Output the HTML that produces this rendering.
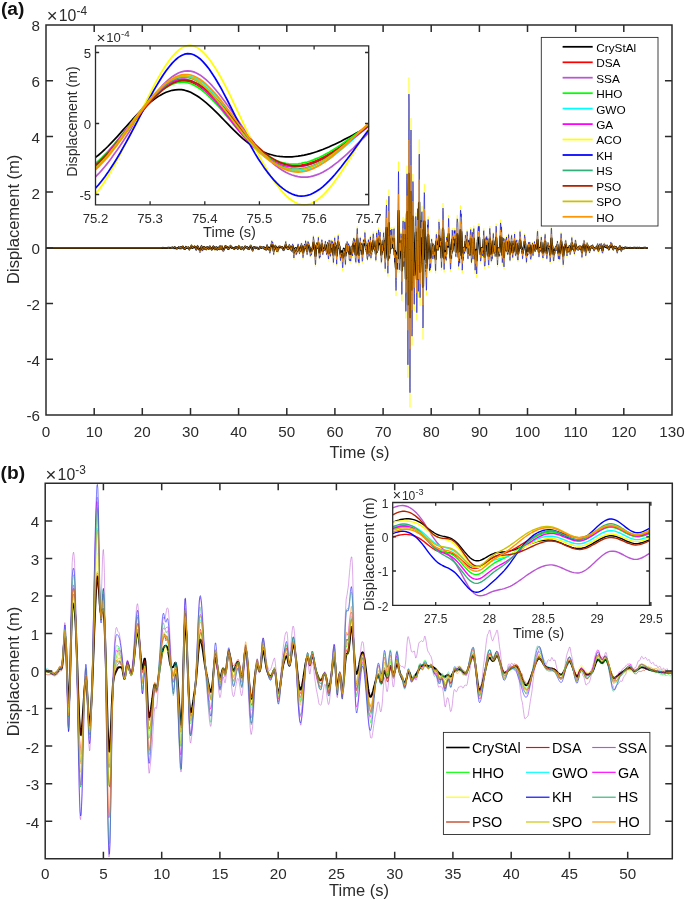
<!DOCTYPE html>
<html lang="en"><head><meta charset="utf-8"><title>Displacement responses</title>
<style>html,body{margin:0;padding:0;background:#fff}svg{display:block;will-change:transform}text{font-family:"Liberation Sans",sans-serif}</style></head>
<body>
<svg width="685" height="900" viewBox="0 0 685 900" font-family='"Liberation Sans", sans-serif'>
<rect width="685" height="900" fill="#fff"/>

<g id="pa-curves" fill="none" stroke-width="0.7" stroke-linejoin="round">
<path d="M46.0 247.9L161.6 247.9l.2 0 .2 0 .1 0 .2 0 .2-.1 .2 0 .2 0 .2 0 .2 0 .2 .1 .2 .1 .2 0 .2 0 .2-.1 .2 0 .2 0 .1 .1 .2 0 .2 0 .2-.1 .2 0 .2 0 .2 0 .2 0 .2 0 .2 .1 .2 0 .2 .1 .2-.1 .1 0 .2-.1 .2-.2 .2 0 .2 0 .2 .1 .2-.1 .2-.1 .2-.1 .2 .1 .2 .2 .2 .3 .2 .2 .2 .2 .1 0 .2-.1 .2-.1 .2-.1 .2-.2 .2-.3 .2-.1 .2 0 .2 0 .2-.1 .2-.2 .2-.1 .2-.2 .1-.1 .2 .3 .2 .3 .2 .4 .2 .4 .2 .1 .2 .1 .2 .1 .2-.4 .2-.4 .2-.7 .2-.5 .2 0 .2 .2 .1 .4 .2 .6 .2 .4 .2 .4 .2 0 .2 .2 .2 .1 .2 .3 .2 0 .2-.2 .2 0 .2-.2 .2-.1 .1-.3 .2-.3 .2-.2 .2-.5 .2-.5 .2-.3 .2-.1 .2 .2 .2 .1 .2 .5 .2 1 .2 .5 .2 0 .2-.7 .1-.3 .2-1 .2-.4 .2 .9 .2 1.5 .2-.1 .2-.8 .2 .1 .2-.5 .2-1.1 .2-.5 .2-.3 .2-.3 .1 .3 .2 .6 .2 .9 .2 .3 .2 .9 .2 .4 .2 .7 .2 .6 .2-.5 .2-.6 .2 .1 .2 .4 .2 .1 .2-.9 .1-.9 .2-1 .2-1 .2 .3 .2 1.4 .2 .6 .2-.5 .2 .2 .2 0 .2-.2 .2-.1 .2 .5 .2-.6 .2-.1 .1-.4 .2 .9 .2 .7 .2 .7 .2 .7 .2 1 .2-1 .2-.4 .2-.3 .2-.7 .2-.2 .2-.6 .2-.4 .1-1.3 .2-.8 .2-.4 .2-.5 .2 .1 .2 .4 .2 1.4 .2 1.8 .2 .1 .2 .1 .2-1.3 .2 .1 .2 .2 .2-.6 .1-.2 .2-.5 .2 .3 .2 .2 .2-.1 .2-.7 .2-.2 .2 .2 .2 .7 .2 .6 .2 .7 .2 .7 .2 1.6 .1 .8 .2 .4 .2-.2 .2-.8 .2-1.5 .2-1.3 .2-1.5 .2-.8 .2-.1 .2 .7 .2 .7 .2 .4 .2 .5 .2 1.9 .1 .5 .2 .3 .2 .3 .2 .3 .2 1.8 .2 .8 .2 0 .2 0 .2 0 .2-.6 .2-.9 .2-2.3 .2-1.9 .1-1.4 .2-.9 .2-.1 .2 1.4 .2 2.1 .2 1.5 .2 1.3 .2 .2 .2-1 .2-.9 .2-1.1 .2-.2 .2 0 .2-1.3 .1-.7 .2 0 .2 0 .2 1.3 .2 .9 .2 1.3 .2-.3 .2-.3 .2-1 .2-.3 .2 .1 .2 1 .2 1.7 .1-.4 .2-1.1 .2-1.7 .2-.9 .2-.1 .2 .3 .2 .5 .2 .5 .2 .4 .2 .4 .2 1 .2 .6 .2-.4 .2-.8 .1-1.4 .2-1.1 .2-.4 .2-.6 .2-.3 .2 .5 .2 1.3 .2 1.5 .2 0 .2 .3 .2 .6 .2 1.1 .2 .3 .1-.1 .2 .2 .2 .1 .2-.9 .2-.9 .2-.6 .2-1.1 .2-1.3 .2-.7 .2-.3 .2 .5 .2 .5 .2 0 .2 1.4 .1 1.5 .2 1.3 .2-.2 .2 .3 .2 .2 .2-.6 .2-1.3 .2-1.4 .2 0 .2 0 .2 .2 .2-.8 .2 .7 .1 1.6 .2 1.4 .2 .6 .2-.3 .2-1.1 .2-.7 .2-1 .2-.4 .2-.2 .2 .8 .2 1.4 .2 .5 .2 .3 .2-.9 .1-1.3 .2-.8 .2-2.1 .2-.2 .2 .7 .2 1.8 .2 1.2 .2 .8 .2-.6 .2-1.1 .2-.8 .2-1.2 .2-.6 .2 1.5 .1 2.4 .2 1.5 .2 1 .2 .1 .2 .2 .2 0 .2-.1 .2 .1 .2-.3 .2-.8 .2-1.5 .2-.2 .2-.5 .1-1.4 .2-1.5 .2-.5 .2-.4 .2 .4 .2 .6 .2-.2 .2-.2 .2 0 .2 .8 .2 .1 .2-.4 .2 .3 .2 1 .1 .9 .2 .6 .2 .8 .2 .4 .2-.6 .2-.3 .2 0 .2 .5 .2-.2 .2-1.6 .2-2.1 .2 .7 .2 .4 .1-.8 .2-.7 .2-.2 .2-.1 .2 0 .2 0 .2 .2 .2 .4 .2 1.9 .2 1.1 .2 0 .2 0 .2 0 .2-.4 .1-.3 .2 .3 .2 .2 .2 0 .2 .3 .2 .3 .2 .7 .2 0 .2 .1 .2 .1 .2-.5 .2-.2 .2-.8 .1-.6 .2-.9 .2-.7 .2 0 .2 .4 .2 .1 .2 0 .2-.2 .2 .1 .2 .4 .2 1.2 .2 .9 .2 .7 .2 .2 .1-.4 .2-1.1 .2-1.1 .2-1 .2-.8 .2-.6 .2 0 .2 .3 .2 .7 .2 .8 .2 .9 .2 0 .2-.5 .1-.2 .2 .8 .2 1.1 .2 1.2 .2 .3 .2-.1 .2-1.1 .2-1 .2-1 .2-.6 .2 .3 .2 1.1 .2 .4 .2-.6 .1-.1 .2 1.4 .2 1.3 .2 .5 .2-.5 .2-1.7 .2-1.3 .2 .2 .2 .3 .2-1.3 .2-1.2 .2 .1 .2 .1 .1 .2 .2 .8 .2 .3 .2 0 .2-.1 .2 .3 .2 .4 .2 .3 .2-.7 .2-.5 .2 .4 .2 1 .2 1.1 .2 .7 .1 .2 .2-.5 .2 .2 .2 .4 .2 .2 .2-.7 .2-1.1 .2-.8 .2-1.1 .2-.8 .2-.7 .2-.4 .2 .2 .2-.3 .1 0 .2 .4 .2 .7 .2 1.3 .2 2 .2 1.6 .2 .5 .2 .3 .2 .5 .2 .2 .2-.4 .2-1.1 .2-1.3 .1-1.4 .2-.8 .2-.4 .2-.2 .2 .4 .2-.2 .2 .1 .2-.2 .2 .1 .2 1 .2 .4 .2 .2 .2 .5 .2-.2 .1-.4 .2 .2 .2-.3 .2-.5 .2-.4 .2 .2 .2 .8 .2 .6 .2 .6 .2 0 .2 .3 .2 .3 .2 .1 .1-.2 .2-.4 .2 .1 .2 .2 .2-.6 .2-1.5 .2-1.6 .2-.4 .2 .4 .2 .2 .2 .1 .2 .1 .2 .2 .2 .4 .1 .6 .2 .5 .2 0 .2-1 .2 0 .2 .2 .2 0 .2 0 .2-.3 .2 0 .2 .2 .2 0 .2-.6 .1-.2 .2 .6 .2 1.5 .2 1.4 .2 .2 .2-.5 .2-.6 .2-.6 .2 .5 .2 .6 .2 .9 .2 .6 .2 0 .2-.2 .1-1.5 .2-2.5 .2-2.2 .2-.8 .2 .9 .2 1.2 .2 .6 .2 1.7 .2 1.1 .2 1.2 .2-.3 .2-.7 .2-1 .1-.6 .2 .9 .2 1.4 .2 1.8 .2 1.8 .2 0 .2-1.7 .2-3.5 .2-2.7 .2-.9 .2-.4 .2-1 .2-1.5 .2-1.5 .1-.4 .2 .1 .2 .6 .2 1.6 .2-.3 .2-.6 .2 1.2 .2 3.6 .2 3 .2 4.1 .2 1.8 .2-1.8 .2-3.9 .1-1.4 .2-.3 .2 1.2 .2-1.3 .2-3 .2-.1 .2 0 .2 .2 .2 .4 .2 .8 .2 1.9 .2 2.5 .2 1.8 .2-1.1 .1-2.2 .2-1.3 .2 1 .2 1.6 .2 2.1 .2 .3 .2-1.3 .2-.7 .2-1.1 .2-1.8 .2-1.8 .2-.5 .2 .3 .1-.2 .2 .2 .2 .1 .2 .3 .2-.6 .2 .4 .2 .7 .2-.2 .2 .3 .2 .3 .2 .2 .2-.4 .2 .1 .2-.6 .1-.2 .2 .2 .2 .3 .2 2.1 .2 1.7 .2 .5 .2-.4 .2 .5 .2-.2 .2-.1 .2 .4 .2-.9 .2-1.7 .2-1.5 .1-.8 .2-1.1 .2-1 .2-1.6 .2-1.4 .2-.5 .2 1.3 .2 1.9 .2 1.9 .2 0 .2 .4 .2 .1 .2 0 .1 1.7 .2 1.9 .2-.6 .2-.9 .2-.3 .2 .3 .2 1.1 .2-.2 .2-1.6 .2-2.3 .2-1.7 .2 1.3 .2 .8 .2-.6 .1-.1 .2 2.2 .2 1.8 .2 1.1 .2 .6 .2-1.3 .2-1.9 .2 2 .2 2.4 .2-2.2 .2-4.1 .2-.4 .2-.5 .1-.8 .2-.6 .2 .9 .2 2.8 .2 2.5 .2 5.5 .2 3.2 .2 1.3 .2-1.1 .2-3.3 .2-3.1 .2-2 .2 .4 .2 .3 .1-1 .2 0 .2-1.9 .2 2.4 .2 4.4 .2 1 .2-2.2 .2-.4 .2 1.1 .2-2.1 .2-3.1 .2 .5 .2 3.2 .1-2.7 .2-4.4 .2-2.2 .2 1.6 .2 .9 .2 1.9 .2 3 .2 1.9 .2 .7 .2 1.2 .2-1 .2-.8 .2-2.5 .2-.9 .1-.1 .2 2.4 .2 .8 .2-5 .2-4 .2-.9 .2 .2 .2 2.5 .2 .2 .2 1.9 .2 3.6 .2 3.5 .2 3.3 .1 1 .2 0 .2-1.4 .2-2.1 .2-1.3 .2-3.4 .2-4.2 .2-1.6 .2-1.1 .2 2.5 .2 2.3 .2-.5 .2-2.1 .2-4.7 .1-1.3 .2 1.3 .2 1.2 .2 2.1 .2 3.5 .2 3.1 .2 2.6 .2 1.7 .2 .2 .2-2 .2-4.8 .2-5.5 .2-2.6 .1 .6 .2 1.7 .2-.9 .2 .2 .2 .2 .2 2.1 .2 1.1 .2 .7 .2 .5 .2 4.8 .2 2.8 .2 2.5 .2-.2 .2-.1 .1-.6 .2-.4 .2-1.4 .2 1.2 .2-.8 .2-2 .2-1.4 .2-2.3 .2 1 .2 0 .2-5.5 .2-2.7 .2-4.7 .2-1.9 .1 1.4 .2 .9 .2 1.2 .2 .6 .2 3.9 .2 3.9 .2 4.2 .2 4.1 .2 6.2 .2 4.3 .2 .9 .2-2.5 .2-7.7 .1-5.1 .2-3.5 .2-2.4 .2-3.6 .2 1.9 .2 .8 .2 2.8 .2 .3 .2-3.8 .2 1.6 .2-1.5 .2-5.5 .2-2.3 .2 3.6 .1 6.2 .2 5.1 .2 5.2 .2 2.8 .2 .1 .2-2 .2-.6 .2 1.4 .2-1.5 .2-2.6 .2-2 .2-3.2 .2-3.2 .1-2.6 .2-1.6 .2-.9 .2-1.6 .2 .2 .2 1.6 .2 5 .2 7.2 .2 2.5 .2-1.4 .2-1.9 .2-.6 .2-1.2 .2 .7 .1 .4 .2-.9 .2 .4 .2-1.6 .2-2 .2-.4 .2-3.4 .2-2.8 .2 .1 .2 4.2 .2 3 .2 .9 .2 .6 .1 3.2 .2 2.7 .2-1.3 .2-2.9 .2-1.6 .2-4.7 .2-3.5 .2 4.1 .2 8.1 .2 4.4 .2 1.8 .2 .7 .2-3.9 .2-12 .1-5.7 .2 1.8 .2 3.8 .2 6.3 .2 4 .2 .1 .2 2.3 .2 .3 .2-1.7 .2-8.1 .2-8.2 .2 2.9 .2 5.4 .1-.2 .2-1.2 .2-4.7 .2 .5 .2-.7 .2-1.1 .2 7.2 .2 7.4 .2 6.8 .2 2.8 .2-2.7 .2-6.2 .2-3.7 .2-6.5 .1-2.3 .2-2.8 .2-3.9 .2 3.3 .2 5.2 .2 .5 .2-.8 .2-1.8 .2 0 .2 4.8 .2 7.1 .2 8 .2 3.3 .1-3.4 .2-7.3 .2-5.3 .2-1.9 .2-3.6 .2-4.6 .2-4.3 .2-1.6 .2 .9 .2 5.5 .2 5.9 .2 2.1 .2 0 .2-.9 .1-3.3 .2 2.7 .2 8.7 .2 2.3 .2 2.3 .2 2.1 .2-4.6 .2-1 .2-.5 .2-.5 .2 1.1 .2 .2 .2 0 .1-1.1 .2 4.9 .2 6.7 .2 3.2 .2 .1 .2-3.9 .2-6.3 .2-3.9 .2-5.7 .2-1.4 .2 3.8 .2 1.9 .2-.5 .2-1.2 .1 2.5 .2 3.9 .2 1.9 .2 4.3 .2 0 .2-7.3 .2-9.3 .2-6.7 .2 6.5 .2 4.8 .2-3.7 .2-5.2 .2-4.6 .2 1.1 .1 .7 .2 .7 .2 8.1 .2 1.5 .2-.4 .2-4.2 .2-5.1 .2 3 .2 8.1 .2 7.1 .2 .4 .2 .6 .2-.3 .1-1.3 .2-.5 .2 .3 .2 .6 .2 1.6 .2-2.3 .2-3 .2-6.7 .2-5.2 .2 .6 .2 4.6 .2 .9 .2 1.4 .2 2.4 .1 1.5 .2-8.4 .2-8.6 .2-.2 .2-.2 .2-1.6 .2-1.2 .2 1.4 .2 4.9 .2-.7 .2-2.9 .2-1.2 .2 1.7 .1 8.9 .2 9.4 .2 4.4 .2 .5 .2 .8 .2-3.9 .2-4.1 .2-11.2 .2-9.1 .2-4.4 .2-3.8 .2-1.1 .2 3.7 .2 10.1 .1 9.2 .2 6 .2 6.8 .2 .9 .2-2.3 .2 .7 .2 3.3 .2-1.7 .2-6.7 .2-5.1 .2-4 .2-5.6 .2-4.7 .1-.3 .2 3 .2 4 .2 6.4 .2 1 .2-3.3 .2-4.7 .2 2 .2 9 .2 7.4 .2 1.5 .2-.7 .2-1.4 .2-4.4 .1-6.8 .2-7 .2-4.1 .2 .4 .2 1.2 .2-.9 .2-.1 .2 .9 .2-3.4 .2-6.2 .2 0 .2 3.3 .2 4.2 .1 3.6 .2 4.7 .2 3.9 .2-5.7 .2 1.1 .2 5.6 .2 5.4 .2 1.2 .2 2.1 .2 0 .2 1.2 .2-4.2 .2-3.6 .2-3.9 .1-8.2 .2-2.5 .2 5.4 .2 9.7 .2 3.8 .2-.5 .2-3.3 .2-4.9 .2-3.1 .2-.7 .2-6.9 .2-2.8 .2 5.8 .1 11.9 .2 6.6 .2-1.2 .2-5.7 .2 .2 .2 2.6 .2-4.4 .2 .7 .2-5.7 .2-.9 .2-3.6 .2-5.6 .2-3.4 .2-1.1 .1 .7 .2 2.8 .2 5.2 .2 3.4 .2 5.5 .2 1.4 .2-1.2 .2-2.5 .2 2.6 .2 .6 .2 3.5 .2 2.4 .2 5.9 .2-1 .1-5.4 .2-11.4 .2-10.2 .2-2.9 .2 2.5 .2 5.1 .2 8.3 .2 6.4 .2-4.3 .2-7.1 .2-6.7 .2-3.7 .2-2.9 .1-1.2 .2 4.1 .2 2.9 .2 3.6 .2 1.5 .2-3.3 .2-3.3 .2-2.9 .2 .4 .2 5.5 .2 5.2 .2 8.9 .2 7.2 .2 5.7 .1 1.3 .2-.7 .2-2.8 .2-8.2 .2-8.9 .2 2 .2 7.2 .2 .2 .2-5.8 .2-2.6 .2-7.1 .2-6.8 .2-.1 .1 6.2 .2-.1 .2 1.6 .2 3.3 .2 7.4 .2 10.5 .2 8.2 .2 3.9 .2-6.4 .2-13.5 .2-19.8 .2-17 .2-9.9 .2-4.4 .1-1.1 .2 3.9 .2 10.8 .2 11.9 .2 16.5 .2 19.2 .2 11 .2 3.8 .2-6.4 .2-16.1 .2-25.9 .2-26.5 .2-12.3 .1 12.1 .2 26.4 .2 23 .2 9.1 .2-4.2 .2-11 .2-13.7 .2-3.3 .2 .2 .2 1.9 .2 .1 .2 12.4 .2 6.5 .2-9.6 .1-11 .2-1.2 .2 8.2 .2 2 .2-.5 .2 4.9 .2-.2 .2-2.6 .2 1.5 .2 7.3 .2-6.8 .2-14 .2-.3 .1 15 .2 12.7 .2 9.8 .2-3.7 .2-6 .2 3.3 .2 12.2 .2 15.2 .2 7.6 .2 3.4 .2-2.2 .2-9 .2-14.1 .2-12 .1 3.4 .2-1.4 .2 8.2 .2 3.4 .2-11.8 .2-21.9 .2-30.7 .2-31.5 .2-15 .2 16.7 .2 35.6 .2 36.6 .2 22.2 .1-5.6 .2-13.8 .2-8 .2-5.2 .2 3.2 .2 9.2 .2-2.1 .2-9.2 .2-9.3 .2 6.5 .2 22.5 .2 24.1 .2 16.2 .2-1.4 .1-18.1 .2-23.5 .2-17.6 .2-14.6 .2-5.4 .2-3.6 .2 15 .2 23.6 .2 13.9 .2-1.7 .2-12.2 .2-8.8 .2-2 .1-11.8 .2-14.3 .2 5.9 .2 20.9 .2 24.9 .2 28.4 .2 19.8 .2-1.3 .2-26.1 .2-43.3 .2-45.7 .2-30.1 .2-6.4 .2 21.7 .1 45.8 .2 61.3 .2 55.9 .2 27.5 .2-16.3 .2-60.4 .2-87.3 .2-84.9 .2-51.4 .2 11.1 .2 66.1 .2 95.7 .2 92.6 .2 59 .1 5.5 .2-49.6 .2-81.5 .2-83.9 .2-58.5 .2-15.8 .2 27.5 .2 56.5 .2 65.7 .2 52.8 .2 24.7 .2-8.2 .2-35.5 .1-50.4 .2-48.8 .2-28.5 .2 2.8 .2 27.5 .2 35.2 .2 35.2 .2 22.6 .2 13.5 .2 .4 .2-12 .2-17.3 .2-10.4 .2-1.7 .1-1.8 .2-18.9 .2-21.2 .2-15.2 .2 4.5 .2 19.3 .2 32.3 .2 34.8 .2 16.8 .2-10.4 .2-33.1 .2-40.9 .2-30.7 .1-2.1 .2 35.1 .2 41.4 .2 18 .2-21.7 .2-40.6 .2-51.8 .2-42.1 .2-2.2 .2 43.7 .2 62.5 .2 47.5 .2 12.9 .2-19.2 .1-15 .2-18.9 .2-25.7 .2-11.4 .2 5.2 .2 9.8 .2-8 .2-15.7 .2-.8 .2 12.3 .2 22 .2 32.2 .2 40 .1 26.8 .2-1.4 .2-29.3 .2-42.3 .2-35.3 .2-21.7 .2-17.6 .2-7.7 .2 2.3 .2 18.5 .2 14.2 .2 13.4 .2 17.9 .2 18.3 .1 6 .2-1.8 .2 7 .2 9 .2 6.5 .2-5.8 .2-16 .2-18.2 .2-14.7 .2-12.4 .2-6.2 .2 2.7 .2-3.7 .1-4.8 .2 2 .2 11.3 .2 12 .2 6.4 .2 5.7 .2 6.9 .2 12.4 .2-2.5 .2 1.7 .2-7 .2 .9 .2 4.3 .2-1.2 .1-1.8 .2-3.9 .2-10.7 .2-9.4 .2-5.5 .2 3.1 .2 5.3 .2-.3 .2 2.2 .2 5 .2 7 .2 0 .2-6.6 .1-7.2 .2-2.5 .2-.8 .2 6 .2 7.8 .2 1.1 .2 .7 .2-4.5 .2-.3 .2 5.9 .2 8.1 .2 5.2 .2 .1 .2-12.2 .1-17.4 .2-9.7 .2-1.5 .2 6.5 .2 9 .2 1.4 .2-5.5 .2-.4 .2 3.7 .2 3.5 .2 .4 .2-3.4 .2-2.5 .2-8.5 .1-10.1 .2-7.7 .2 1.5 .2 2.5 .2 2.7 .2 1.4 .2 2.8 .2 9.9 .2 4.4 .2-4.3 .2-2.9 .2 8.1 .2 8.2 .1 4.4 .2 12.8 .2-.5 .2-9.4 .2-8.5 .2-11 .2-7 .2-14.5 .2-14.1 .2-2.4 .2 2.9 .2 8.5 .2 16.7 .2 19.9 .1 16.3 .2 5.1 .2-3 .2-9.1 .2-5.2 .2 .2 .2 5 .2-2.1 .2-2.8 .2-.7 .2 2.4 .2 5 .2 0 .1-12.2 .2-14.1 .2 2.1 .2 5.8 .2-1.1 .2-4 .2 3.6 .2 2.5 .2 .3 .2-9.4 .2-13.2 .2-7.5 .2 4.7 .2 8.4 .1 5.5 .2 3.2 .2 2.1 .2 7.9 .2 7.2 .2 6.8 .2 7 .2 3.9 .2-1.8 .2-5.7 .2-3.9 .2-9 .2 2.4 .1 6.1 .2-8.7 .2-11.5 .2-11.2 .2 .9 .2 12.5 .2 10.4 .2-3.2 .2-12.9 .2-.1 .2 3.3 .2 1.3 .2-7.5 .2-4.6 .1 2 .2-.9 .2 2.1 .2-3.4 .2 0 .2 8.6 .2 12.9 .2 7.4 .2 .7 .2-4.3 .2-12.3 .2-8.6 .2-3.7 .1-8.6 .2-3.9 .2-1.5 .2 .5 .2 3.2 .2 1.1 .2 8.2 .2 12.8 .2 17.3 .2 10.8 .2-4.2 .2-8.2 .2 5 .2-6.4 .1 3.5 .2 6.7 .2-11.8 .2-24.7 .2-16.4 .2-6.9 .2 2.5 .2 4.9 .2-3.1 .2-.2 .2 5.4 .2 9.3 .2 13.6 .1 20.7 .2 14.8 .2-2.1 .2-12.4 .2-1.6 .2 4.8 .2 .5 .2-13.5 .2-1.4 .2 .4 .2 2.5 .2-2.9 .2 0 .2 6.6 .1-2.8 .2-4.1 .2-5 .2-8.3 .2-.6 .2 3.6 .2 1.4 .2 2.6 .2 .4 .2 .9 .2 4.5 .2-10.5 .2-6.7 .1 1 .2 2.8 .2 16.9 .2 7.1 .2 2.7 .2-15.4 .2-5.5 .2 4.7 .2 4.6 .2-4 .2-.4 .2 .5 .2 10.1 .2 2.2 .1-11.2 .2-7.1 .2-7 .2-1.9 .2-2.5 .2 5.4 .2 14.5 .2 15.7 .2 1.6 .2-5.2 .2-8.9 .2-19.4 .2-.7 .2 8.9 .1 8.6 .2 7.7 .2 5.5 .2-10 .2-12.2 .2-8.2 .2-4.9 .2 3.4 .2 11.5 .2 12.1 .2 8 .2 3.7 .2 5.7 .1 3.8 .2-4.2 .2-8.3 .2-2.3 .2-4.8 .2-2.1 .2 15.4 .2 6.9 .2 3.6 .2-5.7 .2-11.8 .2-10.5 .2-13.3 .2-2.9 .1-4.3 .2-3.2 .2-1.6 .2-1.2 .2 .8 .2 4.7 .2-4.6 .2-.7 .2 6.8 .2 10.9 .2 8.4 .2 3.6 .2 .3 .1 2.2 .2 6.7 .2-.1 .2-1.2 .2-1.6 .2-4.8 .2-1.9 .2-5.1 .2-.2 .2 6.2 .2 3.1 .2-8.8 .2 .3 .2 3.3 .1-2.7 .2-5.9 .2-5.8 .2-8.5 .2-.6 .2 5.6 .2 22.7 .2 11 .2 1.1 .2-.8 .2 .3 .2-3.2 .2-2.9 .1-8.5 .2-11.3 .2-6.1 .2 7 .2-.3 .2-1.9 .2-6.1 .2 4.2 .2-.3 .2-1.5 .2 2.5 .2 14.9 .2 2.6 .2 .2 .1 3.2 .2 4.2 .2 2.6 .2-.5 .2-5.6 .2-11.5 .2-15.7 .2-6 .2-2.3 .2 3.9 .2 1.2 .2 3.1 .2 6.6 .1 9.7 .2 8.7 .2 3 .2 .6 .2-.3 .2-1.3 .2-3.7 .2 1.2 .2 1.2 .2-6.6 .2-6.3 .2-6.9 .2-6.1 .2-2 .1 .8 .2 7.4 .2 8.6 .2 1 .2 5 .2-4.8 .2-6.3 .2 3.2 .2 9.5 .2 1.2 .2-4.5 .2-9.5 .2-6.9 .1-7.6 .2-5.4 .2 1.7 .2 6.8 .2 10.9 .2 4.8 .2 11 .2 5.8 .2 2.6 .2-2.8 .2-6.5 .2-3.6 .2-4.7 .2-1 .1 3.1 .2 1.6 .2 .5 .2-4.7 .2 3 .2 5.3 .2-7.2 .2-8.3 .2-9.6 .2-10.7 .2-2 .2 3.9 .2 6.3 .2 .4 .1-5.7 .2-.4 .2 6.1 .2 11.9 .2 12.1 .2 10.4 .2-6.1 .2-8.4 .2-4 .2-5.4 .2-3.9 .2 .6 .2 10.3 .1 15.5 .2 6.2 .2-10.1 .2-5.1 .2-6.3 .2-9.7 .2-.5 .2 1.2 .2 1.1 .2 1.6 .2 4.6 .2 4.6 .2 1.1 .2-8.5 .1-7.8 .2 2.7 .2 6.8 .2 5.3 .2 3.7 .2-.7 .2 2.1 .2-1.2 .2-8.3 .2-5.8 .2-7.1 .2 0 .2 9.7 .1 7.1 .2 1.1 .2-.2 .2 5.2 .2 5.2 .2 .7 .2-1.8 .2-11.4 .2-4.7 .2-.8 .2-1.3 .2-4.7 .2-1.5 .2-1.9 .1 2.5 .2 1.6 .2 5.6 .2 9 .2 3 .2 3.2 .2-2.3 .2-4.6 .2-7.9 .2 .3 .2 1.3 .2-2.1 .2-4.4 .1-.7 .2-2.5 .2-3.5 .2 4.8 .2 10.3 .2 5.7 .2 3.1 .2 .5 .2-1 .2-3.1 .2-6.3 .2-4.3 .2-1.9 .2-1.2 .1 3.9 .2 7.8 .2 6.4 .2 3.4 .2 1.2 .2 .2 .2-.2 .2-3.7 .2-2.8 .2-.8 .2-.8 .2-5.1 .2-6.2 .1-1.1 .2-4.1 .2-6.1 .2-1.2 .2 1.7 .2 1.8 .2 3.2 .2 5.3 .2 5 .2 1.9 .2 .4 .2-.5 .2 1.7 .2 1.9 .1-.9 .2 3.3 .2 5.5 .2-1.2 .2-3.6 .2-1.2 .2-1.9 .2-5 .2-2.3 .2-1.5 .2-.8 .2-3.1 .2-5.3 .1-.8 .2 1.7 .2 .6 .2 2 .2 4.9 .2 4.4 .2 3.8 .2 5.3 .2 2.9 .2 4.8 .2-1.3 .2-5.1 .2-.8 .2-.2 .1-1 .2 1 .2-1.8 .2 .9 .2-6 .2-4.1 .2-3.6 .2 3.3 .2 1.3 .2 .1 .2-1.6 .2-2.3 .2-1 .1 .4 .2 4.8 .2 6.6 .2 5.9 .2 1 .2 .3 .2-2.1 .2 0 .2-1 .2-.1 .2-3 .2-2.7 .2-3.8 .2-5.5 .1 .9 .2 7.3 .2 5.2 .2 .7 .2-3.8 .2 .5 .2-.7 .2-4.4 .2-3.1 .2-2.1 .2-1.9 .2 2.8 .2 5.7 .2 .7 .1 2.1 .2-1.2 .2-.7 .2-1 .2 .2 .2-.7 .2-3.2 .2-3.9 .2-.9 .2-4.3 .2-3.7 .2-3 .2-.6 .1 1.7 .2 6.3 .2 5.5 .2 5.8 .2 4.9 .2 3 .2 1.6 .2-.5 .2-1.5 .2-2.5 .2-5.2 .2 1.8 .2 .5 .2-.9 .1-1.3 .2 3.4 .2-3.9 .2-8.8 .2-3.6 .2 .2 .2 4.5 .2 6.1 .2 2.9 .2 4.6 .2 2.7 .2 2.2 .2 .1 .1 .7 .2-.1 .2-2 .2-.3 .2-.6 .2-2.3 .2-5.9 .2-6 .2-4.4 .2-2.6 .2-.9 .2-1.6 .2 1.1 .2 3.8 .1 9.4 .2 5 .2 2.6 .2 0 .2 1.1 .2 1.5 .2 2.7 .2-1 .2-2.4 .2-5.2 .2-2.4 .2-4.4 .2-2.8 .1 .7 .2 1.2 .2 .1 .2 2 .2 2.3 .2-1.5 .2 0 .2 1.3 .2 3.5 .2 7.7 .2 4.3 .2-1 .2-2.3 .2-2.9 .1-9.7 .2-14.3 .2-6.1 .2-1 .2 2.2 .2 6.4 .2 6.2 .2 2.6 .2 1.3 .2 3.7 .2 3.4 .2 1.6 .2 4.1 .1 3.6 .2 .9 .2 .2 .2-2.1 .2-2.3 .2-.6 .2-2.1 .2-2.1 .2 1 .2-1.5 .2-3.1 .2-.5 .2-.7 .2-2.7 .1 4.2 .2 1.3 .2-2.1 .2-1.3 .2-1.1 .2-.4 .2 .3 .2-6.1 .2 1.9 .2 6.1 .2 5.4 .2 4.4 .2 2.1 .1-.2 .2-3 .2-1 .2-.6 .2 2.5 .2 1.3 .2 1.2 .2-2.3 .2-5.2 .2-5.9 .2-4.4 .2-5.6 .2-2.9 .2-2 .1 .6 .2 2.8 .2 3.6 .2 3.6 .2 .1 .2 2.3 .2 7.6 .2 5.3 .2 4.1 .2 3 .2 1.4 .2-1 .2-3.2 .2-6.8 .1-4.6 .2-2.7 .2-1.5 .2-1.3 .2-1.8 .2 .2 .2-.8 .2-2.4 .2-.7 .2-.7 .2 .5 .2 1.8 .2 5.5 .1 4.5 .2 1.1 .2 2.9 .2 1.6 .2-3.2 .2-1.7 .2 0 .2-2.1 .2-2 .2 .2 .2 4.6 .2-1.3 .2-1.7 .2-1.5 .1-1.6 .2-2.3 .2 1 .2 3.9 .2 4.2 .2 1.8 .2-1.3 .2-1.3 .2 .1 .2-1.8 .2-3 .2-3.4 .2-5 .1-2.3 .2-1.1 .2 .9 .2 4.6 .2 .8 .2-.5 .2 3.2 .2 4.2 .2 .7 .2-1.3 .2-.8 .2-2.2 .2 .9 .2 4 .1 3.7 .2 .4 .2-4 .2-5.1 .2-4.1 .2-2.7 .2 .1 .2 .6 .2 1.4 .2 3.3 .2 2.5 .2 .3 .2-.8 .1 0 .2 1.3 .2 1.8 .2 .9 .2-.3 .2-2 .2-.4 .2 2.4 .2 .6 .2-2.1 .2-2.4 .2-.6 .2 .5 .2 .9 .1-1.2 .2-.4 .2 .3 .2 3.7 .2-.6 .2-2 .2-1.4 .2 .6 .2 1.9 .2 2.9 .2 1.4 .2 3.3 .2 2.8 .1 .1 .2-2 .2-1.8 .2-3.7 .2-3.6 .2-2.4 .2-2 .2-.5 .2-.2 .2-1.3 .2-1.4 .2 .4 .2 .9 .2 .8 .1 1.4 .2 3.2 .2 2.9 .2 2.5 .2 3.4 .2 1.7 .2-.6 .2-.5 .2-1.4 .2-2.8 .2-4.7 .2-3.2 .2-1.6 .1 .6 .2 1.2 .2 1.3 .2-.3 .2-.4 .2 0 .2 1.1 .2-.2 .2 1.2 .2 3.6 .2 2.7 .2 0 .2 .7 .2-1.2 .1-.8 .2-1.3 .2-2.8 .2-1.1 .2 1.3 .2-1 .2-1.4 .2-.2 .2 .2 .2 .5 .2 1.5 .2 .2 .2-1.3 .1-1.2 .2-.6 .2 1.2 .2 2.5 .2 .6 .2-1 .2 .8 .2 1.3 .2 1.8 .2 0 .2-2.2 .2-1.4 .2 .1 .2 .3 .1 .5 .2-.6 .2-.8 .2-.2 .2 1.4 .2 .6 .2-.5 .2-1.1 .2-1.3 .2 .2 .2-.5 .2-1.9 .2-1.1 .2 0 .1 2.4 .2 4.1 .2 2.7 .2 .4 .2-.5 .2-.3 .2-2.3 .2-3.1 .2-3 .2 .4 .2 2.7 .2 1.5 .2-.3 .1-1.9 .2-.7 .2-1.3 .2-.6 .2-.4 .2 .1 .2 .8 .2 1.6 .2 3.3 .2 4 .2 .9 .2 .3 .2 .1 .2-2.1 .1-4 .2-2.7 .2-1 .2 .4 .2 .4 .2-1.8 .2-.3 .2 .4 .2 1 .2 .5 .2 .6 .2-.1 .2-.8 .1 1.4 .2 .4 .2 .1 .2-.1 .2 0 .2 .6 .2-.3 .2-1.7 .2-.5 .2 .4 .2 1.1 .2 1.4 .2-.4 .2-.2 .1 1.3 .2 .2 .2 1.8 .2 .8 .2-.6 .2-1 .2-1.6 .2-1.2 .2-1.1 .2-.3 .2 .2 .2 .4 .2-1.6 .1-2.1 .2-.3 .2 1 .2 1.3 .2 .5 .2-.7 .2-.8 .2 1 .2 2.5 .2 1.2 .2 1.3 .2 .5 .2 1 .2 .5 .1-1.8 .2-.7 .2-.4 .2-1.5 .2-.9 .2 1.1 .2 .1 .2-.2 .2 .6 .2-.6 .2 1.3 .2-.3 .2-1.5 .1-.2 .2 .9 .2 2.1 .2 .2 .2 2.2 .2 1.7 .2 1 .2-.2 .2-1.1 .2-1.3 .2-1.5 .2-1 .2-.1 .2-.1 .1-1.1 .2-.1 .2 .8 .2 1.6 .2-1.3 .2-2.2 .2-1.4 .2 .2 .2 .4 .2 1.4 .2 1.6 .2 1.5 .2 1.6 .1 .4 .2 .4 .2-.5 .2-1.4 .2-1.8 .2-1 .2-.2 .2 .1 .2 .6 .2-.1 .2 .1 .2 .6 .2 .4 .2-.1 .1 .2 .2-.5 .2-.5 .2 .1 .2-.3 .2-.7 .2-.5 .2 .1 .2 .3 .2 0 .2 0 .2 .1 .2 .3 .2 0 .1 .1 .2 .3 .2 .1 .2-.2 .2-.1 .2 0 .2-.2 .2 0 .2 .2 .2 .2 .2 .1 .2 0 .2 .1 .1 0 .2 0 .2-.1 .2-.2 .2-.2 .2-.1 .2 0 .2 .1 .2 .2 .2 0 .2 0 .2 .1 .2-.1 .2 0 .1 0 .2 0 .2 0 .2 0 .2 .2 .2 0 .2-.1 .2-.1 .2-.1 .2-.1 .2-.1 .2-.1 .2 0 .1 .1 .2 0 .2 .1 .2 0 .2-.1 .2 .1 .2 0 .2 .1 .2 0 .2 .1 .2 0 .2 0 .2-.1 .2 0 .1-.1 .2 0 .2 0 .2 0 .2 0 .2 .1 .2 0 .2 .1 .2 0 .2-.1 .2-.1 .2 0 .2-.1 .1 0 .2 0 .2 .1 .2 .1 .2 0 .2 0 .2 0 .2 0 .2 0 .2 0 .2 0 .2 0 .2 0 .2 0 .1 0 .2 0 .2 0 .2 0 .2 0 .2 0 .2 0 .2 0 .2-.1 .2 0 .2 0 .2 0 .2 0 .1 0 .2 0 .2 0 .2 0 .2 0 .2 0 .2 0 .2 .1 .2 0 .2 0 .2 0 .2 0 .2 0 .2 0 .1 0 .2 0 .2 0 .2 0" stroke="#ffff00" stroke-width="0.55"/>
<path d="M46.0 247.9L161.6 247.9l.2 0 .2 0 .1 0 .2 0 .2-.1 .2 0 .2 0 .2 0 .2 0 .2 .1 .2 0 .2 .1 .2-.1 .2 0 .2 0 .2 0 .1 .1 .2 0 .2 0 .2-.1 .2 0 .2 0 .2 0 .2 0 .2 0 .2 .1 .2 0 .2 .1 .2-.1 .1 0 .2-.1 .2-.1 .2-.1 .2 .1 .2 0 .2-.1 .2-.1 .2 0 .2 0 .2 .2 .2 .2 .2 .2 .2 .2 .1 .1 .2-.1 .2-.1 .2-.1 .2-.2 .2-.3 .2-.1 .2 0 .2 0 .2-.1 .2-.1 .2-.2 .2-.1 .1-.1 .2 .3 .2 .2 .2 .4 .2 .3 .2 .1 .2 .1 .2 .1 .2-.3 .2-.4 .2-.6 .2-.4 .2 0 .2 .2 .1 .3 .2 .5 .2 .4 .2 .3 .2 0 .2 .2 .2 .1 .2 .2 .2 0 .2-.1 .2 0 .2-.2 .2-.1 .1-.2 .2-.3 .2-.2 .2-.5 .2-.4 .2-.2 .2-.1 .2 .1 .2 .1 .2 .5 .2 .9 .2 .4 .2 0 .2-.6 .1-.3 .2-.9 .2-.4 .2 .8 .2 1.4 .2-.1 .2-.7 .2 0 .2-.4 .2-.9 .2-.5 .2-.3 .2-.2 .1 .3 .2 .5 .2 .8 .2 .2 .2 .8 .2 .4 .2 .7 .2 .5 .2-.5 .2-.5 .2 .1 .2 .3 .2 .1 .2-.8 .1-.8 .2-.9 .2-.8 .2 .2 .2 1.3 .2 .5 .2-.5 .2 .2 .2 0 .2-.1 .2-.1 .2 .4 .2-.5 .2-.2 .1-.3 .2 .8 .2 .6 .2 .7 .2 .6 .2 .9 .2-.9 .2-.3 .2-.3 .2-.6 .2-.2 .2-.6 .2-.3 .1-1.2 .2-.7 .2-.3 .2-.5 .2 .1 .2 .4 .2 1.2 .2 1.6 .2 .1 .2 0 .2-1.1 .2 .1 .2 .2 .2-.5 .1-.2 .2-.5 .2 .3 .2 .2 .2-.1 .2-.7 .2-.2 .2 .2 .2 .7 .2 .5 .2 .6 .2 .6 .2 1.5 .1 .6 .2 .4 .2-.1 .2-.7 .2-1.4 .2-1.1 .2-1.4 .2-.6 .2-.1 .2 .6 .2 .6 .2 .3 .2 .5 .2 1.7 .1 .5 .2 .2 .2 .3 .2 .3 .2 1.5 .2 .8 .2 0 .2 0 .2 0 .2-.5 .2-.8 .2-2.1 .2-1.7 .1-1.3 .2-.8 .2-.1 .2 1.3 .2 1.9 .2 1.3 .2 1.1 .2 .3 .2-.9 .2-.9 .2-1 .2-.1 .2 0 .2-1.2 .1-.6 .2 0 .2 0 .2 1.1 .2 .8 .2 1.2 .2-.3 .2-.2 .2-.9 .2-.3 .2 .1 .2 .9 .2 1.5 .1-.3 .2-1 .2-1.5 .2-.9 .2 0 .2 .2 .2 .5 .2 .4 .2 .4 .2 .4 .2 .9 .2 .5 .2-.3 .2-.8 .1-1.3 .2-1 .2-.3 .2-.5 .2-.2 .2 .4 .2 1.1 .2 1.3 .2 .1 .2 .2 .2 .5 .2 1 .2 .3 .1-.2 .2 .3 .2 .1 .2-.9 .2-.7 .2-.6 .2-.9 .2-1.2 .2-.6 .2-.3 .2 .5 .2 .4 .2 0 .2 1.2 .1 1.4 .2 1.1 .2-.2 .2 .3 .2 .1 .2-.4 .2-1.2 .2-1.2 .2 0 .2 0 .2 .2 .2-.8 .2 .6 .1 1.4 .2 1.3 .2 .5 .2-.3 .2-.9 .2-.6 .2-.9 .2-.3 .2-.3 .2 .7 .2 1.3 .2 .5 .2 .2 .2-.7 .1-1.2 .2-.8 .2-1.8 .2-.2 .2 .7 .2 1.6 .2 1 .2 .7 .2-.5 .2-1 .2-.7 .2-1.1 .2-.5 .2 1.3 .1 2.2 .2 1.3 .2 .9 .2 .1 .2 .2 .2 0 .2-.1 .2 .1 .2-.3 .2-.7 .2-1.3 .2-.2 .2-.5 .1-1.2 .2-1.4 .2-.4 .2-.4 .2 .4 .2 .5 .2-.1 .2-.2 .2 0 .2 .7 .2 .1 .2-.4 .2 .3 .2 .8 .1 .9 .2 .5 .2 .7 .2 .4 .2-.5 .2-.3 .2 0 .2 .4 .2-.2 .2-1.4 .2-1.9 .2 .6 .2 .4 .1-.7 .2-.6 .2-.2 .2-.1 .2 0 .2 0 .2 .2 .2 .4 .2 1.6 .2 1 .2 0 .2 0 .2 .1 .2-.5 .1-.2 .2 .3 .2 .1 .2 .1 .2 .2 .2 .2 .2 .7 .2 0 .2 .1 .2 .1 .2-.4 .2-.2 .2-.7 .1-.6 .2-.8 .2-.6 .2 0 .2 .4 .2 .1 .2 0 .2-.3 .2 .2 .2 .3 .2 1.1 .2 .8 .2 .6 .2 .2 .1-.4 .2-.9 .2-1.1 .2-.9 .2-.7 .2-.5 .2 .1 .2 .2 .2 .6 .2 .7 .2 .8 .2 0 .2-.4 .1-.2 .2 .8 .2 .9 .2 1 .2 .3 .2 0 .2-1 .2-1 .2-.8 .2-.5 .2 .2 .2 1 .2 .4 .2-.6 .1-.1 .2 1.3 .2 1.2 .2 .4 .2-.4 .2-1.6 .2-1.2 .2 .2 .2 .3 .2-1.2 .2-1.1 .2 .1 .2 .1 .1 .1 .2 .8 .2 .3 .2 0 .2-.1 .2 .3 .2 .3 .2 .3 .2-.6 .2-.5 .2 .4 .2 .9 .2 1 .2 .6 .1 .2 .2-.5 .2 .2 .2 .4 .2 .1 .2-.6 .2-1 .2-.6 .2-1 .2-.8 .2-.6 .2-.4 .2 .2 .2-.3 .1 0 .2 .4 .2 .6 .2 1.2 .2 1.8 .2 1.5 .2 .4 .2 .3 .2 .4 .2 .2 .2-.3 .2-1.1 .2-1.1 .1-1.3 .2-.7 .2-.4 .2-.1 .2 .3 .2-.2 .2 .1 .2-.1 .2 .1 .2 .8 .2 .4 .2 .2 .2 .4 .2-.2 .1-.3 .2 .2 .2-.3 .2-.4 .2-.4 .2 .2 .2 .7 .2 .5 .2 .5 .2 .1 .2 .2 .2 .3 .2 .1 .1-.3 .2-.3 .2 .1 .2 .1 .2-.4 .2-1.3 .2-1.5 .2-.3 .2 .3 .2 .2 .2 .1 .2 .1 .2 .1 .2 .4 .1 .5 .2 .5 .2-.1 .2-.8 .2 0 .2 .1 .2 .1 .2-.1 .2-.2 .2 0 .2 .2 .2-.1 .2-.5 .1-.2 .2 .6 .2 1.3 .2 1.2 .2 .2 .2-.4 .2-.5 .2-.6 .2 .5 .2 .5 .2 .8 .2 .5 .2 0 .2-.2 .1-1.2 .2-2.3 .2-1.9 .2-.7 .2 .8 .2 1.1 .2 .5 .2 1.5 .2 1 .2 1 .2-.2 .2-.7 .2-.9 .1-.5 .2 .8 .2 1.3 .2 1.5 .2 1.6 .2 .1 .2-1.5 .2-3.1 .2-2.5 .2-.9 .2-.3 .2-.9 .2-1.3 .2-1.4 .1-.4 .2 .1 .2 .6 .2 1.4 .2-.3 .2-.5 .2 1.1 .2 3.3 .2 2.7 .2 3.7 .2 1.6 .2-1.7 .2-3.5 .1-1.2 .2-.3 .2 1.1 .2-1.2 .2-2.7 .2-.1 .2 .1 .2 .1 .2 .4 .2 .7 .2 1.7 .2 2.2 .2 1.6 .2-1 .1-2 .2-1.1 .2 .9 .2 1.4 .2 1.9 .2 .2 .2-1.1 .2-.6 .2-.9 .2-1.7 .2-1.6 .2-.4 .2 .2 .1-.2 .2 .2 .2 .1 .2 .3 .2-.6 .2 .4 .2 .6 .2-.2 .2 .3 .2 .3 .2 .2 .2-.4 .2 .1 .2-.5 .1-.3 .2 .2 .2 .3 .2 1.9 .2 1.5 .2 .5 .2-.4 .2 .4 .2-.1 .2-.1 .2 .3 .2-.8 .2-1.5 .2-1.3 .1-.7 .2-.9 .2-.9 .2-1.4 .2-1.3 .2-.5 .2 1.1 .2 1.7 .2 1.8 .2-.1 .2 .4 .2 .1 .2 0 .1 1.5 .2 1.8 .2-.6 .2-.8 .2-.3 .2 .2 .2 1.1 .2-.2 .2-1.4 .2-2.1 .2-1.6 .2 1.2 .2 .7 .2-.6 .1 0 .2 1.9 .2 1.6 .2 1 .2 .6 .2-1.2 .2-1.7 .2 1.8 .2 2.2 .2-2 .2-3.6 .2-.4 .2-.4 .1-.8 .2-.5 .2 .8 .2 2.5 .2 2.2 .2 4.7 .2 2.8 .2 1.1 .2-.9 .2-2.9 .2-2.7 .2-1.7 .2 .4 .2 .2 .1-.8 .2 0 .2-1.7 .2 2.1 .2 3.9 .2 .9 .2-2 .2-.3 .2 1 .2-1.9 .2-2.7 .2 .4 .2 2.8 .1-2.4 .2-3.8 .2-2 .2 1.4 .2 .8 .2 1.7 .2 2.6 .2 1.7 .2 .6 .2 1.1 .2-.9 .2-.7 .2-2.2 .2-.8 .1-.1 .2 2.1 .2 .7 .2-4.4 .2-3.5 .2-.8 .2 .2 .2 2.2 .2 .1 .2 1.7 .2 3.3 .2 3.1 .2 2.9 .1 .9 .2 .1 .2-1.3 .2-1.8 .2-1.2 .2-3.1 .2-3.8 .2-1.3 .2-1.1 .2 2.3 .2 2 .2-.4 .2-1.9 .2-4.1 .1-1.2 .2 1.2 .2 1.1 .2 1.9 .2 3 .2 2.7 .2 2.3 .2 1.5 .2 .2 .2-1.8 .2-4.2 .2-4.9 .2-2.3 .1 .5 .2 1.5 .2-.8 .2 .2 .2 .2 .2 1.8 .2 1 .2 .6 .2 .5 .2 4.3 .2 2.6 .2 2.3 .2-.3 .2 0 .1-.6 .2-.4 .2-1.2 .2 1 .2-.6 .2-1.9 .2-1.3 .2-2 .2 .8 .2 .1 .2-5 .2-2.3 .2-4.1 .2-1.7 .1 1.2 .2 .8 .2 1 .2 .6 .2 3.5 .2 3.4 .2 3.7 .2 3.7 .2 5.4 .2 3.9 .2 .8 .2-2.2 .2-6.9 .1-4.5 .2-3.1 .2-2.2 .2-3.2 .2 1.7 .2 .8 .2 2.4 .2 .3 .2-3.4 .2 1.5 .2-1.4 .2-5 .2-2.1 .2 3.3 .1 5.6 .2 4.6 .2 4.7 .2 2.6 .2 .1 .2-1.8 .2-.6 .2 1.3 .2-1.4 .2-2.4 .2-1.8 .2-2.9 .2-2.9 .1-2.3 .2-1.5 .2-.8 .2-1.4 .2 .1 .2 1.5 .2 4.5 .2 6.5 .2 2.3 .2-1.3 .2-1.7 .2-.5 .2-1.1 .2 .6 .1 .4 .2-.8 .2 .4 .2-1.5 .2-1.9 .2-.4 .2-3.1 .2-2.5 .2 0 .2 3.9 .2 2.8 .2 .8 .2 .6 .1 2.9 .2 2.4 .2-1.3 .2-2.5 .2-1.5 .2-4.1 .2-3.2 .2 3.7 .2 7.1 .2 3.9 .2 1.6 .2 .6 .2-3.4 .2-10.6 .1-5 .2 1.6 .2 3.3 .2 5.5 .2 3.5 .2 .2 .2 1.9 .2 .3 .2-1.5 .2-7.1 .2-7.1 .2 2.5 .2 4.7 .1-.1 .2-1.1 .2-4.2 .2 .5 .2-.6 .2-.9 .2 6.2 .2 6.6 .2 5.9 .2 2.4 .2-2.3 .2-5.5 .2-3.2 .2-5.8 .1-1.9 .2-2.5 .2-3.5 .2 2.9 .2 4.6 .2 .4 .2-.6 .2-1.6 .2 0 .2 4.2 .2 6.4 .2 7.1 .2 3 .1-3 .2-6.6 .2-4.7 .2-1.7 .2-3.2 .2-4.1 .2-3.9 .2-1.3 .2 .8 .2 4.9 .2 5.2 .2 1.8 .2 0 .2-.7 .1-3 .2 2.4 .2 7.6 .2 2 .2 2 .2 1.9 .2-4.1 .2-.9 .2-.5 .2-.4 .2 .9 .2 .2 .2 0 .1-.9 .2 4.2 .2 5.7 .2 2.8 .2 .2 .2-3.4 .2-5.4 .2-3.3 .2-5 .2-1.2 .2 3.3 .2 1.7 .2-.4 .2-1.1 .1 2.3 .2 3.5 .2 1.7 .2 3.9 .2 0 .2-6.6 .2-8.3 .2-6 .2 5.8 .2 4.3 .2-3.3 .2-4.6 .2-4.2 .2 1 .1 .7 .2 .6 .2 7.3 .2 1.3 .2-.4 .2-3.7 .2-4.6 .2 2.7 .2 7.2 .2 6.3 .2 .4 .2 .5 .2-.3 .1-1.2 .2-.4 .2 .2 .2 .6 .2 1.4 .2-2 .2-2.7 .2-5.9 .2-4.7 .2 .6 .2 4.1 .2 .8 .2 1.3 .2 2.1 .1 1.3 .2-7.4 .2-7.7 .2-.2 .2-.2 .2-1.4 .2-1 .2 1.2 .2 4.3 .2-.6 .2-2.5 .2-1.1 .2 1.5 .1 7.9 .2 8.3 .2 4 .2 .4 .2 .8 .2-3.5 .2-3.6 .2-10.1 .2-8.2 .2-4 .2-3.5 .2-1 .2 3.4 .2 9.2 .1 8.3 .2 5.4 .2 6.1 .2 .8 .2-2.1 .2 .6 .2 3 .2-1.6 .2-6 .2-4.5 .2-3.6 .2-5.1 .2-4.2 .1-.3 .2 2.7 .2 3.6 .2 5.8 .2 .9 .2-3 .2-4.2 .2 1.8 .2 8.1 .2 6.6 .2 1.2 .2-.6 .2-1.3 .2-4 .1-5.9 .2-6.2 .2-3.6 .2 .4 .2 1.1 .2-.8 .2-.1 .2 .8 .2-3 .2-5.5 .2 0 .2 2.9 .2 3.7 .1 3.2 .2 4.1 .2 3.4 .2-5 .2 1 .2 4.9 .2 4.8 .2 1 .2 1.9 .2 0 .2 1.1 .2-3.8 .2-3.1 .2-3.5 .1-7.3 .2-2.2 .2 4.8 .2 8.6 .2 3.3 .2-.4 .2-2.9 .2-4.3 .2-2.8 .2-.6 .2-6 .2-2.5 .2 5.1 .1 10.4 .2 5.8 .2-1 .2-5 .2 .1 .2 2.4 .2-4 .2 .7 .2-5 .2-.8 .2-3.1 .2-4.9 .2-2.9 .2-.9 .1 .5 .2 2.4 .2 4.6 .2 2.9 .2 4.8 .2 1.3 .2-1.1 .2-2.2 .2 2.3 .2 .5 .2 3.1 .2 2.2 .2 5.2 .2-.8 .1-4.8 .2-10.2 .2-9.1 .2-2.5 .2 2.2 .2 4.6 .2 7.3 .2 5.7 .2-3.9 .2-6.2 .2-5.9 .2-3.3 .2-2.6 .1-1 .2 3.6 .2 2.6 .2 3.2 .2 1.3 .2-2.9 .2-2.9 .2-2.6 .2 .3 .2 4.8 .2 4.7 .2 7.8 .2 6.4 .2 5.1 .1 1.1 .2-.7 .2-2.4 .2-7.3 .2-7.8 .2 1.8 .2 6.3 .2 .2 .2-5.1 .2-2.3 .2-6.2 .2-5.9 .2-.2 .1 5.5 .2-.1 .2 1.4 .2 2.9 .2 6.4 .2 9.2 .2 7.2 .2 3.5 .2-5.6 .2-11.9 .2-17.4 .2-15 .2-8.8 .2-3.9 .1-1 .2 3.5 .2 9.5 .2 10.5 .2 14.6 .2 17 .2 9.7 .2 3.4 .2-5.7 .2-14.2 .2-22.9 .2-23.4 .2-10.9 .1 10.6 .2 23.4 .2 20.4 .2 8 .2-3.7 .2-9.7 .2-12.3 .2-2.9 .2 .2 .2 1.6 .2 .1 .2 11.1 .2 5.8 .2-8.7 .1-9.9 .2-1.1 .2 7.4 .2 1.8 .2-.5 .2 4.4 .2-.1 .2-2.4 .2 1.4 .2 6.6 .2-6.1 .2-12.6 .2-.3 .1 13.5 .2 11.5 .2 8.6 .2-3.3 .2-5.3 .2 2.9 .2 10.8 .2 13.5 .2 6.7 .2 2.9 .2-2 .2-8 .2-12.5 .2-10.6 .1 3.1 .2-1.3 .2 7.2 .2 3 .2-10.4 .2-19.2 .2-27.1 .2-27.7 .2-13.4 .2 14.8 .2 31.3 .2 32.4 .2 19.7 .1-5 .2-12.2 .2-7.1 .2-4.6 .2 2.8 .2 8.1 .2-1.8 .2-8.1 .2-8.2 .2 5.8 .2 19.7 .2 21.1 .2 14.1 .2-1.2 .1-15.9 .2-20.5 .2-15.4 .2-12.6 .2-4.7 .2-3.2 .2 13 .2 20.6 .2 12.2 .2-1.4 .2-10.7 .2-7.7 .2-1.8 .1-10.5 .2-12.8 .2 5.2 .2 18.7 .2 22.3 .2 25.5 .2 17.9 .2-1.1 .2-23.5 .2-39 .2-41.1 .2-27.1 .2-5.8 .2 19.6 .1 41.2 .2 55.1 .2 50.3 .2 24.8 .2-14.6 .2-54.4 .2-78.6 .2-76.6 .2-46.5 .2 9.9 .2 59.7 .2 86.4 .2 84 .2 53.6 .1 5 .2-45 .2-73.9 .2-76.2 .2-53.2 .2-14.4 .2 25.1 .2 51.3 .2 59.6 .2 47.9 .2 22.3 .2-7.6 .2-32.1 .1-45.6 .2-43.8 .2-25.6 .2 2.6 .2 24.7 .2 31.6 .2 31.4 .2 20.2 .2 11.9 .2 .4 .2-10.7 .2-15.4 .2-9.3 .2-1.5 .1-1.6 .2-16.8 .2-19.1 .2-13.5 .2 3.9 .2 17.4 .2 28.9 .2 31.1 .2 15 .2-9.5 .2-29.6 .2-36.2 .2-27.1 .1-1.7 .2 30.9 .2 36.2 .2 15.7 .2-19.1 .2-35.2 .2-45 .2-36.2 .2-1.8 .2 37.8 .2 53.9 .2 40.8 .2 11.1 .2-16.5 .1-12.9 .2-16.2 .2-22.1 .2-9.8 .2 4.5 .2 8.4 .2-7 .2-13.7 .2-.7 .2 10.5 .2 19.2 .2 28.2 .2 35 .1 23.4 .2-1.3 .2-25.6 .2-37 .2-30.8 .2-18.8 .2-15.3 .2-6.6 .2 2 .2 16 .2 12.3 .2 11.6 .2 15.7 .2 16 .1 5.4 .2-1.6 .2 6.3 .2 8.2 .2 5.8 .2-5.1 .2-14.2 .2-16.3 .2-13.2 .2-11.1 .2-5.6 .2 2.4 .2-3.3 .1-4.4 .2 1.7 .2 10.2 .2 10.8 .2 5.9 .2 5.1 .2 6.2 .2 11.3 .2-2.4 .2 1.6 .2-6.4 .2 .7 .2 3.9 .2-1.1 .1-1.7 .2-3.5 .2-9.5 .2-8.2 .2-4.9 .2 2.7 .2 4.7 .2-.3 .2 2 .2 4.3 .2 6.3 .2 0 .2-5.9 .1-6.4 .2-2.2 .2-.7 .2 5.4 .2 7 .2 .9 .2 .7 .2-4.1 .2-.2 .2 5.3 .2 7.2 .2 4.7 .2 0 .2-11 .1-15.5 .2-8.5 .2-1.3 .2 5.7 .2 8 .2 1.2 .2-4.8 .2-.4 .2 3.3 .2 3.1 .2 .3 .2-2.9 .2-2.3 .2-7.7 .1-9 .2-6.9 .2 1.3 .2 2.3 .2 2.4 .2 1.3 .2 2.5 .2 8.9 .2 3.9 .2-3.8 .2-2.6 .2 7.2 .2 7.3 .1 3.9 .2 11.2 .2-.4 .2-8.3 .2-7.4 .2-9.8 .2-6.2 .2-12.8 .2-12.5 .2-2.2 .2 2.6 .2 7.5 .2 14.9 .2 17.6 .1 14.3 .2 4.5 .2-2.8 .2-8 .2-4.5 .2 .1 .2 4.4 .2-1.9 .2-2.4 .2-.6 .2 2.1 .2 4.5 .2-.1 .1-10.6 .2-12.5 .2 1.8 .2 5.2 .2-1 .2-3.6 .2 3.2 .2 2.2 .2 .3 .2-8.4 .2-11.8 .2-6.7 .2 4.2 .2 7.5 .1 4.9 .2 2.9 .2 1.9 .2 7 .2 6.5 .2 6 .2 6.4 .2 3.5 .2-1.6 .2-5.1 .2-3.5 .2-8.1 .2 2.2 .1 5.5 .2-7.9 .2-10.5 .2-10 .2 .8 .2 11.3 .2 9.4 .2-2.9 .2-11.5 .2-.2 .2 3 .2 1.2 .2-6.7 .2-4 .1 1.8 .2-.8 .2 1.8 .2-3 .2 .1 .2 7.6 .2 11.4 .2 6.6 .2 .6 .2-3.9 .2-10.9 .2-7.5 .2-3.2 .1-7.6 .2-3.5 .2-1.3 .2 .4 .2 2.8 .2 .9 .2 7.3 .2 11.3 .2 15.3 .2 9.6 .2-3.7 .2-7.3 .2 4.5 .2-5.7 .1 3.1 .2 5.9 .2-10.4 .2-21.9 .2-14.6 .2-6.1 .2 2.1 .2 4.4 .2-2.7 .2-.2 .2 4.8 .2 8.3 .2 12 .1 18.4 .2 12.9 .2-1.9 .2-10.9 .2-1.4 .2 4.2 .2 .4 .2-11.8 .2-1.1 .2 .3 .2 2.1 .2-2.5 .2 0 .2 5.8 .1-2.4 .2-3.7 .2-4.3 .2-7.4 .2-.5 .2 3.1 .2 1.2 .2 2.3 .2 .4 .2 .8 .2 4 .2-9.4 .2-6 .1 .8 .2 2.6 .2 15.1 .2 6.4 .2 2.4 .2-13.7 .2-5 .2 4.2 .2 4.2 .2-3.6 .2-.4 .2 .4 .2 9 .2 1.9 .1-9.9 .2-6.2 .2-6.2 .2-1.8 .2-2.2 .2 4.8 .2 12.9 .2 14 .2 1.4 .2-4.7 .2-7.9 .2-17.2 .2-.6 .2 7.9 .1 7.6 .2 6.7 .2 4.8 .2-8.7 .2-10.6 .2-7.1 .2-4.2 .2 3 .2 9.9 .2 10.4 .2 6.9 .2 3.2 .2 4.9 .1 3.3 .2-3.7 .2-7.1 .2-2 .2-4 .2-1.9 .2 13.3 .2 6 .2 3.1 .2-4.9 .2-10.2 .2-9.1 .2-11.5 .2-2.6 .1-3.8 .2-2.9 .2-1.4 .2-1.1 .2 .7 .2 4 .2-4 .2-.8 .2 6.1 .2 9.7 .2 7.5 .2 3.2 .2 .3 .1 2 .2 6 .2-.1 .2-1.1 .2-1.4 .2-4.3 .2-1.8 .2-4.5 .2-.2 .2 5.5 .2 2.8 .2-7.8 .2 .2 .2 3 .1-2.5 .2-5.1 .2-5.2 .2-7.5 .2-.4 .2 4.9 .2 19.9 .2 9.7 .2 1 .2-.6 .2 .2 .2-2.8 .2-2.5 .1-7.5 .2-10 .2-5.5 .2 6.2 .2-.2 .2-1.7 .2-5.4 .2 3.7 .2-.3 .2-1.2 .2 2.2 .2 13.1 .2 2.2 .2 .2 .1 2.8 .2 3.7 .2 2.3 .2-.4 .2-5 .2-10.1 .2-13.8 .2-5.3 .2-2.1 .2 3.4 .2 1 .2 2.8 .2 5.9 .1 8.6 .2 7.9 .2 2.6 .2 .6 .2-.2 .2-1.2 .2-3.3 .2 1 .2 1.1 .2-6 .2-5.6 .2-6.2 .2-5.5 .2-1.8 .1 .7 .2 6.7 .2 7.7 .2 .9 .2 4.5 .2-4.3 .2-5.6 .2 2.8 .2 8.5 .2 1.1 .2-4 .2-8.5 .2-6.2 .1-6.8 .2-4.8 .2 1.6 .2 6 .2 9.7 .2 4.3 .2 9.8 .2 5.1 .2 2.3 .2-2.5 .2-5.7 .2-3.3 .2-4.1 .2-.9 .1 2.8 .2 1.4 .2 .4 .2-4.2 .2 2.7 .2 4.7 .2-6.4 .2-7.3 .2-8.5 .2-9.5 .2-1.7 .2 3.3 .2 5.7 .2 .3 .1-5 .2-.4 .2 5.4 .2 10.5 .2 10.8 .2 9.1 .2-5.4 .2-7.3 .2-3.6 .2-4.7 .2-3.5 .2 .5 .2 9.1 .1 13.7 .2 5.5 .2-8.9 .2-4.5 .2-5.6 .2-8.6 .2-.5 .2 1.1 .2 1 .2 1.4 .2 4.1 .2 4 .2 1 .2-7.5 .1-6.9 .2 2.4 .2 6 .2 4.7 .2 3.3 .2-.6 .2 1.9 .2-1.1 .2-7.4 .2-5.2 .2-6.4 .2 .1 .2 8.6 .1 6.4 .2 1 .2-.2 .2 4.6 .2 4.7 .2 .7 .2-1.7 .2-10.2 .2-4.1 .2-.8 .2-1.1 .2-4.2 .2-1.3 .2-1.7 .1 2.2 .2 1.5 .2 4.9 .2 7.9 .2 2.7 .2 2.9 .2-2.1 .2-4.1 .2-6.9 .2 .2 .2 1.2 .2-1.9 .2-4 .1-.5 .2-2.2 .2-3.2 .2 4.3 .2 9.2 .2 5 .2 2.8 .2 .4 .2-.9 .2-2.8 .2-5.6 .2-3.8 .2-1.6 .2-1.1 .1 3.5 .2 6.9 .2 5.7 .2 2.9 .2 1 .2 .2 .2-.1 .2-3.3 .2-2.4 .2-.7 .2-.7 .2-4.6 .2-5.5 .1-1 .2-3.6 .2-5.5 .2-1.1 .2 1.6 .2 1.6 .2 2.8 .2 4.8 .2 4.4 .2 1.7 .2 .3 .2-.4 .2 1.5 .2 1.8 .1-.9 .2 3 .2 4.9 .2-1.1 .2-3.2 .2-1 .2-1.8 .2-4.4 .2-2.1 .2-1.3 .2-.7 .2-2.8 .2-4.7 .1-.7 .2 1.5 .2 .5 .2 1.8 .2 4.3 .2 4 .2 3.4 .2 4.9 .2 2.6 .2 4.4 .2-1.1 .2-4.7 .2-.7 .2-.2 .1-.9 .2 .9 .2-1.6 .2 .8 .2-5.6 .2-3.7 .2-3.2 .2 2.9 .2 1.2 .2 .1 .2-1.4 .2-2.1 .2-.9 .1 .4 .2 4.3 .2 6 .2 5.4 .2 .8 .2 .3 .2-1.9 .2 0 .2-.9 .2-.1 .2-2.7 .2-2.5 .2-3.4 .2-4.9 .1 .8 .2 6.5 .2 4.7 .2 .7 .2-3.5 .2 .5 .2-.7 .2-3.9 .2-2.8 .2-1.9 .2-1.7 .2 2.5 .2 5.1 .2 .7 .1 1.9 .2-1.1 .2-.6 .2-.9 .2 .1 .2-.6 .2-2.9 .2-3.5 .2-.7 .2-3.9 .2-3.3 .2-2.7 .2-.5 .1 1.5 .2 5.7 .2 4.9 .2 5.1 .2 4.4 .2 2.6 .2 1.5 .2-.5 .2-1.3 .2-2.2 .2-4.7 .2 1.7 .2 .4 .2-.8 .1-1.2 .2 3 .2-3.4 .2-7.7 .2-3.1 .2 .2 .2 3.9 .2 5.3 .2 2.5 .2 4.1 .2 2.3 .2 1.9 .2 .1 .1 .6 .2 0 .2-1.7 .2-.2 .2-.5 .2-2.1 .2-5.2 .2-5.4 .2-3.9 .2-2.4 .2-.8 .2-1.4 .2 .9 .2 3.5 .1 8.4 .2 4.5 .2 2.2 .2 .1 .2 1 .2 1.3 .2 2.4 .2-.9 .2-2.1 .2-4.7 .2-2.1 .2-3.9 .2-2.6 .1 .6 .2 1.2 .2 0 .2 1.8 .2 2.1 .2-1.3 .2-.1 .2 1.2 .2 3.1 .2 6.9 .2 3.9 .2-.9 .2-2 .2-2.7 .1-8.7 .2-12.8 .2-5.5 .2-1 .2 2 .2 5.8 .2 5.6 .2 2.3 .2 1.2 .2 3.4 .2 3 .2 1.4 .2 3.7 .1 3.3 .2 .8 .2 .3 .2-1.9 .2-2.1 .2-.5 .2-2 .2-1.8 .2 .9 .2-1.4 .2-2.9 .2-.4 .2-.6 .2-2.5 .1 3.9 .2 1.1 .2-1.9 .2-1.2 .2-.9 .2-.5 .2 .3 .2-5.5 .2 1.8 .2 5.4 .2 4.9 .2 3.9 .2 1.9 .1-.2 .2-2.7 .2-.8 .2-.5 .2 2.2 .2 1.2 .2 1.1 .2-2 .2-4.8 .2-5.3 .2-4.1 .2-5 .2-2.7 .2-1.8 .1 .5 .2 2.6 .2 3.3 .2 3.3 .2 .1 .2 2 .2 6.9 .2 4.8 .2 3.7 .2 2.7 .2 1.2 .2-1 .2-2.9 .2-6 .1-4.1 .2-2.5 .2-1.3 .2-1.1 .2-1.5 .2 .1 .2-.7 .2-2.1 .2-.6 .2-.6 .2 .5 .2 1.5 .2 4.8 .1 4 .2 .9 .2 2.5 .2 1.4 .2-2.7 .2-1.5 .2 0 .2-1.9 .2-1.8 .2 .2 .2 4.1 .2-1.2 .2-1.5 .2-1.3 .1-1.4 .2-2 .2 .9 .2 3.4 .2 3.8 .2 1.5 .2-1.1 .2-1.2 .2 .1 .2-1.6 .2-2.7 .2-3 .2-4.4 .1-2.1 .2-1 .2 .9 .2 4 .2 .8 .2-.5 .2 2.9 .2 3.7 .2 .6 .2-1.2 .2-.6 .2-2 .2 .8 .2 3.6 .1 3.1 .2 .4 .2-3.5 .2-4.4 .2-3.6 .2-2.5 .2 .1 .2 .6 .2 1.2 .2 2.8 .2 2.3 .2 .3 .2-.8 .1 0 .2 1.2 .2 1.6 .2 .9 .2-.3 .2-1.8 .2-.4 .2 2.2 .2 .5 .2-1.8 .2-2.2 .2-.6 .2 .5 .2 .8 .1-1.1 .2-.4 .2 .3 .2 3.3 .2-.5 .2-1.8 .2-1.2 .2 .5 .2 1.7 .2 2.6 .2 1.3 .2 2.9 .2 2.5 .1 .1 .2-1.8 .2-1.5 .2-3.4 .2-3.2 .2-2.2 .2-1.9 .2-.4 .2-.2 .2-1.1 .2-1.3 .2 .4 .2 .7 .2 .8 .1 1.3 .2 2.9 .2 2.6 .2 2.2 .2 3 .2 1.5 .2-.5 .2-.5 .2-1.2 .2-2.5 .2-4.2 .2-2.9 .2-1.3 .1 .5 .2 1.1 .2 1.1 .2-.3 .2-.4 .2 .1 .2 1 .2-.2 .2 1 .2 3.3 .2 2.4 .2 0 .2 .6 .2-1.1 .1-.7 .2-1.1 .2-2.5 .2-1.1 .2 1.2 .2-.9 .2-1.2 .2-.3 .2 .3 .2 .4 .2 1.3 .2 .2 .2-1.2 .1-1 .2-.6 .2 1.1 .2 2.3 .2 .6 .2-1 .2 .7 .2 1.2 .2 1.6 .2 0 .2-2 .2-1.2 .2 .1 .2 .3 .1 .4 .2-.5 .2-.7 .2-.2 .2 1.2 .2 .5 .2-.4 .2-1 .2-1.1 .2 .2 .2-.4 .2-1.7 .2-1 .2 .1 .1 2.1 .2 3.5 .2 2.3 .2 .4 .2-.4 .2-.2 .2-2.1 .2-2.8 .2-2.7 .2 .4 .2 2.4 .2 1.4 .2-.3 .1-1.7 .2-.7 .2-1.1 .2-.5 .2-.4 .2 .1 .2 .7 .2 1.5 .2 2.9 .2 3.5 .2 .8 .2 .3 .2 0 .2-1.8 .1-3.5 .2-2.3 .2-.9 .2 .3 .2 .4 .2-1.6 .2-.2 .2 .3 .2 .8 .2 .5 .2 .5 .2-.1 .2-.7 .1 1.3 .2 .2 .2 .2 .2-.1 .2 0 .2 .5 .2-.2 .2-1.6 .2-.4 .2 .3 .2 1 .2 1.2 .2-.3 .2-.2 .1 1.2 .2 .2 .2 1.6 .2 .7 .2-.6 .2-.8 .2-1.4 .2-1.2 .2-.9 .2-.3 .2 .2 .2 .4 .2-1.5 .1-1.8 .2-.3 .2 .9 .2 1.1 .2 .5 .2-.6 .2-.7 .2 .8 .2 2.2 .2 1.2 .2 1.1 .2 .5 .2 .8 .2 .4 .1-1.5 .2-.6 .2-.4 .2-1.4 .2-.8 .2 1 .2 .1 .2-.1 .2 .4 .2-.4 .2 1.1 .2-.2 .2-1.4 .1-.2 .2 .8 .2 1.9 .2 .2 .2 2 .2 1.5 .2 .8 .2-.1 .2-1 .2-1.2 .2-1.4 .2-.8 .2-.1 .2-.1 .1-.9 .2-.1 .2 .7 .2 1.3 .2-1.1 .2-1.9 .2-1.3 .2 .2 .2 .4 .2 1.2 .2 1.4 .2 1.3 .2 1.4 .1 .3 .2 .4 .2-.4 .2-1.2 .2-1.6 .2-.8 .2-.3 .2 .2 .2 .5 .2-.1 .2 .1 .2 .5 .2 .3 .2 0 .1 .1 .2-.5 .2-.3 .2 0 .2-.2 .2-.7 .2-.4 .2 .1 .2 .2 .2 .1 .2 0 .2 .1 .2 .2 .2 0 .1 .1 .2 .3 .2 0 .2-.1 .2-.1 .2 0 .2-.2 .2 0 .2 .2 .2 .2 .2 0 .2 0 .2 .2 .1 0 .2 0 .2-.1 .2-.2 .2-.2 .2-.1 .2 0 .2 .1 .2 .2 .2 0 .2 0 .2 .1 .2-.2 .2 .1 .1 0 .2-.1 .2 .1 .2 0 .2 .1 .2 0 .2 0 .2-.1 .2-.1 .2-.1 .2-.1 .2 0 .2 0 .1 0 .2 .1 .2 0 .2 0 .2-.1 .2 .1 .2 0 .2 .1 .2 0 .2 0 .2 .1 .2 0 .2-.1 .2 0 .1-.1 .2 0 .2 0 .2 0 .2 0 .2 .1 .2 0 .2 .1 .2-.1 .2 0 .2-.1 .2 0 .2-.1 .1 0 .2 .1 .2 0 .2 .1 .2 0 .2 0 .2 0 .2 0 .2 0 .2 0 .2 0 .2 0 .2 0 .2 0 .1 0 .2 0 .2 0 .2 0 .2 0 .2 0 .2 0 .2 0 .2-.1 .2 0 .2 0 .2 0 .2 0 .1 0 .2 0 .2 0 .2 0 .2 0 .2 0 .2 0 .2 .1 .2 0 .2 0 .2 0 .2 0 .2 0 .2 0 .1 0 .2 0 .2 0 .2 0" stroke="#0000ff" stroke-width="0.6"/>
<path d="M46.0 247.9L161.6 247.9l.2 0 .2 0 .1 0 .2 0 .2 0 .2-.1 .2 0 .2 0 .2 .1 .2 0 .2 0 .2 0 .2 0 .2 0 .2 0 .2 0 .1 0 .2 0 .2 0 .2 0 .2 0 .2 0 .2 0 .2 0 .2 0 .2 0 .2 0 .2 .1 .2-.1 .1 0 .2 0 .2-.1 .2 0 .2 0 .2 0 .2 0 .2-.1 .2 0 .2 0 .2 .1 .2 .1 .2 .1 .2 .1 .1 0 .2 0 .2-.1 .2 0 .2-.1 .2-.1 .2-.1 .2 .1 .2 0 .2-.1 .2-.1 .2 0 .2-.1 .1 0 .2 .1 .2 .1 .2 .2 .2 .1 .2 .1 .2 0 .2 .1 .2-.2 .2-.2 .2-.3 .2-.2 .2 0 .2 .1 .1 .2 .2 .2 .2 .2 .2 .2 .2 0 .2 .1 .2 0 .2 .1 .2 0 .2 0 .2 0 .2-.1 .2-.1 .1-.1 .2-.1 .2-.1 .2-.3 .2-.1 .2-.2 .2 0 .2 .1 .2 0 .2 .2 .2 .5 .2 .2 .2 0 .2-.3 .1-.2 .2-.4 .2-.2 .2 .4 .2 .7 .2-.1 .2-.3 .2 0 .2-.2 .2-.5 .2-.2 .2-.1 .2-.1 .1 .1 .2 .2 .2 .4 .2 .1 .2 .4 .2 .2 .2 .3 .2 .3 .2-.2 .2-.3 .2 0 .2 .2 .2 .1 .2-.4 .1-.4 .2-.4 .2-.5 .2 .2 .2 .6 .2 .2 .2-.2 .2 .1 .2 0 .2-.1 .2 0 .2 .2 .2-.3 .2 0 .1-.2 .2 .4 .2 .3 .2 .3 .2 .3 .2 .4 .2-.4 .2-.2 .2-.1 .2-.3 .2-.1 .2-.3 .2-.1 .1-.6 .2-.3 .2-.2 .2-.2 .2 .1 .2 .1 .2 .6 .2 .8 .2 0 .2 0 .2-.5 .2 0 .2 .1 .2-.2 .1-.1 .2-.2 .2 .1 .2 .1 .2 0 .2-.4 .2 0 .2 0 .2 .3 .2 .3 .2 .3 .2 .3 .2 .7 .1 .3 .2 .2 .2-.1 .2-.3 .2-.7 .2-.5 .2-.7 .2-.3 .2-.1 .2 .3 .2 .3 .2 .2 .2 .2 .2 .8 .1 .3 .2 .1 .2 .1 .2 .2 .2 .7 .2 .4 .2 0 .2 0 .2 0 .2-.3 .2-.3 .2-1 .2-.9 .1-.6 .2-.4 .2 0 .2 .6 .2 .9 .2 .6 .2 .6 .2 .1 .2-.4 .2-.4 .2-.5 .2-.1 .2 0 .2-.5 .1-.4 .2 .1 .2-.1 .2 .6 .2 .4 .2 .5 .2-.1 .2-.1 .2-.4 .2-.2 .2 .1 .2 .4 .2 .7 .1-.1 .2-.5 .2-.7 .2-.4 .2-.1 .2 .2 .2 .2 .2 .2 .2 .2 .2 .2 .2 .4 .2 .2 .2-.1 .2-.4 .1-.6 .2-.5 .2-.2 .2-.2 .2-.1 .2 .2 .2 .5 .2 .7 .2 0 .2 .1 .2 .3 .2 .4 .2 .2 .1-.1 .2 .1 .2 0 .2-.4 .2-.3 .2-.3 .2-.4 .2-.6 .2-.3 .2-.1 .2 .2 .2 .2 .2 0 .2 .6 .1 .7 .2 .5 .2-.1 .2 .1 .2 .1 .2-.2 .2-.6 .2-.6 .2 0 .2 0 .2 .1 .2-.3 .2 .2 .1 .7 .2 .6 .2 .3 .2-.2 .2-.4 .2-.3 .2-.4 .2-.2 .2-.1 .2 .3 .2 .7 .2 .2 .2 .1 .2-.4 .1-.5 .2-.4 .2-.9 .2-.1 .2 .3 .2 .8 .2 .5 .2 .4 .2-.3 .2-.5 .2-.3 .2-.5 .2-.3 .2 .6 .1 1.1 .2 .7 .2 .4 .2 0 .2 .1 .2 0 .2-.1 .2 .1 .2-.1 .2-.4 .2-.6 .2-.1 .2-.2 .1-.6 .2-.7 .2-.2 .2-.2 .2 .2 .2 .3 .2-.1 .2-.1 .2 0 .2 .4 .2 0 .2-.2 .2 .1 .2 .5 .1 .4 .2 .2 .2 .3 .2 .2 .2-.2 .2-.1 .2-.1 .2 .3 .2-.1 .2-.7 .2-.9 .2 .3 .2 .2 .1-.4 .2-.3 .2-.1 .2 0 .2 0 .2 0 .2 .1 .2 .1 .2 .8 .2 .5 .2 0 .2 0 .2 0 .2-.2 .1-.1 .2 .2 .2 0 .2 .1 .2 .1 .2 .1 .2 .3 .2 0 .2 0 .2 .1 .2-.2 .2-.1 .2-.3 .1-.3 .2-.4 .2-.3 .2 0 .2 .2 .2 0 .2 0 .2-.1 .2 .1 .2 .2 .2 .4 .2 .5 .2 .2 .2 .1 .1-.2 .2-.4 .2-.5 .2-.4 .2-.3 .2-.3 .2 0 .2 .2 .2 .2 .2 .4 .2 .3 .2 0 .2-.2 .1 0 .2 .3 .2 .5 .2 .5 .2 .1 .2 0 .2-.5 .2-.5 .2-.4 .2-.2 .2 .1 .2 .5 .2 .2 .2-.3 .1 0 .2 .6 .2 .5 .2 .2 .2-.2 .2-.7 .2-.6 .2 .1 .2 .1 .2-.5 .2-.6 .2 .1 .2 0 .1 .1 .2 .3 .2 .2 .2 0 .2-.1 .2 .2 .2 .1 .2 .2 .2-.3 .2-.2 .2 .1 .2 .5 .2 .5 .2 .3 .1 .1 .2-.3 .2 .1 .2 .2 .2 .1 .2-.3 .2-.5 .2-.3 .2-.5 .2-.4 .2-.3 .2-.2 .2 .1 .2-.1 .1 0 .2 .1 .2 .4 .2 .5 .2 .9 .2 .7 .2 .2 .2 .2 .2 .2 .2 .1 .2-.2 .2-.5 .2-.6 .1-.6 .2-.3 .2-.2 .2-.1 .2 .2 .2-.1 .2 0 .2 0 .2 0 .2 .4 .2 .2 .2 .1 .2 .2 .2-.1 .1-.1 .2 .1 .2-.2 .2-.2 .2-.2 .2 .1 .2 .4 .2 .2 .2 .3 .2 0 .2 .1 .2 .1 .2 .1 .1-.1 .2-.2 .2 .1 .2 0 .2-.2 .2-.6 .2-.7 .2-.2 .2 .2 .2 .1 .2 0 .2 0 .2 .1 .2 .2 .1 .2 .2 .3 .2-.1 .2-.4 .2 0 .2 .1 .2 0 .2 0 .2-.1 .2 0 .2 .1 .2-.1 .2-.2 .1-.1 .2 .3 .2 .6 .2 .6 .2 .1 .2-.2 .2-.2 .2-.3 .2 .2 .2 .3 .2 .4 .2 .2 .2 0 .2-.1 .1-.6 .2-1.1 .2-1 .2-.3 .2 .4 .2 .5 .2 .3 .2 .7 .2 .5 .2 .5 .2-.1 .2-.3 .2-.5 .1-.2 .2 .4 .2 .6 .2 .8 .2 .7 .2 0 .2-.7 .2-1.5 .2-1.2 .2-.4 .2-.1 .2-.5 .2-.6 .2-.7 .1-.2 .2 .1 .2 .2 .2 .7 .2-.1 .2-.3 .2 .5 .2 1.6 .2 1.3 .2 1.8 .2 .8 .2-.8 .2-1.7 .1-.6 .2-.1 .2 .5 .2-.6 .2-1.3 .2 0 .2 0 .2 .1 .2 .2 .2 .3 .2 .8 .2 1.1 .2 .7 .2-.4 .1-1 .2-.5 .2 .4 .2 .7 .2 .9 .2 .1 .2-.5 .2-.3 .2-.5 .2-.8 .2-.7 .2-.2 .2 .1 .1-.1 .2 .1 .2 0 .2 .1 .2-.2 .2 .2 .2 .2 .2 0 .2 .1 .2 .1 .2 .1 .2-.2 .2 .1 .2-.3 .1-.1 .2 .1 .2 .2 .2 .8 .2 .8 .2 .2 .2-.2 .2 .2 .2-.1 .2 0 .2 .2 .2-.4 .2-.7 .2-.7 .1-.3 .2-.5 .2-.4 .2-.7 .2-.6 .2-.2 .2 .5 .2 .9 .2 .8 .2 0 .2 .2 .2 0 .2 0 .1 .7 .2 .9 .2-.3 .2-.4 .2-.1 .2 .1 .2 .5 .2-.1 .2-.7 .2-1 .2-.8 .2 .6 .2 .3 .2-.2 .1-.1 .2 1 .2 .8 .2 .5 .2 .2 .2-.5 .2-.9 .2 .9 .2 1.1 .2-1 .2-1.8 .2-.2 .2-.2 .1-.3 .2-.3 .2 .4 .2 1.2 .2 1.1 .2 2.4 .2 1.3 .2 .6 .2-.5 .2-1.4 .2-1.3 .2-.9 .2 .2 .2 .1 .1-.4 .2 0 .2-.8 .2 1 .2 1.8 .2 .5 .2-1 .2-.1 .2 .4 .2-.9 .2-1.3 .2 .3 .2 1.3 .1-1.2 .2-1.8 .2-.9 .2 .7 .2 .3 .2 .9 .2 1.2 .2 .8 .2 .3 .2 .5 .2-.4 .2-.3 .2-1.1 .2-.4 .1 0 .2 1 .2 .3 .2-2.1 .2-1.7 .2-.4 .2 .1 .2 1.1 .2 0 .2 .8 .2 1.6 .2 1.5 .2 1.5 .1 .4 .2 .1 .2-.7 .2-.9 .2-.5 .2-1.6 .2-1.8 .2-.7 .2-.5 .2 1.1 .2 1 .2-.2 .2-.9 .2-2 .1-.6 .2 .6 .2 .5 .2 .9 .2 1.5 .2 1.4 .2 1.1 .2 .7 .2 .1 .2-.9 .2-2.1 .2-2.3 .2-1.1 .1 .2 .2 .8 .2-.4 .2 .1 .2 .1 .2 .9 .2 .4 .2 .3 .2 .2 .2 2.1 .2 1.2 .2 1 .2-.1 .2 0 .1-.2 .2-.2 .2-.6 .2 .5 .2-.3 .2-.9 .2-.6 .2-.9 .2 .4 .2 0 .2-2.4 .2-1.1 .2-2 .2-.8 .1 .6 .2 .4 .2 .5 .2 .2 .2 1.7 .2 1.6 .2 1.8 .2 1.8 .2 2.7 .2 1.8 .2 .4 .2-1 .2-3.4 .1-2.2 .2-1.5 .2-1 .2-1.6 .2 .8 .2 .4 .2 1.2 .2 .1 .2-1.6 .2 .7 .2-.6 .2-2.4 .2-1 .2 1.6 .1 2.6 .2 2.2 .2 2.2 .2 1.2 .2 .1 .2-.9 .2-.2 .2 .5 .2-.6 .2-1.1 .2-.9 .2-1.3 .2-1.4 .1-1.1 .2-.7 .2-.4 .2-.7 .2 .1 .2 .7 .2 2.1 .2 3.2 .2 1 .2-.6 .2-.8 .2-.3 .2-.5 .2 .3 .1 .2 .2-.4 .2 .2 .2-.7 .2-.9 .2-.2 .2-1.4 .2-1.2 .2 0 .2 1.8 .2 1.3 .2 .4 .2 .3 .1 1.3 .2 1.1 .2-.5 .2-1.2 .2-.7 .2-2 .2-1.5 .2 1.8 .2 3.4 .2 1.9 .2 .8 .2 .3 .2-1.7 .2-5.1 .1-2.5 .2 .8 .2 1.6 .2 2.7 .2 1.7 .2 .1 .2 1 .2 .1 .2-.7 .2-3.5 .2-3.5 .2 1.2 .2 2.3 .1 0 .2-.6 .2-2 .2 .2 .2-.3 .2-.4 .2 3 .2 3.2 .2 3 .2 1.1 .2-1.1 .2-2.7 .2-1.6 .2-2.8 .1-.9 .2-1.2 .2-1.7 .2 1.4 .2 2.2 .2 .2 .2-.3 .2-.8 .2 0 .2 2.1 .2 3.1 .2 3.4 .2 1.4 .1-1.4 .2-3.2 .2-2.3 .2-.8 .2-1.5 .2-2.1 .2-1.9 .2-.6 .2 .4 .2 2.4 .2 2.5 .2 .9 .2 0 .2-.3 .1-1.5 .2 1.2 .2 3.7 .2 1 .2 1 .2 .9 .2-2 .2-.5 .2-.2 .2-.2 .2 .5 .2 0 .2 .1 .1-.5 .2 2 .2 2.9 .2 1.3 .2 .1 .2-1.6 .2-2.7 .2-1.6 .2-2.5 .2-.6 .2 1.7 .2 .8 .2-.2 .2-.5 .1 1 .2 1.7 .2 .8 .2 1.9 .2 0 .2-3.2 .2-4 .2-2.8 .2 2.7 .2 2.1 .2-1.6 .2-2.2 .2-2 .2 .5 .1 .3 .2 .3 .2 3.5 .2 .6 .2-.1 .2-1.8 .2-2.2 .2 1.2 .2 3.5 .2 3.1 .2 .2 .2 .2 .2-.1 .1-.6 .2-.2 .2 .1 .2 .2 .2 .7 .2-1 .2-1.3 .2-2.8 .2-2.2 .2 .2 .2 2 .2 .4 .2 .6 .2 1.1 .1 .6 .2-3.6 .2-3.7 .2-.1 .2-.1 .2-.7 .2-.6 .2 .7 .2 2.1 .2-.3 .2-1.3 .2-.5 .2 .7 .1 3.9 .2 4.1 .2 2 .2 .2 .2 .3 .2-1.7 .2-1.8 .2-4.9 .2-3.9 .2-2 .2-1.6 .2-.5 .2 1.7 .2 4.4 .1 3.9 .2 2.6 .2 2.9 .2 .4 .2-1 .2 .3 .2 1.4 .2-.7 .2-2.9 .2-2.2 .2-1.7 .2-2.4 .2-2 .1-.1 .2 1.3 .2 1.7 .2 2.7 .2 .4 .2-1.4 .2-1.9 .2 .8 .2 3.8 .2 3.1 .2 .6 .2-.3 .2-.6 .2-1.8 .1-2.9 .2-2.9 .2-1.8 .2 .2 .2 .5 .2-.4 .2 0 .2 .4 .2-1.5 .2-2.7 .2 0 .2 1.4 .2 1.8 .1 1.6 .2 2 .2 1.7 .2-2.5 .2 .5 .2 2.4 .2 2.3 .2 .5 .2 .9 .2 0 .2 .6 .2-1.8 .2-1.6 .2-1.7 .1-3.6 .2-1.1 .2 2.4 .2 4.2 .2 1.7 .2-.2 .2-1.5 .2-2.1 .2-1.4 .2-.3 .2-3 .2-1.2 .2 2.5 .1 5.3 .2 2.8 .2-.5 .2-2.5 .2 .1 .2 1.1 .2-1.9 .2 .3 .2-2.5 .2-.4 .2-1.5 .2-2.4 .2-1.4 .2-.5 .1 .3 .2 1.2 .2 2.2 .2 1.5 .2 2.3 .2 .6 .2-.5 .2-1.1 .2 1.2 .2 .2 .2 1.5 .2 1 .2 2.5 .2-.4 .1-2.3 .2-4.9 .2-4.3 .2-1.2 .2 1 .2 2.2 .2 3.6 .2 2.7 .2-1.9 .2-3 .2-2.9 .2-1.5 .2-1.3 .1-.5 .2 1.7 .2 1.3 .2 1.5 .2 .7 .2-1.4 .2-1.4 .2-1.2 .2 .2 .2 2.3 .2 2.2 .2 3.8 .2 3 .2 2.4 .1 .6 .2-.4 .2-1.2 .2-3.4 .2-3.7 .2 .8 .2 3 .2 .1 .2-2.4 .2-1.1 .2-3 .2-2.8 .2-.1 .1 2.6 .2 0 .2 .7 .2 1.4 .2 3 .2 4.4 .2 3.4 .2 1.6 .2-2.7 .2-5.6 .2-8.2 .2-7 .2-4.1 .2-1.8 .1-.5 .2 1.6 .2 4.5 .2 4.9 .2 6.8 .2 8.1 .2 4.6 .2 1.7 .2-2.7 .2-6.8 .2-11 .2-11.3 .2-5.2 .1 5.1 .2 11.2 .2 9.9 .2 3.9 .2-1.9 .2-4.6 .2-5.9 .2-1.5 .2 .1 .2 .8 .2 0 .2 5.4 .2 2.8 .2-4.2 .1-4.8 .2-.5 .2 3.6 .2 .8 .2-.2 .2 2.1 .2 0 .2-1.2 .2 .7 .2 3.2 .2-2.9 .2-6.1 .2-.1 .1 6.4 .2 5.5 .2 4.2 .2-1.5 .2-2.6 .2 1.4 .2 5.2 .2 6.6 .2 3.2 .2 1.5 .2-1 .2-3.8 .2-6.1 .2-5.2 .1 1.5 .2-.6 .2 3.5 .2 1.4 .2-5 .2-9.4 .2-13.2 .2-13.5 .2-6.5 .2 7.2 .2 15.3 .2 15.7 .2 9.6 .1-2.4 .2-5.9 .2-3.5 .2-2.2 .2 1.3 .2 4 .2-.9 .2-4 .2-3.9 .2 2.8 .2 9.6 .2 10.3 .2 6.9 .2-.6 .1-7.7 .2-10.1 .2-7.5 .2-6.2 .2-2.3 .2-1.5 .2 6.4 .2 10 .2 6 .2-.7 .2-5.2 .2-3.8 .2-.9 .1-5.1 .2-6.3 .2 2.6 .2 9.1 .2 10.9 .2 12.4 .2 8.7 .2-.6 .2-11.4 .2-19 .2-19.9 .2-13.2 .2-2.7 .2 9.4 .1 20 .2 26.7 .2 24.4 .2 11.9 .2-7 .2-26.4 .2-37.9 .2-37 .2-22.3 .2 4.8 .2 28.8 .2 41.5 .2 40.3 .2 25.6 .1 2.4 .2-21.6 .2-35.3 .2-36.4 .2-25.3 .2-6.8 .2 12 .2 24.4 .2 28.3 .2 22.7 .2 10.5 .2-3.6 .2-15.2 .1-21.6 .2-20.8 .2-12.1 .2 1.2 .2 11.7 .2 15 .2 15 .2 9.7 .2 5.8 .2 .2 .2-5.1 .2-7.4 .2-4.5 .2-.7 .1-.7 .2-8.2 .2-9.2 .2-6.6 .2 1.9 .2 8.4 .2 14 .2 15 .2 7.2 .2-4.5 .2-14.3 .2-17.5 .2-13.1 .1-.9 .2 15 .2 17.6 .2 7.6 .2-9.3 .2-17.1 .2-21.8 .2-17.5 .2-.9 .2 18.4 .2 26.1 .2 19.8 .2 5.3 .2-8 .1-6.2 .2-7.9 .2-10.7 .2-4.8 .2 2.2 .2 4.1 .2-3.4 .2-6.7 .2-.4 .2 5.2 .2 9.3 .2 13.7 .2 17.1 .1 11.5 .2-.7 .2-12.5 .2-18 .2-15 .2-9.1 .2-7.4 .2-3.1 .2 1 .2 7.8 .2 5.9 .2 5.6 .2 7.5 .2 7.6 .1 2.6 .2-.8 .2 3 .2 3.9 .2 2.8 .2-2.4 .2-6.8 .2-7.8 .2-6.3 .2-5.3 .2-2.6 .2 1.1 .2-1.6 .1-2 .2 .8 .2 4.9 .2 5.1 .2 2.8 .2 2.4 .2 3 .2 5.3 .2-1.1 .2 .8 .2-3.1 .2 .4 .2 1.9 .2-.5 .1-.8 .2-1.6 .2-4.7 .2-4 .2-2.4 .2 1.3 .2 2.3 .2-.1 .2 1 .2 2.1 .2 3.1 .2 0 .2-2.9 .1-3.1 .2-1.2 .2-.3 .2 2.7 .2 3.4 .2 .4 .2 .4 .2-2 .2-.2 .2 2.6 .2 3.6 .2 2.2 .2 .1 .2-5.4 .1-7.6 .2-4.2 .2-.6 .2 2.8 .2 3.9 .2 .6 .2-2.4 .2-.1 .2 1.6 .2 1.5 .2 .2 .2-1.5 .2-1.1 .2-3.7 .1-4.3 .2-3.3 .2 .7 .2 1 .2 1.2 .2 .6 .2 1.2 .2 4.3 .2 1.8 .2-1.8 .2-1.3 .2 3.5 .2 3.6 .1 1.9 .2 5.5 .2-.2 .2-4.1 .2-3.6 .2-4.8 .2-3.1 .2-6.2 .2-6.1 .2-1 .2 1.3 .2 3.6 .2 7.2 .2 8.6 .1 7 .2 2.2 .2-1.3 .2-3.9 .2-2.2 .2 0 .2 2.2 .2-.9 .2-1.2 .2-.3 .2 1 .2 2.2 .2 0 .1-5.2 .2-6.2 .2 1 .2 2.5 .2-.5 .2-1.7 .2 1.5 .2 1.1 .2 .1 .2-4 .2-5.6 .2-3.1 .2 2 .2 3.6 .1 2.3 .2 1.4 .2 .9 .2 3.3 .2 3 .2 2.9 .2 3 .2 1.7 .2-.8 .2-2.4 .2-1.7 .2-3.8 .2 1 .1 2.6 .2-3.7 .2-5 .2-4.7 .2 .3 .2 5.4 .2 4.5 .2-1.4 .2-5.5 .2 0 .2 1.4 .2 .5 .2-3.1 .2-1.9 .1 .8 .2-.4 .2 .9 .2-1.4 .2 0 .2 3.6 .2 5.4 .2 3.1 .2 .3 .2-1.8 .2-5.2 .2-3.5 .2-1.6 .1-3.6 .2-1.7 .2-.7 .2 .2 .2 1.3 .2 .4 .2 3.5 .2 5.5 .2 7.4 .2 4.7 .2-1.9 .2-3.5 .2 2.2 .2-2.8 .1 1.5 .2 2.9 .2-5.1 .2-10.5 .2-6.9 .2-2.9 .2 1 .2 2.2 .2-1.3 .2-.1 .2 2.3 .2 3.9 .2 5.7 .1 8.7 .2 6.2 .2-.9 .2-5.1 .2-.7 .2 2 .2 .2 .2-5.7 .2-.5 .2 .1 .2 1.1 .2-1.3 .2 0 .2 2.9 .1-1.2 .2-1.8 .2-2.1 .2-3.7 .2-.2 .2 1.5 .2 .6 .2 1.1 .2 .2 .2 .4 .2 2 .2-4.7 .2-3 .1 .4 .2 1.3 .2 7.5 .2 3.2 .2 1.2 .2-6.8 .2-2.5 .2 2.1 .2 2.1 .2-1.8 .2-.2 .2 .2 .2 4.4 .2 1 .1-4.9 .2-3.1 .2-3 .2-.9 .2-1.1 .2 2.4 .2 6.3 .2 6.9 .2 .7 .2-2.3 .2-3.9 .2-8.4 .2-.3 .2 3.9 .1 3.7 .2 3.3 .2 2.4 .2-4.3 .2-5.3 .2-3.5 .2-2 .2 1.4 .2 4.9 .2 5.2 .2 3.4 .2 1.5 .2 2.4 .1 1.6 .2-1.8 .2-3.5 .2-1 .2-2 .2-.8 .2 6.4 .2 2.9 .2 1.5 .2-2.4 .2-4.9 .2-4.4 .2-5.6 .2-1.3 .1-1.8 .2-1.3 .2-.7 .2-.5 .2 .3 .2 2 .2-2 .2-.3 .2 2.9 .2 4.6 .2 3.6 .2 1.5 .2 .1 .1 1 .2 2.9 .2-.1 .2-.4 .2-.7 .2-2.1 .2-.8 .2-2.2 .2-.1 .2 2.7 .2 1.3 .2-3.8 .2 .1 .2 1.5 .1-1.2 .2-2.6 .2-2.5 .2-3.7 .2-.3 .2 2.5 .2 9.9 .2 4.8 .2 .5 .2-.3 .2 .1 .2-1.4 .2-1.2 .1-3.8 .2-5 .2-2.7 .2 3.1 .2-.1 .2-.8 .2-2.7 .2 1.8 .2-.1 .2-.6 .2 1.1 .2 6.4 .2 1.1 .2 .1 .1 1.3 .2 1.8 .2 1.1 .2-.2 .2-2.4 .2-4.9 .2-6.7 .2-2.5 .2-1 .2 1.6 .2 .5 .2 1.4 .2 2.8 .1 4.2 .2 3.7 .2 1.3 .2 .2 .2-.1 .2-.5 .2-1.6 .2 .5 .2 .5 .2-2.9 .2-2.7 .2-2.9 .2-2.6 .2-.9 .1 .4 .2 3.1 .2 3.7 .2 .4 .2 2.2 .2-2.1 .2-2.6 .2 1.3 .2 4.1 .2 .5 .2-1.9 .2-4.1 .2-3 .1-3.3 .2-2.3 .2 .7 .2 3 .2 4.6 .2 2.1 .2 4.8 .2 2.5 .2 1.1 .2-1.3 .2-2.7 .2-1.6 .2-2 .2-.4 .1 1.3 .2 .7 .2 .2 .2-2 .2 1.2 .2 2.3 .2-3.1 .2-3.5 .2-4 .2-4.5 .2-.9 .2 1.6 .2 2.7 .2 .2 .1-2.5 .2-.2 .2 2.6 .2 5.1 .2 5.2 .2 4.4 .2-2.6 .2-3.6 .2-1.7 .2-2.3 .2-1.7 .2 .2 .2 4.5 .1 6.7 .2 2.7 .2-4.4 .2-2.2 .2-2.7 .2-4.3 .2-.2 .2 .6 .2 .4 .2 .7 .2 2 .2 2 .2 .5 .2-3.7 .1-3.4 .2 1.2 .2 3 .2 2.3 .2 1.5 .2-.3 .2 1 .2-.6 .2-3.6 .2-2.4 .2-3.1 .2 0 .2 4.2 .1 3 .2 .5 .2-.1 .2 2.2 .2 2.3 .2 .3 .2-.8 .2-4.9 .2-2 .2-.3 .2-.6 .2-2 .2-.6 .2-.8 .1 1 .2 .7 .2 2.4 .2 3.8 .2 1.3 .2 1.4 .2-1 .2-2 .2-3.3 .2 .1 .2 .5 .2-.9 .2-1.9 .1-.2 .2-1.1 .2-1.5 .2 2.1 .2 4.4 .2 2.4 .2 1.3 .2 .2 .2-.4 .2-1.3 .2-2.7 .2-1.9 .2-.8 .2-.5 .1 1.7 .2 3.3 .2 2.8 .2 1.5 .2 .5 .2 .1 .2-.1 .2-1.6 .2-1.2 .2-.3 .2-.4 .2-2.2 .2-2.7 .1-.5 .2-1.8 .2-2.7 .2-.5 .2 .8 .2 .8 .2 1.4 .2 2.3 .2 2.2 .2 .8 .2 .1 .2-.2 .2 .8 .2 .8 .1-.4 .2 1.4 .2 2.4 .2-.5 .2-1.6 .2-.5 .2-.8 .2-2.1 .2-1.1 .2-.6 .2-.3 .2-1.4 .2-2.3 .1-.3 .2 .7 .2 .2 .2 .9 .2 2.1 .2 1.9 .2 1.7 .2 2.3 .2 1.3 .2 2.2 .2-.6 .2-2.3 .2-.3 .2-.1 .1-.4 .2 .4 .2-.8 .2 .4 .2-2.7 .2-1.8 .2-1.5 .2 1.4 .2 .6 .2 0 .2-.7 .2-1 .2-.4 .1 .2 .2 2 .2 2.9 .2 2.7 .2 .4 .2 .1 .2-.9 .2 0 .2-.5 .2 0 .2-1.3 .2-1.2 .2-1.7 .2-2.3 .1 .3 .2 3.2 .2 2.2 .2 .3 .2-1.6 .2 .2 .2-.3 .2-1.9 .2-1.3 .2-.9 .2-.8 .2 1.2 .2 2.4 .2 .3 .1 .9 .2-.5 .2-.3 .2-.4 .2 .1 .2-.4 .2-1.3 .2-1.7 .2-.4 .2-1.8 .2-1.6 .2-1.3 .2-.3 .1 .7 .2 2.8 .2 2.3 .2 2.5 .2 2.1 .2 1.3 .2 .7 .2-.2 .2-.6 .2-1.1 .2-2.3 .2 .8 .2 .2 .2-.3 .1-.6 .2 1.4 .2-1.6 .2-3.8 .2-1.5 .2 0 .2 2 .2 2.6 .2 1.2 .2 2.1 .2 1.1 .2 1 .2 0 .1 .3 .2 0 .2-.9 .2-.1 .2-.3 .2-1 .2-2.5 .2-2.7 .2-1.9 .2-1.1 .2-.4 .2-.7 .2 .5 .2 1.7 .1 4 .2 2.2 .2 1.1 .2 0 .2 .5 .2 .6 .2 1.2 .2-.4 .2-1 .2-2.3 .2-1 .2-2 .2-1.2 .1 .3 .2 .5 .2 .1 .2 .9 .2 1 .2-.7 .2 0 .2 .6 .2 1.5 .2 3.4 .2 1.9 .2-.5 .2-1 .2-1.3 .1-4.2 .2-6.3 .2-2.6 .2-.5 .2 1 .2 2.7 .2 2.8 .2 1.1 .2 .6 .2 1.7 .2 1.4 .2 .7 .2 1.9 .1 1.6 .2 .3 .2 .2 .2-1 .2-1 .2-.3 .2-.9 .2-.9 .2 .4 .2-.7 .2-1.3 .2-.3 .2-.3 .2-1.1 .1 1.8 .2 .6 .2-.9 .2-.6 .2-.5 .2-.2 .2 .2 .2-2.8 .2 .9 .2 2.7 .2 2.3 .2 2 .2 .8 .1 0 .2-1.4 .2-.4 .2-.2 .2 1 .2 .6 .2 .5 .2-1 .2-2.2 .2-2.6 .2-1.9 .2-2.4 .2-1.3 .2-.9 .1 .3 .2 1.2 .2 1.6 .2 1.6 .2 0 .2 1 .2 3.3 .2 2.3 .2 1.7 .2 1.3 .2 .6 .2-.5 .2-1.4 .2-2.8 .1-2 .2-1.2 .2-.6 .2-.6 .2-.7 .2 0 .2-.3 .2-1 .2-.3 .2-.3 .2 .2 .2 .7 .2 2.4 .1 2 .2 .5 .2 1.2 .2 .7 .2-1.4 .2-.7 .2 0 .2-.9 .2-.9 .2 .1 .2 2 .2-.6 .2-.7 .2-.7 .1-.7 .2-.9 .2 .4 .2 1.7 .2 1.8 .2 .8 .2-.6 .2-.6 .2 .1 .2-.8 .2-1.3 .2-1.5 .2-2.1 .1-1 .2-.5 .2 .4 .2 2 .2 .4 .2-.3 .2 1.4 .2 1.8 .2 .3 .2-.6 .2-.3 .2-.9 .2 .4 .2 1.7 .1 1.5 .2 .2 .2-1.7 .2-2.2 .2-1.7 .2-1.2 .2 .1 .2 .2 .2 .6 .2 1.4 .2 1.1 .2 .1 .2-.3 .1 0 .2 .5 .2 .8 .2 .4 .2-.1 .2-.9 .2-.2 .2 1.1 .2 .2 .2-.9 .2-1 .2-.3 .2 .2 .2 .4 .1-.5 .2-.2 .2 .2 .2 1.6 .2-.3 .2-.9 .2-.6 .2 .3 .2 .8 .2 1.3 .2 .6 .2 1.4 .2 1.2 .1 .1 .2-.9 .2-.8 .2-1.6 .2-1.5 .2-1.1 .2-.9 .2-.1 .2-.1 .2-.6 .2-.6 .2 .2 .2 .4 .2 .3 .1 .6 .2 1.4 .2 1.2 .2 1.1 .2 1.5 .2 .7 .2-.2 .2-.3 .2-.6 .2-1.2 .2-2 .2-1.4 .2-.7 .1 .3 .2 .5 .2 .6 .2-.2 .2-.2 .2 .1 .2 .4 .2-.1 .2 .6 .2 1.5 .2 1.2 .2 0 .2 .3 .2-.5 .1-.4 .2-.5 .2-1.2 .2-.5 .2 .5 .2-.4 .2-.6 .2-.1 .2 .1 .2 .2 .2 .7 .2 0 .2-.5 .1-.5 .2-.3 .2 .5 .2 1.1 .2 .3 .2-.5 .2 .4 .2 .6 .2 .7 .2 0 .2-.9 .2-.6 .2 0 .2 .2 .1 .2 .2-.3 .2-.3 .2-.1 .2 .6 .2 .2 .2-.2 .2-.5 .2-.5 .2 .1 .2-.2 .2-.8 .2-.5 .2 0 .1 1 .2 1.8 .2 1.1 .2 .2 .2-.2 .2-.1 .2-1 .2-1.4 .2-1.3 .2 .2 .2 1.2 .2 .6 .2-.1 .1-.9 .2-.3 .2-.5 .2-.3 .2-.2 .2 .1 .2 .4 .2 .6 .2 1.5 .2 1.7 .2 .4 .2 .1 .2 0 .2-.9 .1-1.7 .2-1.1 .2-.4 .2 .1 .2 .2 .2-.7 .2-.2 .2 .2 .2 .4 .2 .2 .2 .3 .2-.1 .2-.3 .1 .6 .2 .1 .2 .1 .2-.1 .2 0 .2 .3 .2-.1 .2-.8 .2-.2 .2 .2 .2 .5 .2 .6 .2-.2 .2-.1 .1 .6 .2 .1 .2 .7 .2 .4 .2-.3 .2-.4 .2-.7 .2-.5 .2-.5 .2-.1 .2 .1 .2 .2 .2-.7 .1-.9 .2-.1 .2 .4 .2 .5 .2 .2 .2-.2 .2-.4 .2 .4 .2 1.1 .2 .5 .2 .5 .2 .3 .2 .4 .2 .2 .1-.8 .2-.2 .2-.2 .2-.7 .2-.3 .2 .4 .2 .1 .2-.1 .2 .2 .2-.2 .2 .5 .2-.1 .2-.6 .1-.1 .2 .4 .2 .8 .2 .1 .2 1 .2 .6 .2 .5 .2-.1 .2-.4 .2-.6 .2-.6 .2-.4 .2-.1 .2 0 .1-.5 .2 0 .2 .3 .2 .7 .2-.6 .2-.9 .2-.6 .2 .1 .2 .1 .2 .7 .2 .6 .2 .7 .2 .6 .1 .2 .2 .2 .2-.2 .2-.6 .2-.8 .2-.4 .2-.1 .2 .1 .2 .2 .2 0 .2 0 .2 .3 .2 .1 .2 0 .1 .1 .2-.3 .2-.1 .2 0 .2-.1 .2-.4 .2-.1 .2 0 .2 .1 .2 0 .2 0 .2 .1 .2 .1 .2 0 .1 0 .2 .2 .2 0 .2-.1 .2 0 .2 0 .2-.1 .2 0 .2 .1 .2 .1 .2 0 .2 0 .2 .1 .1 0 .2 0 .2-.1 .2-.1 .2-.1 .2 0 .2 0 .2 0 .2 .1 .2 0 .2 0 .2 .1 .2-.1 .2 0 .1 0 .2 0 .2 0 .2 0 .2 .1 .2 0 .2 0 .2-.1 .2 0 .2-.1 .2 0 .2 0 .2 0 .1 0 .2 0 .2 0 .2 0 .2 0 .2 0 .2 0 .2 .1 .2 0 .2 0 .2 0 .2 0 .2 0 .2 0 .1-.1 .2 0 .2 0 .2 0 .2 0 .2 .1 .2 0 .2 0 .2 0 .2 0 .2-.1 .2 0 .2 0 .1 0 .2 0 .2 0 .2 .1 .2 0 .2 0 .2 0 .2 0 .2 0 .2 0 .2 0 .2 0 .2 0 .2 0 .1 0 .2 0 .2 0 .2 0 .2 0 .2 0 .2 0 .2 0 .2-.1 .2 0 .2 0 .2 0 .2 0 .1 0 .2 0 .2 0 .2 0 .2 0 .2 0 .2 0 .2 .1 .2 0 .2 0 .2 0 .2 0 .2 0 .2 0 .1 0 .2 0 .2 0 .2 0" stroke="#000000" stroke-width="2"/>
<path d="M46.0 247.9L161.6 247.9l.2 0 .2 0 .1 0 .2 0 .2-.1 .2 0 .2 0 .2 0 .2 .1 .2 0 .2 0 .2 0 .2 0 .2 0 .2 0 .2 0 .1 0 .2 0 .2 0 .2 0 .2 0 .2 0 .2 0 .2 0 .2 0 .2 0 .2 0 .2 .1 .2 0 .1-.1 .2 0 .2-.1 .2 0 .2 0 .2 0 .2 0 .2-.1 .2-.1 .2 .1 .2 .1 .2 .2 .2 .1 .2 .1 .1 .1 .2-.1 .2-.1 .2 0 .2-.1 .2-.2 .2-.1 .2 0 .2 0 .2-.1 .2-.1 .2-.1 .2-.1 .1 0 .2 .1 .2 .2 .2 .3 .2 .2 .2 .1 .2 .1 .2 0 .2-.2 .2-.3 .2-.4 .2-.3 .2 0 .2 .1 .1 .3 .2 .3 .2 .3 .2 .2 .2 0 .2 .1 .2 .1 .2 .2 .2 0 .2-.1 .2 0 .2-.1 .2-.1 .1-.2 .2-.2 .2-.1 .2-.4 .2-.2 .2-.2 .2-.1 .2 .1 .2 .1 .2 .3 .2 .7 .2 .3 .2-.1 .2-.4 .1-.2 .2-.6 .2-.3 .2 .6 .2 .9 .2 0 .2-.5 .2 0 .2-.3 .2-.6 .2-.4 .2-.2 .2-.1 .1 .2 .2 .3 .2 .6 .2 .2 .2 .5 .2 .3 .2 .5 .2 .3 .2-.3 .2-.4 .2 .1 .2 .2 .2 .1 .2-.6 .1-.6 .2-.6 .2-.6 .2 .2 .2 .9 .2 .4 .2-.4 .2 .2 .2 0 .2-.2 .2 0 .2 .3 .2-.4 .2-.1 .1-.2 .2 .5 .2 .5 .2 .4 .2 .5 .2 .6 .2-.6 .2-.2 .2-.3 .2-.4 .2-.1 .2-.4 .2-.3 .1-.8 .2-.5 .2-.2 .2-.3 .2 .1 .2 .2 .2 .9 .2 1.1 .2 0 .2 .1 .2-.8 .2 0 .2 .2 .2-.4 .1-.1 .2-.3 .2 .1 .2 .2 .2-.1 .2-.4 .2-.2 .2 .2 .2 .4 .2 .4 .2 .4 .2 .4 .2 1.1 .1 .5 .2 .2 .2-.1 .2-.5 .2-.9 .2-.9 .2-.9 .2-.5 .2-.1 .2 .5 .2 .4 .2 .2 .2 .4 .2 1.2 .1 .3 .2 .2 .2 .2 .2 .2 .2 1.1 .2 .5 .2 0 .2 0 .2 0 .2-.4 .2-.5 .2-1.5 .2-1.2 .1-.9 .2-.6 .2 0 .2 .9 .2 1.3 .2 .9 .2 .9 .2 .1 .2-.6 .2-.6 .2-.7 .2-.1 .2 0 .2-.8 .1-.5 .2 0 .2 0 .2 .8 .2 .6 .2 .8 .2-.2 .2-.2 .2-.6 .2-.2 .2 .1 .2 .6 .2 1.1 .1-.2 .2-.8 .2-1 .2-.6 .2-.1 .2 .2 .2 .4 .2 .2 .2 .3 .2 .3 .2 .6 .2 .4 .2-.2 .2-.6 .1-.9 .2-.7 .2-.3 .2-.3 .2-.2 .2 .4 .2 .7 .2 1 .2 0 .2 .2 .2 .3 .2 .7 .2 .2 .1-.1 .2 .2 .2 0 .2-.5 .2-.6 .2-.4 .2-.6 .2-.8 .2-.4 .2-.2 .2 .3 .2 .3 .2 0 .2 .8 .1 1 .2 .8 .2-.1 .2 .2 .2 .1 .2-.4 .2-.8 .2-.9 .2 0 .2 0 .2 .1 .2-.5 .2 .4 .1 1.1 .2 .9 .2 .3 .2-.2 .2-.6 .2-.5 .2-.6 .2-.3 .2-.1 .2 .5 .2 .9 .2 .3 .2 .2 .2-.6 .1-.8 .2-.5 .2-1.3 .2-.1 .2 .4 .2 1.1 .2 .8 .2 .5 .2-.4 .2-.7 .2-.5 .2-.7 .2-.4 .2 .9 .1 1.6 .2 .9 .2 .7 .2 0 .2 .2 .2-.1 .2-.1 .2 .1 .2-.2 .2-.5 .2-.9 .2-.2 .2-.3 .1-.8 .2-1 .2-.3 .2-.3 .2 .3 .2 .4 .2-.1 .2-.2 .2 .1 .2 .5 .2 0 .2-.2 .2 .1 .2 .6 .1 .6 .2 .4 .2 .5 .2 .2 .2-.3 .2-.2 .2 0 .2 .3 .2-.2 .2-1 .2-1.3 .2 .5 .2 .3 .1-.5 .2-.5 .2-.1 .2-.1 .2 0 .2 0 .2 .1 .2 .3 .2 1.2 .2 .6 .2 0 .2 .1 .2 0 .2-.3 .1-.2 .2 .2 .2 .1 .2 .1 .2 .1 .2 .2 .2 .4 .2 0 .2 .1 .2 .1 .2-.3 .2-.2 .2-.5 .1-.3 .2-.6 .2-.4 .2 0 .2 .2 .2 .1 .2 0 .2-.2 .2 .1 .2 .3 .2 .7 .2 .6 .2 .4 .2 .1 .1-.2 .2-.7 .2-.7 .2-.6 .2-.5 .2-.4 .2 0 .2 .2 .2 .5 .2 .4 .2 .6 .2 0 .2-.3 .1-.1 .2 .5 .2 .6 .2 .8 .2 .2 .2 0 .2-.7 .2-.7 .2-.6 .2-.4 .2 .2 .2 .7 .2 .2 .2-.3 .1-.1 .2 .9 .2 .8 .2 .3 .2-.3 .2-1.1 .2-.8 .2 .1 .2 .2 .2-.8 .2-.8 .2 .1 .2 0 .1 .1 .2 .6 .2 .2 .2 0 .2-.1 .2 .2 .2 .3 .2 .1 .2-.4 .2-.3 .2 .2 .2 .7 .2 .7 .2 .4 .1 .2 .2-.4 .2 .2 .2 .2 .2 .1 .2-.4 .2-.7 .2-.5 .2-.7 .2-.5 .2-.5 .2-.2 .2 .1 .2-.2 .1 0 .2 .3 .2 .4 .2 .9 .2 1.2 .2 1.1 .2 .3 .2 .2 .2 .3 .2 .1 .2-.2 .2-.8 .2-.8 .1-.9 .2-.5 .2-.3 .2-.1 .2 .3 .2-.1 .2 0 .2-.1 .2 .1 .2 .6 .2 .3 .2 .1 .2 .3 .2-.2 .1-.2 .2 .2 .2-.3 .2-.2 .2-.3 .2 .1 .2 .5 .2 .4 .2 .4 .2 0 .2 .2 .2 .2 .2 0 .1-.1 .2-.2 .2 0 .2 .1 .2-.3 .2-1 .2-1 .2-.3 .2 .3 .2 .1 .2 0 .2 .1 .2 .1 .2 .3 .1 .4 .2 .3 .2 0 .2-.6 .2 0 .2 .1 .2 0 .2 0 .2-.2 .2 0 .2 .1 .2 0 .2-.4 .1-.1 .2 .4 .2 1 .2 .8 .2 .1 .2-.2 .2-.4 .2-.4 .2 .3 .2 .4 .2 .6 .2 .3 .2 0 .2-.1 .1-.9 .2-1.6 .2-1.4 .2-.5 .2 .6 .2 .7 .2 .4 .2 1.1 .2 .7 .2 .7 .2-.1 .2-.5 .2-.7 .1-.3 .2 .6 .2 .9 .2 1.1 .2 1.2 .2 0 .2-1.1 .2-2.2 .2-1.8 .2-.6 .2-.2 .2-.7 .2-.9 .2-1 .1-.3 .2 .1 .2 .4 .2 1 .2-.2 .2-.4 .2 .8 .2 2.3 .2 2 .2 2.6 .2 1.1 .2-1.1 .2-2.5 .1-.9 .2-.2 .2 .8 .2-.9 .2-1.9 .2 0 .2 0 .2 .1 .2 .2 .2 .6 .2 1.1 .2 1.6 .2 1.2 .2-.7 .1-1.4 .2-.8 .2 .6 .2 1 .2 1.4 .2 .1 .2-.8 .2-.4 .2-.7 .2-1.2 .2-1.1 .2-.3 .2 .2 .1-.2 .2 .1 .2 .1 .2 .2 .2-.4 .2 .3 .2 .4 .2-.1 .2 .2 .2 .2 .2 .1 .2-.3 .2 .1 .2-.4 .1-.1 .2 .1 .2 .2 .2 1.3 .2 1.1 .2 .4 .2-.3 .2 .3 .2-.1 .2-.1 .2 .2 .2-.5 .2-1.1 .2-.9 .1-.5 .2-.7 .2-.6 .2-1.1 .2-.9 .2-.3 .2 .8 .2 1.2 .2 1.3 .2 0 .2 .2 .2 .1 .2 0 .1 1.1 .2 1.2 .2-.4 .2-.6 .2-.2 .2 .2 .2 .7 .2-.1 .2-1 .2-1.5 .2-1.1 .2 .8 .2 .5 .2-.4 .1 0 .2 1.4 .2 1.1 .2 .7 .2 .4 .2-.8 .2-1.2 .2 1.3 .2 1.5 .2-1.4 .2-2.6 .2-.3 .2-.2 .1-.6 .2-.3 .2 .5 .2 1.8 .2 1.5 .2 3.4 .2 2 .2 .8 .2-.7 .2-2 .2-1.9 .2-1.2 .2 .2 .2 .2 .1-.6 .2 0 .2-1.2 .2 1.5 .2 2.8 .2 .6 .2-1.4 .2-.3 .2 .7 .2-1.3 .2-1.9 .2 .3 .2 2 .1-1.7 .2-2.7 .2-1.4 .2 1 .2 .5 .2 1.3 .2 1.8 .2 1.2 .2 .4 .2 .8 .2-.6 .2-.5 .2-1.6 .2-.6 .1 0 .2 1.5 .2 .5 .2-3.2 .2-2.5 .2-.6 .2 .2 .2 1.5 .2 .1 .2 1.2 .2 2.4 .2 2.1 .2 2.1 .1 .6 .2 .1 .2-.9 .2-1.3 .2-.8 .2-2.2 .2-2.7 .2-.9 .2-.8 .2 1.6 .2 1.5 .2-.4 .2-1.3 .2-2.9 .1-.8 .2 .8 .2 .8 .2 1.3 .2 2.1 .2 2 .2 1.6 .2 1 .2 .2 .2-1.3 .2-3 .2-3.4 .2-1.6 .1 .4 .2 1.1 .2-.6 .2 .1 .2 .2 .2 1.2 .2 .7 .2 .4 .2 .3 .2 3 .2 1.8 .2 1.6 .2-.2 .2 0 .1-.4 .2-.3 .2-.8 .2 .7 .2-.5 .2-1.2 .2-.9 .2-1.4 .2 .6 .2 0 .2-3.5 .2-1.7 .2-2.9 .2-1.2 .1 .8 .2 .6 .2 .7 .2 .4 .2 2.5 .2 2.5 .2 2.7 .2 2.6 .2 3.9 .2 2.7 .2 .6 .2-1.6 .2-4.9 .1-3.2 .2-2.3 .2-1.5 .2-2.2 .2 1.1 .2 .6 .2 1.7 .2 .2 .2-2.3 .2 .9 .2-.9 .2-3.5 .2-1.4 .2 2.2 .1 3.9 .2 3.3 .2 3.2 .2 1.9 .2 0 .2-1.2 .2-.4 .2 .8 .2-.9 .2-1.7 .2-1.2 .2-2 .2-2.1 .1-1.6 .2-1 .2-.6 .2-1 .2 .1 .2 1 .2 3.2 .2 4.6 .2 1.6 .2-.9 .2-1.2 .2-.4 .2-.8 .2 .5 .1 .2 .2-.5 .2 .2 .2-1 .2-1.3 .2-.3 .2-2.2 .2-1.7 .2 0 .2 2.7 .2 2 .2 .5 .2 .4 .1 2 .2 1.7 .2-.8 .2-1.8 .2-1 .2-3 .2-2.2 .2 2.6 .2 5.1 .2 2.8 .2 1.1 .2 .5 .2-2.5 .2-7.6 .1-3.6 .2 1.1 .2 2.4 .2 4 .2 2.5 .2 .1 .2 1.4 .2 .2 .2-1.1 .2-5 .2-5.1 .2 1.8 .2 3.3 .1-.1 .2-.7 .2-3 .2 .3 .2-.4 .2-.7 .2 4.5 .2 4.6 .2 4.3 .2 1.7 .2-1.7 .2-3.9 .2-2.3 .2-4 .1-1.5 .2-1.7 .2-2.5 .2 2 .2 3.3 .2 .3 .2-.4 .2-1.2 .2 0 .2 3 .2 4.6 .2 5.2 .2 2.1 .1-2.1 .2-4.8 .2-3.4 .2-1.2 .2-2.3 .2-3 .2-2.8 .2-1 .2 .6 .2 3.5 .2 3.8 .2 1.3 .2 .1 .2-.6 .1-2.1 .2 1.7 .2 5.5 .2 1.4 .2 1.4 .2 1.3 .2-2.9 .2-.6 .2-.4 .2-.2 .2 .6 .2 .1 .2 0 .1-.7 .2 3 .2 4.1 .2 2 .2 .1 .2-2.4 .2-3.9 .2-2.3 .2-3.5 .2-.9 .2 2.3 .2 1.2 .2-.3 .2-.7 .1 1.6 .2 2.5 .2 1.1 .2 2.8 .2 0 .2-4.6 .2-5.9 .2-4.2 .2 4.1 .2 3 .2-2.3 .2-3.3 .2-2.9 .2 .7 .1 .5 .2 .4 .2 5.1 .2 1 .2-.3 .2-2.7 .2-3.1 .2 1.8 .2 5.1 .2 4.4 .2 .2 .2 .4 .2-.2 .1-.9 .2-.2 .2 .1 .2 .5 .2 1 .2-1.4 .2-1.9 .2-4.2 .2-3.3 .2 .4 .2 2.9 .2 .6 .2 .9 .2 1.5 .1 1 .2-5.3 .2-5.5 .2-.1 .2-.2 .2-1 .2-.7 .2 .9 .2 3.1 .2-.5 .2-1.8 .2-.7 .2 1 .1 5.6 .2 5.9 .2 2.9 .2 .3 .2 .5 .2-2.4 .2-2.6 .2-7.2 .2-5.8 .2-2.9 .2-2.5 .2-.7 .2 2.4 .2 6.6 .1 5.9 .2 3.8 .2 4.3 .2 .6 .2-1.5 .2 .4 .2 2.1 .2-1.1 .2-4.2 .2-3.3 .2-2.5 .2-3.5 .2-3 .1-.2 .2 1.9 .2 2.5 .2 4.1 .2 .6 .2-2.1 .2-2.9 .2 1.2 .2 5.7 .2 4.6 .2 .9 .2-.5 .2-.8 .2-2.8 .1-4.2 .2-4.3 .2-2.6 .2 .3 .2 .7 .2-.5 .2-.1 .2 .6 .2-2.1 .2-3.9 .2 0 .2 2.1 .2 2.6 .1 2.2 .2 2.9 .2 2.4 .2-3.5 .2 .7 .2 3.4 .2 3.4 .2 .7 .2 1.3 .2 0 .2 .8 .2-2.7 .2-2.2 .2-2.4 .1-5.1 .2-1.5 .2 3.3 .2 6 .2 2.4 .2-.3 .2-2.1 .2-3 .2-1.9 .2-.5 .2-4.2 .2-1.8 .2 3.6 .1 7.4 .2 4.1 .2-.7 .2-3.6 .2 .1 .2 1.6 .2-2.7 .2 .4 .2-3.5 .2-.5 .2-2.2 .2-3.4 .2-2.1 .2-.6 .1 .4 .2 1.7 .2 3.1 .2 2.1 .2 3.4 .2 .8 .2-.7 .2-1.6 .2 1.7 .2 .3 .2 2.2 .2 1.5 .2 3.7 .2-.5 .1-3.4 .2-7.2 .2-6.5 .2-1.8 .2 1.6 .2 3.2 .2 5.3 .2 4 .2-2.7 .2-4.5 .2-4.2 .2-2.3 .2-1.9 .1-.7 .2 2.5 .2 1.9 .2 2.3 .2 .9 .2-2.1 .2-2.1 .2-1.8 .2 .2 .2 3.5 .2 3.3 .2 5.6 .2 4.6 .2 3.6 .1 .8 .2-.4 .2-1.8 .2-5.2 .2-5.7 .2 1.4 .2 4.4 .2 .2 .2-3.7 .2-1.6 .2-4.4 .2-4.2 .2-.1 .1 3.9 .2-.1 .2 1 .2 2.1 .2 4.5 .2 6.5 .2 5.1 .2 2.4 .2-4 .2-8.3 .2-12.2 .2-10.4 .2-6 .2-2.7 .1-.8 .2 2.4 .2 6.6 .2 7.3 .2 10.2 .2 12 .2 6.8 .2 2.5 .2-4 .2-10.1 .2-16.4 .2-16.7 .2-7.8 .1 7.6 .2 16.7 .2 14.6 .2 5.8 .2-2.7 .2-7 .2-8.7 .2-2 .2 .1 .2 1.2 .2 .1 .2 7.8 .2 4.1 .2-6.1 .1-6.9 .2-.7 .2 5.2 .2 1.2 .2-.3 .2 3.1 .2-.1 .2-1.6 .2 .9 .2 4.5 .2-4.1 .2-8.8 .2-.2 .1 9.3 .2 8 .2 6.1 .2-2.3 .2-3.8 .2 2.1 .2 7.7 .2 9.5 .2 4.7 .2 2.1 .2-1.4 .2-5.6 .2-8.9 .2-7.5 .1 2.2 .2-.9 .2 5 .2 2.1 .2-7.3 .2-13.5 .2-19 .2-19.5 .2-9.4 .2 10.4 .2 22 .2 22.7 .2 13.9 .1-3.5 .2-8.6 .2-5 .2-3.3 .2 2 .2 5.8 .2-1.3 .2-5.8 .2-5.9 .2 4.1 .2 14.2 .2 15.3 .2 10.2 .2-.8 .1-11.5 .2-14.9 .2-11.1 .2-9.2 .2-3.3 .2-2.3 .2 9.4 .2 14.8 .2 8.8 .2-1.1 .2-7.6 .2-5.6 .2-1.2 .1-7.5 .2-9 .2 3.7 .2 13.2 .2 15.7 .2 18 .2 12.6 .2-.8 .2-16.5 .2-27.5 .2-29 .2-19.1 .2-4.1 .2 13.8 .1 29.1 .2 38.9 .2 35.5 .2 17.4 .2-10.4 .2-38.3 .2-55.3 .2-53.8 .2-32.5 .2 7 .2 41.9 .2 60.5 .2 58.8 .2 37.5 .1 3.6 .2-31.5 .2-51.8 .2-53.4 .2-37.4 .2-10.1 .2 17.5 .2 36.1 .2 42 .2 33.7 .2 15.8 .2-5.3 .2-22.7 .1-32.2 .2-31 .2-18 .2 1.8 .2 17.5 .2 22.3 .2 22.2 .2 14.2 .2 8.4 .2 .2 .2-7.5 .2-10.9 .2-6.5 .2-1.1 .1-1.2 .2-11.8 .2-13.2 .2-9.5 .2 2.8 .2 12.1 .2 20.1 .2 21.7 .2 10.5 .2-6.5 .2-20.7 .2-25.4 .2-19.2 .1-1.3 .2 21.9 .2 25.9 .2 11.3 .2-13.6 .2-25.4 .2-32.6 .2-26.4 .2-1.4 .2 27.4 .2 39.3 .2 29.7 .2 8 .2-12 .1-9.4 .2-11.8 .2-15.9 .2-7.1 .2 3.3 .2 6 .2-4.9 .2-9.8 .2-.5 .2 7.6 .2 13.6 .2 20.2 .2 25 .1 16.7 .2-1 .2-18.3 .2-26.4 .2-21.9 .2-13.3 .2-10.7 .2-4.6 .2 1.5 .2 11.4 .2 8.6 .2 8.2 .2 10.9 .2 11.1 .1 3.7 .2-1.2 .2 4.3 .2 5.6 .2 4 .2-3.5 .2-9.8 .2-11.1 .2-9.1 .2-7.6 .2-3.8 .2 1.6 .2-2.3 .1-2.9 .2 1.1 .2 7 .2 7.4 .2 4 .2 3.5 .2 4.4 .2 7.8 .2-1.6 .2 1.1 .2-4.4 .2 .6 .2 2.7 .2-.8 .1-1.1 .2-2.4 .2-6.8 .2-5.9 .2-3.5 .2 2 .2 3.3 .2-.1 .2 1.4 .2 3.1 .2 4.5 .2 0 .2-4.2 .1-4.6 .2-1.6 .2-.5 .2 3.8 .2 5 .2 .7 .2 .4 .2-2.9 .2-.2 .2 3.8 .2 5.1 .2 3.2 .2 0 .2-7.7 .1-10.9 .2-6 .2-.8 .2 3.9 .2 5.7 .2 .8 .2-3.4 .2-.2 .2 2.3 .2 2.1 .2 .3 .2-2.1 .2-1.6 .2-5.3 .1-6.3 .2-4.8 .2 1 .2 1.5 .2 1.7 .2 .9 .2 1.8 .2 6.1 .2 2.7 .2-2.6 .2-1.8 .2 5 .2 5.1 .1 2.7 .2 7.8 .2-.3 .2-5.7 .2-5.2 .2-6.9 .2-4.4 .2-9 .2-8.9 .2-1.6 .2 1.8 .2 5.3 .2 10.5 .2 12.6 .1 10.2 .2 3.3 .2-1.9 .2-5.8 .2-3.3 .2 .2 .2 3.2 .2-1.4 .2-1.8 .2-.4 .2 1.5 .2 3.2 .2-.1 .1-7.6 .2-9 .2 1.4 .2 3.6 .2-.6 .2-2.6 .2 2.3 .2 1.6 .2 .1 .2-5.9 .2-8.4 .2-4.8 .2 3 .2 5.3 .1 3.5 .2 2.1 .2 1.3 .2 5 .2 4.6 .2 4.3 .2 4.4 .2 2.5 .2-1.2 .2-3.6 .2-2.5 .2-5.7 .2 1.6 .1 3.8 .2-5.4 .2-7.3 .2-7 .2 .6 .2 7.8 .2 6.5 .2-2 .2-8 .2-.1 .2 2.1 .2 .8 .2-4.7 .2-2.8 .1 1.2 .2-.6 .2 1.3 .2-2.1 .2 0 .2 5.4 .2 8 .2 4.7 .2 .4 .2-2.7 .2-7.7 .2-5.4 .2-2.3 .1-5.4 .2-2.5 .2-.9 .2 .3 .2 2 .2 .7 .2 5.1 .2 8.1 .2 10.8 .2 6.8 .2-2.7 .2-5.1 .2 3.1 .2-4 .1 2.2 .2 4.2 .2-7.4 .2-15.4 .2-10.1 .2-4.3 .2 1.6 .2 3 .2-1.8 .2-.2 .2 3.4 .2 5.7 .2 8.4 .1 12.8 .2 9.2 .2-1.4 .2-7.6 .2-1 .2 3 .2 .3 .2-8.3 .2-.9 .2 .3 .2 1.5 .2-1.8 .2 0 .2 4.1 .1-1.7 .2-2.6 .2-3.1 .2-5.4 .2-.4 .2 2.3 .2 .9 .2 1.6 .2 .3 .2 .6 .2 2.9 .2-6.8 .2-4.3 .1 .6 .2 1.9 .2 10.8 .2 4.5 .2 1.7 .2-9.7 .2-3.5 .2 2.9 .2 3 .2-2.6 .2-.2 .2 .3 .2 6.4 .2 1.4 .1-7.1 .2-4.5 .2-4.5 .2-1.2 .2-1.6 .2 3.4 .2 9.3 .2 9.9 .2 1 .2-3.3 .2-5.6 .2-12.2 .2-.4 .2 5.6 .1 5.3 .2 4.8 .2 3.4 .2-6.2 .2-7.5 .2-5 .2-3 .2 2.1 .2 7 .2 7.5 .2 4.9 .2 2.2 .2 3.5 .1 2.3 .2-2.6 .2-5 .2-1.4 .2-2.9 .2-1.3 .2 9.4 .2 4.2 .2 2.3 .2-3.5 .2-7.2 .2-6.5 .2-8.3 .2-1.8 .1-2.8 .2-2.1 .2-1 .2-.9 .2 .5 .2 2.9 .2-2.9 .2-.5 .2 4.4 .2 7 .2 5.4 .2 2.3 .2 .2 .1 1.4 .2 4.4 .2-.1 .2-.8 .2-1 .2-3.1 .2-1.3 .2-3.2 .2-.1 .2 3.9 .2 2 .2-5.6 .2 .2 .2 2.1 .1-1.8 .2-3.7 .2-3.7 .2-5.5 .2-.3 .2 3.6 .2 14.4 .2 7.1 .2 .7 .2-.5 .2 .1 .2-2 .2-1.8 .1-5.5 .2-7.2 .2-3.9 .2 4.5 .2-.2 .2-1.2 .2-3.8 .2 2.7 .2-.2 .2-.9 .2 1.5 .2 9.3 .2 1.6 .2 .1 .1 2 .2 2.6 .2 1.6 .2-.3 .2-3.5 .2-7.1 .2-9.7 .2-3.6 .2-1.4 .2 2.4 .2 .7 .2 2 .2 4 .1 5.9 .2 5.4 .2 1.8 .2 .4 .2-.2 .2-.8 .2-2.2 .2 .7 .2 .7 .2-4 .2-4 .2-4.2 .2-3.8 .2-1.3 .1 .5 .2 4.6 .2 5.4 .2 .6 .2 3.1 .2-2.9 .2-4 .2 2 .2 6 .2 .7 .2-2.8 .2-6 .2-4.4 .1-4.8 .2-3.5 .2 1.1 .2 4.3 .2 7 .2 3 .2 7 .2 3.7 .2 1.6 .2-1.8 .2-4.1 .2-2.3 .2-2.9 .2-.7 .1 2 .2 1 .2 .3 .2-3 .2 1.9 .2 3.4 .2-4.6 .2-5.2 .2-6.1 .2-6.8 .2-1.3 .2 2.4 .2 4.1 .2 .2 .1-3.6 .2-.3 .2 3.9 .2 7.6 .2 7.7 .2 6.5 .2-3.8 .2-5.3 .2-2.6 .2-3.3 .2-2.5 .2 .4 .2 6.5 .1 9.7 .2 3.9 .2-6.3 .2-3.2 .2-4 .2-6.2 .2-.3 .2 .8 .2 .7 .2 1 .2 2.9 .2 2.9 .2 .8 .2-5.6 .1-5 .2 1.7 .2 4.5 .2 3.4 .2 2.4 .2-.4 .2 1.3 .2-.7 .2-5.5 .2-3.7 .2-4.6 .2 0 .2 6.3 .1 4.6 .2 .7 .2-.2 .2 3.3 .2 3.3 .2 .5 .2-1.2 .2-7.2 .2-2.9 .2-.5 .2-.9 .2-2.8 .2-1 .2-1.1 .1 1.5 .2 1.1 .2 3.4 .2 5.5 .2 1.8 .2 2 .2-1.4 .2-2.8 .2-4.9 .2 .2 .2 .8 .2-1.3 .2-2.7 .1-.5 .2-1.5 .2-2.2 .2 3 .2 6.4 .2 3.5 .2 2 .2 .3 .2-.7 .2-1.9 .2-3.9 .2-2.7 .2-1.2 .2-.7 .1 2.4 .2 4.9 .2 4 .2 2.1 .2 .7 .2 .1 .2-.1 .2-2.3 .2-1.7 .2-.5 .2-.5 .2-3.2 .2-3.9 .1-.7 .2-2.5 .2-3.8 .2-.8 .2 1.1 .2 1.1 .2 2 .2 3.3 .2 3.1 .2 1.2 .2 .2 .2-.3 .2 1.1 .2 1.2 .1-.5 .2 2.1 .2 3.5 .2-.8 .2-2.2 .2-.8 .2-1.2 .2-3.2 .2-1.5 .2-.9 .2-.6 .2-2 .2-3.3 .1-.5 .2 1.1 .2 .4 .2 1.2 .2 3.1 .2 2.9 .2 2.4 .2 3.3 .2 1.9 .2 3 .2-.8 .2-3.2 .2-.6 .2-.1 .1-.6 .2 .6 .2-1.1 .2 .6 .2-3.9 .2-2.6 .2-2.3 .2 2.1 .2 .9 .2 0 .2-1 .2-1.5 .2-.6 .1 .3 .2 3 .2 4.3 .2 3.8 .2 .6 .2 .2 .2-1.3 .2 0 .2-.7 .2 0 .2-1.9 .2-1.8 .2-2.5 .2-3.5 .1 .5 .2 4.7 .2 3.5 .2 .4 .2-2.5 .2 .3 .2-.4 .2-2.8 .2-2 .2-1.4 .2-1.2 .2 1.8 .2 3.6 .2 .5 .1 1.3 .2-.8 .2-.4 .2-.6 .2 .1 .2-.5 .2-2 .2-2.5 .2-.5 .2-2.8 .2-2.3 .2-1.9 .2-.4 .1 1.1 .2 4 .2 3.5 .2 3.7 .2 3 .2 1.9 .2 1 .2-.3 .2-1 .2-1.5 .2-3.3 .2 1.2 .2 .3 .2-.6 .1-.8 .2 2.1 .2-2.4 .2-5.5 .2-2.3 .2 .2 .2 2.8 .2 3.8 .2 1.8 .2 2.9 .2 1.7 .2 1.4 .2 0 .1 .4 .2 0 .2-1.3 .2-.1 .2-.4 .2-1.5 .2-3.6 .2-3.9 .2-2.7 .2-1.6 .2-.6 .2-1 .2 .7 .2 2.4 .1 5.9 .2 3.1 .2 1.6 .2 .1 .2 .6 .2 1 .2 1.6 .2-.5 .2-1.5 .2-3.3 .2-1.5 .2-2.8 .2-1.8 .1 .5 .2 .8 .2 0 .2 1.3 .2 1.4 .2-.9 .2-.1 .2 .9 .2 2.2 .2 4.8 .2 2.7 .2-.6 .2-1.4 .2-1.9 .1-6.1 .2-9 .2-3.8 .2-.7 .2 1.4 .2 4 .2 3.9 .2 1.7 .2 .8 .2 2.4 .2 2.1 .2 1 .2 2.7 .1 2.3 .2 .6 .2 .1 .2-1.3 .2-1.5 .2-.4 .2-1.4 .2-1.3 .2 .6 .2-.9 .2-2 .2-.3 .2-.5 .2-1.7 .1 2.7 .2 .8 .2-1.3 .2-.8 .2-.7 .2-.3 .2 .2 .2-4 .2 1.3 .2 3.9 .2 3.5 .2 2.9 .2 1.3 .1-.1 .2-2 .2-.6 .2-.4 .2 1.7 .2 .8 .2 .7 .2-1.4 .2-3.4 .2-3.8 .2-2.9 .2-3.5 .2-2 .2-1.2 .1 .3 .2 1.9 .2 2.3 .2 2.3 .2 .1 .2 1.4 .2 4.9 .2 3.4 .2 2.7 .2 1.9 .2 .9 .2-.7 .2-2 .2-4.4 .1-2.9 .2-1.8 .2-.9 .2-.9 .2-1.1 .2 .1 .2-.4 .2-1.6 .2-.4 .2-.5 .2 .4 .2 1.1 .2 3.5 .1 2.9 .2 .6 .2 1.8 .2 1 .2-2 .2-1 .2 0 .2-1.4 .2-1.2 .2 .1 .2 3 .2-.9 .2-1.1 .2-.9 .1-1.1 .2-1.4 .2 .6 .2 2.5 .2 2.7 .2 1.1 .2-.8 .2-.9 .2 .1 .2-1.1 .2-2 .2-2.1 .2-3.1 .1-1.5 .2-.6 .2 .6 .2 2.8 .2 .6 .2-.4 .2 2 .2 2.6 .2 .5 .2-.9 .2-.4 .2-1.4 .2 .6 .2 2.5 .1 2.2 .2 .3 .2-2.5 .2-3.1 .2-2.6 .2-1.7 .2 .1 .2 .4 .2 .8 .2 2 .2 1.6 .2 .2 .2-.5 .1 0 .2 .8 .2 1.1 .2 .7 .2-.3 .2-1.2 .2-.3 .2 1.5 .2 .4 .2-1.3 .2-1.5 .2-.4 .2 .3 .2 .6 .1-.8 .2-.3 .2 .2 .2 2.4 .2-.4 .2-1.3 .2-.8 .2 .3 .2 1.3 .2 1.8 .2 .9 .2 2.1 .2 1.7 .1 .1 .2-1.3 .2-1.1 .2-2.3 .2-2.3 .2-1.6 .2-1.3 .2-.2 .2-.2 .2-.8 .2-.9 .2 .2 .2 .6 .2 .5 .1 .9 .2 2.1 .2 1.8 .2 1.6 .2 2.2 .2 1 .2-.3 .2-.4 .2-.8 .2-1.8 .2-3 .2-2.1 .2-1 .1 .4 .2 .8 .2 .8 .2-.2 .2-.3 .2 0 .2 .7 .2-.1 .2 .8 .2 2.3 .2 1.8 .2 0 .2 .4 .2-.8 .1-.5 .2-.8 .2-1.8 .2-.8 .2 .9 .2-.7 .2-.8 .2-.2 .2 .2 .2 .3 .2 .9 .2 .1 .2-.8 .1-.7 .2-.4 .2 .7 .2 1.7 .2 .4 .2-.7 .2 .5 .2 .8 .2 1.1 .2 .1 .2-1.5 .2-.8 .2 0 .2 .2 .1 .3 .2-.3 .2-.5 .2-.2 .2 .9 .2 .4 .2-.3 .2-.7 .2-.8 .2 .1 .2-.3 .2-1.2 .2-.7 .2 0 .1 1.5 .2 2.6 .2 1.7 .2 .2 .2-.3 .2-.1 .2-1.5 .2-2 .2-1.9 .2 .3 .2 1.7 .2 1 .2-.3 .1-1.2 .2-.4 .2-.8 .2-.4 .2-.3 .2 .1 .2 .5 .2 1 .2 2.1 .2 2.5 .2 .6 .2 .2 .2 0 .2-1.3 .1-2.5 .2-1.6 .2-.7 .2 .3 .2 .2 .2-1.1 .2-.2 .2 .3 .2 .6 .2 .3 .2 .4 .2-.1 .2-.5 .1 .9 .2 .2 .2 .1 .2-.1 .2 0 .2 .4 .2-.2 .2-1.1 .2-.3 .2 .3 .2 .6 .2 .9 .2-.2 .2-.2 .1 .9 .2 .1 .2 1.2 .2 .5 .2-.4 .2-.6 .2-1.1 .2-.8 .2-.7 .2-.1 .2 .1 .2 .2 .2-1 .1-1.3 .2-.2 .2 .7 .2 .8 .2 .3 .2-.4 .2-.5 .2 .6 .2 1.6 .2 .8 .2 .7 .2 .4 .2 .6 .2 .3 .1-1.1 .2-.4 .2-.3 .2-1 .2-.5 .2 .7 .2 .1 .2-.2 .2 .4 .2-.4 .2 .8 .2-.1 .2-1 .1-.1 .2 .5 .2 1.3 .2 .2 .2 1.4 .2 1 .2 .6 .2-.1 .2-.7 .2-.8 .2-1 .2-.5 .2-.1 .2-.1 .1-.7 .2 0 .2 .5 .2 .9 .2-.8 .2-1.3 .2-.9 .2 .2 .2 .2 .2 .9 .2 1 .2 .9 .2 .9 .1 .3 .2 .2 .2-.3 .2-.8 .2-1.1 .2-.6 .2-.2 .2 .1 .2 .4 .2-.1 .2 .1 .2 .4 .2 .2 .2 0 .1 .1 .2-.4 .2-.2 .2 0 .2-.2 .2-.5 .2-.2 .2 0 .2 .2 .2 0 .2 0 .2 .1 .2 .1 .2 .1 .1 0 .2 .2 .2 .1 .2-.1 .2-.1 .2 0 .2-.1 .2-.1 .2 .2 .2 .1 .2 .1 .2 0 .2 .1 .1 0 .2-.1 .2 0 .2-.2 .2-.1 .2 0 .2 0 .2 0 .2 .1 .2 0 .2 .1 .2 0 .2-.1 .2 .1 .1 0 .2-.1 .2 0 .2 .1 .2 0 .2 0 .2 0 .2 0 .2-.1 .2-.1 .2-.1 .2 0 .2 0 .1 0 .2 .1 .2 0 .2 0 .2 0 .2 0 .2 0 .2 .1 .2 0 .2 0 .2 0 .2 0 .2 0 .2 0 .1-.1 .2 0 .2 0 .2 0 .2 0 .2 .1 .2 0 .2 0 .2 0 .2 0 .2-.1 .2 0 .2 0 .1 0 .2 0 .2 0 .2 .1 .2 0 .2 0 .2 0 .2 0 .2 0 .2 0 .2 0 .2 0 .2 0 .2 0 .1 0 .2 0 .2 0 .2 0 .2 0 .2 0 .2 0 .2 0 .2-.1 .2 0 .2 0 .2 0 .2 0 .1 0 .2 0 .2 0 .2 0 .2 0 .2 0 .2 0 .2 .1 .2 0 .2 0 .2 0 .2 0 .2 0 .2 0 .1 0 .2 0 .2 0 .2 0" stroke="#ff9500"/>
</g>
<path d="M46.0 25.0 H672.0 V415.0 H46.0 ZM46.0 415.0 v-6.3 M46.0 25.0 v6.3M94.2 415.0 v-6.3 M94.2 25.0 v6.3M142.3 415.0 v-6.3 M142.3 25.0 v6.3M190.5 415.0 v-6.3 M190.5 25.0 v6.3M238.6 415.0 v-6.3 M238.6 25.0 v6.3M286.8 415.0 v-6.3 M286.8 25.0 v6.3M334.9 415.0 v-6.3 M334.9 25.0 v6.3M383.1 415.0 v-6.3 M383.1 25.0 v6.3M431.2 415.0 v-6.3 M431.2 25.0 v6.3M479.4 415.0 v-6.3 M479.4 25.0 v6.3M527.5 415.0 v-6.3 M527.5 25.0 v6.3M575.7 415.0 v-6.3 M575.7 25.0 v6.3M623.8 415.0 v-6.3 M623.8 25.0 v6.3M672.0 415.0 v-6.3 M672.0 25.0 v6.3M46.0 415.0 h6.3 M672.0 415.0 h-6.3M46.0 359.3 h6.3 M672.0 359.3 h-6.3M46.0 303.6 h6.3 M672.0 303.6 h-6.3M46.0 247.9 h6.3 M672.0 247.9 h-6.3M46.0 192.1 h6.3 M672.0 192.1 h-6.3M46.0 136.4 h6.3 M672.0 136.4 h-6.3M46.0 80.7 h6.3 M672.0 80.7 h-6.3M46.0 25.0 h6.3 M672.0 25.0 h-6.3" fill="none" stroke="#2b2b2b" stroke-width="1.5" stroke-linecap="square"/>
<g font-size="15.2" fill="#2b2b2b"><text x="46.0" y="436.5" text-anchor="middle">0</text><text x="94.2" y="436.5" text-anchor="middle">10</text><text x="142.3" y="436.5" text-anchor="middle">20</text><text x="190.5" y="436.5" text-anchor="middle">30</text><text x="238.6" y="436.5" text-anchor="middle">40</text><text x="286.8" y="436.5" text-anchor="middle">50</text><text x="334.9" y="436.5" text-anchor="middle">60</text><text x="383.1" y="436.5" text-anchor="middle">70</text><text x="431.2" y="436.5" text-anchor="middle">80</text><text x="479.4" y="436.5" text-anchor="middle">90</text><text x="527.5" y="436.5" text-anchor="middle">100</text><text x="575.7" y="436.5" text-anchor="middle">110</text><text x="623.8" y="436.5" text-anchor="middle">120</text><text x="672.0" y="436.5" text-anchor="middle">130</text><text x="40.0" y="421.3" text-anchor="end">-6</text><text x="40.0" y="365.6" text-anchor="end">-4</text><text x="40.0" y="309.9" text-anchor="end">-2</text><text x="40.0" y="254.2" text-anchor="end">0</text><text x="40.0" y="198.5" text-anchor="end">2</text><text x="40.0" y="142.8" text-anchor="end">4</text><text x="40.0" y="87.1" text-anchor="end">6</text><text x="40.0" y="31.3" text-anchor="end">8</text></g>
<text x="0.9" y="14.6" font-size="19.2" font-weight="bold" fill="#111">(a)</text>
<g fill="#2b2b2b"><text x="46.8" y="22.1" font-size="18.5">&#215;</text><text x="58.8" y="21.2" font-size="15.8">10</text><text x="76.5" y="14.7" font-size="11.9">-4</text></g>
<text x="359.5" y="458.4" font-size="16.5" fill="#2b2b2b" text-anchor="middle">Time (s)</text>
<text transform="translate(18.6 219.3) rotate(-90)" font-size="16.5" fill="#2b2b2b" text-anchor="middle">Displacement (m)</text>
<rect x="95.5" y="45.9" width="273.2" height="158.9" fill="#fff"/>
<g id="ia-curves" fill="none" stroke-width="1.7" stroke-linejoin="round">
<path d="M95.5 157.4l3.1-2.4 3-2.7 3.1-2.8 3.1-3 3-3.2 3.1-3.2 3.1-3.3 3.1-3.4 3-3.5 3.1-3.4 3.1-3.4 3-3.4 3.1-3.3 3.1-3.2 3-3 3.1-3 3.1-2.7 3.1-2.6 3-2.4 3.1-2.1 3.1-2 3-1.7 3.1-1.4 3.1-1.1 3-.9 3.1-.5 3.1-.2 3.1 .1 3 .5 3.1 .9 3.1 1.2 3 1.6 3.1 1.8 3.1 2.1 3 2.3 3.1 2.5 3.1 2.7 3 2.9 3.1 3 3.1 3 3.1 3.1 3 3.2 3.1 3.2 3.1 3.1 3 3.1 3.1 3 3.1 2.9 3 2.8 3.1 2.6 3.1 2.4 3.1 2.2 3 1.9 3.1 1.8 3.1 1.5 3 1.4 3.1 1.2 3.1 .9 3 .8 3.1 .7 3.1 .4 3 .3 3.1 .2 3.1 0 3.1-.1 3-.3 3.1-.3 3.1-.5 3-.6 3.1-.7 3.1-.8 3-.9 3.1-1 3.1-1.1 3.1-1.1 3-1.2 3.1-1.3 3.1-1.4 3-1.4 3.1-1.5 3.1-1.5 3-1.6 3.1-1.6 3.1-1.6 3.1-1.6 3-1.7 3.1-1.7 3.1-1.7 3-1.7 3.1-1.7" stroke="#000000"/>
<path d="M95.5 165.4l3.1-2.7 3-2.9 3.1-3.1 3.1-3.3 3-3.5 3.1-3.7 3.1-3.7 3.1-3.9 3-3.9 3.1-3.9 3.1-4 3-3.9 3.1-4 3.1-3.8 3-3.8 3.1-3.7 3.1-3.5 3.1-3.4 3-3.2 3.1-3 3.1-2.8 3-2.5 3.1-2.2 3.1-1.9 3-1.7 3.1-1.2 3.1-.9 3.1-.5 3 0 3.1 .3 3.1 .9 3 1.2 3.1 1.6 3.1 2 3 2.3 3.1 2.6 3.1 2.8 3 3.1 3.1 3.2 3.1 3.5 3.1 3.5 3 3.7 3.1 3.7 3.1 3.8 3 3.8 3.1 3.7 3.1 3.7 3 3.6 3.1 3.5 3.1 3.4 3.1 3.1 3 3 3.1 2.7 3.1 2.6 3 2.3 3.1 2 3.1 1.9 3 1.7 3.1 1.4 3.1 1.2 3 1 3.1 .8 3.1 .6 3.1 .3 3 .1 3.1-.1 3.1-.3 3-.5 3.1-.8 3.1-.9 3-1.1 3.1-1.2 3.1-1.4 3.1-1.5 3-1.7 3.1-1.8 3.1-1.8 3-2 3.1-2.1 3.1-2.1 3-2.2 3.1-2.2 3.1-2.3 3.1-2.3 3-2.3 3.1-2.3 3.1-2.3 3-2.3 3.1-2.3" stroke="#ff0000"/>
<path d="M95.5 176.8l3.1-3.1 3-3.3 3.1-3.7 3.1-3.8 3-4 3.1-4.3 3.1-4.3 3.1-4.5 3-4.6 3.1-4.7 3.1-4.7 3-4.7 3.1-4.7 3.1-4.7 3-4.6 3.1-4.6 3.1-4.4 3.1-4.2 3-4.1 3.1-3.8 3.1-3.7 3-3.4 3.1-3 3.1-2.8 3-2.4 3.1-2 3.1-1.7 3.1-1.2 3-.7 3.1-.2 3.1 .2 3 .8 3.1 1.3 3.1 1.7 3 2.2 3.1 2.5 3.1 2.9 3 3.2 3.1 3.5 3.1 3.8 3.1 3.9 3 4.1 3.1 4.3 3.1 4.3 3 4.5 3.1 4.5 3.1 4.5 3 4.4 3.1 4.4 3.1 4.3 3.1 4.1 3 4 3.1 3.8 3.1 3.6 3 3.4 3.1 3.1 3.1 2.9 3 2.7 3.1 2.5 3.1 2.2 3 2 3.1 1.8 3.1 1.4 3.1 1.3 3 .9 3.1 .7 3.1 .5 3 .1 3.1-.1 3.1-.5 3-.7 3.1-1 3.1-1.2 3.1-1.5 3-1.7 3.1-1.9 3.1-2.1 3-2.3 3.1-2.4 3.1-2.6 3-2.6 3.1-2.8 3.1-2.9 3.1-2.9 3-3.1 3.1-3 3.1-3 3-3.1 3.1-3.1" stroke="#ba55d3"/>
<path d="M95.5 163.3l3.1-2.7 3-2.8 3.1-3.1 3.1-3.2 3-3.4 3.1-3.6 3.1-3.7 3.1-3.7 3-3.8 3.1-3.9 3.1-3.8 3-3.9 3.1-3.8 3.1-3.7 3-3.6 3.1-3.6 3.1-3.4 3.1-3.2 3-3 3.1-2.9 3.1-2.6 3-2.3 3.1-2.1 3.1-1.8 3-1.4 3.1-1.1 3.1-.8 3.1-.3 3 .1 3.1 .5 3.1 .9 3 1.4 3.1 1.7 3.1 2 3 2.4 3.1 2.6 3.1 2.9 3 3 3.1 3.3 3.1 3.4 3.1 3.5 3 3.6 3.1 3.7 3.1 3.7 3 3.7 3.1 3.6 3.1 3.6 3 3.5 3.1 3.3 3.1 3.2 3.1 3 3 2.7 3.1 2.6 3.1 2.3 3 2.2 3.1 1.9 3.1 1.7 3 1.5 3.1 1.2 3.1 1.1 3 .8 3.1 .7 3.1 .4 3.1 .2 3 0 3.1-.2 3.1-.5 3-.6 3.1-.7 3.1-1 3-1.1 3.1-1.3 3.1-1.3 3.1-1.6 3-1.6 3.1-1.7 3.1-1.9 3-1.9 3.1-2 3.1-2 3-2.2 3.1-2.1 3.1-2.2 3.1-2.2 3-2.2 3.1-2.2 3.1-2.2 3-2.2 3.1-2.2" stroke="#00ff00"/>
<path d="M95.5 167.5l3.1-2.7 3-2.9 3.1-3.1 3.1-3.3 3-3.6 3.1-3.6 3.1-3.8 3.1-3.9 3-4 3.1-4.1 3.1-4.1 3-4.1 3.1-4.1 3.1-4.1 3-4 3.1-4 3.1-3.8 3.1-3.8 3-3.6 3.1-3.4 3.1-3.2 3-2.9 3.1-2.7 3.1-2.4 3-2 3.1-1.7 3.1-1.3 3.1-.9 3-.5 3.1 .1 3.1 .5 3 1 3.1 1.4 3.1 1.8 3 2.2 3.1 2.5 3.1 2.8 3 3.1 3.1 3.3 3.1 3.6 3.1 3.7 3 3.8 3.1 4 3.1 4.1 3 4.1 3.1 4.1 3.1 4.1 3 4.1 3.1 4 3.1 3.8 3.1 3.7 3 3.6 3.1 3.3 3.1 3.2 3 2.9 3.1 2.8 3.1 2.4 3 2.3 3.1 2 3.1 1.8 3 1.5 3.1 1.3 3.1 1 3.1 .7 3 .4 3.1 .2 3.1-.2 3-.4 3.1-.6 3.1-1 3-1.1 3.1-1.4 3.1-1.5 3.1-1.8 3-1.9 3.1-2 3.1-2.2 3-2.4 3.1-2.4 3.1-2.5 3-2.6 3.1-2.6 3.1-2.7 3.1-2.7 3-2.7 3.1-2.8 3.1-2.7 3-2.6 3.1-2.7" stroke="#00ffff"/>
<path d="M95.5 164.7l3.1-2.7 3-3 3.1-3.2 3.1-3.3 3-3.6 3.1-3.7 3.1-3.8 3.1-3.9 3-4 3.1-4 3.1-4.1 3-4 3.1-4 3.1-3.9 3-3.9 3.1-3.7 3.1-3.6 3.1-3.4 3-3.2 3.1-3 3.1-2.8 3-2.5 3.1-2.3 3.1-1.9 3-1.5 3.1-1.3 3.1-.8 3.1-.4 3 0 3.1 .5 3.1 .9 3 1.4 3.1 1.7 3.1 2.2 3 2.5 3.1 2.7 3.1 3.1 3 3.2 3.1 3.5 3.1 3.6 3.1 3.8 3 3.9 3.1 3.9 3.1 3.9 3 4 3.1 3.9 3.1 3.8 3 3.7 3.1 3.6 3.1 3.4 3.1 3.2 3 3 3.1 2.7 3.1 2.6 3 2.2 3.1 2.1 3.1 1.9 3 1.6 3.1 1.4 3.1 1.2 3 .9 3.1 .8 3.1 .5 3.1 .3 3 .1 3.1-.2 3.1-.3 3-.6 3.1-.7 3.1-1 3-1.1 3.1-1.2 3.1-1.5 3.1-1.5 3-1.7 3.1-1.8 3.1-1.9 3-2 3.1-2 3.1-2.2 3-2.2 3.1-2.3 3.1-2.3 3.1-2.3 3-2.4 3.1-2.3 3.1-2.4 3-2.3 3.1-2.4" stroke="#ff00ff"/>
<path d="M95.5 193.8l3.1-3.8 3-4.1 3.1-4.5 3.1-4.9 3-5.1 3.1-5.4 3.1-5.6 3.1-5.8 3-6 3.1-6.1 3.1-6.3 3-6.3 3.1-6.4 3.1-6.4 3-6.4 3.1-6.4 3.1-6.2 3.1-6.2 3-6 3.1-5.7 3.1-5.5 3-5.1 3.1-4.8 3.1-4.3 3-3.9 3.1-3.4 3.1-2.9 3.1-2.2 3-1.6 3.1-.9 3.1-.2 3 .6 3.1 1.4 3.1 2 3 2.6 3.1 3.2 3.1 3.8 3 4.3 3.1 4.6 3.1 5.1 3.1 5.5 3 5.7 3.1 6 3.1 6.2 3 6.4 3.1 6.5 3.1 6.5 3 6.6 3.1 6.5 3.1 6.5 3.1 6.4 3 6.2 3.1 6 3.1 5.8 3 5.5 3.1 5.3 3.1 5 3 4.6 3.1 4.4 3.1 4 3 3.6 3.1 3.2 3.1 2.8 3.1 2.3 3 1.8 3.1 1.4 3.1 .9 3 .3 3.1-.3 3.1-.8 3-1.4 3.1-1.8 3.1-2.4 3.1-2.7 3-3.1 3.1-3.5 3.1-3.8 3-4.1 3.1-4.3 3.1-4.5 3-4.7 3.1-4.8 3.1-4.9 3.1-4.9 3-5 3.1-5 3.1-4.9 3-4.8 3.1-4.7" stroke="#ffff00"/>
<path d="M95.5 188.1l3.1-3.4 3-3.7 3.1-4.1 3.1-4.3 3-4.6 3.1-4.8 3.1-5 3.1-5.2 3-5.4 3.1-5.5 3.1-5.6 3-5.7 3.1-5.8 3.1-5.8 3-5.9 3.1-5.8 3.1-5.8 3.1-5.7 3-5.6 3.1-5.3 3.1-5.1 3-4.8 3.1-4.5 3.1-4 3-3.6 3.1-3.1 3.1-2.6 3.1-1.9 3-1.3 3.1-.6 3.1 .2 3 .9 3.1 1.7 3.1 2.3 3 2.9 3.1 3.5 3.1 3.9 3 4.5 3.1 4.8 3.1 5.2 3.1 5.4 3 5.7 3.1 5.9 3.1 6.1 3 6.1 3.1 6.2 3.1 6.1 3 6.1 3.1 5.9 3.1 5.8 3.1 5.5 3 5.3 3.1 5.1 3.1 4.7 3 4.5 3.1 4.2 3.1 3.9 3 3.6 3.1 3.3 3.1 2.9 3 2.6 3.1 2.2 3.1 1.9 3.1 1.5 3 1.1 3.1 .7 3.1 .3 3-.1 3.1-.6 3.1-.9 3-1.4 3.1-1.8 3.1-2 3.1-2.5 3-2.7 3.1-3 3.1-3.2 3-3.4 3.1-3.7 3.1-3.8 3-3.9 3.1-4 3.1-4.2 3.1-4.1 3-4.3 3.1-4.2 3.1-4.2 3-4.1 3.1-4.1" stroke="#0000ff"/>
<path d="M95.5 166.1l3.1-2.7 3-3 3.1-3.2 3.1-3.4 3-3.5 3.1-3.7 3.1-3.9 3.1-3.9 3-4 3.1-4.1 3.1-4.1 3-4.1 3.1-4.1 3.1-4 3-4 3.1-3.8 3.1-3.8 3.1-3.6 3-3.4 3.1-3.2 3.1-3 3-2.7 3.1-2.5 3.1-2.1 3-1.8 3.1-1.4 3.1-1.1 3.1-.7 3-.2 3.1 .3 3.1 .7 3 1.2 3.1 1.6 3.1 2 3 2.4 3.1 2.6 3.1 3 3 3.2 3.1 3.4 3.1 3.6 3.1 3.8 3 3.9 3.1 4 3.1 4 3 4.1 3.1 4 3.1 4 3 3.9 3.1 3.9 3.1 3.6 3.1 3.5 3 3.3 3.1 3.1 3.1 2.8 3 2.6 3.1 2.4 3.1 2.2 3 1.9 3.1 1.7 3.1 1.5 3 1.2 3.1 1 3.1 .8 3.1 .5 3 .2 3.1 0 3.1-.3 3-.5 3.1-.8 3.1-.9 3-1.2 3.1-1.4 3.1-1.5 3.1-1.7 3-1.9 3.1-2 3.1-2.1 3-2.2 3.1-2.3 3.1-2.4 3-2.5 3.1-2.5 3.1-2.6 3.1-2.5 3-2.6 3.1-2.6 3.1-2.6 3-2.5 3.1-2.5" stroke="#33b07a"/>
<path d="M95.5 165.4l3.1-2.6 3-2.9 3.1-3.1 3.1-3.2 3-3.4 3.1-3.6 3.1-3.7 3.1-3.7 3-3.9 3.1-3.9 3.1-3.9 3-3.9 3.1-3.9 3.1-3.8 3-3.8 3.1-3.7 3.1-3.5 3.1-3.5 3-3.2 3.1-3.1 3.1-2.8 3-2.6 3.1-2.4 3.1-2 3-1.8 3.1-1.4 3.1-1.1 3.1-.6 3-.3 3.1 .2 3.1 .6 3 1 3.1 1.4 3.1 1.8 3 2.1 3.1 2.4 3.1 2.6 3 2.9 3.1 3.1 3.1 3.3 3.1 3.4 3 3.6 3.1 3.6 3.1 3.7 3 3.8 3.1 3.7 3.1 3.7 3 3.7 3.1 3.6 3.1 3.5 3.1 3.3 3 3.2 3.1 2.9 3.1 2.8 3 2.6 3.1 2.3 3.1 2.2 3 1.9 3.1 1.7 3.1 1.5 3 1.2 3.1 1 3.1 .8 3.1 .6 3 .3 3.1 0 3.1-.2 3-.4 3.1-.7 3.1-.8 3-1.1 3.1-1.2 3.1-1.4 3.1-1.5 3-1.7 3.1-1.9 3.1-1.9 3-2 3.1-2.2 3.1-2.2 3-2.2 3.1-2.4 3.1-2.3 3.1-2.4 3-2.4 3.1-2.5 3.1-2.4 3-2.3 3.1-2.4" stroke="#b22200"/>
<path d="M95.5 168.2l3.1-2.8 3-3.2 3.1-3.4 3.1-3.6 3-3.8 3.1-3.9 3.1-4.1 3.1-4.2 3-4.2 3.1-4.3 3.1-4.4 3-4.3 3.1-4.2 3.1-4.2 3-4.1 3.1-4 3.1-3.8 3.1-3.7 3-3.4 3.1-3.3 3.1-2.9 3-2.8 3.1-2.4 3.1-2.1 3-1.7 3.1-1.4 3.1-1 3.1-.5 3-.2 3.1 .4 3.1 .8 3 1.3 3.1 1.7 3.1 2.1 3 2.5 3.1 2.8 3.1 3 3 3.3 3.1 3.6 3.1 3.7 3.1 3.8 3 4 3.1 4.1 3.1 4.1 3 4.1 3.1 4.1 3.1 4.1 3 3.9 3.1 3.9 3.1 3.7 3.1 3.5 3 3.3 3.1 3 3.1 2.9 3 2.6 3.1 2.4 3.1 2.2 3 1.9 3.1 1.7 3.1 1.5 3 1.2 3.1 .9 3.1 .8 3.1 .4 3 .2 3.1 0 3.1-.3 3-.6 3.1-.8 3.1-1 3-1.2 3.1-1.5 3.1-1.6 3.1-1.8 3-1.9 3.1-2.1 3.1-2.2 3-2.3 3.1-2.4 3.1-2.5 3-2.5 3.1-2.6 3.1-2.6 3.1-2.7 3-2.6 3.1-2.7 3.1-2.6 3-2.6 3.1-2.5" stroke="#ccc000"/>
<path d="M95.5 169.7l3.1-2.9 3-3.1 3.1-3.3 3.1-3.5 3-3.8 3.1-3.8 3.1-4.1 3.1-4.1 3-4.2 3.1-4.3 3.1-4.3 3-4.3 3.1-4.3 3.1-4.3 3-4.2 3.1-4.1 3.1-4 3.1-3.8 3-3.7 3.1-3.5 3.1-3.2 3-3 3.1-2.7 3.1-2.4 3-2 3.1-1.7 3.1-1.3 3.1-.9 3-.4 3.1 0 3.1 .5 3 1 3.1 1.5 3.1 1.8 3 2.2 3.1 2.6 3.1 2.9 3 3.1 3.1 3.4 3.1 3.6 3.1 3.8 3 3.9 3.1 4.1 3.1 4.1 3 4.2 3.1 4.2 3.1 4.2 3 4.2 3.1 4.1 3.1 4 3.1 3.8 3 3.6 3.1 3.5 3.1 3.2 3 3.1 3.1 2.8 3.1 2.6 3 2.3 3.1 2.1 3.1 1.9 3 1.6 3.1 1.3 3.1 1 3.1 .8 3 .4 3.1 .2 3.1-.1 3-.5 3.1-.7 3.1-1 3-1.3 3.1-1.5 3.1-1.7 3.1-1.9 3-2 3.1-2.3 3.1-2.4 3-2.5 3.1-2.6 3.1-2.7 3-2.8 3.1-2.8 3.1-2.9 3.1-2.8 3-2.9 3.1-2.9 3.1-2.8 3-2.8 3.1-2.7" stroke="#ff9500"/>
</g>
<path d="M95.5 45.9 H368.7 V204.8 H95.5 ZM95.5 204.8 v-3.0 M95.5 45.9 v3.0M150.1 204.8 v-3.0 M150.1 45.9 v3.0M204.8 204.8 v-3.0 M204.8 45.9 v3.0M259.4 204.8 v-3.0 M259.4 45.9 v3.0M314.1 204.8 v-3.0 M314.1 45.9 v3.0M368.7 204.8 v-3.0 M368.7 45.9 v3.0M95.5 194.5 h3.0 M368.7 194.5 h-3.0M95.5 123.5 h3.0 M368.7 123.5 h-3.0M95.5 52.5 h3.0 M368.7 52.5 h-3.0" fill="none" stroke="#2b2b2b" stroke-width="1.3" stroke-linecap="square"/>
<g font-size="13.2" fill="#2b2b2b"><text x="95.5" y="222.9" text-anchor="middle">75.2</text><text x="150.1" y="222.9" text-anchor="middle">75.3</text><text x="204.8" y="222.9" text-anchor="middle">75.4</text><text x="259.4" y="222.9" text-anchor="middle">75.5</text><text x="314.1" y="222.9" text-anchor="middle">75.6</text><text x="368.7" y="222.9" text-anchor="middle">75.7</text><text x="91.2" y="200.1" text-anchor="end">-5</text><text x="91.2" y="129.1" text-anchor="end">0</text><text x="91.2" y="58.1" text-anchor="end">5</text></g>
<g fill="#2b2b2b"><text x="96.4" y="42.8" font-size="15.4">&#215;</text><text x="106.3" y="42.0" font-size="13.1">10</text><text x="120.9" y="36.6" font-size="9.8">-4</text></g>
<text x="229.5" y="237.3" font-size="14.6" fill="#2b2b2b" text-anchor="middle">Time (s)</text>
<text transform="translate(77.3 121.5) rotate(-90)" font-size="14.1" fill="#2b2b2b" text-anchor="middle">Displacement (m)</text>
<rect x="541.3" y="37.4" width="116.7" height="188.6" fill="#fff" stroke="#2b2b2b" stroke-width="0.9"/>
<g font-size="11.8" fill="#000"><path d="M562.6 46.8H592.7" stroke="#000000" stroke-width="1.75"/><text x="596.2" y="51.7">CryStAl</text><path d="M562.6 62.3H592.7" stroke="#ff0000" stroke-width="1.75"/><text x="596.2" y="67.2">DSA</text><path d="M562.6 77.7H592.7" stroke="#ba55d3" stroke-width="1.75"/><text x="596.2" y="82.6">SSA</text><path d="M562.6 93.2H592.7" stroke="#00ff00" stroke-width="1.75"/><text x="596.2" y="98.1">HHO</text><path d="M562.6 108.6H592.7" stroke="#00ffff" stroke-width="1.75"/><text x="596.2" y="113.5">GWO</text><path d="M562.6 124.1H592.7" stroke="#ff00ff" stroke-width="1.75"/><text x="596.2" y="129.0">GA</text><path d="M562.6 139.5H592.7" stroke="#ffff00" stroke-width="1.75"/><text x="596.2" y="144.4">ACO</text><path d="M562.6 155.0H592.7" stroke="#0000ff" stroke-width="1.75"/><text x="596.2" y="159.9">KH</text><path d="M562.6 170.4H592.7" stroke="#33b07a" stroke-width="1.75"/><text x="596.2" y="175.3">HS</text><path d="M562.6 185.9H592.7" stroke="#b22200" stroke-width="1.75"/><text x="596.2" y="190.8">PSO</text><path d="M562.6 201.4H592.7" stroke="#ccc000" stroke-width="1.75"/><text x="596.2" y="206.3">SPO</text><path d="M562.6 216.8H592.7" stroke="#ff9500" stroke-width="1.75"/><text x="596.2" y="221.7">HO</text></g>
<g id="pb-curves" fill="none" stroke-width="0.5" stroke-linejoin="round">
<path d="M45.2 671.1l.5 .1 .4 0 .5 .1 .5 .1 .4 .2 .5 .1 .5 .1 .4 .1 .5 .2 .5 .1 .4 .2 .5 .2 .5 .3 .4 .2 .5 .2 .5 .3 .4 .2 .5 .1 .5 .1 .4 0 .5-.1 .5-.2 .4-.3 .5-.4 .4-.6 .5-.5 .5-.7 .4-.7 .5-.8 .5-.8 .4-.4 .5-.1 .5 .2 .4 .2 .5-.3 .5-1.4 .4-3.3 .5-5 .5-6.2 .4-6.5 .5-5.6 .5-3.6 .4-.3 .5 4 .5 8.5 .4 11.9 .5 13.4 .5 12.9 .4 10.2 .5 5.4 .5-.9 .4-7.5 .5-13.2 .5-16.6 .4-17.5 .5-16.1 .5-12.4 .4-8 .5-4.3 .5-2.2 .4-.7 .5 .9 .5 3.1 .4 5.7 .5 8.2 .5 10.2 .4 11.9 .5 12.9 .5 13.5 .4 13.5 .5 12.9 .5 11.9 .4 10.2 .5 8.2 .4 5.5 .5 2.7 .5-.2 .4-2.7 .5-4.7 .5-6.2 .4-7.1 .5-7.6 .5-7.6 .4-7 .5-5.8 .5-4.2 .4-2 .5 .9 .5 3.9 .4 6.7 .5 8.2 .5 8.6 .4 7.6 .5 5.4 .5 2.4 .4-.9 .5-3.6 .5-6.1 .4-8.1 .5-9.7 .5-11 .4-11.9 .5-12.5 .5-12.8 .4-12.7 .5-12.3 .5-11.5 .4-10.4 .5-8.9 .5-7.1 .4-5 .5-2.3 .5 .7 .4 3.9 .5 6.4 .5 7.7 .4 7.5 .5 5.9 .5 3.5 .4 1.1 .5-.6 .5-1.4 .4-1.5 .5-.8 .4 .8 .5 3.7 .5 7.1 .4 10.8 .5 13.6 .5 15.6 .4 16.8 .5 17 .5 16.4 .4 14.7 .5 12.3 .5 8.8 .4 4.7 .5 .2 .5-4.1 .4-7.7 .5-10.1 .5-11.5 .4-11.6 .5-10.5 .5-8.4 .4-5.8 .5-3.5 .5-2.2 .4-1.5 .5-1.1 .5-1 .4-1 .5-1 .5-.9 .4-.9 .5-.7 .5-.5 .4-.2 .5-.1 .5 0 .4 0 .5 0 .5 0 .4 .2 .5 .8 .5 1.6 .4 2.6 .5 3 .5 2.4 .4 1 .5-.7 .4-2.4 .5-3.3 .5-3.3 .4-2.8 .5-1.6 .5-.3 .4 .6 .5 1.3 .5 1.7 .4 1.8 .5 1.7 .5 1.5 .4 .9 .5 .2 .5-.8 .4-1.7 .5-2.7 .5-3.4 .4-4 .5-4.4 .5-4.6 .4-4.6 .5-4.3 .5-3.9 .4-3.2 .5-2.5 .5-1.3 .4 .1 .5 1.5 .5 3.2 .4 4.3 .5 5.2 .5 5.5 .4 5.4 .5 4.9 .5 3.7 .4 2.2 .5 .2 .5-1.7 .4-3 .5-3.3 .5-2.2 .4 .1 .5 3.1 .5 6.1 .4 8.4 .5 9.7 .5 9.7 .4 8.9 .5 6.8 .4 4.2 .5 1.5 .5-.4 .4-1.8 .5-2.7 .5-3.1 .4-3.5 .5-3.6 .5-3.6 .4-3.5 .5-3.6 .5-3.3 .4-2.5 .5-1 .5 .5 .4 1.7 .5 1.5 .5 .5 .4-1 .5-2.4 .5-3.3 .4-3.7 .5-3.6 .5-3.5 .4-3.3 .5-3.2 .5-3.2 .4-3.1 .5-3 .5-2.6 .4-2.1 .5-1.7 .5-1.2 .4-.8 .5-.6 .5-.5 .4-.2 .5 0 .5 .3 .4 .7 .5 .9 .5 1.5 .4 2.2 .5 2.9 .5 3.2 .4 3.2 .5 2.7 .5 2 .4 1.1 .5 .5 .4 .2 .5 0 .5-.1 .4-.3 .5-.8 .5-1.1 .4-1.2 .5-.9 .5 0 .4 1.5 .5 3.2 .5 4.8 .4 6.1 .5 7.1 .5 7.6 .4 7.7 .5 7.4 .5 6.6 .4 5.5 .5 3.7 .5 .8 .4-3.7 .5-9.6 .5-15.1 .4-18.7 .5-19.5 .5-17.1 .4-12.4 .5-6 .5 .1 .4 4.8 .5 8.1 .5 10.3 .4 11.7 .5 12.1 .5 11.9 .4 10.7 .5 8.9 .5 6.3 .4 3.5 .5 1.2 .5-.4 .4-1.3 .5-2 .5-2.4 .4-2.7 .5-3 .4-3.3 .5-3.3 .5-3.5 .4-3.6 .5-4 .5-4.6 .4-5.3 .5-5.8 .5-6 .4-5.9 .5-5.3 .5-4.5 .4-3.3 .5-2 .5-.5 .4 .6 .5 1.4 .5 2.1 .4 2.5 .5 3 .5 3.2 .4 3.3 .5 3.4 .5 3.3 .4 3.1 .5 2.8 .5 2.6 .4 2.5 .5 2.4 .5 2.5 .4 2.4 .5 2.4 .5 2.3 .4 2.1 .5 1.7 .5 1.4 .4 1 .5 .1 .5-.9 .4-2.6 .5-4 .5-5.2 .4-5.7 .5-5.5 .5-4.7 .4-3.3 .5-1.5 .5 .1 .4 1.3 .5 2.3 .4 2.7 .5 3.1 .5 3 .4 2.8 .5 2.2 .5 1.5 .4 .6 .5-.4 .5-1.2 .4-1.8 .5-2 .5-2 .4-1.4 .5-.7 .5 .5 .4 1.4 .5 1.8 .5 1 .4-.4 .5-2.1 .5-3.3 .4-4 .5-4 .5-3.3 .4-2.2 .5-.9 .5 .4 .4 1.5 .5 2.1 .5 2.5 .4 2.7 .5 2.6 .5 2.3 .4 1.9 .5 1.1 .5 .5 .4-.3 .5-.7 .5-1 .4-1.3 .5-1.3 .5-1.3 .4-1.2 .5-.9 .5-.5 .4 .2 .5 .9 .4 1.7 .5 2.3 .5 2.6 .4 2.7 .5 2.4 .5 1.8 .4 .7 .5-.7 .5-2.6 .4-4.2 .5-5.1 .5-5.4 .4-4.8 .5-3.3 .5-1.5 .4 .6 .5 2.3 .5 3.7 .4 4.8 .5 5.5 .5 5.9 .4 5.9 .5 5.8 .5 5.1 .4 4.3 .5 3.1 .5 1.8 .4 .2 .5-1 .5-2.2 .4-3 .5-3.6 .5-4.1 .4-4.2 .5-4.1 .5-3.9 .4-3.3 .5-2.6 .5-1.7 .4-.4 .5 .7 .5 1.8 .4 2.1 .5 1.7 .5 .5 .4-1 .5-2.4 .5-3.6 .4-4 .5-3.9 .4-3.1 .5-1.9 .5-.4 .4 .9 .5 2 .5 2.6 .4 3 .5 3.2 .5 2.9 .4 2.5 .5 2 .5 1.5 .4 1.3 .5 1 .5 .9 .4 .8 .5 .5 .5 .3 .4 0 .5-.4 .5-.8 .4-1 .5-1.2 .5-1.2 .4-1 .5-.8 .5-.1 .4 .8 .5 2.2 .5 3.4 .4 4.2 .5 4.4 .5 3.8 .4 2.8 .5 1.3 .5-.2 .4-1.3 .5-2.3 .5-2.8 .4-3.4 .5-3.5 .5-3.7 .4-3.5 .5-3.1 .5-2.8 .4-2.2 .5-1.7 .5-1.6 .4-1.3 .5-1.3 .4-1 .5-.7 .5-.2 .4 .5 .5 1.6 .5 2.3 .4 2.6 .5 1.8 .5 .6 .4-.9 .5-2.2 .5-3 .4-3.6 .5-3.5 .5-3.3 .4-2.4 .5-1.5 .5-.1 .4 .9 .5 2 .5 2.8 .4 3.5 .5 4 .5 4.3 .4 4.5 .5 4.5 .5 4.3 .4 3.9 .5 3.5 .5 2.9 .4 2 .5 1.1 .5 .2 .4-.6 .5-1.3 .5-1.8 .4-2.3 .5-2.7 .5-2.9 .4-3.1 .5-3.1 .5-3.1 .4-2.9 .5-2.8 .5-2.4 .4-1.9 .5-1.4 .4-.6 .5 .5 .5 1.9 .4 2.6 .5 2.3 .5 .9 .4-1.1 .5-2.6 .5-3.1 .4-2.3 .5-.8 .5 .4 .4 1.5 .5 2.1 .5 2.4 .4 2.5 .5 2.4 .5 2.2 .4 1.9 .5 1.6 .5 1.4 .4 1.3 .5 1.3 .5 1.1 .4 1.1 .5 .9 .5 .7 .4 .4 .5 .2 .5-.2 .4-.6 .5-.9 .5-1.1 .4-1.2 .5-1.2 .5-.9 .4-.6 .5-.1 .5 .6 .4 1.4 .5 1.9 .5 2.3 .4 2.4 .5 2.3 .5 1.7 .4 1.1 .5 .2 .5-.8 .4-1.7 .5-2.6 .4-3.1 .5-3.5 .5-3.8 .4-3.7 .5-3.6 .5-3.1 .4-2.5 .5-1.4 .5 .4 .4 3.1 .5 6.1 .5 7.6 .4 7.1 .5 4.3 .5 1 .4-1.8 .5-3.4 .5-3.7 .4-3.2 .5-1.6 .5 .9 .4 3.3 .5 4.9 .5 4.8 .4 3.3 .5 .6 .5-2.1 .4-4.3 .5-5.6 .5-6.2 .4-6.2 .5-5.4 .5-4 .4-2.5 .5-1 .5-.4 .4-.3 .5-.8 .5-1.9 .4-3.3 .5-4.5 .5-5 .4-4.9 .5-3.8 .5-2.1 .4 0 .5 2.3 .5 4.4 .4 5.8 .5 6.7 .4 7 .5 6.7 .5 5.8 .4 4.4 .5 2.7 .5 .9 .4-.2 .5-1.1 .5-1.6 .4-2 .5-2.3 .5-2.4 .4-2.4 .5-2.4 .5-2.2 .4-1.9 .5-1.5 .5-1 .4-.4 .5 .3 .5 1.2 .4 1.9 .5 2.6 .5 3.1 .4 3.6 .5 3.8 .5 4.1 .4 4.1 .5 4 .5 3.8 .4 3.5 .5 3 .5 2.4 .4 1.8 .5 1 .5 .2 .4-.2 .5-.8 .5-1 .4-1.3 .5-1.5 .5-1.7 .4-1.8 .5-1.9 .5-1.9 .4-1.8 .5-1.8 .4-1.6 .5-1.4 .5-1.2 .4-.9 .5-.5 .5 .1 .4 .6 .5 1.4 .5 1.7 .4 1.8 .5 1.4 .5 .6 .4-.4 .5-1.5 .5-2.2 .4-2.6 .5-2.5 .5-1.9 .4-.9 .5 .1 .5 1.2 .4 1.7 .5 1.8 .5 1.3 .4 .5 .5-.5 .5-1.5 .4-2.2 .5-2.4 .5-2.3 .4-1.7 .5-.8 .5 .2 .4 1.1 .5 1.8 .5 1.9 .4 1.6 .5 1 .5 0 .4-.8 .5-1.5 .5-2 .4-2 .5-1.8 .5-1.2 .4-.5 .5 .3 .5 1 .4 1.5 .5 1.8 .4 1.9 .5 1.8 .5 1.6 .4 1.3 .5 1.2 .5 1.1 .4 1 .5 1 .5 .8 .4 .8 .5 .6 .5 .4 .4 .1 .5-.4 .5-1 .4-1.6 .5-1.9 .5-2.1 .4-1.7 .5-1.3 .5-.5 .4 .1 .5 .8 .5 1.2 .4 1.4 .5 1.3 .5 1 .4 .6 .5 .3 .5-.2 .4-.3 .5-.5 .5-.6 .4-.7 .5-.6 .5-.7 .4-.7 .5-.7 .5-.7 .4-.8 .5-.9 .5-.8 .4-.8 .5-.8 .5-.8 .4-.7 .5-.6 .5-.5 .4-.4 .5-.2 .4-.2 .5 0 .5 0 .4 0 .5 0 .5 .1 .4 0 .5 .1 .5 0 .4 .1 .5 .1 .5 .1 .4 .1 .5 .1 .5 .1 .4 .1 .5 .1 .5 .1 .4 .1 .5 .2 .5 .1 .4 .2 .5 .1 .5 .2 .4 .3 .5 .3 .5 .4 .4 .5 .5 .5 .5 .5 .4 .6 .5 .5 .5 .6 .4 .5 .5 .5 .5 .5 .4 .4 .5 .4 .5 .4 .4 .4 .5 .3 .5 .4 .4 .3 .5 .3 .5 .3 .4 .3 .5 .1 .4 .1 .5 0 .5-.2 .4-.4 .5-.4 .5-.3 .4-.2 .5-.1 .5 .2 .4 .3 .5 .3 .5 .4 .4 .2 .5 .1 .5-.3 .4-.6 .5-.8 .5-.9 .4-1 .5-.9 .5-.6 .4-.5 .5-.4 .5-.3 .4-.2 .5-.3 .5-.2 .4-.2 .5-.1 .5-.1 .4 0 .5 0 .5 .1 .4 .2 .5 .2 .5 .3 .4 .3 .5 .4 .5 .3 .4 .4 .5 .4 .5 .3 .4 .3 .5 .2 .5 .2 .4 0 .5-.1 .5-.4 .4-.7 .5-.9 .4-1.2 .5-1.4 .5-1.4 .4-1.6 .5-1.6 .5-1.6 .4-1.5 .5-1.4 .5-1.2 .4-1 .5-.7 .5-.4 .4 .2 .5 1 .5 1.8 .4 2.5 .5 3.2 .5 3.6 .4 3.8 .5 3.9 .5 3.7 .4 3.4 .5 2.9 .5 2.2 .4 1.4 .5 .5 .5-.1 .4-.6 .5-.9 .5-1.2 .4-1.5 .5-1.7 .5-1.9 .4-2 .5-2.1 .5-2.2 .4-2.2 .5-2.2 .5-2.2 .4-2 .5-2 .5-1.8 .4-1.6 .5-1.3 .5-1.1 .4-.8 .5-.5 .5-.1 .4 .2 .5 .5 .4 .6 .5 .7 .5 .6 .4 .5 .5 .2 .5-.2 .4-.5 .5-.7 .5-1 .4-.9 .5-.9 .5-.6 .4-.3 .5 0 .5 .5 .4 .7 .5 1.1 .5 1.2 .4 1.4 .5 1.6 .5 1.6 .4 1.6 .5 1.5 .5 1.5 .4 1.3 .5 1.1 .5 .9 .4 .5 .5 .3 .5 0 .4-.1 .5-.2 .5-.3 .4-.3 .5-.3 .5-.4 .4-.4 .5-.4 .5-.4 .4-.4 .5-.3 .5-.3 .4-.3 .5-.4 .5-.3 .4-.3 .5-.3 .4-.3 .5-.3 .5-.2 .4-.2 .5-.2 .5-.1 .4 0 .5 .2 .5 .3 .4 .5 .5 .7 .5 .9 .4 .9 .5 1.1 .5 1.2 .4 1.2 .5 1.3 .5 1.3 .4 1.3 .5 1.3 .5 1.2 .4 1.2 .5 1 .5 1 .4 .8 .5 .7 .5 .5 .4 .4 .5 .1 .5-.1 .4-.3 .5-.4 .5-.7 .4-.7 .5-.9 .5-1.1 .4-1.1 .5-1.2 .5-1.3 .4-1.3 .5-1.4 .5-1.4 .4-1.5 .5-1.4 .5-1.4 .4-1.4 .5-1.4 .5-1.3 .4-1.2 .5-1.1 .4-1 .5-.9 .5-.8 .4-.6 .5-.5 .5-.3 .4 0 .5 0 .5 .3 .4 .4 .5 .6 .5 .6 .4 .8 .5 .8 .5 .8 .4 .8 .5 .8 .5 .7 .4 .7 .5 .5 .5 .5 .4 .3 .5 .2 .5 .2 .4 .2 .5 .1 .5 .1 .4 .1 .5 .1 .5 .1 .4 .1 .5 .1 .5 0 .4 .1 .5 .2 .5 .1 .4 .1 .5 .2 .5 .2 .4 .3 .5 .3 .5 .4 .4 .5 .5 .4 .5 .5 .4 .5 .5 .5 .5 .4 .4 .5 .5 .3 .4 .4 .5 .2 .5 .2 .4 .1 .5-.1 .5-.2 .4-.5 .5-.6 .5-.8 .4-.9 .5-1.1 .5-1 .4-1.2 .5-1.1 .5-1.1 .4-1.1 .5-.9 .5-.9 .4-.7 .5-.6 .5-.3 .4-.1 .5 .2 .5 .4 .4 .7 .5 .9 .5 1.1 .4 1.2 .5 1.3 .5 1.4 .4 1.3 .5 1.4 .5 1.2 .4 1.2 .5 1 .5 .8 .4 .5 .5 .3 .5-.1 .4-.5 .5-.9 .5-1.1 .4-1.2 .5-1.2 .5-1 .4-.7 .5-.4 .4 0 .5 .2 .5 .5 .4 .5 .5 .6 .5 .7 .4 .6 .5 .7 .5 .5 .4 .5 .5 .4 .5 .2 .4 0 .5 0 .5-.1 .4-.1 .5-.2 .5-.2 .4-.2 .5-.3 .5-.3 .4-.3 .5-.5 .5-.6 .4-.9 .5-1 .5-1.2 .4-1.3 .5-1.4 .5-1.3 .4-1.3 .5-1.2 .5-1 .4-.9 .5-.5 .5-.3 .4 0 .5 .3 .5 .4 .4 .6 .5 .6 .5 .6 .4 .5 .5 .3 .5 .1 .4-.2 .5-.4 .5-.6 .4-.7 .5-.6 .4-.5 .5-.3 .5 0 .4 .3 .5 .6 .5 .9 .4 1 .5 1.3 .5 1.4 .4 1.5 .5 1.5 .5 1.6 .4 1.5 .5 1.5 .5 1.3 .4 1.2 .5 1 .5 .7 .4 .5 .5 .2 .5 .1 .4-.1 .5-.2 .5-.2 .4-.3 .5-.3 .5-.4 .4-.4 .5-.4 .5-.4 .4-.4 .5-.4 .5-.3 .4-.4 .5-.3 .5-.3 .4-.4 .5-.3 .5-.3 .4-.4 .5-.4 .5-.3 .4-.4 .5-.3 .5-.3 .4-.4 .5-.3 .4-.3 .5-.2 .5-.2 .4-.2 .5-.2 .5-.1 .4-.1 .5 0 .5 .2 .4 .2 .5 .3 .5 .4 .4 .4 .5 .4 .5 .4 .4 .3 .5 .2 .5 .1 .4 0 .5-.1 .5-.2 .4-.3 .5-.3 .5-.3 .4-.4 .5-.4 .5-.3 .4-.4 .5-.3 .5-.3 .4-.2 .5-.1 .5-.1 .4 0 .5 .1 .5 .1 .4 .1 .5 .1 .5 .2 .4 .1 .5 .2 .5 .2 .4 .2 .5 .2 .5 .2 .4 .2 .5 .2 .5 .2 .4 .2 .5 .1 .4 .1 .5 .2 .5 .1 .4 .1 .5 .1 .5 .1 .4 .2 .5 .1 .5 .1 .4 .1 .5 .1 .5 .1 .4 .1 .5 .1 .5 .1 .4 .1 .5 .1 .5 .1 .4 .1 .5 0 .5 .1 .4 .1 .5 0 .5 .1 .4 0 .5 0 .5 .1 .4 0 .5 0 .5 0 .4 .1 .5 0 .5 0 .4 0 .5 0 .5 .1 .4 0 .5 0 .5 0 .4 0 .5 0 .5 .1 .4 0 .5 0 .5 0 .4 0 .5 0 .5 0" stroke="#000000" stroke-width="2"/>
<path d="M45.2 670.3l.5 .2 .4 0 .5-.1 .5 0 .4 .2 .5 .3 .5 .1 .4 .1 .5 .2 .5 .1 .4 .1 .5 .1 .5 .1 .4 .1 .5 0 .5 .3 .4 .4 .5-.1 .5 .1 .4 .2 .5-.1 .5-.4 .4-.4 .5-.5 .4-.5 .5-.2 .5-.2 .4-.9 .5-1.4 .5-1.1 .4-.6 .5-.1 .5 .2 .4 .5 .5 .3 .5-1.2 .4-3.5 .5-5 .5-5.6 .4-6.9 .5-7.2 .5-4.3 .4-.3 .5 3.2 .5 8.2 .4 12.5 .5 14.1 .5 14.1 .4 11.6 .5 6.3 .5-1.7 .4-8.9 .5-11.9 .5-14.4 .4-18.6 .5-19.2 .5-15.6 .4-9.7 .5-4.7 .5-3 .4-1.3 .5 1.3 .5 4.1 .4 6.5 .5 9.6 .5 11.8 .4 13.4 .5 14.8 .5 15.8 .4 16.3 .5 16.2 .5 15.2 .4 12.9 .5 8 .4 3.5 .5 5 .5 5.8 .4-.7 .5-8.3 .5-9.3 .4-9.9 .5-9.8 .5-9.3 .4-10.4 .5-9.1 .5-6.4 .4-2.9 .5 .5 .5 3.6 .4 6.7 .5 8.8 .5 10.2 .4 9.4 .5 6.3 .5 2.1 .4-1 .5-3.2 .5-6.2 .4-8.9 .5-10.7 .5-12.4 .4-13.1 .5-13.8 .5-14.8 .4-15 .5-13.9 .5-11.3 .4-10.6 .5-8.4 .5-4.8 .4-3.3 .5-1.3 .5 0 .4 .9 .5 5.3 .5 11.4 .4 10.3 .5 7.4 .5 6.5 .4 2.6 .5-1.6 .5-3.5 .4-2.3 .5-.2 .4 .6 .5 3 .5 6.5 .4 9.6 .5 14.4 .5 17.7 .4 18.2 .5 18.1 .5 18.4 .4 14.5 .5 14.4 .5 17.4 .4 4.7 .5-6.1 .5-5.4 .4-7.7 .5-13.3 .5-12 .4-10.9 .5-12.5 .5-10.3 .4-7.7 .5-5.8 .5-4.7 .4-3 .5-1.6 .5-2.4 .4-3.4 .5-.8 .5 1.8 .4 .3 .5-.1 .5 .1 .4-.8 .5-.8 .5 1.4 .4 2.2 .5 .6 .5-.1 .4 .5 .5 1.7 .5 2.3 .4 2.8 .5 3.5 .5 3 .4 1.1 .5-.5 .4-1.7 .5-2.7 .5-3.8 .4-3.2 .5-1.3 .5 0 .4 .2 .5 1 .5 1.7 .4 2 .5 1.5 .5 1.6 .4 1.7 .5-.2 .5-1.2 .4-1.4 .5-2.3 .5-4.4 .4-5.5 .5-5.4 .5-5.3 .4-4.5 .5-3.8 .5-4.2 .4-4.2 .5-2.1 .5-1.3 .4-.8 .5 .9 .5 3.7 .4 5.7 .5 5.8 .5 5.9 .4 6.3 .5 6.4 .5 5.2 .4 3.1 .5 .5 .5-2.5 .4-3.6 .5-3.5 .5-2.6 .4-.2 .5 2.8 .5 5.4 .4 8.6 .5 10 .5 9 .4 9 .5 6.8 .4 4.5 .5 3.9 .5-.3 .4-3.4 .5-2.6 .5-2.8 .4-3.8 .5-4.2 .5-4.2 .4-4.4 .5-4.2 .5-3.9 .4-2.8 .5-1.3 .5 .4 .4 1.4 .5 1.8 .5 .7 .4-.7 .5-2.1 .5-3.2 .4-4.3 .5-4.7 .5-4.7 .4-5.1 .5-4.6 .5-4.8 .4-5.1 .5-3.6 .5-1.7 .4-.9 .5-1.3 .5-1.8 .4-1.2 .5-.6 .5 .2 .4 1.6 .5 .7 .5-1.6 .4-1.3 .5 1.5 .5 2.2 .4 1.9 .5 2.5 .5 4.5 .4 5.4 .5 4.4 .5 3.6 .4 2.8 .5 2.4 .4 3.6 .5 3.7 .5 2.2 .4 .1 .5-2.1 .5-3.3 .4-3.5 .5-2 .5 .1 .4 1.6 .5 3 .5 5.1 .4 6.8 .5 7.5 .5 8.5 .4 8.5 .5 8 .5 7.6 .4 5.7 .5 3.2 .5 .8 .4-4.2 .5-12.4 .5-16.9 .4-18.8 .5-19.3 .5-19.3 .4-14 .5-7.1 .5-.8 .4 4.1 .5 8 .5 10.2 .4 12.2 .5 13.4 .5 13.5 .4 12.2 .5 10 .5 7.5 .4 4.6 .5 3.2 .5 1 .4-1.4 .5-2.7 .5-3.4 .4-3.6 .5-3.7 .4-3.9 .5-3.6 .5-4.3 .4-4.3 .5-3.8 .5-4.7 .4-6.6 .5-7.8 .5-7 .4-6 .5-5.6 .5-5.2 .4-5.2 .5-4.8 .5-2.7 .4 .8 .5 2.4 .5 1.6 .4 3.1 .5 5.1 .5 4 .4 3.8 .5 4.5 .5 4.9 .4 4.1 .5 3.3 .5 3.3 .4 3.2 .5 3 .5 2.5 .4 2.9 .5 3.7 .5 3.4 .4 3 .5 2.1 .5 1.8 .4 2.3 .5 2.1 .5-.2 .4-3.7 .5-4.9 .5-5.5 .4-7.8 .5-6.5 .5-4.6 .4-4.2 .5-2.4 .5-.1 .4 2.4 .5 3 .4 2.6 .5 2.3 .5 3.1 .4 3.7 .5 2.6 .5 1.8 .4 .8 .5-.4 .5-1.5 .4-2 .5-2.6 .5-3 .4-2.3 .5-1.1 .5-.1 .4 .8 .5 1.8 .5 1.1 .4-.9 .5-2.3 .5-3.3 .4-4.2 .5-4.9 .5-4.1 .4-2.7 .5-1.7 .5 .5 .4 2.5 .5 2.9 .5 2 .4 1.8 .5 1.8 .5 2 .4 1.8 .5 .8 .5 .5 .4 .3 .5-.9 .5-.9 .4-.8 .5-.7 .5-.6 .4-.7 .5-.9 .5-.7 .4-.5 .5 .7 .4 1.4 .5 1.8 .5 2.3 .4 3.1 .5 3.3 .5 2.3 .4 1.4 .5 0 .5-2.3 .4-3.8 .5-5.1 .5-5.6 .4-5.4 .5-3.2 .5-1.4 .4-.1 .5 1.6 .5 3.6 .4 4.7 .5 5.2 .5 6.6 .4 7 .5 5.1 .5 3.6 .4 4 .5 4.6 .5 2.9 .4 .4 .5-1 .5-1.7 .4-3.2 .5-4.8 .5-4.4 .4-3.3 .5-3.4 .5-3.7 .4-3.7 .5-3.4 .5-2.5 .4-1.1 .5 .5 .5 2.1 .4 2.8 .5 2.4 .5 1.2 .4-1.1 .5-3 .5-4.1 .4-4.1 .5-4 .4-3.8 .5-3.3 .5-1 .4 1.2 .5 2.7 .5 3.4 .4 3.9 .5 3.7 .5 3.3 .4 2.8 .5 1.9 .5 1.5 .4 1.5 .5 1.7 .5 1.3 .4 .7 .5 .6 .5 .7 .4 0 .5-.7 .5-.7 .4-.7 .5-.9 .5-1.5 .4-1.5 .5-.8 .5 .2 .4 .9 .5 2 .5 3.6 .4 4.2 .5 5.3 .5 5.7 .4 4.2 .5 2 .5 .4 .4-1.5 .5-2.7 .5-3.1 .4-4 .5-4.5 .5-4.3 .4-4.5 .5-3.8 .5-3 .4-2.4 .5-2.3 .5-2 .4-1.8 .5-1.8 .4-1.1 .5-.9 .5-1.8 .4-.6 .5 1.5 .5 2.9 .4 3.5 .5 2.8 .5 1.3 .4-.2 .5-2 .5-3.5 .4-4 .5-4.1 .5-3.8 .4-3.4 .5-2.4 .5-.6 .4 .9 .5 2.3 .5 3.3 .4 4.4 .5 5 .5 5.3 .4 5 .5 4.4 .5 3.7 .4 3.9 .5 4.4 .5 4.2 .4 2.7 .5 1.1 .5 1.4 .4 1 .5-2.6 .5-3.5 .4-2.8 .5-3.6 .5-3.2 .4-2.2 .5-2.3 .5-3.6 .4-3.5 .5-2.5 .5-2.2 .4-2.1 .5-1.9 .4-1.2 .5 0 .5 1.8 .4 2.6 .5 2.3 .5 1 .4-.6 .5-2.1 .5-2.6 .4-2.2 .5-1.6 .5-.3 .4 1.4 .5 1.8 .5 2.4 .4 2.7 .5 2.6 .5 2.4 .4 2.2 .5 1.5 .5 1.5 .4 2 .5 1.8 .5 .7 .4 .5 .5 .8 .5 .8 .4 .3 .5 .2 .5-.1 .4-.6 .5-.8 .5-1.1 .4-1.9 .5-1.6 .5-.7 .4-.3 .5-.4 .5 .2 .4 1.4 .5 2.4 .5 2.9 .4 3.1 .5 3.5 .5 2.5 .4 1.8 .5 1.1 .5-.9 .4-2.7 .5-3.5 .4-4 .5-3.8 .5-3.5 .4-4 .5-4.1 .5-3.2 .4-2.9 .5-3.2 .5-.8 .4 3.6 .5 7 .5 8.2 .4 7.9 .5 5.1 .5 1.7 .4-1.9 .5-3.7 .5-4.3 .4-4 .5-2.5 .5 .7 .4 3.5 .5 5.1 .5 5.4 .4 4 .5 1.4 .5-1.8 .4-4.7 .5-6.4 .5-7.8 .4-6.8 .5-5.7 .5-6 .4-3.8 .5 .4 .5 2.5 .4 .2 .5-3.7 .5-4.2 .4-2.1 .5-2.6 .5-3.8 .4-4.1 .5-4.1 .5-1.8 .4 .7 .5 3.1 .5 4.7 .4 5.5 .5 6.2 .4 7.8 .5 8.6 .5 8.6 .4 7.4 .5 4.2 .5 1.1 .4-1.7 .5-1.7 .5-1.2 .4-2.2 .5-2.7 .5-2.3 .4-3.1 .5-3.7 .5-3.4 .4-3.4 .5-2.7 .5-1.6 .4-1.1 .5-.3 .5 1.3 .4 2.2 .5 3.7 .5 4 .4 3.5 .5 4.2 .5 4.5 .4 3.1 .5 4.1 .5 5.7 .4 4.7 .5 3.8 .5 3.4 .4 2.3 .5 2.4 .5 .4 .4-2.1 .5-.9 .5-.6 .4-2 .5-3.3 .5-4.1 .4-2.7 .5-2.2 .5-2.4 .4-1.8 .5-1.4 .4-2.1 .5-2.4 .5-2.3 .4-2.2 .5-.9 .5 .3 .4 .3 .5 .9 .5 2.3 .4 3.3 .5 2.1 .5 1 .4 .1 .5-.7 .5-1.8 .4-3.8 .5-3.8 .5-2.7 .4-1.8 .5-.3 .5 1.3 .4 3.4 .5 4.2 .5 2.8 .4 1.5 .5 .1 .5-1.7 .4-2.9 .5-2.9 .5-2.6 .4-1.9 .5-1.1 .5 .8 .4 1.7 .5 2 .5 2.3 .4 1.8 .5 1.2 .5-.2 .4-1.7 .5-2.3 .5-2.9 .4-3.3 .5-3 .5-1 .4 .6 .5 1.1 .5 1.8 .4 2.2 .5 2.2 .4 1.6 .5 .8 .5 .5 .4 .3 .5 .3 .5 .5 .4 .7 .5 .6 .5 1.4 .4 2 .5 2.1 .5 1.8 .4 .6 .5-.9 .5-2.1 .4-3.4 .5-3.4 .5-2.7 .4-1.7 .5-.6 .5 .2 .4 .8 .5 1.7 .5 2.4 .4 2 .5 1.3 .5 1.1 .4 0 .5-1.5 .5-1.2 .4 .3 .5 .3 .5-.6 .4-.5 .5 .2 .5 .6 .4 .1 .5-.7 .5-1.1 .4-1.5 .5-2.3 .5-2.5 .4-2 .5-1.5 .5-.4 .4 .4 .5 .9 .5 .5 .4 .2 .5 .3 .4 0 .5-.6 .5-.9 .4-1.2 .5-1.3 .5-.6 .4 .2 .5 .6 .5 .7 .4 .7 .5 .8 .5 1.2 .4 .9 .5 .1 .5-.5 .4-.6 .5-.7 .5-1.3 .4-.6 .5 .6 .5 1.3 .4 1.2 .5 1.3 .5 1.6 .4 1.2 .5 1.1 .5 .9 .4-.2 .5-.9 .5-.3 .4 .7 .5 1.1 .5 .9 .4 1 .5 1.1 .5 1 .4 1.3 .5 .4 .5-.6 .4-1.1 .5-.9 .5-.3 .4 .9 .5 1.2 .5 .8 .4 .9 .5 1 .4 1.3 .5 1.5 .5 .9 .4-.8 .5-1.8 .5-1.7 .4-1.9 .5-1.8 .5-.5 .4 .1 .5 .6 .5 1.8 .4 2.3 .5 .9 .5-.2 .4-1.3 .5-2.3 .5-2.1 .4-1.8 .5-2.1 .5-2 .4-1.4 .5-.6 .5 .1 .4 .6 .5 .8 .5 .3 .4 0 .5-.4 .5-.8 .4-.7 .5-.6 .5-.4 .4-.2 .5 .2 .5-.1 .4 .3 .5 .5 .5 .6 .4 .6 .5 .4 .5 .2 .4 .4 .5 .8 .5 .7 .4 .1 .5-.5 .5-.6 .4-.6 .5-.7 .4-.6 .5-1 .5-1.4 .4-1.3 .5-1.3 .5-1.2 .4-.6 .5-1.1 .5-1.6 .4-1.2 .5-.7 .5 .2 .4 .6 .5 .7 .5 1.6 .4 2.5 .5 3.3 .5 3.6 .4 4.3 .5 5.1 .5 5 .4 4.5 .5 3.4 .5 2.4 .4 2.3 .5 1.4 .5 0 .4-.4 .5-1.6 .5-2.4 .4-2.3 .5-2 .5-2.7 .4-3.5 .5-3 .5-2.4 .4-2.5 .5-2.7 .5-2.6 .4-3.1 .5-2.7 .5-2.5 .4-2.1 .5-1.9 .5-1.8 .4-1 .5-.6 .5-.9 .4-.2 .5 .6 .4 .4 .5 .4 .5 1.1 .4 1.2 .5 .5 .5-.1 .4 .1 .5-.3 .5-1.2 .4-.7 .5 0 .5-.3 .4-.2 .5 .2 .5 .2 .4 .2 .5 .6 .5 1.7 .4 2.2 .5 1.8 .5 1.7 .4 1.6 .5 2.2 .5 3 .4 2.1 .5 .6 .5 .3 .4 .9 .5 .6 .5 .6 .4 .1 .5-.8 .5-1 .4-.6 .5-.7 .5-1 .4-.9 .5-.8 .5-1 .4-.9 .5-.4 .5 0 .4-.2 .5-.5 .5-.1 .4-.1 .5-.3 .4-.4 .5-.8 .5-1.4 .4-.5 .5 .5 .5 .1 .4-.1 .5 .6 .5 .4 .4-.1 .5 .4 .5 .9 .4 1.3 .5 1.6 .5 1.6 .4 1.2 .5 1.3 .5 1.8 .4 1.6 .5 1.3 .5 1.6 .4 2.1 .5 2.5 .5 1.8 .4 .6 .5 1.1 .5 .9 .4 0 .5-.1 .5 .7 .4 .4 .5-.5 .5-.5 .4-.1 .5-.4 .5-1.4 .4-1.9 .5-2 .5-1.3 .4-1.5 .5-1.9 .5-2.3 .4-2.3 .5-1.4 .5-1.2 .4-1.3 .5-1.3 .5-1.7 .4-1.4 .5-.9 .4-1.2 .5-2.3 .5-2.5 .4-.5 .5 .1 .5-.9 .4-1 .5 1.1 .5 1.4 .4 .5 .5-.4 .5 .1 .4 .7 .5 .7 .5 .5 .4 1 .5 1.7 .5 2 .4 1 .5 .2 .5 .5 .4 .7 .5-.2 .5-.3 .4 .3 .5 .8 .5 .7 .4 .3 .5 .1 .5 .2 .4-.1 .5-.5 .5 0 .4 .7 .5 .5 .5 0 .4 .5 .5 .4 .5 .1 .4-.1 .5-.2 .5 .1 .4 .8 .5 .8 .5 .1 .4 .1 .5 .4 .5 .8 .4 1.7 .5 1.4 .4 .7 .5 0 .5-.2 .4 0 .5 0 .5-.5 .4-.3 .5-.2 .5-.7 .4-1.1 .5-1.5 .5-1.6 .4-1.8 .5-1.9 .5-1.5 .4-1.4 .5-1.5 .5-.9 .4-1 .5-.9 .5-.5 .4 0 .5 0 .5 .2 .4 .9 .5 1 .5 1.3 .4 1.4 .5 1.1 .5 .9 .4 1.1 .5 1.7 .5 1.3 .4 .9 .5 1 .5 1.3 .4 .8 .5-.3 .5-.6 .4-.4 .5-.8 .5-1.2 .4-1.2 .5-.8 .5-.7 .4-.8 .5-.3 .4 .1 .5 .4 .5 .4 .4 .4 .5 .6 .5 .6 .4 .6 .5 .4 .5 .3 .4 0 .5 .6 .5 .9 .4 .6 .5-.5 .5-.6 .4 .3 .5 .1 .5-.8 .4-.8 .5 0 .5 0 .4-.3 .5-.9 .5-1.3 .4-1.3 .5-.7 .5-.6 .4-.9 .5-1.4 .5-1.8 .4-1.7 .5-1.9 .5-1.3 .4-1.1 .5-.8 .5-.2 .4-.3 .5 0 .5 .6 .4 1 .5 1 .5 .3 .4 .6 .5 1.1 .5 .2 .4-.3 .5-.5 .5-.7 .4-.6 .5-.7 .4-.5 .5 .1 .5 .5 .4 .6 .5 .9 .5 .9 .4 1.1 .5 1.6 .5 1.7 .4 2.7 .5 2.9 .5 1.9 .4 1.3 .5 1 .5 1.7 .4 2.2 .5 1.5 .5 .1 .4-.4 .5 .7 .5 .8 .4 .1 .5 0 .5 .2 .4 0 .5-.6 .5-.4 .4-.2 .5-.4 .5-.3 .4-.5 .5-1.2 .5-1.1 .4-.6 .5 .1 .5 .1 .4-.4 .5-.8 .5-.7 .4-.6 .5-.5 .5-.5 .4-.3 .5-.5 .5-.6 .4-.4 .5-.2 .4-.1 .5-.5 .5-.2 .4-.1 .5-.2 .5-.4 .4-.1 .5-.1 .5-.1 .4 .2 .5 .2 .5 .3 .4 .4 .5 .7 .5 .8 .4 .2 .5-.3 .5-.4 .4-.2 .5 .1 .5 .5 .4 .5 .5-.2 .5-.7 .4-1 .5-.8 .5-.5 .4-.5 .5-.2 .5-.1 .4-.3 .5-.4 .5-.4 .4-.1 .5 .2 .5 .4 .4 0 .5 0 .5 .5 .4 .6 .5 0 .5-.3 .4-.2 .5-.1 .5-.2 .4 0 .5 0 .5 .1 .4 .2 .5 .5 .4 .5 .5 .3 .5 .1 .4 .1 .5 .3 .5 .2 .4 .2 .5-.1 .5-.1 .4 .2 .5 .5 .5 .4 .4 .6 .5 .3 .5 .2 .4 .1 .5 .1 .5 0 .4-.2 .5-.5 .5-.5 .4 .2 .5 .3 .5 .4 .4 .3 .5 .4 .5 .3 .4-.1 .5-.3 .5 0 .4 .1 .5-.1 .5-.5 .4 0 .5 .3 .5 0 .4 .1 .5 .3 .5 .5 .4 .1 .5-.2 .5-.1 .4 .1 .5 .1 .5 .4 .4 .3 .5 .3 .5 .5" stroke="#ff0000"/>
<path d="M45.2 671.8l.5-.8 .4-.3 .5 .2 .5 .4 .4 .1 .5 .1 .5 .2 .4 .4 .5 .1 .5 .1 .4 .2 .5 .6 .5 .7 .4 .2 .5 .1 .5 0 .4 .3 .5 .5 .5 .2 .4 .1 .5-.4 .5-.7 .4-.7 .5-.5 .4-.4 .5-.6 .5-.9 .4-1.2 .5-1 .5-1 .4-.8 .5-.4 .5 .3 .4 .4 .5-.2 .5-2.2 .4-4.9 .5-7.4 .5-8.3 .4-8.7 .5-8.4 .5-4.6 .4 2.3 .5 9.4 .5 15.7 .4 20.7 .5 22.2 .5 19.4 .4 13.8 .5 5.9 .5-5 .4-16.4 .5-25.1 .5-30 .4-30.7 .5-28 .5-21.5 .4-12.9 .5-6.1 .5-3.3 .4-.8 .5 3.1 .5 7.8 .4 12.6 .5 18.1 .5 22.6 .4 25.3 .5 27.4 .5 28.5 .4 28 .5 25.2 .5 21.6 .4 19.8 .5 16.3 .4 9.6 .5 1.5 .5-4.6 .4-7.3 .5-11.6 .5-16.3 .4-19.2 .5-22.2 .5-22 .4-19.5 .5-15.2 .5-10 .4-3.8 .5 2.7 .5 8.5 .4 12.9 .5 15.7 .5 15.9 .4 13.1 .5 9.1 .5 5.1 .4-1 .5-8.3 .5-12.7 .4-15 .5-17.7 .5-19.8 .4-21.4 .5-23 .5-22.9 .4-23.3 .5-24.7 .5-21.2 .4-14.5 .5-12.2 .5-10.7 .4-4.7 .5-.6 .5 2.9 .4 13.8 .5 23.8 .5 25.6 .4 23 .5 15.3 .5 4.9 .4-5.6 .5-12.7 .5-15.3 .4-13.7 .5-8.4 .4-1.3 .5 7 .5 16.2 .4 24.2 .5 30.1 .5 33.7 .4 36.6 .5 36.4 .5 34.2 .4 32.1 .5 27.6 .5 20 .4 9.4 .5-3.4 .5-12.9 .4-21.6 .5-30.3 .5-29.5 .4-28.4 .5-26.8 .5-20.8 .4-14.8 .5-10.2 .5-8.9 .4-8.5 .5-6.1 .5-4.4 .4-2.4 .5-.6 .5 .9 .4 1.7 .5 1.5 .5 .5 .4 .4 .5 1.4 .5 2.5 .4 2.8 .5 3.6 .5 4.4 .4 4.4 .5 4.2 .5 5 .4 5.7 .5 5.4 .5 3.3 .4 .7 .5-1.4 .4-2.8 .5-3.1 .5-2.9 .4-2.8 .5-1.8 .5-.3 .4 .6 .5 1.7 .5 2.5 .4 2.2 .5 1.7 .5 1.4 .4 .6 .5-.8 .5-1.9 .4-3.3 .5-4.9 .5-5.9 .4-6.7 .5-6.6 .5-6.8 .4-7.4 .5-7.5 .5-6.5 .4-5 .5-3.2 .5-1.2 .4 1.6 .5 4.6 .5 8.1 .4 11 .5 12.8 .5 13.7 .4 12.8 .5 10.7 .5 8.5 .4 5 .5 1.1 .5-3.5 .4-7.1 .5-7.8 .5-4.4 .4 1.3 .5 6.5 .5 11.4 .4 14.8 .5 15.9 .5 15 .4 14.2 .5 11.5 .4 7.7 .5 4.2 .5-1.3 .4-4.7 .5-4.2 .5-4.3 .4-5.6 .5-4.9 .5-5.5 .4-7.9 .5-8.2 .5-8 .4-6.5 .5-3.7 .5-1.1 .4 .5 .5 .7 .5-.7 .4-2.9 .5-5.7 .5-7.6 .4-7.7 .5-7 .5-6.3 .4-6.9 .5-8.3 .5-8.1 .4-8.1 .5-7 .5-5.5 .4-4.9 .5-3 .5-1.8 .4 0 .5 1.5 .5 0 .4-2 .5-2.9 .5-3 .4-2.3 .5-.4 .5 .2 .4 .8 .5 4 .5 8 .4 9.3 .5 8.3 .5 8.5 .4 9.7 .5 10.2 .4 9 .5 6.4 .5 5.3 .4 2.2 .5-1.9 .5-4.4 .4-5.1 .5-3.2 .5-.6 .4 2.2 .5 5 .5 7.8 .4 10.7 .5 12.7 .5 12.3 .4 10.8 .5 10.3 .5 11.2 .4 9.4 .5 4.9 .5-.4 .4-9 .5-17.7 .5-26.8 .4-33.3 .5-33.5 .5-28.1 .4-17.8 .5-6.5 .5 1 .4 7.6 .5 13.9 .5 17.3 .4 19 .5 19.5 .5 18.9 .4 17.9 .5 14 .5 8.7 .4 5.1 .5 1.3 .5-2 .4-3.2 .5-3.8 .5-5.2 .4-6.7 .5-6.7 .4-6.4 .5-6.7 .5-7.3 .4-7.9 .5-8.2 .5-8.8 .4-10.5 .5-12.1 .5-12.2 .4-11.4 .5-9.8 .5-8.5 .4-5.7 .5-2.5 .5 .1 .4 2.1 .5 3.4 .5 6.4 .4 7.4 .5 7.8 .5 8.3 .4 8.4 .5 8.3 .5 8.1 .4 7.4 .5 6.8 .5 6.3 .4 5.7 .5 5.1 .5 5.5 .4 6.3 .5 6 .5 5.8 .4 5.2 .5 4.3 .5 2.9 .4 1.3 .5-1.1 .5-4.3 .4-7 .5-9.3 .5-12.1 .4-12.5 .5-11.4 .5-9.8 .4-6.9 .5-2 .5 2 .4 4.2 .5 4.8 .4 5.6 .5 6.8 .5 7.3 .4 6.7 .5 5.2 .5 3.6 .4 1.4 .5-.9 .5-2.5 .4-3.7 .5-4.5 .5-4.3 .4-3.5 .5-1.3 .5 1 .4 2.1 .5 2.2 .5 .7 .4-1.6 .5-3.5 .5-4.9 .4-5.3 .5-4.7 .5-4.1 .4-2.8 .5-.4 .5 2.3 .4 4.2 .5 4.8 .5 5.9 .4 6.8 .5 6.4 .5 5.1 .4 3 .5 1.5 .5 1 .4-.3 .5-2.1 .5-2.8 .4-2.8 .5-2.4 .5-2.5 .4-2.4 .5-1.9 .5-.9 .4 .1 .5 .8 .4 1.7 .5 3 .5 3.4 .4 3.2 .5 2.9 .5 1.9 .4 .1 .5-2 .5-4.1 .4-6.3 .5-8 .5-8.4 .4-6.8 .5-4.2 .5-1.5 .4 1.6 .5 4.4 .5 6.6 .4 7.6 .5 8.6 .5 9.9 .4 10 .5 9.3 .5 8.5 .4 6.7 .5 4.9 .5 2.1 .4-1.6 .5-2.7 .5-3.2 .4-6.3 .5-8.1 .5-7.7 .4-8.2 .5-8.4 .5-7.8 .4-6.6 .5-4.7 .5-3.1 .4-1.5 .5 .7 .5 2.6 .4 3.2 .5 1.9 .5-.2 .4-2.6 .5-4.7 .5-5.9 .4-6.9 .5-6.8 .4-5.1 .5-2.9 .5-.1 .4 1.6 .5 2.9 .5 3.8 .4 4.2 .5 4.2 .5 3.8 .4 3.1 .5 2.6 .5 2 .4 1.3 .5 1.4 .5 1.3 .4 .8 .5-.2 .5-.8 .4-.6 .5-1.2 .5-1.6 .4-1.6 .5-1.7 .5-1.6 .4-1.6 .5-1.4 .5-.4 .4 1.7 .5 3.9 .5 5.2 .4 6.2 .5 7.2 .5 6.7 .4 4.7 .5 1.6 .5-.9 .4-2.3 .5-3.5 .5-4.3 .4-5.3 .5-6.3 .5-6.1 .4-5.8 .5-5.5 .5-4.5 .4-3.7 .5-3.6 .5-3.5 .4-2.9 .5-2.6 .4-1.5 .5-.9 .5-.4 .4 .7 .5 3.5 .5 6.8 .4 7 .5 4.6 .5 1.6 .4-1.2 .5-3.6 .5-4.7 .4-5.2 .5-5.6 .5-5 .4-3.4 .5-1.1 .5 .7 .4 2.1 .5 4.3 .5 6.3 .4 7.7 .5 8.8 .5 9.8 .4 10.6 .5 9.5 .5 8.3 .4 8.1 .5 7.9 .5 5.9 .4 3.6 .5 2.6 .5 2.8 .4 0 .5-3.5 .5-5 .4-3.8 .5-3.9 .5-7 .4-7.7 .5-6.1 .5-6 .4-6 .5-5.5 .5-4.8 .4-3.9 .5-2.5 .4-.3 .5 2.1 .5 3.5 .4 4.3 .5 3.8 .5 1.3 .4-2 .5-3.9 .5-3.6 .4-2.1 .5-.6 .5 .8 .4 2.3 .5 3.5 .5 4.1 .4 4 .5 3.4 .5 3.3 .4 3.4 .5 3 .5 2.3 .4 2.2 .5 2.6 .5 2.9 .4 2.9 .5 1.7 .5 .6 .4 .4 .5-.2 .5-.5 .4-1.3 .5-2.7 .5-3.2 .4-3 .5-3.8 .5-3.5 .4-1.9 .5-1 .5 .4 .4 2.3 .5 3.5 .5 3.6 .4 3.5 .5 3.5 .5 2.5 .4 1 .5-.5 .5-2.8 .4-3.9 .5-5 .4-6.2 .5-7.2 .5-7.4 .4-7.2 .5-6.6 .5-5.2 .4-3.6 .5-1.9 .5 1.5 .4 6.3 .5 11.1 .5 13.3 .4 11.1 .5 6.7 .5 .7 .4-4.1 .5-6.8 .5-7.3 .4-5.3 .5-2.2 .5 2.2 .4 6.2 .5 8.1 .5 6.6 .4 2.9 .5-2.3 .5-7.3 .4-11.9 .5-15.3 .5-17.1 .4-15.6 .5-12.6 .5-10.4 .4-6.3 .5-2.6 .5-2.4 .4-3.3 .5-3.1 .5-3.7 .4-5.8 .5-5.7 .5-5.1 .4-5 .5-3.6 .5-2 .4 0 .5 6 .5 14.1 .4 19.2 .5 20.3 .4 20.1 .5 18.2 .5 14.8 .4 10.9 .5 6.8 .5 1.9 .4-.9 .5-1.9 .5-2.2 .4-4.4 .5-7 .5-6.6 .4-5.9 .5-4.9 .5-4.4 .4-4.3 .5-3.3 .5-1.7 .4 0 .5 .5 .5 1.8 .4 4.2 .5 6 .5 6.8 .4 8 .5 8.1 .5 7.1 .4 6.8 .5 6.8 .5 7.9 .4 8.9 .5 6.9 .5 4.9 .4 3.8 .5 3.7 .5 3.3 .4 .8 .5 .2 .5-.6 .4-2.2 .5-3.1 .5-3.5 .4-3.3 .5-2.8 .5-3.2 .4-2.7 .5-2 .4-2.1 .5-2.6 .5-3.1 .4-2.7 .5-1.9 .5-.6 .4 .7 .5 2.3 .5 3.2 .4 2.6 .5 1.3 .5-.8 .4-2.5 .5-3.7 .5-6 .4-6.9 .5-6.2 .5-5.1 .4-3 .5 0 .5 1.7 .4 4 .5 5 .5 2.9 .4 .4 .5-2 .5-4.1 .4-5.5 .5-5.8 .5-4.6 .4-2.8 .5-.9 .5 1.3 .4 3.5 .5 5.1 .5 5.4 .4 4.1 .5 1.7 .5-.8 .4-3.3 .5-6 .5-8.1 .4-8.1 .5-5.8 .5-3.2 .4-.4 .5 2.3 .5 3.9 .4 3.6 .5 2.1 .4 1.3 .5 .8 .5 .2 .4 .2 .5 .4 .5 .4 .4-.1 .5-.1 .5 .1 .4 .7 .5 .9 .5 .2 .4-1.1 .5-2.9 .5-5 .4-6.6 .5-6.5 .5-5.2 .4-3.4 .5-1 .5 1 .4 1.8 .5 2.2 .5 2.5 .4 2.6 .5 2.8 .5 2.2 .4 .4 .5-.1 .5 .1 .4-.4 .5-.7 .5 0 .4 1.8 .5 3.1 .5 2.1 .4-.2 .5-1.5 .5-2.4 .4-3.1 .5-3.1 .5-2.9 .4-1.8 .5-.8 .5-.3 .4-.2 .5-.5 .5-.5 .4 .3 .5 .4 .4 .1 .5 0 .5-.8 .4-1.8 .5-2.3 .5-.5 .4 1.5 .5 2.5 .5 3 .4 3.1 .5 2.9 .5 2 .4 .8 .5 .3 .5 .9 .4 1.3 .5 .9 .5 .4 .4 .8 .5 1.6 .5 1.9 .4 2.3 .5 3.2 .5 3.6 .4 3.3 .5 1.7 .5 .2 .4-.2 .5 .1 .5 1 .4 1.9 .5 2.6 .5 3 .4 2.6 .5 1.6 .5 .4 .4-.5 .5-.2 .5 0 .4-.3 .5 .4 .5 .5 .4 .4 .5 1.3 .5 2.4 .4 3.7 .5 4 .4 4.4 .5 3.3 .5 .1 .4-2.1 .5-2.6 .5-2.8 .4-1.6 .5 .2 .5 1 .4 2 .5 2.8 .5 3.1 .4 3.1 .5 1.7 .5-.4 .4-1.5 .5-2.6 .5-3.8 .4-4.7 .5-4.6 .5-3.3 .4-1.2 .5 .2 .5 .8 .4 .9 .5 .4 .5-.3 .4-.9 .5-1.2 .5-1.2 .4-1 .5-.3 .5 0 .4-.2 .5-.3 .5-.3 .4-.1 .5 .5 .5 1 .4 .6 .5-.2 .5-.7 .4-.9 .5-.9 .5-.4 .4 .2 .5 .4 .5 0 .4-.6 .5-1.8 .4-2.9 .5-2.9 .5-2.5 .4-2.1 .5-2 .5-2.2 .4-2.9 .5-3.4 .5-2.7 .4-1.2 .5-.5 .5-.3 .4 .4 .5 1.9 .5 2.5 .4 2.6 .5 3 .5 3.7 .4 4.9 .5 5.5 .5 5 .4 3.1 .5 1.5 .5 .5 .4 .4 .5-.2 .5-1 .4-1.9 .5-2.4 .5-2.8 .4-3.4 .5-3.7 .5-4.3 .4-4.8 .5-4.1 .5-3.2 .4-3.5 .5-4.5 .5-4.5 .4-4 .5-3.6 .5-3.2 .4-2.5 .5-1.1 .5-.5 .4-1.3 .5-1.7 .5-.5 .4 1.3 .5 2.6 .4 2.6 .5 2.2 .5 1.4 .4 .8 .5-.2 .5-1.3 .4-1.8 .5-1.2 .5-.9 .4-1 .5-1.1 .5-1.6 .4-1.3 .5-.2 .5 1.5 .4 3.2 .5 4.2 .5 4 .4 3.5 .5 3 .5 3.4 .4 4.1 .5 4.6 .5 4.9 .4 4 .5 2.8 .5 1.4 .4 .2 .5 .1 .5 .5 .4-.1 .5-.2 .5-.3 .4-1.1 .5-2.5 .5-2.7 .4-2.5 .5-1.7 .5-.7 .4 .2 .5 .5 .5 .3 .4-.3 .5-.8 .5-.5 .4 .1 .5 .8 .4 .9 .5 .6 .5 .5 .4 .4 .5-.2 .5 .1 .4 1.1 .5 2.2 .5 2.5 .4 1.9 .5 2.1 .5 1.8 .4 1 .5 1.7 .5 3.1 .4 3.4 .5 4.3 .5 4.5 .4 3.2 .5 1.7 .5 1.7 .4 3 .5 4.1 .5 3.6 .4 2.9 .5 2.2 .5 .3 .4-.7 .5-.4 .5-.1 .4-.5 .5-.5 .5-.6 .4-2 .5-3.2 .5-3 .4-3 .5-3.4 .5-3 .4-2.3 .5-2.9 .5-3.6 .4-4.4 .5-4.4 .5-4.1 .4-3.7 .5-2.9 .5-2.2 .4-2.1 .5-2.8 .4-3.7 .5-3.8 .5-1.9 .4-.8 .5-1.1 .5-1.3 .4-.9 .5-.9 .5-.7 .4 .5 .5 2.1 .5 2.3 .4 1.6 .5 1.8 .5 1.2 .4 1.3 .5 1 .5 .9 .4 .9 .5 1.2 .5 1.3 .4 .7 .5-.8 .5-1.7 .4-1.2 .5-.6 .5-.6 .4 .2 .5 .6 .5 .3 .4 0 .5-.9 .5-1.5 .4-.9 .5 .2 .5 1.1 .4 1.1 .5 .8 .5 0 .4-.8 .5 .1 .5 1.9 .4 2.3 .5 1.9 .5 2.2 .4 2.1 .5 1.2 .5 1 .4 1.4 .5 1.8 .4 1.9 .5 1.1 .5 .8 .4 .1 .5-1.3 .5-1.7 .4-1.6 .5-1 .5-.5 .4-1.3 .5-2.4 .5-2.6 .4-3 .5-3.6 .5-2.8 .4-2.2 .5-1.9 .5-1.5 .4-1.1 .5-1.2 .5-1.6 .4-1.2 .5-.1 .5 1.7 .4 3.1 .5 2.6 .5 2 .4 2 .5 2.4 .5 2.8 .4 3 .5 3.1 .5 3.4 .4 2.7 .5 1.9 .5 .8 .4 .7 .5 1.1 .5 .2 .4-.4 .5-.6 .5-1.7 .4-2.4 .5-2.4 .5-2 .4-.8 .5 .1 .4 .7 .5 1.5 .5 1.8 .4 1.2 .5 .6 .5 .7 .4 1.5 .5 2.1 .5 2.4 .4 1.6 .5 .6 .5-.3 .4-.8 .5-.5 .5-.1 .4-.2 .5-.5 .5-.8 .4-1.3 .5-1.8 .5-2 .4-1.6 .5-1.1 .5-1.1 .4-1 .5-1.3 .5-2.5 .4-3.2 .5-3.3 .5-2.6 .4-1.7 .5-1.3 .5-1.5 .4-1.7 .5-1.3 .5-.8 .4-.1 .5 .3 .5 1.4 .4 2.4 .5 1.8 .5 .6 .4 .3 .5 0 .5-.4 .4-.2 .5 0 .5 .1 .4-.2 .5-.9 .4-1.4 .5-1.4 .5-.8 .4 .5 .5 1.8 .5 2.5 .4 2.8 .5 2.1 .5 1.6 .4 2 .5 3.1 .5 3.4 .4 3.5 .5 3.6 .5 2.6 .4 1.7 .5 1.1 .5 .7 .4 .8 .5 1.5 .5 1.8 .4 .5 .5-.6 .5-1.1 .4-1.5 .5-1.3 .5-.6 .4 0 .5-.2 .5-.6 .4-.8 .5-.5 .5-.8 .4-.8 .5-.2 .5 .2 .4 .2 .5-.1 .5-1 .4-1.6 .5-1.3 .5-.6 .4-.6 .5-.7 .5-.5 .4-.7 .5-1.7 .4-2.2 .5-1.7 .5-1.1 .4-.4 .5 .2 .5-.4 .4-.9 .5-1 .5-1 .4-.1 .5 .7 .5 1.5 .4 2.1 .5 1.3 .5 0 .4-.5 .5-.7 .5-.6 .4-.1 .5-.2 .5-.7 .4-.8 .5-1.3 .5-1.5 .4-1.3 .5-1 .5-.1 .4 0 .5-.5 .5-1 .4-1.2 .5-1 .5-.6 .4 .2 .5 .9 .5 .9 .4 .5 .5-.1 .5-.6 .4-.6 .5-.2 .5 .3 .4 .6 .5 1 .5 .7 .4 .5 .5-.3 .5-.6 .4-.1 .5 .8 .4 1.4 .5 1.2 .5 .5 .4 .1 .5-.2 .5-.5 .4-.4 .5 .2 .5 1.1 .4 1 .5 .6 .5 .1 .4-.1 .5-.2 .5 .1 .4 .9 .5 1.2 .5 .6 .4-.4 .5-.7 .5-.6 .4 0 .5 .6 .5 1 .4 1 .5 .7 .5 0 .4-.5 .5-.7 .5-.1 .4 .3 .5 .4 .5 .6 .4 .3 .5-.2 .5-.5 .4-.4 .5 .2 .5 1.3 .4 1.1 .5 .5 .5 .1 .4-.5 .5-.4 .5 0 .4 .4 .5 .7 .5 .6" stroke="#ba55d3"/>
<path d="M45.2 669.3l.5 .4 .4 .4 .5-.2 .5-.4 .4 .2 .5 .4 .5 .4 .4 .3 .5 .2 .5-.1 .4 0 .5 .4 .5 .5 .4 .4 .5 .3 .5 .1 .4 .2 .5 .2 .5 .5 .4 .5 .5 .1 .5-.2 .4 .2 .5-.4 .4-1.1 .5-1.4 .5-1.3 .4-.9 .5-.2 .5-.2 .4-.3 .5 0 .5 .1 .4 .4 .5-.5 .5-2.2 .4-4.3 .5-6.5 .5-7.7 .4-7.4 .5-5.7 .5-3.1 .4 .8 .5 6.5 .5 11.7 .4 15.3 .5 17 .5 16.2 .4 11.9 .5 6.3 .5-2 .4-11.7 .5-18.3 .5-21.9 .4-22.5 .5-19.1 .5-13 .4-7.9 .5-5.4 .5-3.6 .4-2.2 .5 .6 .5 5.1 .4 8.4 .5 11.6 .5 15.2 .4 17 .5 19.7 .5 20 .4 20.3 .5 19.8 .5 17.9 .4 16.4 .5 12.9 .4 7.7 .5 5 .5-1.5 .4-7.7 .5-10.5 .5-15.7 .4-16.8 .5-13.1 .5-13.2 .4-13.8 .5-11.1 .5-6.9 .4-2.8 .5 1.1 .5 5.4 .4 8.3 .5 11.4 .5 12.1 .4 11 .5 6 .5 1.6 .4-1 .5-4.9 .5-8.4 .4-10.8 .5-13.9 .5-16.1 .4-17.1 .5-18.9 .5-20 .4-18.3 .5-15 .5-13 .4-13.9 .5-15.1 .5-14 .4-13.6 .5-8.2 .5 6.8 .4 13.9 .5 18.9 .5 22.8 .4 20.3 .5 15.4 .5 5.2 .4 .7 .5-2.2 .5-6.1 .4-9.2 .5-5.7 .4 .1 .5 6.3 .5 13.1 .4 18.9 .5 18.9 .5 18 .4 19.9 .5 23.1 .5 24.5 .4 22.4 .5 16.8 .5 10.3 .4 4.3 .5 0 .5-3.2 .4-8.1 .5-13.7 .5-19.9 .4-19.1 .5-15.8 .5-14.9 .4-12.1 .5-8.2 .5-4.7 .4-2.8 .5-1.9 .5-1 .4-2.3 .5-2.4 .5-1.8 .4-1.5 .5-3.2 .5-1.8 .4 1.3 .5 3.1 .5 2.7 .4 .7 .5 .3 .5 1.9 .4 2.6 .5 2.5 .5 2.9 .4 3.4 .5 3.5 .5 2.6 .4 1.2 .5-.6 .4-2.2 .5-2.6 .5-3.4 .4-3.4 .5-2.4 .5-.6 .4 1.2 .5 2.2 .5 2.5 .4 2.5 .5 1.6 .5 1.1 .4 1.1 .5 .4 .5-.8 .4-1.9 .5-3.1 .5-4.5 .4-5 .5-5.3 .5-6 .4-5.9 .5-5.6 .5-4.8 .4-3.6 .5-2.3 .5-1 .4 .2 .5 2.1 .5 4.9 .4 7.6 .5 8.4 .5 8.8 .4 8.5 .5 6.8 .5 5.2 .4 5 .5 2.5 .5-2.8 .4-5.2 .5-4.7 .5-3.7 .4-.3 .5 4.7 .5 8.5 .4 10.8 .5 12.4 .5 12.2 .4 10.6 .5 8.6 .4 3.6 .5-.7 .5-1.1 .4-1.6 .5-3.8 .5-5.4 .4-5 .5-5.1 .5-6.7 .4-6.9 .5-6.1 .5-5.9 .4-3.7 .5-1.3 .5 .8 .4 1.6 .5 1.4 .5 0 .4-1.7 .5-3 .5-4.5 .4-5.6 .5-5.3 .5-4.4 .4-4.2 .5-5.1 .5-5.6 .4-5.6 .5-5.5 .5-2.2 .4 .3 .5-1.3 .5-1.4 .4 .3 .5-.2 .5 0 .4 1.4 .5 1 .5-.9 .4-.2 .5 1.3 .5 1.8 .4 3.6 .5 3.5 .5 2.7 .4 5.3 .5 6.7 .5 4.3 .4 2.7 .5 4.3 .4 5.2 .5 4.5 .5 1.5 .4-.4 .5-1.5 .5-3.4 .4-3.8 .5-2.6 .5-.1 .4 2.5 .5 4.7 .5 6 .4 7.6 .5 8.7 .5 8.2 .4 7.8 .5 7.5 .5 10 .4 9 .5 3.3 .5-2.2 .4-7.2 .5-13 .5-19.3 .4-24.7 .5-25.2 .5-22.4 .4-15.2 .5-6.8 .5 .8 .4 7 .5 10.5 .5 13.7 .4 15.3 .5 15 .5 14.4 .4 12.7 .5 11 .5 8.2 .4 4.3 .5 .6 .5-1.4 .4-2.4 .5-2.6 .5-3.7 .4-4.3 .5-4 .4-4.2 .5-5.2 .5-5 .4-5 .5-6.2 .5-7.9 .4-8.1 .5-8.3 .5-8.6 .4-8.2 .5-8.9 .5-7.2 .4-4.9 .5-1.3 .5 .1 .4 .4 .5 1.5 .5 2.5 .4 4.8 .5 6.4 .5 5.6 .4 4.9 .5 5.3 .5 6.2 .4 5.9 .5 5.5 .5 5 .4 3.7 .5 2.8 .5 2.7 .4 2.8 .5 2.5 .5 2.4 .4 2.6 .5 3.5 .5 2.8 .4 1.3 .5 1 .5-1.1 .4-4.2 .5-7 .5-7 .4-7.1 .5-8.2 .5-7 .4-4.6 .5-2.3 .5 1 .4 3.9 .5 4.5 .4 4 .5 4.4 .5 5 .4 4.6 .5 3.5 .5 2.5 .4 1.1 .5-.8 .5-2.1 .4-2.3 .5-3.3 .5-3.1 .4-1.9 .5-.7 .5 1 .4 1.8 .5 1.4 .5 .4 .4-1 .5-3 .5-5.1 .4-5.4 .5-4.4 .5-3.2 .4-2.1 .5-.4 .5 1.1 .4 2.2 .5 3.2 .5 3.8 .4 3.6 .5 3.2 .5 3.5 .4 2.6 .5 1.7 .5 1 .4-.8 .5-1.7 .5-1.4 .4-1.8 .5-1.8 .5-2.1 .4-1.6 .5-.5 .5-.5 .4-.3 .5 .7 .4 1.9 .5 2.1 .5 2.1 .4 2.5 .5 3.2 .5 2.5 .4 .2 .5-.8 .5-2.7 .4-5.1 .5-6.2 .5-6.4 .4-5.8 .5-3.7 .5-1.7 .4 .1 .5 3.1 .5 5.2 .4 6.2 .5 6.7 .5 6.6 .4 7.3 .5 7.6 .5 6.6 .4 5.8 .5 3.8 .5 1.5 .4 .4 .5-.2 .5-1.9 .4-5 .5-6.4 .5-6.1 .4-5.4 .5-5.1 .5-5.1 .4-4.6 .5-4.2 .5-2.5 .4 .2 .5 1.6 .5 2.1 .4 2.8 .5 2.2 .5 .5 .4-1.5 .5-3.3 .5-4.3 .4-5.2 .5-5.6 .4-4.3 .5-2.3 .5-.2 .4 1.9 .5 3 .5 3.7 .4 4.2 .5 3.5 .5 3.3 .4 3.2 .5 2.8 .5 2.3 .4 1.8 .5 1.4 .5 1 .4 .4 .5 .3 .5 .2 .4-.3 .5 0 .5-.6 .4-1.7 .5-1.8 .5-1.5 .4-1.5 .5-1.6 .5-.8 .4 1.5 .5 3.6 .5 4.4 .4 4.9 .5 4.7 .5 3.6 .4 3.1 .5 1.9 .5-.7 .4-2 .5-2.8 .5-3.4 .4-3.4 .5-4 .5-4.4 .4-4.2 .5-4.6 .5-4.2 .4-3.6 .5-3.7 .5-2.9 .4-1.9 .5-1.7 .4-1.2 .5-1 .5-.2 .4 1.1 .5 2.7 .5 4.9 .4 5.7 .5 4.1 .5 1.2 .4-1 .5-2.8 .5-4.6 .4-5 .5-4.9 .5-4.3 .4-2.9 .5-1.4 .5 .3 .4 1.3 .5 3.6 .5 5.4 .4 5.1 .5 4.2 .5 5.3 .4 5.4 .5 5.7 .5 6.1 .4 6.1 .5 5.7 .5 3.9 .4 1.5 .5 1.3 .5 2 .4-1 .5-3.1 .5-2.1 .4-1.8 .5-2.4 .5-3.5 .4-4.7 .5-4.7 .5-4.6 .4-4.3 .5-4.3 .5-3.8 .4-2.8 .5-2.2 .4-.7 .5 1.2 .5 2.7 .4 3.3 .5 2.8 .5 .8 .4-2.1 .5-3.6 .5-3.7 .4-2.8 .5-1.1 .5 .7 .4 2 .5 2.5 .5 2.8 .4 3.6 .5 3.3 .5 2.3 .4 1.7 .5 1.7 .5 2.1 .4 2.2 .5 3 .5 2.3 .4 1.2 .5 1.2 .5 1.7 .4 1.2 .5 .3 .5-.8 .4-2.1 .5-2.6 .5-1.6 .4-1.6 .5-2.1 .5-1.6 .4-.7 .5-.1 .5 .7 .4 1.3 .5 2.9 .5 4.1 .4 3.9 .5 3.2 .5 1.8 .4 1 .5 .4 .5-.9 .4-2.5 .5-3.7 .4-4.7 .5-5 .5-4.4 .4-3.9 .5-3.8 .5-4.7 .4-4.5 .5-1.8 .5 1.6 .4 4.3 .5 7.8 .5 10 .4 9.8 .5 5.9 .5 .4 .4-3 .5-5 .5-5.5 .4-3.9 .5-.9 .5 1.3 .4 4 .5 6.4 .5 6.4 .4 3.5 .5-.6 .5-4.7 .4-7.5 .5-8.1 .5-9.5 .4-9.2 .5-7.1 .5-4.6 .4 0 .5 1.2 .5-1.2 .4-2.6 .5-1.7 .5-.8 .4-3 .5-5 .5-4.8 .4-3.6 .5-3.6 .5-2.5 .4-.7 .5 4.4 .5 7.9 .4 7.7 .5 9.7 .4 12.5 .5 13.9 .5 11.7 .4 7.6 .5 1.8 .5-.5 .4-.2 .5-2.2 .5-1.9 .4-1.3 .5-3.3 .5-4.4 .4-4.1 .5-3.2 .5-3.4 .4-2.9 .5-2.6 .5-.8 .4 .1 .5 0 .5 .9 .4 2.4 .5 2.8 .5 4.2 .4 6.7 .5 6.2 .5 5.1 .4 4.9 .5 5.4 .5 5.3 .4 4.6 .5 2 .5-.3 .4 1.7 .5 4 .5 2.7 .4 .2 .5-3.2 .5-4.2 .4-3.5 .5-4.4 .5-5.6 .4-3.9 .5-2 .5-3.3 .4-4.6 .5-3.8 .4-2.5 .5-2.5 .5-2.6 .4-1.4 .5-.8 .5-.6 .4 .5 .5 1.5 .5 3.4 .4 3.6 .5 1.4 .5-.6 .4-1.3 .5-1.7 .5-3.5 .4-4.4 .5-3.2 .5-2.2 .4-.1 .5 1 .5 .7 .4 1.6 .5 2.9 .5 2.5 .4 .9 .5-1 .5-2.9 .4-3.1 .5-2.7 .5-2.4 .4-1.9 .5-.7 .5 1.2 .4 2.8 .5 3.1 .5 3.4 .4 3.1 .5 1.6 .5-.1 .4-1.7 .5-2.8 .5-3.6 .4-3.5 .5-2.8 .5-1.9 .4-.4 .5 1.9 .5 2.6 .4 2.8 .5 3.2 .4 2.1 .5 1.3 .5 1.2 .4 1.1 .5 .9 .5 .7 .4 .7 .5 1.1 .5 1.9 .4 2.2 .5 1.9 .5 .8 .4-.3 .5-1.2 .5-2.2 .4-3.1 .5-3.3 .5-3.1 .4-2.5 .5-1.3 .5 .1 .4 1.7 .5 2.3 .5 2.8 .4 2.2 .5 1 .5 .4 .4 .2 .5-.8 .5-1.9 .4-1.2 .5-.4 .5-.2 .4 .4 .5 .5 .5 .5 .4 0 .5-.8 .5-2 .4-2.2 .5-2.3 .5-2.4 .4-2.2 .5-1.6 .5-.5 .4 .1 .5 .4 .5 .7 .4 .5 .5-.2 .4-.9 .5-.7 .5-1.3 .4-1.3 .5-.5 .5-.2 .4-.1 .5 .7 .5 1.7 .4 1.6 .5 1 .5 .5 .4 .5 .5 .1 .5-.5 .4-.7 .5-.5 .5-.6 .4-.3 .5 .5 .5 1.4 .4 1.8 .5 1.4 .5 1.1 .4 .6 .5 .4 .5 0 .4-.7 .5-1.2 .5-.1 .4 .9 .5 1.1 .5 1.5 .4 3 .5 2.5 .5 1.2 .4 1.2 .5 .4 .5-1 .4-1.5 .5-1.3 .5-.8 .4-.1 .5 1.3 .5 1.8 .4 1.2 .5 1.7 .4 2.4 .5 1.2 .5-.5 .4-1.1 .5-1.5 .5-1.5 .4-.9 .5-.8 .5-.6 .4 .2 .5 1.3 .5 1.9 .4 1.4 .5 .4 .5-.2 .4-.8 .5-2 .5-2.8 .4-3.1 .5-2.6 .5-1.6 .4-1.1 .5-1 .5 0 .4 .6 .5 .8 .5 .4 .4-.1 .5-.3 .5-.3 .4-.5 .5-.8 .5-.5 .4 .3 .5 1 .5 1.1 .4 1.2 .5 1.2 .5 .9 .4 .8 .5 .2 .5 0 .4 .1 .5 .2 .5 .3 .4 .2 .5 .4 .5 .1 .4-1.1 .5-1.6 .4-2.2 .5-2.1 .5-1.8 .4-1.3 .5-1.3 .5-1.6 .4-2.2 .5-1.7 .5-.8 .4-.5 .5-.9 .5-1.3 .4-.5 .5 1.3 .5 2.1 .4 2.4 .5 3.6 .5 4.7 .4 5.1 .5 5 .5 4.7 .4 4.3 .5 3.3 .5 1.7 .4 .8 .5 .7 .5 1.3 .4-.5 .5-2 .5-2.7 .4-2.5 .5-2.2 .5-2.6 .4-2.6 .5-2.5 .5-2.6 .4-2.7 .5-2.9 .5-2.9 .4-2.9 .5-2.9 .5-3.2 .4-2.7 .5-1.9 .5-.7 .4-1.4 .5-1.3 .5-.5 .4 .1 .5 1 .4 2.5 .5 1.9 .5 .9 .4 .9 .5 .2 .5-.4 .4-.9 .5-.8 .5-1.3 .4-1 .5-.6 .5-.2 .4 .1 .5 .3 .5 .8 .4 1.7 .5 2 .5 1.8 .4 2 .5 2.3 .5 2.4 .4 1.9 .5 1.8 .5 2.1 .4 1.9 .5 2.1 .5 2.1 .4 1.4 .5 .5 .5-.3 .4-.5 .5-.7 .5-1.4 .4-1.1 .5-.6 .5-1.2 .4-1.4 .5-.9 .5-.5 .4-.3 .5-.2 .5-.1 .4-.1 .5-.3 .5-.5 .4-.2 .5 .2 .4 .2 .5-.3 .5-.8 .4-.1 .5 .3 .5 .1 .4 0 .5 0 .5 .5 .4 1 .5 .9 .5 1.4 .4 1.7 .5 1 .5 1.1 .4 1.7 .5 1 .5 .6 .4 1.5 .5 1.9 .5 1.3 .4 0 .5 .3 .5 2.5 .4 2.6 .5 .6 .5-.6 .4 .2 .5 .1 .5-.9 .4-.2 .5 .6 .5-.6 .4-1.6 .5-1.5 .5-1.6 .4-1.4 .5-1.1 .5-1.5 .4-1.8 .5-2.4 .5-1.7 .4-1.3 .5-1.9 .5-2.2 .4-1.8 .5-2.2 .5-2.1 .4-1.7 .5-1.5 .4-1.3 .5-1.1 .5-.4 .4 0 .5 .1 .5-.4 .4-.9 .5-.2 .5 .7 .4 .9 .5 .3 .5 .4 .4 1 .5 1.3 .5 1.6 .4 1.4 .5 1.3 .5 1.9 .4 1.5 .5 .7 .5 .1 .4 .3 .5 .4 .5 .1 .4-.2 .5 .2 .5 .3 .4-.2 .5-.4 .5 .1 .4 .4 .5-.2 .5 .1 .4 0 .5 0 .5 .1 .4-.1 .5-.1 .5 .6 .4 .8 .5 .2 .5 .2 .4 .4 .5 .3 .5 .5 .4 1.1 .5 .6 .5-.3 .4 0 .5 .7 .4 .5 .5 .3 .5 .6 .4 .3 .5-.5 .5-.5 .4-.4 .5-.7 .5-.7 .4-1 .5-1.9 .5-2.1 .4-1.6 .5-1.4 .5-1.5 .4-1.4 .5-1.3 .5-.7 .4-.8 .5-1.3 .5-.3 .4 .5 .5 .2 .5 .4 .4 1.2 .5 1.5 .5 1.7 .4 1.5 .5 2.3 .5 2.5 .4 2.3 .5 2.3 .5 2.2 .4 1.4 .5 .9 .5 1.1 .4 1.2 .5 .3 .5-.8 .4-1.5 .5-1.1 .5-1.4 .4-1.7 .5-1.7 .5-1.4 .4-1.1 .5-1.1 .4-.1 .5 .8 .5 1.1 .4 .7 .5 .8 .5 1.3 .4 1.5 .5 1 .5 .9 .4 .6 .5 .5 .5 .4 .4-.5 .5-.3 .5-.3 .4-.5 .5-.5 .5-.5 .4-.5 .5-.7 .5-.6 .4-.8 .5-1 .5-1.1 .4-1.4 .5-1.2 .5-1.7 .4-2.4 .5-1.6 .5-1 .4-1.2 .5-1.5 .5-.7 .4-.3 .5-.5 .5-.3 .4 .7 .5 1.5 .5 1 .4 .1 .5 .4 .5 .7 .4 .7 .5 .3 .5 .4 .4 .1 .5 .1 .5-.4 .4-1.4 .5-1.7 .4-.5 .5-.7 .5-.6 .4 1 .5 1.8 .5 1.4 .4 .7 .5 .8 .5 1.3 .4 1.9 .5 2.2 .5 2.1 .4 2.3 .5 1.3 .5 .4 .4 1.3 .5 2.9 .5 1.8 .4 .1 .5-.2 .5-.2 .4-.5 .5-.8 .5-.1 .4 .8 .5 .5 .5-.6 .4-1 .5-1.1 .5-1.1 .4-.7 .5-.4 .5-.6 .4-.5 .5 0 .5-.2 .4-.6 .5-.5 .5-.3 .4-.5 .5-.9 .5-.9 .4-1 .5-.6 .5-.1 .4 0 .5-.7 .4-.5 .5-.2 .5-.4 .4 0 .5-.2 .5-.7 .4-.7 .5-.4 .5 .5 .4 .7 .5 .5 .5 .6 .4 .8 .5 .8 .5 .3 .4 0 .5 .3 .5 0 .4 .1 .5-.3 .5-.5 .4-.4 .5-.3 .5-.2 .4-.6 .5-.8 .5-.8 .4-.5 .5-.1 .5-.2 .4 .2 .5 .1 .5-.3 .4-.1 .5 0 .5 .2 .4 .2 .5 .2 .5 .3 .4-.4 .5-.5 .5 0 .4 .3 .5 .7 .5 .4 .4 .4 .5 .5 .5 .4 .4 .4 .5 .6 .4 .3 .5-.2 .5-.1 .4 .6 .5 .5 .5 .3 .4 .3 .5 .3 .5 .2 .4 0 .5 .3 .5 .3 .4 .3 .5 .1 .5-.5 .4-.1 .5 .3 .5 0 .4 .6 .5 .5 .5 0 .4 .2 .5 .3 .5 .2 .4 .1 .5 0 .5 .4 .4 .3 .5-.1 .5-.2 .4-.5 .5 0 .5 .7 .4 .4 .5 .2 .5 0 .4-.1 .5-.2 .5-.2 .4-.6 .5-.2 .5 .6 .4 .4 .5 .4 .5 .4 .4-.5 .5-.9 .5-.1" stroke="#00ff00"/>
<path d="M45.2 669l.5-.1 .4-.1 .5-.2 .5-.1 .4 .1 .5 .4 .5 .4 .4 .3 .5 .4 .5 .4 .4 .5 .5 .5 .5 .5 .4 .1 .5 .2 .5 .7 .4 .8 .5 .6 .5 .4 .4 0 .5-.5 .5-.6 .4-.3 .5-.1 .4 0 .5-.6 .5-1.1 .4-1.2 .5-.8 .5-.8 .4-.5 .5-.1 .5 .3 .4 .2 .5-.4 .5-1.5 .4-3.2 .5-4.8 .5-6.5 .4-7.3 .5-6.6 .5-5.4 .4-2.5 .5 3.5 .5 9.8 .4 13.5 .5 15.7 .5 16.1 .4 13.3 .5 7.5 .5-.8 .4-7 .5-12.3 .5-18.3 .4-20.8 .5-18.8 .5-14.7 .4-9.9 .5-5.3 .5-2.1 .4-1.2 .5 .1 .5 3.2 .4 6.2 .5 8.7 .5 11.3 .4 13.3 .5 17.3 .5 18.9 .4 17.6 .5 15.8 .5 13.8 .4 12.6 .5 11.1 .4 9.2 .5 4.2 .5-1.8 .4-3.9 .5-6.6 .5-11.2 .4-12.8 .5-11.5 .5-10.8 .4-9.9 .5-8.5 .5-6.9 .4-4 .5-.2 .5 3.3 .4 6.9 .5 10.6 .5 11.2 .4 10 .5 6.7 .5 2.3 .4 .2 .5-2.7 .5-6.8 .4-8.5 .5-10.4 .5-13.1 .4-15.3 .5-17.2 .5-18.2 .4-17.9 .5-16.1 .5-16.2 .4-18 .5-17.9 .5-13.8 .4-4.9 .5 3 .5 4.2 .4 7.2 .5 15 .5 18.3 .4 16.2 .5 12.5 .5 7.5 .4 3.1 .5-.6 .5-3.2 .4-3.6 .5-2.1 .4 .2 .5 2.8 .5 6.4 .4 11.6 .5 16.7 .5 19.9 .4 20.1 .5 20.9 .5 22 .4 22.1 .5 19.8 .5 12.9 .4 3.8 .5-.5 .5-1.3 .4-6.9 .5-14.5 .5-16.9 .4-16.5 .5-16.3 .5-15.4 .4-11.6 .5-6.7 .5-3.5 .4-2.3 .5-2.1 .5-2.8 .4-2.5 .5-2.2 .5-1.6 .4 0 .5 .6 .5 0 .4-.9 .5-.8 .5-.2 .4 .9 .5 1.9 .5 1.3 .4 1.8 .5 2.2 .5 1.9 .4 1.8 .5 3 .5 2.9 .4 1.7 .5-.3 .4-1.5 .5-2.6 .5-3.2 .4-3.2 .5-2.5 .5-.8 .4 .5 .5 1.3 .5 2.1 .4 2.3 .5 1.9 .5 1.2 .4 .6 .5 .3 .5-.3 .4-1.5 .5-2.7 .5-3.9 .4-4.5 .5-4.7 .5-5.1 .4-4.7 .5-4.7 .5-4.8 .4-4.6 .5-3.4 .5-1.4 .4 .6 .5 2.8 .5 3.6 .4 4 .5 5.5 .5 7.1 .4 7.7 .5 7.4 .5 7 .4 3.4 .5-.3 .5-1.2 .4-2.8 .5-4.2 .5-3.2 .4-.3 .5 2.3 .5 5.6 .4 9.1 .5 11.7 .5 11.9 .4 10.3 .5 8.4 .4 6.8 .5 4.2 .5 1.2 .4-2.3 .5-5.3 .5-5.5 .4-3.7 .5-4.3 .5-5.4 .4-5.7 .5-5.6 .5-5.4 .4-4.6 .5-2.8 .5-.3 .4 1.8 .5 1.9 .5 .8 .4-1 .5-2.8 .5-3.2 .4-3.3 .5-3.5 .5-3.7 .4-4 .5-4 .5-3.2 .4-3.3 .5-4.5 .5-3.6 .4-1.2 .5-1.6 .5-1.9 .4-.3 .5 0 .5 .4 .4-.3 .5-.7 .5-.8 .4-1.5 .5-1 .5 .7 .4 .6 .5 2.4 .5 5 .4 4.1 .5 2.7 .5 2.8 .4 3.5 .5 3.2 .4 2.5 .5 1.6 .5 1.2 .4 0 .5-1.1 .5-2.4 .4-3.6 .5-2.5 .5-1 .4 .9 .5 3.5 .5 5.9 .4 7 .5 7.6 .5 8.4 .4 8.2 .5 5.6 .5 5.7 .4 8.1 .5 7.8 .5 4.6 .4-1.4 .5-9.4 .5-16.4 .4-21 .5-22.9 .5-21.9 .4-16.1 .5-8.2 .5-1.4 .4 4.2 .5 8.2 .5 10.4 .4 13 .5 14.2 .5 14.1 .4 12.5 .5 11.1 .5 8.9 .4 5.2 .5 2.2 .5 .3 .4-1.1 .5-2 .5-2.9 .4-4 .5-5.2 .4-4.8 .5-4.2 .5-4.5 .4-4.7 .5-4.6 .5-5.8 .4-7.4 .5-7.9 .5-6.9 .4-6.5 .5-8.2 .5-8.8 .4-5.9 .5-3.5 .5-2.1 .4-.3 .5 2.1 .5 2.9 .4 4 .5 5.1 .5 4.4 .4 4.4 .5 5.9 .5 6.3 .4 5.7 .5 4.9 .5 4.2 .4 3.5 .5 2.7 .5 2.6 .4 2.5 .5 2.3 .5 3.2 .4 3.9 .5 4 .5 2.8 .4 1.4 .5 .6 .5-.3 .4-2.4 .5-5.1 .5-7 .4-7.6 .5-7.8 .5-7.3 .4-5.5 .5-3.2 .5-.5 .4 1.6 .5 2.7 .4 3.5 .5 4.4 .5 4.5 .4 3.9 .5 3.2 .5 2.3 .4 1.1 .5-.4 .5-1 .4-1.7 .5-2.4 .5-2.4 .4-1.6 .5-1.2 .5-.4 .4 1.1 .5 1.9 .5 .9 .4-.3 .5-1.2 .5-2.7 .4-4 .5-4.6 .5-4.6 .4-3.5 .5-1.4 .5 .1 .4 1.8 .5 3.1 .5 3.1 .4 2.9 .5 3 .5 2.9 .4 2.1 .5 1.2 .5 .5 .4 .1 .5-.6 .5-1.6 .4-1.6 .5-1 .5-.8 .4-1.4 .5-1.2 .5-.6 .4-.1 .5 1 .4 2 .5 1.9 .5 1.9 .4 2.7 .5 3.1 .5 2.5 .4 1.3 .5-1.1 .5-2.6 .4-3.5 .5-4.8 .5-5.5 .4-5.3 .5-4 .5-2.1 .4 .1 .5 2.4 .5 4 .4 5.5 .5 6.4 .5 6.6 .4 7.5 .5 8.4 .5 6.8 .4 4.9 .5 4.2 .5 2.9 .4 1.4 .5-1.6 .5-4.3 .4-4.4 .5-4.2 .5-4.6 .4-5.5 .5-5.9 .5-5.5 .4-4.6 .5-3.2 .5-2.1 .4-1.1 .5 .3 .5 1.2 .4 1.7 .5 2.2 .5 1.7 .4-.3 .5-2.5 .5-3.8 .4-4.2 .5-4.1 .4-3.9 .5-2.9 .5-.9 .4 .8 .5 2.1 .5 3.4 .4 3.9 .5 3.5 .5 3.3 .4 3 .5 2.4 .5 2.1 .4 2 .5 1.5 .5 .9 .4 1.1 .5 1.3 .5 1 .4-.1 .5-.9 .5-1.1 .4-1.2 .5-1.4 .5-1.9 .4-1.7 .5-1.4 .5-.4 .4 .8 .5 2 .5 3.3 .4 4.6 .5 5.2 .5 4.6 .4 3.5 .5 2.3 .5 .3 .4-1.4 .5-2.3 .5-3 .4-3.9 .5-4.6 .5-4.7 .4-4.1 .5-4 .5-3.6 .4-2.9 .5-2.5 .5-2.7 .4-2.7 .5-2.2 .4-1.3 .5-.2 .5-.1 .4-.3 .5 .7 .5 3.4 .4 4.7 .5 3.4 .5 1.5 .4-.1 .5-2 .5-3.3 .4-4 .5-4.5 .5-4.3 .4-2.8 .5-1.1 .5-.6 .4-.2 .5 1.9 .5 4.2 .4 4.9 .5 5 .5 4.8 .4 5 .5 5 .5 5.6 .4 6.4 .5 6.1 .5 5.1 .4 4.6 .5 2.8 .5-1 .4-3.2 .5-3 .5-2.9 .4-3 .5-3.7 .5-3.7 .4-3 .5-3 .5-3.9 .4-4.6 .5-3.7 .5-2.8 .4-2.8 .5-2.9 .4-2.2 .5-.1 .5 2.1 .4 3.4 .5 3.5 .5 1.8 .4-.5 .5-2.6 .5-3.9 .4-3.3 .5-1.4 .5 .3 .4 1.2 .5 2.1 .5 2.9 .4 2.9 .5 2.8 .5 2.5 .4 2.5 .5 2.4 .5 1.9 .4 1.4 .5 1.6 .5 1.9 .4 2.1 .5 1.5 .5 .9 .4 0 .5-.4 .5 0 .4-.1 .5-.5 .5-.8 .4-1.7 .5-2.2 .5-1.3 .4-.4 .5-.2 .5 0 .4 .9 .5 2.2 .5 2.8 .4 3.2 .5 3.1 .5 2.7 .4 1.8 .5-.3 .5-1.4 .4-2.1 .5-2.8 .4-3.6 .5-4.3 .5-4.3 .4-4.3 .5-4.4 .5-4.6 .4-3.9 .5-1.8 .5 1.4 .4 3.4 .5 5.1 .5 7.8 .4 9.2 .5 7 .5 2.5 .4-1.8 .5-4.1 .5-4.4 .4-3.7 .5-1.9 .5 .2 .4 2.5 .5 4.8 .5 5.6 .4 4 .5 1 .5-2.1 .4-5 .5-7.9 .5-9.8 .4-8.7 .5-7.4 .5-6.9 .4-5 .5-.9 .5 1.1 .4 .4 .5-1.1 .5-4 .4-5.7 .5-4.5 .5-3.7 .4-3.3 .5-1.8 .5-.1 .4 0 .5 1.7 .5 5.2 .4 7.9 .5 10.1 .4 10.9 .5 10.8 .5 9.9 .4 7.1 .5 4.2 .5 1.5 .4-.6 .5-1.9 .5-2.3 .4-1.3 .5-1.3 .5-3 .4-4.5 .5-4.3 .5-3 .4-2 .5-1.7 .5-1 .4-.6 .5 .2 .5 1 .4 1.6 .5 3.1 .5 4.2 .4 4.3 .5 4.2 .5 4.2 .4 4.1 .5 5.1 .5 4.8 .4 4 .5 4 .5 4.4 .4 3 .5 .5 .5 1.1 .4 1.2 .5-1.2 .5-1.6 .4-1.7 .5-3.2 .5-3.6 .4-3.5 .5-3.5 .5-3.5 .4-3.2 .5-3 .4-2.5 .5-2.3 .5-1.6 .4-1.2 .5-1.4 .5-1 .4 .5 .5 2.2 .5 2.6 .4 1.9 .5 1.5 .5 .9 .4-.4 .5-1.8 .5-2.4 .4-2.9 .5-3 .5-2.8 .4-1.9 .5-.5 .5 1 .4 2.4 .5 2.3 .5 2.2 .4 1.6 .5-.5 .5-2.2 .4-2.8 .5-2.7 .5-3.1 .4-4.1 .5-2.6 .5 .5 .4 2.9 .5 3.3 .5 3.2 .4 2.7 .5 1.8 .5 .4 .4-1.5 .5-2.8 .5-3.3 .4-3.9 .5-3.8 .5-2.4 .4-1.3 .5 .3 .5 1.9 .4 3 .5 3.4 .4 3.5 .5 2.8 .5 1.9 .4 .9 .5 .1 .5 .1 .4 .7 .5 1.3 .5 1.5 .4 1.8 .5 2.2 .5 1.8 .4 .7 .5-.6 .5-1.4 .4-1.9 .5-3.3 .5-3.6 .4-2.9 .5-1.7 .5-.3 .4 1 .5 2 .5 2.5 .4 2.1 .5 1.5 .5 .7 .4-.2 .5-.7 .5-.9 .4-.9 .5-.6 .5-.1 .4 .6 .5 .6 .5 .5 .4 .3 .5-.3 .5-.7 .4-1.2 .5-1.9 .5-2.3 .4-1.6 .5-.7 .5-.4 .4-.2 .5 .4 .5 .3 .4 .2 .5 .5 .4 .4 .5-.1 .5-.6 .4-.9 .5-.8 .5-.6 .4-.2 .5 .1 .5 .3 .4 .5 .5 .6 .5 .6 .4 .4 .5 .2 .5-.3 .4-.6 .5-.9 .5-.6 .4-.4 .5 0 .5 .7 .4 1.2 .5 1.2 .5 1.1 .4 1.1 .5 1 .5-.3 .4-1.2 .5-.6 .5 0 .4 .1 .5 .6 .5 1.7 .4 2 .5 1.8 .5 1.5 .4 .5 .5-.4 .5-.4 .4-.8 .5-1.5 .5-1.1 .4-.1 .5 .3 .5 .4 .4 .4 .5 .6 .4 1.3 .5 1.6 .5 .6 .4-.3 .5-1.7 .5-2.2 .4-1.3 .5-1.1 .5-1.2 .4-.2 .5 1.1 .5 1.5 .4 1.3 .5 .6 .5 .2 .4-.3 .5-.8 .5-1 .4-1.8 .5-2.6 .5-2.2 .4-1 .5-.2 .5 .5 .4 .6 .5 .5 .5 .3 .4 .3 .5 .2 .5-.5 .4-1.1 .5-.4 .5 0 .4 .1 .5 .3 .5 .5 .4 .6 .5 .6 .5 .9 .4 1 .5 .5 .5 .2 .4 .2 .5 .4 .5 .2 .4 .4 .5 .3 .5-.5 .4-.9 .5-1.4 .4-1.6 .5-1.8 .5-2.1 .4-2.3 .5-2 .5-1.5 .4-1.7 .5-1.8 .5-1.3 .4-.8 .5-.8 .5-.4 .4 .8 .5 1.6 .5 1.9 .4 3 .5 4.1 .5 4.1 .4 4 .5 4.5 .5 4.8 .4 4.9 .5 4.6 .5 3.7 .4 2.2 .5 .4 .5-.7 .4-1.4 .5-.9 .5-.9 .4-1.1 .5-1.8 .5-2.7 .4-3.3 .5-3.3 .5-2.3 .4-1.9 .5-2.7 .5-2.9 .4-2.4 .5-2.2 .5-1.9 .4-1.9 .5-2.2 .5-1.9 .4-1.3 .5-.9 .5-.7 .4 .5 .5 .6 .4 .3 .5 1 .5 1.5 .4 1.1 .5 .4 .5-.1 .4-.7 .5-1 .5-.6 .4-1 .5-1.3 .5-.8 .4 0 .5 .3 .5 .3 .4 .6 .5 1.3 .5 1.5 .4 1.4 .5 1.9 .5 2 .4 1.9 .5 2 .5 2.2 .4 1.7 .5 1 .5 1 .4 .6 .5 .4 .5 .4 .4-.1 .5-.4 .5-.8 .4-.5 .5-.7 .5-1 .4-.9 .5-.9 .5-.5 .4 0 .5-.1 .5-.5 .4-.4 .5-.1 .5-.1 .4 0 .5-.1 .4-.5 .5-.3 .5 .3 .4 .9 .5 .7 .5-.1 .4-.7 .5-.2 .5 .7 .4 .6 .5 .3 .5 .7 .4 .8 .5 1.7 .5 2 .4 1.4 .5 .9 .5 1.1 .4 .9 .5 .9 .5 1.3 .4 1.3 .5 .9 .5 .8 .4 1.2 .5 1.2 .5 .3 .4-.7 .5-.7 .5 .6 .4 .9 .5-.4 .5-1.3 .4-1.2 .5-.6 .5-1 .4-1.7 .5-1.3 .5-1 .4-1.8 .5-2 .5-1.7 .4-1.7 .5-1.8 .5-1.8 .4-1.7 .5-1.5 .5-1.1 .4-1.7 .5-1.9 .4-2 .5-2.1 .5-1.7 .4-1.2 .5-.7 .5 0 .4-.7 .5-1.3 .5-.2 .4 .6 .5 .5 .5 1 .4 1.8 .5 2 .5 1.5 .4 .9 .5 1 .5 1.2 .4 1.4 .5 1.1 .5 .9 .4 .6 .5 .3 .5 .4 .4 .2 .5 .1 .5 .3 .4 .7 .5 .7 .5 .4 .4 0 .5 .3 .5 .6 .4 .6 .5 .3 .5 .1 .4-.1 .5 0 .5 .5 .4 1 .5 1 .5 .3 .4-.3 .5 .5 .5 1.5 .4 .8 .5 .9 .5 1.1 .4 .4 .5 .1 .4 .3 .5 .4 .5 .2 .4 .4 .5-.3 .5-.7 .4 .1 .5 0 .5-1.3 .4-1.3 .5-1.3 .5-2.1 .4-1.8 .5-1.3 .5-1.1 .4-.9 .5-.9 .5-.8 .4-1.2 .5-1.6 .5-.7 .4 .4 .5 0 .5-.2 .4 .4 .5 1 .5 1.3 .4 1.3 .5 1.4 .5 1.8 .4 2 .5 1.8 .5 1.4 .4 1.2 .5 1.1 .5 1 .4 1 .5 1 .5-.2 .4-1.5 .5-1.5 .5-.9 .4-.7 .5-1.5 .5-1.9 .4-1.3 .5-.3 .4 .1 .5-.1 .5 .4 .4 1 .5 1.3 .5 1.3 .4 1 .5 .8 .5 .4 .4 0 .5 .3 .5 .4 .4 .3 .5 .2 .5-.2 .4-.5 .5-.6 .5-.5 .4-.2 .5-.5 .5-.5 .4-.3 .5-.4 .5-.9 .4-1.3 .5-1.3 .5-1.4 .4-1.5 .5-2.2 .5-1.9 .4-1.7 .5-1.3 .5-1.3 .4-1.9 .5-1.3 .5-.3 .4-.1 .5 .2 .5 .9 .4 1 .5 .6 .5 .4 .4 .7 .5 .6 .5 .1 .4-.4 .5-.6 .5-.7 .4-.9 .5-.8 .4-.7 .5-.1 .5 .6 .4 .6 .5 .6 .5 .9 .4 1.5 .5 2 .5 2.1 .4 2 .5 2.3 .5 2.5 .4 2.1 .5 1.4 .5 1.3 .4 2.1 .5 2 .5 1.4 .4 .9 .5 .4 .5 .6 .4 0 .5-.6 .5 .1 .4 .3 .5-.6 .5-1.2 .4-1.2 .5-.7 .5-.7 .4-.7 .5-.7 .5-.6 .4-.6 .5-.3 .5-.1 .4-.2 .5-.7 .5-.9 .4-.4 .5-.2 .5-.5 .4-.4 .5-.2 .5-.3 .4 .1 .5 0 .4-.4 .5-.9 .5-.5 .4-.1 .5 .4 .5 .3 .4-.3 .5-.2 .5 .2 .4-.4 .5-.5 .5 .5 .4 1.1 .5 .7 .5 .6 .4 .6 .5 .2 .5-.1 .4-.4 .5-.5 .5-.7 .4-.7 .5-.6 .5-.4 .4-.3 .5-.8 .5-1.2 .4-1.1 .5-.3 .5-.1 .4-.3 .5 0 .5 .5 .4 .2 .5-.1 .5-.1 .4 .5 .5 .6 .5-.3 .4-.8 .5-.2 .5 .5 .4 .8 .5 .6 .5 .4 .4 .1 .5-.2 .5 .1 .4 .5 .5 .6 .4 .5 .5 .4 .5 .1 .4-.3 .5-.6 .5-.5 .4-.1 .5 .3 .5 .4 .4 .4 .5-.3 .5-.7 .4-.2 .5 .1 .5 .2 .4 .1 .5 .3 .5 .6 .4 .1 .5-.2 .5 0 .4 .2 .5 .3 .5 .3 .4 0 .5-.1 .5 .2 .4 .7 .5 .4 .5-.2 .4-.4 .5 0 .5 .3 .4-.2 .5-.4 .5-.1 .4-.2 .5-.4 .5 .4 .4 .7 .5 .2 .5 .1 .4 .4 .5 .1 .5-.2 .4-.3 .5-.2 .5-.3" stroke="#00ffff"/>
<path d="M45.2 670.1l.5-.6 .4-.3 .5 .4 .5 .6 .4 .2 .5-.4 .5 .1 .4 .3 .5 .4 .5 .2 .4 .1 .5 .1 .5-.1 .4 .5 .5 .7 .5 .3 .4 .2 .5 .3 .5 .4 .4 .3 .5 .1 .5-.4 .4-.6 .5-.3 .4-.3 .5-.8 .5-1.2 .4-1.1 .5-.9 .5-.4 .4 0 .5 .3 .5 .6 .4-.1 .5-1 .5-2.2 .4-4.4 .5-6.2 .5-7.6 .4-7.2 .5-5.3 .5-3 .4 1.6 .5 7.8 .5 12.8 .4 17 .5 19.7 .5 19.4 .4 13.7 .5 4.7 .5-5.4 .4-15.1 .5-22 .5-25.4 .4-23.1 .5-19.7 .5-14.4 .4-9 .5-6.2 .5-3.4 .4 1.1 .5 3.9 .5 4.2 .4 7.5 .5 14 .5 16.9 .4 18.2 .5 20.4 .5 20.6 .4 20.7 .5 20.7 .5 18.1 .4 13.7 .5 8.9 .4 6.3 .5 3.8 .5 1.2 .4-4.8 .5-12.2 .5-14.8 .4-15 .5-15.5 .5-15.7 .4-14.4 .5-11.6 .5-8.1 .4-3.6 .5 2.1 .5 8 .4 11.1 .5 12 .5 11.8 .4 10.5 .5 7.6 .5 2.1 .4-3 .5-6.4 .5-9.1 .4-12.8 .5-16.2 .5-18.1 .4-18.8 .5-19.9 .5-20 .4-19.9 .5-19.1 .5-17.7 .4-18 .5-16.7 .5-12.2 .4-5 .5 3.4 .5 9.7 .4 18 .5 24.1 .5 23.1 .4 18.7 .5 13.2 .5 6.4 .4-.7 .5-4.7 .5-6.9 .4-7.2 .5-4.6 .4 1.1 .5 7.7 .5 13.8 .4 19.2 .5 22.9 .5 24.3 .4 25.4 .5 26.8 .5 26.7 .4 24.2 .5 17.6 .5 9.7 .4 4.3 .5-3.6 .5-11.9 .4-12.8 .5-15.9 .5-22.3 .4-23 .5-21.5 .5-17.5 .4-12.3 .5-8.4 .5-5.7 .4-3.8 .5-3.1 .5-2.8 .4-1.9 .5-1.1 .5 .3 .4 .9 .5 .3 .5-.8 .4-.1 .5 0 .5-.3 .4-.2 .5 1.3 .5 2.9 .4 3.6 .5 3.3 .5 3.8 .4 4.2 .5 3.6 .5 2.2 .4 .4 .5-1.1 .4-2.5 .5-3.4 .5-3.5 .4-3 .5-1.9 .5 .1 .4 1.5 .5 1.9 .5 2 .4 2.3 .5 2.2 .5 1.8 .4 1.1 .5-.3 .5-1.7 .4-3.2 .5-4 .5-4.5 .4-5.4 .5-5.8 .5-5.7 .4-5.9 .5-6.2 .5-5.8 .4-4.1 .5-2.4 .5-1 .4 2.2 .5 4.6 .5 5.7 .4 8.3 .5 10 .5 10.5 .4 9.9 .5 8.1 .5 5 .4 1.5 .5-1 .5-3.5 .4-4.7 .5-4.3 .5-2.2 .4 1.2 .5 5.3 .5 9.5 .4 13 .5 15.1 .5 14.1 .4 9.9 .5 5.9 .4 5.1 .5 3.6 .5 .1 .4-3.2 .5-6.4 .5-6.9 .4-5.3 .5-5.8 .5-7 .4-7.5 .5-6.9 .5-6.2 .4-4.8 .5-1.9 .5 1 .4 2.3 .5 1.6 .5-.1 .4-2.4 .5-4.2 .5-4.7 .4-4.7 .5-4.9 .5-5.2 .4-5.3 .5-5.2 .5-5.8 .4-5.8 .5-4.7 .5-5.5 .4-4.6 .5-1.5 .5-.2 .4 .3 .5 .4 .5 .4 .4-.6 .5-.6 .5-.7 .4-.1 .5-.1 .5-.5 .4 1.5 .5 4.9 .5 6.3 .4 7.1 .5 7.3 .5 5.9 .4 5.6 .5 5.4 .4 4.6 .5 3.5 .5 2 .4 1 .5-.5 .5-2.3 .4-3 .5-2.3 .5-.3 .4 2 .5 3.8 .5 5.7 .4 8.1 .5 10.4 .5 11.9 .4 12.4 .5 10.3 .5 8.2 .4 6 .5 2.6 .5-.8 .4-6.6 .5-15.8 .5-24.2 .4-28.7 .5-27.8 .5-22.2 .4-14.4 .5-5.8 .5 1.9 .4 8.4 .5 11.5 .5 13.6 .4 15.3 .5 16.7 .5 16.7 .4 14.6 .5 11.3 .5 9.1 .4 5.5 .5 1.3 .5-1.1 .4-2.8 .5-4.9 .5-5.9 .4-5.8 .5-4.8 .4-4.5 .5-5.5 .5-6.6 .4-6.4 .5-6.1 .5-6.6 .4-8.1 .5-9.7 .5-9.9 .4-8.1 .5-7.5 .5-6.8 .4-4.8 .5-3.1 .5-1 .4 .8 .5 1.1 .5 2.7 .4 5.5 .5 5.4 .5 5.1 .4 6.4 .5 7.3 .5 7 .4 5.8 .5 5 .5 4.8 .4 4.1 .5 4.3 .5 4.7 .4 4.5 .5 4.3 .5 3.7 .4 2.7 .5 3.2 .5 4.4 .4 1.9 .5-1.4 .5-2.8 .4-5.2 .5-7.9 .5-9.1 .4-9.4 .5-8.7 .5-6.6 .4-3.7 .5-.5 .5 1.6 .4 2.7 .5 4.3 .4 4.9 .5 4.4 .5 4.8 .4 4.8 .5 4 .5 2.9 .4 1.7 .5-.1 .5-2.4 .4-3.9 .5-4.3 .5-3.7 .4-2.5 .5-1 .5 .7 .4 1.9 .5 1.8 .5 .4 .4-1.7 .5-3.6 .5-4.2 .4-4.6 .5-4.5 .5-3.8 .4-2.3 .5-.1 .5 1.5 .4 2.2 .5 3.5 .5 4.7 .4 4.7 .5 4 .5 3.2 .4 3.1 .5 1.9 .5-.3 .4-1 .5-.7 .5-1.2 .4-2.3 .5-2.8 .5-2.4 .4-2.5 .5-1.7 .5-.3 .4 .5 .5 1.8 .4 2.5 .5 2.5 .5 2.7 .4 2.8 .5 2.4 .5 1.5 .4-.4 .5-2.2 .5-3.6 .4-5.3 .5-6.9 .5-7 .4-5.7 .5-3.5 .5-1.2 .4 1.6 .5 4.3 .5 5.8 .4 7.4 .5 8.7 .5 8.8 .4 8.5 .5 7.9 .5 7.8 .4 6.6 .5 4.1 .5 .1 .4-2.1 .5-2.3 .5-2.1 .4-3.5 .5-7.5 .5-8.8 .4-6.9 .5-6.5 .5-6.4 .4-5.2 .5-3.9 .5-2.3 .4-.5 .5 1.6 .5 2.8 .4 2.9 .5 2.1 .5 .3 .4-2 .5-4.1 .5-5.5 .4-5.8 .5-5.2 .4-4.5 .5-2.9 .5 .3 .4 2.9 .5 3.6 .5 4 .4 4.4 .5 4 .5 4.3 .4 4.1 .5 3 .5 2.1 .4 1.7 .5 1.7 .5 1.2 .4 .8 .5 .6 .5 .3 .4 0 .5-.7 .5-1.2 .4-1.6 .5-1.9 .5-1.8 .4-1.5 .5-.8 .5 .1 .4 1.8 .5 3.8 .5 5.3 .4 5.9 .5 6.1 .5 5.1 .4 3.5 .5 .9 .5-1 .4-2.5 .5-3.8 .5-4.4 .4-4.7 .5-5.1 .5-5.2 .4-4.5 .5-3.9 .5-3.4 .4-3.1 .5-3.4 .5-3.2 .4-2.4 .5-1.4 .4-.5 .5-.7 .5 .1 .4 1.9 .5 3.1 .5 4.3 .4 4.1 .5 3.1 .5 .8 .4-1.7 .5-2.9 .5-3.7 .4-4.2 .5-4.5 .5-4.4 .4-2.9 .5-.4 .5 1.1 .4 1.7 .5 2.8 .5 4.3 .4 5.5 .5 6.4 .5 6.8 .4 7.3 .5 8.1 .5 8.7 .4 7.1 .5 4.4 .5 4.1 .4 4.6 .5 2.5 .5-.9 .4-1.6 .5-.9 .5-1.3 .4-3.8 .5-7 .5-7.2 .4-5.7 .5-5.4 .5-5.4 .4-5.8 .5-5.7 .5-4.4 .4-2.7 .5-1.3 .4-.5 .5 .7 .5 2.6 .4 3.2 .5 2.4 .5 .4 .4-2.1 .5-3.5 .5-3.5 .4-2.5 .5-.4 .5 1.6 .4 2 .5 2 .5 2.4 .4 2.9 .5 3.2 .5 3.3 .4 3.1 .5 2.4 .5 2.1 .4 1.7 .5 .9 .5 .9 .4 1.4 .5 1.3 .5 .9 .4 .1 .5-.7 .5-.5 .4-.6 .5-1.9 .5-3.1 .4-2.5 .5-1.7 .5-1.6 .4-1.3 .5 .1 .5 1.2 .4 2.2 .5 2.9 .5 3.1 .4 2.7 .5 2.7 .5 2.8 .4 1.6 .5-.5 .5-1.9 .4-3 .5-4 .4-4.6 .5-5.1 .5-5.7 .4-5.9 .5-6 .5-5.1 .4-3.6 .5-2 .5 1.4 .4 6.8 .5 11.1 .5 12.5 .4 9.7 .5 5.1 .5 .3 .4-3.5 .5-5.1 .5-5 .4-3.5 .5-1.1 .5 2.5 .4 5.4 .5 6.7 .5 5.6 .4 3.2 .5-.8 .5-6 .4-8.9 .5-10.6 .5-11.6 .4-10.2 .5-7.1 .5-4.9 .4-2.3 .5-.6 .5 .3 .4 .9 .5-.3 .5-3.4 .4-5.6 .5-4.7 .5-3.5 .4-2.9 .5-1.6 .5-.9 .4 .9 .5 5.1 .5 9.4 .4 10.4 .5 11.3 .4 14.6 .5 16.5 .5 13.5 .4 7.2 .5 3.8 .5 2.4 .4-.4 .5-2.2 .5-2.4 .4-3.3 .5-5.9 .5-6.6 .4-5.7 .5-4.4 .5-3.7 .4-3.3 .5-2.8 .5-2.2 .4-1.7 .5-.7 .5 1.4 .4 3.4 .5 4.2 .5 4.6 .4 4.4 .5 3.5 .5 5 .4 5.8 .5 4.1 .5 3.8 .4 5.3 .5 4.5 .5 1.9 .4 1.1 .5 2 .5 0 .4-2.3 .5-1.5 .5-.6 .4-3.6 .5-5.5 .5-4.4 .4-3.8 .5-3 .5-3 .4-4.1 .5-4.2 .4-3.7 .5-3.5 .5-3.1 .4-2.6 .5-1.3 .5-.9 .4 0 .5 1.9 .5 2.9 .4 3 .5 2 .5 0 .4-1.2 .5-2 .5-3.1 .4-4.1 .5-4.1 .5-2.8 .4-1.2 .5 1.1 .5 2.8 .4 3.9 .5 3.8 .5 2.4 .4 .9 .5-1.3 .5-3.2 .4-3.3 .5-3.8 .5-3.4 .4-1.4 .5-.1 .5 .9 .4 3.9 .5 5.5 .5 5 .4 3.8 .5 1.7 .5-.9 .4-2.8 .5-3.6 .5-3.7 .4-4.1 .5-3.4 .5-1.5 .4 1.1 .5 2.4 .5 2.6 .4 2.9 .5 3.2 .4 3 .5 2.3 .5 1.4 .4 1 .5 .9 .5 .9 .4 1 .5 1.4 .5 2.3 .4 2.4 .5 1.7 .5 .4 .4-.6 .5-1 .5-1.9 .4-3.3 .5-3.6 .5-2.9 .4-2.3 .5-1 .5 .6 .4 1.8 .5 2.4 .5 2.2 .4 2.4 .5 1.9 .5 .5 .4-.2 .5-.4 .5-.8 .4-.7 .5-.6 .5-.8 .4-.3 .5 .5 .5 .8 .4 .3 .5-.8 .5-1.6 .4-2.6 .5-3 .5-2.4 .4-1.7 .5-1.1 .5-.2 .4 .5 .5 .7 .5 .4 .4-.1 .5-.8 .4-1 .5-.8 .5-.6 .4-.7 .5-.8 .5-.1 .4 .6 .5 .5 .5 .9 .4 1 .5 .7 .5 .7 .4 .4 .5-.2 .5-.7 .4-.9 .5-.7 .5-.5 .4-.3 .5 .5 .5 1.1 .4 1.1 .5 1.4 .5 1.6 .4 1 .5 .7 .5 .7 .4 0 .5-.1 .5 .7 .4 .9 .5 .9 .5 1.1 .4 1.7 .5 2 .5 1.3 .4 .4 .5-.4 .5-1.3 .4-1.4 .5-1 .5-.2 .4 1.1 .5 2.6 .5 2.8 .4 1.6 .5 1.6 .4 1.6 .5-.2 .5-1.6 .4-1.7 .5-1.9 .5-2 .4-1.5 .5-1 .5-.4 .4 .6 .5 1.6 .5 1.9 .4 .9 .5-.4 .5-.9 .4-1.1 .5-1.7 .5-3 .4-3.4 .5-3.1 .5-2 .4-.9 .5-.4 .5 .2 .4 .7 .5 .6 .5 .5 .4 .4 .5-.5 .5-1.1 .4-.7 .5 .2 .5 .1 .4 .2 .5 .4 .5 .9 .4 1.3 .5 1.3 .5 1.1 .4 .9 .5 .5 .5 .4 .4 .4 .5 0 .5 .1 .4-.1 .5 .2 .5 .1 .4-1.1 .5-2.1 .4-2.5 .5-2.5 .5-2.2 .4-2 .5-2.1 .5-2.1 .4-2.1 .5-1.9 .5-1.4 .4-1.7 .5-1.8 .5-.5 .4 .8 .5 2.1 .5 2.7 .4 2.9 .5 4.4 .5 5.6 .4 5.2 .5 4.7 .5 4.8 .4 5 .5 3.8 .5 1.9 .4 1.8 .5 1.1 .5-1.1 .4-1.9 .5-1.5 .5-1.7 .4-2.3 .5-1.7 .5-2 .4-2.6 .5-2.8 .5-2.5 .4-2.8 .5-3.3 .5-3.6 .4-3 .5-2.1 .5-1.7 .4-1.9 .5-1.7 .5-.9 .4-.4 .5-.6 .5-.5 .4-.2 .5 .4 .4 1.4 .5 1.6 .5 1.5 .4 1.3 .5 .6 .5-.5 .4-1.5 .5-1.6 .5-.9 .4-.8 .5-1.5 .5-1.3 .4-.2 .5 .2 .5 .2 .4 .8 .5 1.6 .5 2 .4 2.1 .5 2.2 .5 1.8 .4 2 .5 2.2 .5 2.2 .4 1.6 .5 .9 .5 1 .4 1.1 .5 .9 .5-.1 .4-.9 .5-.8 .5-.8 .4-.9 .5-.5 .5-.3 .4-.4 .5-1.2 .5-1.3 .4-.6 .5-.3 .5 0 .4 .3 .5-.1 .5-.2 .4 .2 .5 .2 .4 .3 .5 .4 .5 .5 .4 .6 .5-.1 .5-.4 .4 .6 .5 1.2 .5 1 .4 .7 .5 .2 .5 .3 .4 1.4 .5 2.3 .5 1.5 .4 1.3 .5 1.4 .5 1.8 .4 2.4 .5 2.3 .5 1.3 .4 1 .5 1.3 .5 1.2 .4 .5 .5 .1 .5 .3 .4 .9 .5 1.1 .5 .4 .4-.5 .5-1.1 .5-1.4 .4-1.6 .5-1.8 .5-1.7 .4-1.7 .5-1.8 .5-2.2 .4-2.4 .5-2.4 .5-2.1 .4-1.4 .5-1.6 .5-2.2 .4-3 .5-2.2 .5-1.3 .4-1.2 .5-1.3 .4-1.3 .5-1.4 .5-2 .4-1.6 .5-1.4 .5-.1 .4 1 .5 .5 .5 .3 .4 .1 .5 .1 .5 1.1 .4 1.7 .5 2 .5 1.8 .4 1.4 .5 1.4 .5 1.6 .4 1.4 .5 1.1 .5 .9 .4 .1 .5-.2 .5 .3 .4 .5 .5 .1 .5 0 .4-.2 .5-.4 .5 .2 .4 .6 .5 .2 .5-.1 .4 0 .5 .4 .5 .1 .4-.2 .5 .1 .5 .4 .4 .5 .5 .5 .5 .7 .4 .7 .5 .6 .5 .7 .4 .8 .5 .9 .5 1.2 .4 1.2 .5 .7 .4 .1 .5-.2 .5 .4 .4 .4 .5 0 .5-.5 .4-.5 .5-.4 .5-1.1 .4-2 .5-2.2 .5-1.8 .4-1.5 .5-1.7 .5-1.8 .4-1.7 .5-1.2 .5-1.1 .4-1.5 .5-1.7 .5-1 .4-.1 .5 .7 .5 .6 .4 .8 .5 1.3 .5 2.3 .4 2.5 .5 2 .5 1.3 .4 1.4 .5 2.4 .5 2.5 .4 1.4 .5 .5 .5 .7 .4 .7 .5 .3 .5-.4 .4-1.6 .5-1.9 .5-1.6 .4-1.6 .5-1.6 .5-.9 .4-.6 .5-.8 .4-.5 .5 .3 .5 .7 .4 .8 .5 .4 .5 .4 .4 1 .5 1.1 .5 1.2 .4 1.8 .5 1.4 .5-.4 .4-1.3 .5-.5 .5 0 .4 0 .5-.4 .5-.8 .4-.8 .5-.4 .5-.6 .4-.8 .5-1 .5-1.3 .4-1.6 .5-1.8 .5-1.6 .4-2.2 .5-2.7 .5-2.1 .4-1.5 .5-1.5 .5-1.3 .4-.8 .5-.7 .5-.3 .4 .6 .5 1.1 .5 1 .4 1.4 .5 2.4 .5 1.9 .4 .7 .5 .1 .5-.1 .4-.5 .5 0 .5 .2 .4-.7 .5-1.1 .4-.6 .5 .2 .5 .4 .4 .4 .5 .3 .5 1.3 .4 2.1 .5 2.1 .5 1.8 .4 1.9 .5 2.2 .5 2.5 .4 2.6 .5 2.4 .5 1.6 .4 1.3 .5 .8 .5 .6 .4 .1 .5-.1 .5-.3 .4-.9 .5-1 .5-.3 .4-.3 .5-.3 .5-.6 .4-1 .5-1.2 .5-1.1 .4-.8 .5-.8 .5-.6 .4 .1 .5 .4 .5-.6 .4-.9 .5-.8 .5-.6 .4-.5 .5-.6 .5-.4 .4 0 .5-.4 .5-.7 .4-.7 .5-.5 .4-.4 .5-.4 .5-.4 .4-.1 .5 .2 .5-.1 .4-.2 .5 .1 .5 .5 .4 1 .5 .9 .5 .7 .4 .7 .5 .7 .5 .7 .4 .7 .5 .3 .5 .2 .4 .3 .5-.2 .5-1 .4-.6 .5-.1 .5-.1 .4-.3 .5-.9 .5-1 .4-.6 .5-.6 .5-.7 .4-.3 .5 .1 .5 0 .4-.1 .5 .1 .5 .5 .4 .8 .5 .6 .5 .2 .4 .2 .5-.1 .5 .1 .4 .6 .5 1.1 .5 .8 .4 0 .5-.2 .5 .1 .4 .1 .5-.2 .4-.1 .5 .3 .5 .5 .4 .3 .5 0 .5 .1 .4 .3 .5 .4 .5 .1 .4 0 .5 0 .5-.1 .4-.1 .5-.1 .5 0 .4 .1 .5 .2 .5 .1 .4 .1 .5 .1 .5 .4 .4 .3 .5 0 .5 .1 .4 .1 .5 0 .5 0 .4 0 .5-.2 .5-.4 .4-.4 .5 0 .5 .1 .4 .2 .5 .4 .5 .5 .4-.3 .5-.4 .5-.1 .4 .1 .5 .1 .5 .2 .4 0 .5-.4 .5-.4 .4-.4 .5 .1 .5 .4" stroke="#ff00ff"/>
<path d="M45.2 672l.5-.1 .4 0 .5 .1 .5-.1 .4-.6 .5-.1 .5 .4 .4 .4 .5 .1 .5 0 .4-.1 .5 .3 .5 .6 .4 .7 .5 0 .5-.1 .4 .1 .5-.2 .5-.5 .4-.2 .5 .7 .5 .4 .4-.8 .5-.9 .4-.5 .5-1 .5-.9 .4-.9 .5-.6 .5-.5 .4-.3 .5-.3 .5 .3 .4 .4 .5-.2 .5-1.6 .4-3.6 .5-5.1 .5-6.2 .4-6.9 .5-6.6 .5-3.7 .4 .3 .5 4.6 .5 8.9 .4 13.4 .5 16.7 .5 15.9 .4 11.9 .5 6.9 .5-.4 .4-8.8 .5-15.6 .5-19.3 .4-18.8 .5-16 .5-12.6 .4-10 .5-5.8 .5-1.8 .4-1.8 .5-.4 .5 2.7 .4 6.1 .5 8.9 .5 10.3 .4 12.9 .5 16.3 .5 17.9 .4 16.5 .5 15.2 .5 15.2 .4 11.7 .5 10.8 .4 7.3 .5 4.1 .5 2.5 .4-3.7 .5-8.2 .5-7.5 .4-9.1 .5-12.3 .5-12 .4-11.3 .5-8.7 .5-5.7 .4-4 .5-.5 .5 3.9 .4 8.1 .5 10.2 .5 11.1 .4 9.4 .5 7 .5 3.8 .4 .3 .5-4.6 .5-8.9 .4-10.6 .5-11.8 .5-13.5 .4-13.6 .5-15.1 .5-14.3 .4-13.6 .5-15.5 .5-13 .4-10.4 .5-11 .5-10.7 .4-6.9 .5-3.4 .5-.3 .4 5.6 .5 12 .5 13.1 .4 12.2 .5 10.4 .5 5.5 .4 2 .5-.5 .5-3.7 .4-5.3 .5-3.6 .4 0 .5 2.9 .5 7.4 .4 13.9 .5 16 .5 17.5 .4 19.9 .5 20.5 .5 20.7 .4 17.2 .5 14 .5 9.2 .4 3.7 .5-1.7 .5-5 .4-7.4 .5-10.5 .5-13.5 .4-13.7 .5-11.3 .5-10.1 .4-8.6 .5-6.8 .5-5.7 .4-4 .5-1.8 .5-1.4 .4-1.1 .5-.5 .5 .1 .4-1.1 .5-.2 .5 1.5 .4 .3 .5-.3 .5-.6 .4-.2 .5 .6 .5 .7 .4 1.2 .5 1.8 .5 2.7 .4 3.4 .5 3.8 .5 2.9 .4 1.4 .5-.4 .4-2.3 .5-3.4 .5-3.4 .4-2.5 .5-1.4 .5 0 .4 .4 .5 .6 .5 1.5 .4 2 .5 2.1 .5 1.7 .4 .6 .5-.2 .5-1 .4-1.8 .5-2.5 .5-3.3 .4-4 .5-4.6 .5-4.7 .4-4.9 .5-4.9 .5-4.4 .4-3.1 .5-2 .5-.7 .4 .7 .5 1.5 .5 2.6 .4 4.2 .5 5.6 .5 7.5 .4 8.9 .5 8.5 .5 6.6 .4 4.3 .5 1.2 .5-2.7 .4-4.5 .5-4.4 .5-3.9 .4-1.9 .5 2.7 .5 7.6 .4 9.5 .5 11.7 .5 12.9 .4 12.2 .5 7.2 .4 3 .5 1.4 .5-1.3 .4-3 .5-4.8 .5-4.4 .4-2.6 .5-3.8 .5-4.1 .4-4.6 .5-6.2 .5-6.4 .4-4.6 .5-2 .5 .5 .4 2.2 .5 2.2 .5 .8 .4-.8 .5-2.9 .5-3.6 .4-3.4 .5-3.3 .5-4 .4-4.2 .5-3.5 .5-1.8 .4-2.3 .5-3.7 .5-3.2 .4-3 .5-.7 .5 1.3 .4-.3 .5-2.5 .5-3.4 .4-1.3 .5 .7 .5 1.5 .4 1.7 .5 2.2 .5-.6 .4-.8 .5 1.3 .5 3.9 .4 4.7 .5 3.6 .5 2.5 .4 1.4 .5 1.8 .4 1.8 .5 3.5 .5 2.9 .4-.7 .5-2.1 .5-1.8 .4-3.2 .5-2.3 .5-.2 .4 .8 .5 2.9 .5 6.8 .4 8.4 .5 8.3 .5 7.4 .4 7.3 .5 7.7 .5 6.2 .4 4.8 .5 3.9 .5 2.1 .4-2.9 .5-10.6 .5-17.7 .4-20.9 .5-21.7 .5-20 .4-14.9 .5-7.5 .5 .2 .4 5.4 .5 8.9 .5 10 .4 11.7 .5 14.1 .5 14.2 .4 11.8 .5 8.9 .5 6.8 .4 5.1 .5 2.5 .5 1 .4-.5 .5-2.3 .5-2.8 .4-3.6 .5-4.7 .4-3.7 .5-3.7 .5-4.7 .4-4.9 .5-4.4 .5-5.2 .4-6.4 .5-6.4 .5-7.1 .4-6.4 .5-6.1 .5-6.6 .4-4.8 .5-1.8 .5 1.2 .4 4.1 .5 4.6 .5 .8 .4 0 .5 .8 .5 2.8 .4 4.7 .5 4.5 .5 4.8 .4 4 .5 3.9 .5 3.4 .4 3.5 .5 4 .5 4.2 .4 4 .5 3.9 .5 3.2 .4 1.8 .5 1.3 .5 2 .4 .3 .5-.7 .5-1.7 .4-3.6 .5-5.6 .5-6.3 .4-6.9 .5-7.1 .5-7.4 .4-5.8 .5-3 .5 .5 .4 2.6 .5 3.7 .4 3.7 .5 3.1 .5 3.5 .4 3.3 .5 2.7 .5 2.3 .4 1.8 .5-.1 .5-1.4 .4-2.4 .5-2.6 .5-2.2 .4-1.9 .5-1.4 .5 .3 .4 2.1 .5 2.4 .5 1.4 .4-.3 .5-2.3 .5-3.7 .4-4.7 .5-4.4 .5-3.1 .4-2 .5-1.1 .5 .3 .4 1.6 .5 2.4 .5 3.4 .4 3.8 .5 3.4 .5 3.1 .4 1.7 .5 .8 .5 .3 .4 .6 .5 .3 .5-1.5 .4-2.4 .5-1.9 .5-2 .4-1.5 .5-.8 .5-.7 .4-.3 .5 0 .4 1 .5 2.4 .5 3.1 .4 2.6 .5 1.9 .5 1.1 .4 .3 .5-.7 .5-2.1 .4-3.3 .5-4.7 .5-5.8 .4-6.4 .5-4.4 .5-1.8 .4 .4 .5 3 .5 4.8 .4 5.4 .5 5.6 .5 6.2 .4 6.7 .5 7.1 .5 6.5 .4 5.7 .5 5.6 .5 4.3 .4 .4 .5-1.9 .5-2.7 .4-3.1 .5-3.9 .5-4.6 .4-4.9 .5-5.2 .5-5.7 .4-4.7 .5-3.6 .5-2.6 .4-.9 .5 1.1 .5 2.2 .4 2.4 .5 1.9 .5 .8 .4-1.1 .5-3.1 .5-4.3 .4-4.4 .5-4.8 .4-4.6 .5-2.7 .5-1.2 .4 .4 .5 2.4 .5 3 .4 3.4 .5 4 .5 3.8 .4 3.2 .5 2.2 .5 1.8 .4 1.4 .5 1.6 .5 1.6 .4 1.5 .5 .7 .5-.1 .4-.2 .5-.1 .5-.7 .4-1.3 .5-1 .5-1.1 .4-1.3 .5-.8 .5-.3 .4 .9 .5 2.4 .5 3.4 .4 4.8 .5 5.5 .5 4.3 .4 2.8 .5 1.2 .5 0 .4-1 .5-2.8 .5-3.8 .4-3.8 .5-3.4 .5-3.6 .4-3.9 .5-4 .5-3.5 .4-2.3 .5-1.5 .5-2.1 .4-2.4 .5-2.1 .4-1.7 .5-1.2 .5-.8 .4 .4 .5 2.3 .5 3.4 .4 3.5 .5 2.6 .5 1 .4-.7 .5-2.4 .5-3.6 .4-3.8 .5-3.5 .5-3.6 .4-3.3 .5-2.4 .5-.2 .4 1.5 .5 2.6 .5 3.8 .4 4.5 .5 4.7 .5 4.9 .4 5.4 .5 5.8 .5 6.5 .4 6.1 .5 4.9 .5 3.4 .4 3.7 .5 2.5 .5-.5 .4-1 .5-.2 .5-1.4 .4-3.9 .5-3.9 .5-2.2 .4-3.2 .5-4.7 .5-4.5 .4-4.6 .5-4.9 .5-4.1 .4-2.8 .5-1.8 .4-.8 .5 .2 .5 1.7 .4 3 .5 2.7 .5 .8 .4-1.1 .5-2.5 .5-3.1 .4-2.3 .5-.7 .5 .6 .4 1.2 .5 1.3 .5 2.4 .4 2.7 .5 2.5 .5 1.9 .4 1.8 .5 2.3 .5 2.2 .4 1.7 .5 1.1 .5 1 .4 1.1 .5 1.3 .5 1.3 .4 0 .5-.6 .5 .1 .4-.2 .5-1.3 .5-1.7 .4-1.6 .5-1.2 .5-.9 .4-1 .5-.5 .5 .5 .4 1.6 .5 2.2 .5 2.8 .4 3.3 .5 2.7 .5 1.8 .4 1.1 .5 .5 .5-.7 .4-2.2 .5-2.9 .4-3.5 .5-4 .5-4.4 .4-4.3 .5-3.3 .5-2.9 .4-2.9 .5-2 .5 .4 .4 3.6 .5 6.6 .5 8.2 .4 9.4 .5 6.8 .5 2 .4-1.7 .5-4.1 .5-4.6 .4-4.3 .5-1.9 .5 .9 .4 4 .5 5.8 .5 6 .4 4.5 .5 1 .5-3.3 .4-6.2 .5-5.7 .5-7.4 .4-7.2 .5-6.4 .5-5.1 .4-3.3 .5 .1 .5 .7 .4-.7 .5-1.6 .5-1.5 .4-4.3 .5-8 .5-6.4 .4-3.6 .5-2.7 .5-1.1 .4-2.7 .5-1.3 .5 4.3 .4 8.4 .5 9.5 .4 9.8 .5 9.6 .5 10.1 .4 7.8 .5 1.9 .5-.1 .4-.7 .5-2.3 .5-1.7 .4-1.3 .5-2.9 .5-3.5 .4-3.9 .5-3.9 .5-2.3 .4-1.8 .5-2 .5-1.4 .4-.9 .5 .1 .5 1.6 .4 2.8 .5 3.2 .5 3.3 .4 3 .5 4.9 .5 6.3 .4 4.3 .5 4.1 .5 5.6 .4 3.4 .5 1.4 .5 2.7 .4 3.1 .5 1.8 .5-.9 .4-1.2 .5-.3 .5 .4 .4-1.1 .5-2.8 .5-3.3 .4-3 .5-3.5 .5-3.5 .4-2.2 .5-1.9 .4-2.3 .5-2.2 .5-2.3 .4-2 .5-1.9 .5-.9 .4 .8 .5 .8 .5 1.4 .4 2.2 .5 2.6 .5 1.9 .4 .5 .5-1.5 .5-3.7 .4-4 .5-3.9 .5-2.8 .4-.6 .5 .9 .5 1.4 .4 3 .5 3.2 .5 1.9 .4 1.5 .5 .4 .5-1.9 .4-3.6 .5-3.1 .5-2.3 .4-1.9 .5-1.4 .5-.3 .4 1.3 .5 2.9 .5 4.2 .4 3.7 .5 1.6 .5-.4 .4-1.4 .5-2.6 .5-3.2 .4-3 .5-2.8 .5-1.9 .4-.5 .5 1.3 .5 2.4 .4 2.5 .5 2 .4 2.3 .5 2.2 .5 1.2 .4 .7 .5 .6 .5 .6 .4 1 .5 2.1 .5 2.6 .4 1.9 .5 1 .5 1.1 .4 .3 .5-.7 .5-1.8 .4-3.2 .5-3.7 .5-3.3 .4-2.2 .5-.9 .5 0 .4 .7 .5 2 .5 2.6 .4 2.4 .5 1.4 .5 .4 .4-.4 .5-.5 .5-.3 .4-1 .5-1.2 .5 0 .4 .6 .5 .3 .5-.1 .4-.3 .5-.5 .5-.8 .4-1.5 .5-1.9 .5-2.1 .4-1.8 .5-1.2 .5-.6 .4-.1 .5 .3 .5 .7 .4 .5 .5 .1 .4-.1 .5-.3 .5-.9 .4-.7 .5-.5 .5-1 .4-.6 .5 .2 .5 1.3 .4 1 .5 1.2 .5 1 .4 .3 .5 0 .5-.6 .4-1.3 .5-1.1 .5-.6 .4-.5 .5 .1 .5 .6 .4 1.1 .5 1.1 .5 1 .4 1.3 .5 1 .5 0 .4-.1 .5-.5 .5 .1 .4 .8 .5 .1 .5-.1 .4 2.2 .5 2.9 .5 1.3 .4 .1 .5 .2 .5 .2 .4-.7 .5-1 .5-.9 .4-.5 .5 1 .5 1.9 .4 1.4 .5 1.3 .4 1.3 .5 1.2 .5 1 .4-1.1 .5-1.6 .5-1.1 .4-1.7 .5-2.2 .5-.6 .4 1.2 .5 1.5 .5 1.3 .4 1.3 .5 1 .5-.4 .4-1.2 .5-1.7 .5-2.4 .4-2.5 .5-2.1 .5-2 .4-1.2 .5-.3 .5 .2 .4 .6 .5 .7 .5-.1 .4-.2 .5-.2 .5-.8 .4-.7 .5-.5 .5-.3 .4-.2 .5 .4 .5 .5 .4 .6 .5 .7 .5 .8 .4 .5 .5 .3 .5 .1 .4 .4 .5 .3 .5 .2 .4 .3 .5-.1 .5-.5 .4-.8 .5-.8 .4-1.2 .5-1.7 .5-1.6 .4-1.2 .5-1.7 .5-2 .4-2.1 .5-1.7 .5-1 .4-.2 .5-.2 .5-.3 .4 .6 .5 1.2 .5 1.7 .4 3 .5 3.6 .5 4 .4 4.4 .5 3.7 .5 3.8 .4 4.4 .5 4.4 .5 3.2 .4 1.5 .5 1 .5 .3 .4-.2 .5-1.3 .5-2.4 .4-2.1 .5-1.7 .5-2.4 .4-2.9 .5-1.9 .5-2 .4-2.8 .5-2.9 .5-3 .4-2.5 .5-2.3 .5-2.1 .4-1.7 .5-1.6 .5-1.9 .4-1.3 .5-.7 .5-.7 .4 .1 .5 1 .4 1.2 .5 1.5 .5 .9 .4-.4 .5-.4 .5-.4 .4-.4 .5-.8 .5-1.2 .4-1.2 .5-.9 .5-.3 .4-.1 .5 .2 .5-.4 .4-.3 .5 .9 .5 2.2 .4 2.5 .5 2.2 .5 1.8 .4 1.6 .5 1.9 .5 1.8 .4 1.2 .5 1.2 .5 1.7 .4 .8 .5 0 .5 .1 .4 .3 .5-.2 .5-.5 .4-1 .5-.8 .5-.4 .4 0 .5-.4 .5-.8 .4-.9 .5-.1 .5 .3 .4 .2 .5-.5 .5-.6 .4-.3 .5 .1 .4-.4 .5-.7 .5-.7 .4 .3 .5 1 .5 .3 .4-.1 .5 .2 .5 .6 .4 .7 .5 .6 .5 .7 .4 .8 .5 .9 .5 .9 .4 1.2 .5 1.5 .5 1.9 .4 1.8 .5 .8 .5 .5 .4 1.4 .5 1.5 .5 1.1 .4 1.3 .5 1.4 .5 1 .4 .8 .5 .3 .5-.4 .4-.2 .5-.4 .5-1.3 .4-1.2 .5-.9 .5-1.3 .4-2 .5-1.2 .5-1.2 .4-2.1 .5-1.7 .5-1 .4-1.5 .5-2 .5-2.1 .4-1.8 .5-2.2 .5-2.1 .4-1.9 .5-1.4 .4-1.3 .5-1.1 .5-.4 .4-.2 .5-.5 .5-.1 .4-.4 .5-.9 .5-.7 .4 0 .5 1 .5 2.2 .4 1.5 .5 .6 .5 1.2 .4 1.9 .5 1.8 .5 1.1 .4 .6 .5 .7 .5 .6 .4 .7 .5 .4 .5 .9 .4 .7 .5 0 .5 .1 .4 0 .5-.3 .5 .1 .4 .3 .5-.3 .5-.5 .4 .1 .5 .6 .5 .3 .4 0 .5 .1 .5 .5 .4 .3 .5-.3 .5 0 .4 .6 .5 1 .5 .7 .4-.2 .5-.3 .5 .2 .4 1.1 .5 1.2 .4 .3 .5-.2 .5-.1 .4 .6 .5 .1 .5-.6 .4-.7 .5-.7 .5-1 .4-1.7 .5-1.7 .5-1.1 .4-1.1 .5-1.2 .5-1.1 .4-1.1 .5-.9 .5-1.6 .4-1.4 .5-.8 .5-.7 .4-.1 .5 .4 .5 .2 .4 .9 .5 1.2 .5 1.7 .4 1.5 .5 1.4 .5 1.4 .4 1.3 .5 1.1 .5 .6 .4 .5 .5 1.1 .5 .9 .4 0 .5-.4 .5 .1 .4 .1 .5-1.2 .5-1.7 .4-1.4 .5-.9 .5-.5 .4-.9 .5-.6 .4-.1 .5 .2 .5 .6 .4 1 .5 .8 .5 1 .4 .7 .5 .4 .5 .5 .4 .6 .5 .6 .5 1.1 .4 .7 .5-.3 .5 0 .4 .1 .5-.3 .5-.2 .4 0 .5 .6 .5-.1 .4-.9 .5-.9 .5-.7 .4-.5 .5-1 .5-1.5 .4-1.5 .5-1.1 .5-1.1 .4-1.3 .5-1.7 .5-1.3 .4-1.2 .5-.9 .5-.4 .4 0 .5 0 .5 .7 .4 1.1 .5 .7 .5 .6 .4 .7 .5-.1 .5-.5 .4-.1 .5 .4 .5-.1 .4-1.6 .5-1.5 .4-.7 .5-.2 .5 .2 .4 .2 .5 .2 .5 .8 .4 1.8 .5 2.4 .5 1.6 .4 1 .5 .9 .5 1.5 .4 2.2 .5 2.2 .5 1.3 .4 .3 .5 1 .5 2.1 .4 1.5 .5 .3 .5 0 .4 .2 .5-.3 .5-.2 .4-.1 .5 .1 .5 .5 .4-.4 .5-.9 .5-.2 .4 .1 .5-.3 .5-.4 .4-.7 .5-.4 .5-.5 .4-.4 .5-.4 .5-.5 .4-.1 .5-.1 .5-.1 .4 .2 .5 0 .5-.3 .4-.1 .5 0 .4-.5 .5-1 .5-.7 .4 .2 .5 .1 .5-.2 .4-.2 .5 .2 .5 .1 .4 .1 .5 .5 .5 .5 .4 .4 .5 .2 .5 .3 .4 .1 .5 0 .5 .2 .4-.2 .5-.3 .5-.8 .4-.7 .5-.2 .5-.4 .4-1.1 .5-.9 .5-.3 .4 .1 .5-.7 .5-1.1 .4-.7 .5-.5 .5-.4 .4 .2 .5 .1 .5-.2 .4 .2 .5 .2 .5 .1 .4 0 .5 0 .5 .1 .4 .6 .5 .5 .5 .2 .4 0 .5-.3 .5-.3 .4 0 .5 .6 .4 1.2 .5 .3 .5-.4 .4 .4 .5 .7 .5 .5 .4 .3 .5 0 .5 .5 .4 .7 .5 .3 .5 .1 .4 .2 .5 .2 .5 .4 .4 .4 .5 .3 .5 .4 .4 .4 .5 .2 .5 .2 .4 0 .5-.3 .5-.5 .4 0 .5 .3 .5 .1 .4-.2 .5-.2 .5-.5 .4-.3 .5 .1 .5 .3 .4 0 .5 .3 .5 .3 .4-.3 .5-.6 .5-.1 .4 0 .5-.4 .5-.1 .4 .1 .5 .3 .5 .4 .4 .2 .5-.2 .5-.5" stroke="#ffff00"/>
<path d="M45.2 671.1l.5 0 .4 .1 .5 .1 .5 .1 .4 .1 .5 .1 .5 .2 .4 .1 .5 .2 .5 .2 .4 .2 .5 .3 .5 .3 .4 .3 .5 .4 .5 .3 .4 .3 .5 .3 .5 .1 .4 0 .5-.1 .5-.3 .4-.4 .5-.5 .4-.7 .5-.7 .5-.8 .4-.9 .5-1.1 .5-.9 .4-.6 .5-.1 .5 .2 .4 .3 .5-.4 .5-2 .4-4.4 .5-6.8 .5-8.5 .4-8.7 .5-7.6 .5-4.8 .4 .1 .5 6.7 .5 13.7 .4 19 .5 21.6 .5 20.6 .4 16.2 .5 8.5 .5-1.9 .4-12.9 .5-22.2 .5-28.1 .4-29.5 .5-26.6 .5-20.2 .4-12.5 .5-6.3 .5-2.6 .4-.4 .5 2.2 .5 6 .4 10.7 .5 15.4 .5 19.4 .4 22.4 .5 24.4 .5 25.4 .4 25.4 .5 24.4 .5 22.4 .4 19.4 .5 15.3 .4 10.4 .5 4.5 .5-1.6 .4-7.7 .5-12.8 .5-16.8 .4-19.4 .5-20.6 .5-20.4 .4-18.9 .5-15.9 .5-11.6 .4-6 .5 .5 .5 7 .4 12.2 .5 15.3 .5 16 .4 14.1 .5 10 .5 4.4 .4-1.4 .5-6.6 .5-10.9 .4-14.4 .5-17.4 .5-19.6 .4-21.4 .5-22.4 .5-22.9 .4-22.7 .5-21.9 .5-20.6 .4-18.6 .5-16 .5-12.7 .4-8.4 .5-1.4 .5 4.4 .4 15.5 .5 24.3 .5 29 .4 28.3 .5 22.2 .5 12.6 .4 2.3 .5-5.5 .5-9.6 .4-10.2 .5-7.4 .4-2 .5 5.3 .5 13.2 .4 20.2 .5 25.9 .5 29.7 .4 31.9 .5 32.3 .5 31.1 .4 27.9 .5 23.3 .5 16.7 .4 8.5 .5-.7 .5-10.1 .4-18.4 .5-24.3 .5-27.8 .4-28.5 .5-26.6 .5-22.3 .4-17.1 .5-12.4 .5-9.4 .4-7.6 .5-6.1 .5-4.5 .4-2.7 .5-1.2 .5-.2 .4 .3 .5 .4 .5 .7 .4 1 .5 1.4 .5 2 .4 2.5 .5 2.9 .5 3.2 .4 3.5 .5 3.9 .5 4.7 .4 5.2 .5 5 .5 3.8 .4 1.6 .5-.6 .4-2.4 .5-3.6 .5-3.6 .4-2.9 .5-1.7 .5-.3 .4 .9 .5 1.7 .5 2.1 .4 2.3 .5 2.2 .5 1.8 .4 1.2 .5 .1 .5-1.2 .4-2.7 .5-4.1 .5-5.2 .4-6.2 .5-6.8 .5-7 .4-7 .5-6.6 .5-6 .4-5 .5-3.7 .5-1.9 .4 .7 .5 3.8 .5 7.2 .4 9.9 .5 11.8 .5 12.6 .4 12.3 .5 10.9 .5 8.5 .4 5.1 .5 .8 .5-3.3 .4-6.1 .5-6.7 .5-4.7 .4-.6 .5 4.7 .5 9.5 .4 13.1 .5 15.2 .5 15.4 .4 13.8 .5 10.7 .4 6.4 .5 2.1 .5-1.6 .4-4.2 .5-6 .5-7.2 .4-8 .5-8.3 .5-8.2 .4-8.2 .5-8.2 .5-7.8 .4-6.1 .5-3.1 .5 .3 .4 2.2 .5 2.3 .5 .5 .4-2 .5-4.2 .5-5.9 .4-6.7 .5-6.9 .5-6.6 .4-6.6 .5-6.8 .5-7 .4-6.9 .5-6.3 .5-5.5 .4-4.2 .5-2.4 .5-.6 .4 1.3 .5 2.5 .5 2.8 .4 2 .5 .5 .5-1 .4-1.7 .5-1.1 .5 .4 .4 2.7 .5 4.7 .5 6.3 .4 7.4 .5 7.8 .5 7.9 .4 7.9 .5 8 .4 8 .5 7.2 .5 5.2 .4 1.8 .5-1.9 .5-4.7 .4-5.8 .5-4.8 .5-2.1 .4 1.3 .5 4.7 .5 7.4 .4 9.5 .5 10.9 .5 11.7 .4 11.9 .5 11.4 .5 10.3 .4 8.4 .5 5.7 .5 1 .4-6.4 .5-15.9 .5-25.1 .4-31.1 .5-32.4 .5-28.6 .4-20.5 .5-10.2 .5-.3 .4 7.3 .5 12.5 .5 15.9 .4 18 .5 18.8 .5 18.3 .4 16.5 .5 13.7 .5 9.7 .4 5.4 .5 1.6 .5-1 .4-2.7 .5-3.8 .5-4.7 .4-5.4 .5-6 .4-6.3 .5-6.6 .5-6.8 .4-7 .5-7.7 .5-8.8 .4-10.2 .5-11.1 .5-11.5 .4-11.2 .5-10.2 .5-8.6 .4-6.3 .5-3.6 .5-.8 .4 1.6 .5 3.5 .5 5 .4 6.2 .5 7.2 .5 7.7 .4 8 .5 8.1 .5 7.9 .4 7.3 .5 6.6 .5 6 .4 5.5 .5 5.5 .5 5.4 .4 5.4 .5 5.2 .5 4.9 .4 4.4 .5 3.8 .5 3.1 .4 1.9 .5 .4 .5-2.2 .4-5.5 .5-8.9 .5-11.4 .4-12.5 .5-12.1 .5-10.3 .4-7.1 .5-3.3 .5 .3 .4 3.1 .5 5.2 .4 6.4 .5 7.1 .5 7 .4 6.5 .5 5.2 .5 3.5 .4 1.4 .5-.7 .5-2.4 .4-3.6 .5-4.1 .5-3.9 .4-3 .5-1.7 .5 .2 .4 1.8 .5 2.2 .5 1.2 .4-.7 .5-2.8 .5-4.5 .4-5.3 .5-5.4 .5-4.5 .4-2.9 .5-.8 .5 1.4 .4 3.2 .5 4.6 .5 5.5 .4 5.8 .5 5.8 .5 5.1 .4 4 .5 2.5 .5 1 .4-.5 .5-1.5 .5-2.3 .4-2.7 .5-2.8 .5-2.8 .4-2.5 .5-2 .5-1.1 .4-.1 .5 1 .4 2.1 .5 2.8 .5 3.3 .4 3.3 .5 2.9 .5 2.2 .4 .8 .5-1.4 .5-3.9 .4-6.3 .5-7.8 .5-8.2 .4-7.2 .5-5.1 .5-2.1 .4 1 .5 3.7 .5 6 .4 7.6 .5 8.9 .5 9.4 .4 9.6 .5 9.3 .5 8.3 .4 6.9 .5 5 .5 2.7 .4 .2 .5-2 .5-4.1 .4-5.7 .5-6.8 .5-7.6 .4-7.9 .5-7.8 .5-7.3 .4-6.3 .5-4.9 .5-3.1 .4-1 .5 1.3 .5 2.9 .4 3.6 .5 2.9 .5 .9 .4-1.5 .5-3.9 .5-5.7 .4-6.5 .5-6.2 .4-4.9 .5-3 .5-.6 .4 1.5 .5 3.2 .5 4.4 .4 5 .5 5.1 .5 4.9 .4 4.2 .5 3.3 .5 2.5 .4 2 .5 1.8 .5 1.5 .4 1.3 .5 .9 .5 .5 .4 0 .5-.7 .5-1.4 .4-1.8 .5-2.1 .5-2.1 .4-1.8 .5-1.4 .5-.3 .4 1.2 .5 3.3 .5 5.3 .4 6.6 .5 6.8 .5 6 .4 4.2 .5 2.1 .5-.2 .4-2 .5-3.3 .5-4.4 .4-5 .5-5.5 .5-5.7 .4-5.5 .5-5.2 .5-4.6 .4-4 .5-3.5 .5-3.2 .4-3.1 .5-2.8 .4-2.3 .5-1.7 .5-.6 .4 1.4 .5 3.9 .5 6 .4 6.4 .5 4.9 .5 2.1 .4-.8 .5-3.1 .5-4.5 .4-5.2 .5-5.3 .5-4.8 .4-3.6 .5-2 .5 0 .4 2 .5 3.8 .5 5.5 .4 6.7 .5 7.7 .5 8.4 .4 8.6 .5 8.7 .5 8.3 .4 7.7 .5 6.8 .5 5.5 .4 3.9 .5 2.1 .5 .3 .4-1.3 .5-2.8 .5-3.9 .4-4.9 .5-5.7 .5-6.2 .4-6.5 .5-6.6 .5-6.6 .4-6.3 .5-5.8 .5-5.1 .4-4.2 .5-3.1 .4-1.4 .5 .6 .5 2.9 .4 4.2 .5 3.8 .5 1.6 .4-1.5 .5-3.9 .5-4.5 .4-3.3 .5-1.4 .5 .6 .4 1.8 .5 2.8 .5 3.2 .4 3.4 .5 3.4 .5 3.1 .4 2.8 .5 2.5 .5 2.4 .4 2.3 .5 2.3 .5 2.2 .4 1.9 .5 1.7 .5 1.4 .4 .8 .5 .3 .5-.6 .4-1.5 .5-2.3 .5-2.8 .4-3 .5-2.9 .5-2.5 .4-1.5 .5-.5 .5 1 .4 2.2 .5 3.3 .5 4 .4 4.1 .5 3.8 .5 3.1 .4 1.9 .5 .3 .5-1.4 .4-3.1 .5-4.3 .4-5.5 .5-6.1 .5-6.5 .4-6.5 .5-6.1 .5-5.5 .4-4.2 .5-2.5 .5 .7 .4 5.3 .5 10.4 .5 13.1 .4 12.1 .5 7.5 .5 1.8 .4-2.9 .5-5.5 .5-6.1 .4-5.2 .5-2.6 .5 1.2 .4 5.1 .5 7.6 .5 7.6 .4 4.7 .5-.2 .5-5.5 .4-10.2 .5-13.4 .5-14.9 .4-14.7 .5-12.8 .5-9.4 .4-5.5 .5-2 .5 0 .4 .6 .5-.1 .5-1.6 .4-3.3 .5-4.5 .5-5.1 .4-4.8 .5-3.7 .5-1.4 .4 2.2 .5 6.8 .5 11.6 .4 15.3 .5 17.7 .4 18.4 .5 17.7 .5 15.3 .4 11.6 .5 7 .5 2.8 .4-.4 .5-2.4 .5-3.5 .4-4.4 .5-4.9 .5-5.2 .4-5.3 .5-5.2 .5-4.8 .4-4.2 .5-3.4 .5-2.2 .4-1.1 .5 .4 .5 1.6 .4 2.7 .5 3.8 .5 4.6 .4 5.2 .5 5.7 .5 5.9 .4 6 .5 5.9 .5 5.6 .4 5.1 .5 4.4 .5 3.5 .4 2.5 .5 1.4 .5 .1 .4-1.2 .5-2.2 .5-3.2 .4-4.2 .5-4.7 .5-5.2 .4-5.4 .5-5.5 .5-5.4 .4-5.3 .5-5.1 .4-4.9 .5-4.5 .5-4 .4-3.3 .5-2.3 .5-1 .4 .4 .5 1.7 .5 2.6 .4 2.8 .5 2.4 .5 1.2 .4-.6 .5-2.7 .5-4.4 .4-5.2 .5-5.1 .5-3.9 .4-1.8 .5 .6 .5 2.8 .4 4.1 .5 4.2 .5 3.4 .4 1.6 .5-.4 .5-2.2 .4-3.3 .5-3.8 .5-3.5 .4-2.3 .5-.6 .5 1.8 .4 4.1 .5 5.7 .5 6 .4 5 .5 2.9 .5 0 .4-2.5 .5-4.4 .5-5.4 .4-5.2 .5-4.2 .5-2.5 .4-.4 .5 1.6 .5 3.2 .4 4.1 .5 4.2 .4 3.8 .5 3 .5 1.9 .4 1.3 .5 .9 .5 1.1 .4 1.5 .5 1.9 .5 2.2 .4 2.2 .5 1.9 .5 1.3 .4 .3 .5-.9 .5-2.3 .4-3.5 .5-4 .5-3.9 .4-3 .5-1.7 .5-.1 .4 1.4 .5 2.4 .5 2.9 .4 2.7 .5 2.1 .5 1.1 .4 .2 .5-.7 .5-1.1 .4-1.1 .5-.7 .5-.4 .4 .1 .5 .2 .5 .2 .4-.2 .5-.7 .5-1.4 .4-2 .5-2.3 .5-2.2 .4-2 .5-1.5 .5-.9 .4-.3 .5 .2 .5 .4 .4 .3 .5 .2 .4-.3 .5-.7 .5-.9 .4-1.1 .5-.9 .5-.4 .4 .1 .5 .6 .5 1.1 .4 1.3 .5 1.3 .5 1 .4 .5 .5-.1 .5-.4 .4-.8 .5-.7 .5-.5 .4 .1 .5 .6 .5 1.1 .4 1.5 .5 1.6 .5 1.5 .4 1.3 .5 1 .5 .6 .4 .4 .5 .3 .5 .5 .4 .8 .5 1.3 .5 1.6 .4 1.7 .5 1.7 .5 1.1 .4 .4 .5-.5 .5-1.2 .4-1.5 .5-1.2 .5-.6 .4 .5 .5 1.4 .5 2.3 .4 2.7 .5 2.5 .4 2 .5 .8 .5-.5 .4-1.7 .5-2.5 .5-2.7 .4-2.4 .5-1.4 .5-.3 .4 .8 .5 1.7 .5 1.9 .4 1.9 .5 1.2 .5 0 .4-1.4 .5-2.5 .5-3.5 .4-3.6 .5-3.4 .5-2.4 .4-1.4 .5-.5 .5 0 .4 .3 .5 .3 .5 .2 .4-.1 .5-.4 .5-.6 .4-.7 .5-.5 .5-.2 .4 .2 .5 .5 .5 .8 .4 1 .5 1.1 .5 .9 .4 .8 .5 .7 .5 .5 .4 .5 .5 .5 .5 .3 .4 .1 .5-.2 .5-.7 .4-1 .5-1.6 .4-1.8 .5-2.2 .5-2.4 .4-2.5 .5-2.6 .5-2.5 .4-2.4 .5-2.2 .5-2 .4-1.6 .5-1.2 .5-.5 .4 .3 .5 1.6 .5 2.9 .4 4.1 .5 5.1 .5 5.9 .4 6.2 .5 6.3 .5 6 .4 5.5 .5 4.7 .5 3.5 .4 2.2 .5 .9 .5-.1 .4-1 .5-1.5 .5-2.1 .4-2.4 .5-2.8 .5-3.1 .4-3.4 .5-3.4 .5-3.6 .4-3.7 .5-3.6 .5-3.6 .4-3.4 .5-3.2 .5-3 .4-2.6 .5-2.3 .5-1.8 .4-1.3 .5-.7 .5 0 .4 .6 .5 1.2 .4 1.7 .5 1.7 .5 1.7 .4 1.2 .5 .6 .5 0 .4-.7 .5-1.1 .5-1.4 .4-1.4 .5-1.3 .5-.9 .4-.5 .5 .2 .5 .8 .4 1.3 .5 1.8 .5 2.1 .4 2.5 .5 2.7 .5 2.7 .4 2.8 .5 2.7 .5 2.5 .4 2.3 .5 1.9 .5 1.4 .4 1 .5 .3 .5-.1 .4-.6 .5-1 .5-1.2 .4-1.5 .5-1.5 .5-1.6 .4-1.5 .5-1.3 .5-1.2 .4-.8 .5-.5 .5-.2 .4 0 .5 .1 .5 .2 .4 .3 .5 .2 .4 .4 .5 .4 .5 .4 .4 .4 .5 .4 .5 .5 .4 .5 .5 .7 .5 .8 .4 1 .5 1.1 .5 1.4 .4 1.4 .5 1.5 .5 1.6 .4 1.6 .5 1.7 .5 1.7 .4 1.7 .5 1.6 .5 1.5 .4 1.5 .5 1.3 .5 1.2 .4 1 .5 .8 .5 .7 .4 .3 .5 .1 .5-.2 .4-.5 .5-.9 .5-1.2 .4-1.5 .5-1.7 .5-1.9 .4-2.2 .5-2.3 .5-2.4 .4-2.6 .5-2.6 .5-2.7 .4-2.8 .5-2.7 .5-2.7 .4-2.7 .5-2.5 .5-2.5 .4-2.3 .5-2.1 .4-2 .5-1.7 .5-1.4 .4-1.2 .5-.9 .5-.5 .4-.2 .5 .3 .5 .8 .4 1.1 .5 1.6 .5 1.8 .4 2 .5 2.1 .5 2.2 .4 2.1 .5 2.1 .5 1.9 .4 1.6 .5 1.3 .5 1 .4 .6 .5 .3 .5 .2 .4 .2 .5 .1 .5 .1 .4 .1 .5 .1 .5 .1 .4 .1 .5 .1 .5 0 .4 .1 .5 .2 .5 .1 .4 .2 .5 .2 .5 .3 .4 .5 .5 .6 .5 .7 .4 .8 .5 1 .5 .9 .4 1 .5 1 .5 1 .4 .9 .5 .9 .4 .7 .5 .5 .5 .4 .4 .2 .5-.1 .5-.5 .4-.9 .5-1.2 .5-1.5 .4-1.8 .5-2 .5-2.1 .4-2.2 .5-2.2 .5-2.1 .4-2 .5-1.9 .5-1.7 .4-1.4 .5-1 .5-.7 .4-.2 .5 .3 .5 .8 .4 1.2 .5 1.6 .5 1.9 .4 2.2 .5 2.3 .5 2.4 .4 2.4 .5 2.3 .5 2.3 .4 2 .5 1.8 .5 1.4 .4 1 .5 .4 .5-.3 .4-1.1 .5-1.8 .5-2.3 .4-2.5 .5-2.5 .5-2.1 .4-1.4 .5-.7 .4-.1 .5 .4 .5 .8 .4 1 .5 1.1 .5 1.3 .4 1.2 .5 1.2 .5 1.1 .4 .9 .5 .7 .5 .3 .4 .1 .5-.1 .5-.3 .4-.4 .5-.6 .5-.6 .4-.8 .5-.7 .5-.9 .4-.9 .5-1 .5-1.2 .4-1.5 .5-1.8 .5-1.9 .4-2 .5-2 .5-2.1 .4-1.9 .5-1.7 .5-1.5 .4-1.2 .5-.8 .5-.3 .4 .1 .5 .6 .5 1 .4 1.3 .5 1.3 .5 1.3 .4 1.1 .5 .7 .5 .3 .4-.2 .5-.5 .5-.8 .4-.9 .5-.8 .4-.7 .5-.3 .5 .1 .4 .6 .5 1.2 .5 1.6 .4 2 .5 2.4 .5 2.6 .4 2.8 .5 2.9 .5 2.9 .4 2.8 .5 2.7 .5 2.5 .4 2.3 .5 1.8 .5 1.4 .4 .9 .5 .4 .5 0 .4-.4 .5-.7 .5-.8 .4-1.1 .5-1.1 .5-1.3 .4-1.3 .5-1.4 .5-1.3 .4-1.3 .5-1.2 .5-1.1 .4-.9 .5-.9 .5-.7 .4-.7 .5-.6 .5-.7 .4-.6 .5-.7 .5-.6 .4-.6 .5-.6 .5-.5 .4-.6 .5-.4 .4-.5 .5-.4 .5-.3 .4-.3 .5-.2 .5-.2 .4-.1 .5 .1 .5 .2 .4 .5 .5 .7 .5 .8 .4 .9 .5 .9 .5 .9 .4 .6 .5 .5 .5 .2 .4 0 .5-.3 .5-.4 .4-.5 .5-.7 .5-.7 .4-.7 .5-.8 .5-.7 .4-.7 .5-.6 .5-.6 .4-.4 .5-.3 .5-.1 .4 0 .5 .1 .5 .1 .4 .2 .5 .3 .5 .3 .4 .3 .5 .3 .5 .3 .4 .4 .5 .4 .5 .3 .4 .3 .5 .4 .5 .3 .4 .2 .5 .3 .4 .2 .5 .2 .5 .2 .4 .2 .5 .2 .5 .2 .4 .2 .5 .1 .5 .2 .4 .2 .5 .2 .5 .2 .4 .1 .5 .2 .5 .1 .4 .2 .5 .1 .5 .1 .4 .1 .5 .1 .5 .1 .4 .1 .5 0 .5 .1 .4 0 .5 0 .5 0 .4 0 .5 0 .5 0 .4 0 .5 0 .5 0 .4 0 .5 0 .5 0 .4 0 .5 0 .5 0 .4 0 .5 0 .5 0 .4 0 .5 0 .5 0 .4 0 .5 0 .5 0" stroke="#0000ff"/>
<path d="M45.2 670.3l.5-.2 .4-.2 .5 .1 .5 .5 .4 .4 .5 .2 .5-.1 .4 .2 .5 .8 .5 .5 .4-.1 .5-.1 .5-.3 .4 .1 .5 .6 .5 .8 .4 .7 .5 .2 .5 0 .4 0 .5-.2 .5-.2 .4-.5 .5-.5 .4-.4 .5-.4 .5-.9 .4-.8 .5-.8 .5-.9 .4-.6 .5 .1 .5 .3 .4-.4 .5-.9 .5-1.8 .4-4.3 .5-6.6 .5-7.9 .4-7.6 .5-6.3 .5-3.7 .4 1.4 .5 7.4 .5 12.9 .4 18 .5 20.3 .5 18.9 .4 14.9 .5 5.7 .5-4.4 .4-12.3 .5-22.6 .5-27.9 .4-26.5 .5-22.3 .5-15.7 .4-10.1 .5-6.1 .5-3.9 .4-2 .5 .9 .5 5.8 .4 11 .5 16 .5 19 .4 20.6 .5 21.2 .5 20.5 .4 20.5 .5 20 .5 16.6 .4 15.9 .5 14 .4 8.4 .5 1.7 .5-3.7 .4-6.8 .5-10.6 .5-11.9 .4-13.7 .5-16.6 .5-16.7 .4-14.9 .5-12.4 .5-8.9 .4-3.5 .5 2.4 .5 7.1 .4 11.7 .5 14 .5 14 .4 11.5 .5 7.1 .5 3.3 .4-1 .5-5.6 .5-9.9 .4-14.6 .5-17.1 .5-17.8 .4-18.6 .5-20.5 .5-21.6 .4-19 .5-16.4 .5-17.1 .4-17.6 .5-13.9 .5-10 .4-6.5 .5-3.7 .5 2.8 .4 15.4 .5 22.1 .5 23.4 .4 23 .5 17.2 .5 8.7 .4-.1 .5-5.5 .5-8 .4-8 .5-5.7 .4-1.6 .5 6.3 .5 14.6 .4 19.5 .5 23.5 .5 27.6 .4 29.7 .5 31.3 .5 34.1 .4 27.7 .5 15 .5 10.8 .4 12.2 .5 .5 .5-9.6 .4-15.3 .5-24.7 .5-29.6 .4-27.7 .5-23.8 .5-20 .4-14 .5-8.8 .5-6.2 .4-4.8 .5-5.3 .5-4.8 .4-2.6 .5-.8 .5-.7 .4 .5 .5 .8 .5-.1 .4 0 .5 1 .5 1.8 .4 1.2 .5 1.9 .5 2.3 .4 3.5 .5 4.1 .5 3.6 .4 3.6 .5 3.7 .5 3.2 .4 .8 .5-1 .4-2 .5-2.7 .5-3.5 .4-2.9 .5-1.4 .5 0 .4 .8 .5 1.5 .5 1.9 .4 2.2 .5 2.4 .5 2 .4 1 .5-.4 .5-2.1 .4-3 .5-3.6 .5-4.4 .4-5.3 .5-6.2 .5-6.7 .4-6.6 .5-6.6 .5-5.8 .4-4.2 .5-3.4 .5-1.9 .4 1.3 .5 3.3 .5 6.6 .4 9.6 .5 10.9 .5 11.3 .4 10.3 .5 7.8 .5 6.7 .4 5.5 .5 .4 .5-4.4 .4-6.3 .5-5.3 .5-2.3 .4 1 .5 4.7 .5 9.4 .4 12.8 .5 14.2 .5 12.6 .4 10.9 .5 9.6 .4 6.5 .5 2.4 .5-2.1 .4-3.4 .5-4.6 .5-6.6 .4-8.4 .5-7.9 .5-7.4 .4-6.9 .5-7.2 .5-7.4 .4-4.9 .5-1.7 .5 .8 .4 2.1 .5 2 .5 .5 .4-2.3 .5-4.5 .5-5.2 .4-6 .5-6.4 .5-5.7 .4-5.3 .5-5.6 .5-4.9 .4-4.3 .5-5.7 .5-5.9 .4-4.6 .5-2.1 .5-.2 .4 1.7 .5 2.5 .5 1.6 .4 2 .5 1.6 .5 .5 .4-1.3 .5-.8 .5 1.3 .4 3.3 .5 5.9 .5 6.3 .4 6.2 .5 5.9 .5 4.9 .4 4 .5 6 .4 7.6 .5 6.8 .5 4.4 .4 2.3 .5-1.8 .5-5.8 .4-6.7 .5-4 .5-.8 .4 2.2 .5 4.9 .5 7 .4 9.2 .5 10.9 .5 12 .4 13 .5 13.2 .5 11.3 .4 7.5 .5 2.2 .5-3 .4-7.8 .5-16.5 .5-25.6 .4-31.5 .5-30.6 .5-22.4 .4-15.3 .5-7.7 .5 1.4 .4 7.8 .5 11.2 .5 13.6 .4 15.1 .5 16.9 .5 18.1 .4 15.7 .5 12.1 .5 7.8 .4 4.3 .5 1.7 .5-1.4 .4-4.2 .5-5.4 .5-5 .4-4.4 .5-4.9 .4-5.7 .5-5.6 .5-6.8 .4-7 .5-7.8 .5-9.1 .4-9.3 .5-9.3 .5-9.7 .4-9.8 .5-7.9 .5-7.8 .4-5.8 .5-1.5 .5 1.4 .4 3.5 .5 4.5 .5 4.2 .4 5.3 .5 6.4 .5 7 .4 7.2 .5 6.7 .5 5.7 .4 5.9 .5 5.8 .5 5 .4 6.1 .5 6.2 .5 6.3 .4 5.7 .5 5.2 .5 4.6 .4 3.7 .5 3.1 .5 3.6 .4 2.4 .5-.4 .5-3.2 .4-6.2 .5-10.1 .5-12.8 .4-12.3 .5-9 .5-7.3 .4-6.3 .5-3.2 .5 .6 .4 3.1 .5 3.9 .4 4.7 .5 5.5 .5 6 .4 6.4 .5 4.9 .5 3.2 .4 .6 .5-1.7 .5-2.6 .4-3.3 .5-4.5 .5-3.9 .4-3.1 .5-1.3 .5 1.1 .4 1.9 .5 1.3 .5 .8 .4-1 .5-2.9 .5-4 .4-4.7 .5-4.8 .5-4.3 .4-2.5 .5-.7 .5 1.4 .4 3.1 .5 4.2 .5 5.2 .4 5.1 .5 4 .5 4 .4 4.1 .5 2.4 .5 1.5 .4 .3 .5-1.7 .5-2.9 .4-3.2 .5-3.2 .5-2.2 .4-1.3 .5-.9 .5-.9 .4-.6 .5 .9 .4 2.6 .5 2.8 .5 3.1 .4 3.6 .5 3.1 .5 2.2 .4 1.1 .5-1.5 .5-5.1 .4-7.2 .5-7.5 .5-7.4 .4-5.6 .5-3.7 .5-1.3 .4 1 .5 3.3 .5 5.8 .4 8.2 .5 9.7 .5 8.9 .4 8.1 .5 8.9 .5 8.8 .4 6.7 .5 4.4 .5 2.3 .4-.1 .5-2.9 .5-5 .4-5.6 .5-5.5 .5-7.4 .4-9.5 .5-8.7 .5-6.7 .4-5.2 .5-4.1 .5-2.3 .4 .2 .5 1.2 .5 2.6 .4 2.9 .5 2 .5 .4 .4-2 .5-4.6 .5-6 .4-5.7 .5-5.6 .4-4.8 .5-2.5 .5-.1 .4 1.9 .5 3.4 .5 4.4 .4 4.9 .5 4.6 .5 4 .4 3.3 .5 2.8 .5 2.3 .4 2.1 .5 2 .5 2.1 .4 1.1 .5 .2 .5 .5 .4 .5 .5-.9 .5-2.1 .4-1.6 .5-1.6 .5-1.8 .4-1.6 .5-.4 .5 .5 .4 1 .5 2.7 .5 5.2 .4 6.4 .5 6.1 .5 5.8 .4 3.9 .5 .8 .5-.6 .4-2 .5-3.3 .5-4.3 .4-5.6 .5-5.4 .5-5.1 .4-5.1 .5-4.2 .5-3.2 .4-3.3 .5-3.4 .5-2.4 .4-1.9 .5-2.2 .4-2.6 .5-1.8 .5-.4 .4 1.4 .5 3.9 .5 5.7 .4 5.5 .5 3.4 .5 1 .4-1 .5-3 .5-4.4 .4-4.9 .5-5 .5-4.5 .4-3.9 .5-2.1 .5 .6 .4 2.1 .5 3.6 .5 5.4 .4 6.8 .5 7.4 .5 7.3 .4 7.2 .5 7.7 .5 6.6 .4 5.7 .5 6 .5 4.7 .4 3.6 .5 2.2 .5 .4 .4-.7 .5-2.9 .5-4.9 .4-5.2 .5-5.2 .5-4.3 .4-4.2 .5-5.5 .5-6.9 .4-6 .5-4.8 .5-4 .4-3.4 .5-2.7 .4-.9 .5 .9 .5 2.3 .4 4 .5 3.4 .5 1.1 .4-1.8 .5-3.9 .5-4.2 .4-2.9 .5-1.2 .5 .6 .4 2.2 .5 2.7 .5 3.3 .4 3.5 .5 3.3 .5 3.2 .4 2.7 .5 1.9 .5 1.7 .4 2.7 .5 2.8 .5 2.8 .4 2.6 .5 1.6 .5 .1 .4 0 .5 .8 .5-.2 .4-1.8 .5-2.2 .5-2.2 .4-2.6 .5-3.1 .5-2.6 .4-1.2 .5-.3 .5 1.4 .4 2.4 .5 3.1 .5 3.9 .4 4.6 .5 3.7 .5 2.2 .4 .6 .5-.5 .5-1.4 .4-2.8 .5-4.3 .4-5.4 .5-6.2 .5-6.3 .4-6.3 .5-5.8 .5-5.6 .4-3.5 .5-.5 .5 2.2 .4 4.9 .5 9.5 .5 11.9 .4 9.7 .5 5.5 .5-.1 .4-3.7 .5-4.4 .5-4.8 .4-4.3 .5-1.9 .5 2 .4 4.7 .5 6.1 .5 5.9 .4 3.3 .5-.8 .5-5.4 .4-9.9 .5-14.7 .5-15.4 .4-13.9 .5-11 .5-7.7 .4-3.7 .5-1.2 .5 0 .4-.9 .5 .3 .5 .7 .4-1.8 .5-3.4 .5-4.1 .4-4.5 .5-2.5 .5-1.1 .4 1.3 .5 5.3 .5 10.9 .4 15.7 .5 17.1 .4 15.2 .5 13.2 .5 11.3 .4 6.8 .5 4.8 .5 3 .4-.1 .5-3 .5-5.2 .4-3.8 .5-1.7 .5-3.7 .4-4.2 .5-4 .5-4.7 .4-4.4 .5-3.1 .5-1.4 .4-.2 .5 1 .5 1.7 .4 2.4 .5 3.5 .5 3.9 .4 4.4 .5 4.6 .5 3.9 .4 4.8 .5 6.7 .5 5.1 .4 4.1 .5 5.5 .5 4 .4 .8 .5-.7 .5-.1 .4 .2 .5-.8 .5-2.2 .4-3.9 .5-3.3 .5-3.2 .4-4.1 .5-4.1 .5-3.4 .4-3.6 .5-3.7 .4-3.8 .5-4.1 .5-3.7 .4-2.1 .5-1.1 .5-.8 .4 .1 .5 1.8 .5 2.9 .4 3 .5 2.9 .5 1.1 .4-1 .5-2.8 .5-4.8 .4-5 .5-3.4 .5-3.3 .4-3.2 .5-.7 .5 2.8 .4 5 .5 4.6 .5 2.4 .4 0 .5-1.1 .5-2.1 .4-3.9 .5-4.3 .5-3.7 .4-2.6 .5 .2 .5 3.1 .4 4.8 .5 5.5 .5 5 .4 4 .5 2.5 .5-.1 .4-2.7 .5-4.9 .5-5.5 .4-4.3 .5-3.1 .5-2.8 .4-.8 .5 1.7 .5 3.3 .4 4.2 .5 4.4 .4 4.3 .5 3 .5 2.1 .4 .8 .5 .5 .5 1.4 .4 2.2 .5 2.4 .5 2.8 .4 2.3 .5 1.9 .5 1.1 .4-.2 .5-1.1 .5-3 .4-3.8 .5-3.6 .5-3.1 .4-2.5 .5-1.2 .5 .2 .4 1.1 .5 1.9 .5 2.5 .4 2.8 .5 2.1 .5 .9 .4-.8 .5-1.4 .5-1 .4-.8 .5-.6 .5-.3 .4 0 .5 .1 .5-.3 .4-.4 .5-.9 .5-1.3 .4-1.9 .5-2.5 .5-2.7 .4-1.7 .5-.9 .5-.7 .4-.4 .5 .5 .5 1 .4 .6 .5-.2 .4-.3 .5-.2 .5-.8 .4-1.2 .5-.9 .5-.3 .4 .5 .5 1 .5 1.5 .4 1.7 .5 1.5 .5 .9 .4 .2 .5-.2 .5-.5 .4-1.1 .5-1.1 .5 0 .4 .9 .5 1 .5 1.1 .4 1.4 .5 1.5 .5 1.7 .4 1.5 .5 .9 .5 .3 .4-.2 .5-.9 .5 .2 .4 1 .5 1.1 .5 1.7 .4 1.7 .5 1.2 .5 .6 .4 0 .5-.7 .5-1.6 .4-1.4 .5-.5 .5 .4 .4 1.2 .5 1.6 .5 1.9 .4 1.9 .5 2.3 .4 2.4 .5 .9 .5-.4 .4-2.3 .5-3 .5-2.7 .4-2.3 .5-.9 .5 .3 .4 .9 .5 1.6 .5 2.1 .4 2 .5 .8 .5-.5 .4-1.6 .5-2.9 .5-4 .4-4.1 .5-2.7 .5-1.5 .4-1 .5-.3 .5 .4 .4 .4 .5 .3 .5 .1 .4-.3 .5-.5 .5-.3 .4-.7 .5-.6 .5 .4 .4 .6 .5 .1 .5 .6 .4 1.1 .5 .9 .5 .5 .4 .9 .5 .7 .5 .8 .4 .3 .5-.2 .5-.3 .4-.6 .5-.2 .5-.2 .4-.7 .5-1.6 .4-2.1 .5-2.1 .5-2.2 .4-2.6 .5-2.8 .5-2.5 .4-2.1 .5-2.4 .5-2.1 .4-.9 .5-.5 .5-1.2 .4-.1 .5 1.5 .5 3.1 .4 3.8 .5 4.8 .5 6.4 .4 5.8 .5 4.7 .5 4.3 .4 4.5 .5 4 .5 2.5 .4 1.4 .5 1.4 .5 0 .4-1 .5-2 .5-2.1 .4-1.7 .5-1.6 .5-2.1 .4-2.6 .5-3.3 .5-3.3 .4-3.2 .5-3.3 .5-3.6 .4-3.6 .5-3.4 .5-2.6 .4-2.2 .5-2 .5-1.1 .4-.5 .5-.5 .5 .6 .4 .7 .5 1.2 .4 2.1 .5 2 .5 1.9 .4 1.1 .5 .3 .5-.2 .4-.9 .5-1.1 .5-.9 .4-.7 .5-.6 .5-.8 .4-.6 .5 .3 .5 1 .4 .9 .5 1 .5 1.7 .4 2.5 .5 2.5 .5 2.5 .4 2.4 .5 1.9 .5 1.1 .4 .9 .5 1.9 .5 1.9 .4 .9 .5 1.1 .5-.1 .4-1.1 .5-1.3 .5-.9 .4-1 .5-1 .5-1 .4-1.2 .5-1.3 .5-1.5 .4-1.5 .5-.7 .5-.2 .4 .3 .5 .9 .5 .7 .4 .4 .5 0 .4-.2 .5 0 .5 .3 .4 0 .5 .4 .5 .7 .4 .5 .5 .2 .5 .9 .4 1.3 .5 .6 .5 .2 .4 1.4 .5 2.2 .5 1.7 .4 1.3 .5 1.9 .5 2.1 .4 1.8 .5 .4 .5 .3 .4 1 .5 1.3 .5 1.2 .4 1.2 .5 1.2 .5 1.3 .4 .8 .5-.6 .5-.8 .4-1.1 .5-2 .5-1.2 .4-.9 .5-1.9 .5-2.1 .4-2 .5-1.6 .5-1.7 .4-1.4 .5-1.7 .5-2.4 .4-2.8 .5-3.1 .5-2.9 .4-2.6 .5-2.8 .5-2.5 .4-2 .5-2.6 .4-2.3 .5-1.1 .5-1.3 .4-.5 .5 .7 .5 .9 .4-.3 .5-.1 .5 1.3 .4 2.9 .5 2.6 .5 1.6 .4 1.3 .5 1.7 .5 1.6 .4 2.2 .5 2.3 .5 1.8 .4 1.1 .5 1 .5 .8 .4 .7 .5 .4 .5 0 .4 .1 .5 .4 .5 .3 .4 .2 .5 0 .5-.3 .4-.3 .5 .2 .5 .3 .4-.5 .5-.8 .5-.1 .4 .6 .5 .7 .5 .2 .4 0 .5-.3 .5 .7 .4 1.5 .5 1 .5 .9 .4 .6 .5 .8 .5 .4 .4 0 .5 .2 .4 .5 .5 .9 .5 .8 .4-.4 .5-1.2 .5-.7 .4-.9 .5-1.5 .5-1.4 .4-1.4 .5-1.4 .5-1.3 .4-1.3 .5-1.4 .5-1.7 .4-2 .5-1.8 .5-1.6 .4-1.1 .5-.6 .5-.5 .4-.1 .5 .1 .5 .4 .4 1.3 .5 1.2 .5 1.8 .4 2.6 .5 2.9 .5 2.7 .4 2.6 .5 2.2 .5 1.9 .4 1.2 .5 1 .5 1.3 .4 1 .5 .1 .5-1 .4-2 .5-1.8 .5-1.5 .4-1.3 .5-1.3 .5-1.6 .4-1.3 .5-.8 .4-.4 .5 .4 .5 .8 .4 .7 .5 1 .5 1.2 .4 1.2 .5 1.4 .5 1.1 .4 .8 .5 .3 .5 0 .4-.3 .5 .2 .5 .3 .4-.2 .5-.8 .5-.7 .4-.5 .5-.7 .5-.7 .4-.3 .5-.6 .5-.9 .4-1.1 .5-1.4 .5-1.6 .4-1.2 .5-1.8 .5-2.6 .4-1.8 .5-.7 .5-.4 .4-.9 .5-1.3 .5-.5 .4-.1 .5 .3 .5 .7 .4 1.1 .5 1.1 .5 1.1 .4 .9 .5 .3 .5 .1 .4-.1 .5-.6 .5-.7 .4-1 .5-.9 .4-.4 .5-.4 .5 0 .4 .4 .5 .9 .5 1.8 .4 2.2 .5 2.3 .5 2.7 .4 2.7 .5 2.4 .5 1.9 .4 2.2 .5 3.6 .5 3.5 .4 2.4 .5 2.1 .5 1.7 .4 .5 .5-.4 .5-.6 .4-.7 .5-.1 .5-1.5 .4-2 .5-.9 .5-.3 .4-.4 .5-1.2 .5-1.5 .4-1.7 .5-1.6 .5-1.2 .4-1 .5-.7 .5-.7 .4-.5 .5-.5 .5-.8 .4-1.1 .5-.9 .5-.3 .4-.4 .5-.5 .5-.8 .4-.6 .5-.6 .4-.7 .5-.4 .5-.4 .4-.1 .5 .1 .5 .2 .4 0 .5 .1 .5 .2 .4 .1 .5 .7 .5 1 .4 .7 .5 .6 .5 .7 .4 .5 .5 .4 .5 .2 .4-.5 .5-.3 .5 0 .4-.1 .5 0 .5-.7 .4-1.2 .5-1.3 .5-1.4 .4-.9 .5-.1 .5-.4 .4-.8 .5-.4 .5 .1 .4 .2 .5 .1 .5 .4 .4 .5 .5 0 .5 .1 .4 .7 .5 .5 .5-.2 .4 .3 .5 .6 .5 .5 .4 .4 .5 .3 .5-.1 .4-.1 .5 .4 .4 .4 .5 .1 .5 .2 .4 .7 .5 .4 .5 .1 .4 .1 .5-.1 .5-.3 .4-.5 .5 0 .5 .4 .4 .6 .5 .5 .5 0 .4-.1 .5 .7 .5 .8 .4 .3 .5 0 .5-.4 .4-.3 .5 .3 .5 .5 .4 .5 .5 .5 .5 .4 .4-.1 .5-.3 .5-.1 .4 0 .5 .2 .5 .3 .4 .2 .5-.4 .5-.5 .4-.2 .5 0 .5 0 .4 0 .5-.1 .5-.2 .4 .2 .5 .5 .5-.2 .4-.9 .5-.5 .5-.1" stroke="#33b07a"/>
<path d="M45.2 674.4l.5 .2 .4-.1 .5-.1 .5 .2 .4 .2 .5 0 .5 0 .4-.1 .5 0 .5 0 .4-.2 .5-.1 .5 .1 .4 .1 .5 .2 .5 .3 .4 .3 .5 .3 .5 .3 .4-.2 .5-.2 .5 0 .4-.2 .5-.3 .4-.5 .5-.6 .5-.4 .4-.6 .5-.8 .5-.7 .4-.2 .5-.3 .5-.3 .4 .1 .5 0 .5-1.1 .4-2.7 .5-4.6 .5-5.9 .4-6 .5-5.8 .5-4.7 .4-2.2 .5 1.4 .5 6.6 .4 11.7 .5 14.7 .5 14.9 .4 11.4 .5 7.1 .5 1.7 .4-6.1 .5-13.2 .5-17.1 .4-20.3 .5-21.1 .5-18.4 .4-12.5 .5-5.9 .5-3 .4-1.3 .5 1 .5 3 .4 6.5 .5 9.9 .5 12.9 .4 15.1 .5 14.3 .5 13.1 .4 13.6 .5 14.5 .5 12.8 .4 9.1 .5 6.9 .4 5.7 .5 4.7 .5 4.2 .4 .5 .5-4.6 .5-7.5 .4-8.2 .5-7.9 .5-7.3 .4-7 .5-7.1 .5-6.6 .4-3.7 .5-.1 .5 3.2 .4 6.3 .5 9.3 .5 10.7 .4 9.9 .5 6.3 .5 3 .4 1.4 .5-1.9 .5-5.7 .4-8.3 .5-10.4 .5-11.4 .4-11.9 .5-12.7 .5-13.6 .4-12.7 .5-11 .5-11 .4-11.2 .5-8.8 .5-6.8 .4-5.6 .5-3.4 .5-.3 .4 3 .5 6.2 .5 7.5 .4 6.6 .5 6 .5 7.1 .4 4.2 .5-1.2 .5-3.6 .4-2.2 .5-.8 .4 .6 .5 2.7 .5 4.5 .4 8.6 .5 15.1 .5 20.6 .4 21.8 .5 23.8 .5 24.9 .4 20 .5 15.7 .5 9.4 .4 3.3 .5 3 .5 .9 .4-5.9 .5-13.2 .5-18.7 .4-19.1 .5-17.5 .5-15.5 .4-11 .5-6 .5-3.1 .4-1.7 .5-1.6 .5-1.6 .4-1.3 .5-1.9 .5-2.8 .4-1.9 .5 0 .5-.4 .4-1.1 .5-.7 .5-.9 .4 0 .5 1.7 .5 .9 .4 .1 .5 1.1 .5 2.3 .4 2.9 .5 3.1 .5 2.5 .4 1 .5-.5 .4-1.6 .5-2.8 .5-3.5 .4-3.1 .5-2.2 .5-.8 .4 .3 .5 .9 .5 1.8 .4 2.5 .5 2.1 .5 1.4 .4 1.2 .5 .7 .5-.2 .4-1.6 .5-3 .5-3.7 .4-4.6 .5-5.5 .5-5.9 .4-5.6 .5-4.1 .5-3.5 .4-4.6 .5-4.8 .5-2.6 .4-.3 .5 1.3 .5 3.8 .4 5.8 .5 7 .5 7.6 .4 6.8 .5 5.5 .5 4.9 .4 3.7 .5 1.7 .5-.4 .4-2.9 .5-4.3 .5-2.6 .4 .3 .5 2.7 .5 5.7 .4 8.2 .5 8.7 .5 9.9 .4 11.1 .5 10.4 .4 7.8 .5 3 .5-1.1 .4-1.6 .5-.9 .5-3.2 .4-5.5 .5-5.4 .5-4.6 .4-4.1 .5-4.3 .5-4.8 .4-4.6 .5-2.9 .5-.3 .4 1.6 .5 2.1 .5 1 .4-.9 .5-2.5 .5-3.6 .4-4.4 .5-4.4 .5-4.4 .4-4.7 .5-5 .5-4.5 .4-3.7 .5-4.5 .5-4.7 .4-3.6 .5-2 .5-.5 .4-1.1 .5-1.9 .5 .6 .4 4 .5 2.3 .5-1.3 .4-.9 .5 .5 .5 .5 .4 2.1 .5 4 .5 4 .4 4.6 .5 5.2 .5 3.7 .4 2 .5 1.9 .4 2.5 .5 2.4 .5 2.1 .4 1.4 .5-.6 .5-1.8 .4-1.9 .5-1.5 .5-1 .4 0 .5 2 .5 3.8 .4 5.8 .5 7.7 .5 8.6 .4 8.7 .5 8.2 .5 6.5 .4 3.8 .5 2 .5 1.8 .4 .4 .5-6.2 .5-15.2 .4-20.6 .5-21.4 .5-21.4 .4-17.8 .5-9.9 .5-2.6 .4 3.7 .5 8.3 .5 11.3 .4 13.4 .5 14.2 .5 13.5 .4 12.2 .5 9.7 .5 7.3 .4 4.9 .5 3.3 .5 1.2 .4-1.1 .5-1.9 .5-1.8 .4-2.5 .5-3.3 .4-4.1 .5-4.7 .5-4.8 .4-4.8 .5-5.1 .5-5.2 .4-5.8 .5-6.9 .5-7.2 .4-6.6 .5-4.7 .5-3.2 .4-4.1 .5-3.4 .5-1.9 .4-.6 .5 1.3 .5 2.6 .4 3.6 .5 3.9 .5 3.7 .4 4.4 .5 4.9 .5 3.6 .4 2.9 .5 3.2 .5 3.3 .4 3.3 .5 3.2 .5 2.4 .4 2.4 .5 3.1 .5 4.3 .4 3.8 .5 1.2 .5-.6 .4-.5 .5 .1 .5-.3 .4-1.5 .5-3.3 .5-5.5 .4-6.6 .5-7.1 .5-6.6 .4-4.6 .5-2.6 .5-1 .4 1.6 .5 3.2 .4 3.7 .5 3.8 .5 3.8 .4 3.9 .5 3.3 .5 2.3 .4 1.1 .5-.5 .5-1.5 .4-1.7 .5-1.5 .5-1.8 .4-2.4 .5-2 .5-.4 .4 1.2 .5 1.9 .5 1.3 .4-.4 .5-1.8 .5-2.9 .4-4 .5-4.7 .5-4.7 .4-3.1 .5-1 .5 .8 .4 1.6 .5 2.6 .5 3.4 .4 3.7 .5 2.5 .5 2.2 .4 2.2 .5 1.6 .5 1 .4 .7 .5-.3 .5-1.4 .4-2 .5-1.1 .5-.6 .4-1.4 .5-1.9 .5-.9 .4 .6 .5 1 .4 1.2 .5 2 .5 2.1 .4 2.2 .5 2.2 .5 2.4 .4 1 .5-1 .5-2 .4-3.3 .5-5.2 .5-5.7 .4-5.4 .5-4.4 .5-2.6 .4 .2 .5 2.5 .5 3.6 .4 4.8 .5 5.9 .5 6.9 .4 7.3 .5 7.1 .5 6.7 .4 6 .5 3.2 .5 1.2 .4 1.8 .5 .4 .5-3 .4-4.1 .5-3.6 .5-3.8 .4-4.8 .5-6 .5-5.4 .4-4.3 .5-3.6 .5-2.7 .4-.9 .5 .8 .5 1.9 .4 2.5 .5 2.5 .5 1 .4-1.2 .5-2.8 .5-3.6 .4-4.6 .5-5.1 .4-4.2 .5-2.7 .5-.8 .4 1.5 .5 2.5 .5 3.2 .4 3.5 .5 3.4 .5 3.4 .4 3.2 .5 2.6 .5 1.7 .4 1.5 .5 1.4 .5 .8 .4 .9 .5 .9 .5 .5 .4-.1 .5-.3 .5-.8 .4-1.3 .5-1.6 .5-1.7 .4-1.6 .5-1.2 .5-.7 .4 .5 .5 2.1 .5 3.1 .4 3.6 .5 3.6 .5 3.7 .4 3.6 .5 2.7 .5 1 .4-.9 .5-2.6 .5-3.5 .4-3.6 .5-3.6 .5-3.6 .4-3.6 .5-4.2 .5-4 .4-3.1 .5-2.6 .5-2 .4-1.7 .5-1.8 .4-2.1 .5-1.6 .5 0 .4 .8 .5 1.7 .5 3.7 .4 4.9 .5 3.6 .5 1.3 .4-.7 .5-1.8 .5-2.7 .4-3.3 .5-3.5 .5-3.4 .4-3.1 .5-2.1 .5-.7 .4 .9 .5 2 .5 3 .4 3.7 .5 3.9 .5 4.8 .4 6 .5 5.7 .5 4.2 .4 4.3 .5 6 .5 5.7 .4 3.6 .5 .9 .5-.6 .4-1.3 .5-1.6 .5-.9 .4-2.1 .5-3.6 .5-3.6 .4-3.3 .5-3.2 .5-3.9 .4-4.7 .5-4.8 .5-3.7 .4-2.9 .5-1.8 .4-.3 .5 .8 .5 1.6 .4 2.5 .5 3 .5 1.9 .4-.4 .5-2.5 .5-3.4 .4-2.8 .5-1.8 .5-.2 .4 1.4 .5 1.9 .5 2.6 .4 3 .5 3 .5 2.8 .4 2.4 .5 1.7 .5 1.8 .4 1.7 .5 1.3 .5 1.5 .4 1.7 .5 1.5 .5 1 .4 .5 .5-.3 .5-.1 .4 .2 .5-.6 .5-1.5 .4-2.1 .5-2 .5-1.4 .4-.9 .5-.4 .5 .3 .4 1.1 .5 2 .5 2.6 .4 3 .5 3.7 .5 3.5 .4 2.1 .5 .4 .5-1.1 .4-2 .5-2.7 .4-3.8 .5-4.8 .5-4.5 .4-4 .5-4.3 .5-4.5 .4-3.4 .5-1.7 .5 .5 .4 2.6 .5 4.9 .5 6.9 .4 7.6 .5 5.7 .5 2 .4-1.2 .5-3 .5-3.6 .4-3.6 .5-2.7 .5-.1 .4 3 .5 4.9 .5 5.5 .4 3.9 .5 1 .5-1.6 .4-4.3 .5-7 .5-8.9 .4-9.3 .5-7.4 .5-5.2 .4-4.4 .5-3.2 .5-.5 .4 1.3 .5 .2 .5-2.6 .4-3.3 .5-2 .5-2.4 .4-4.8 .5-4.8 .5-1.3 .4 1.7 .5 3.7 .5 4.7 .4 6 .5 7.9 .4 9.6 .5 10.8 .5 10.1 .4 8.1 .5 6.3 .5 2.5 .4-1.2 .5-2.2 .5-1.9 .4-2.5 .5-2.9 .5-3.5 .4-3.5 .5-2.6 .5-2.3 .4-2 .5-2.4 .5-2.7 .4-2.1 .5-1 .5 .4 .4 1.7 .5 3.2 .5 4 .4 4.6 .5 5.1 .5 4.1 .4 3.5 .5 4.4 .5 4.9 .4 4.4 .5 3.8 .5 3.2 .4 2.5 .5 1.7 .5 2 .4 .3 .5-2.7 .5-3.3 .4-1.9 .5-1.5 .5-2.5 .4-3.2 .5-4 .5-3.8 .4-2.5 .5-2.1 .4-2.4 .5-2.3 .5-1.6 .4-1.6 .5-1.3 .5-.8 .4 .2 .5 2 .5 2.2 .4 1.2 .5 1.4 .5 1.8 .4 1.2 .5-.4 .5-2.1 .4-3 .5-3.3 .5-3.3 .4-1.9 .5 .2 .5 1.5 .4 1.9 .5 3.1 .5 3.2 .4 1.5 .5 .2 .5-.8 .4-2.2 .5-3.2 .5-4.2 .4-4.5 .5-1.9 .5 1 .4 1.1 .5 1.4 .5 2.8 .4 2.9 .5 1.9 .5 .5 .4-1.5 .5-3 .5-3.4 .4-3.3 .5-3.2 .5-2.5 .4-.7 .5 1.6 .5 2.3 .4 2.4 .5 2.5 .4 2.3 .5 1.8 .5 1.2 .4 .6 .5 .6 .5 .5 .4 .5 .5 1.3 .5 2.1 .4 2.6 .5 2.6 .5 2 .4 .7 .5-.7 .5-1.8 .4-2.4 .5-3.1 .5-3.4 .4-2.8 .5-1.3 .5-.1 .4 1 .5 1.6 .5 1.8 .4 2.2 .5 1.7 .5 .9 .4 .5 .5-.1 .5-.9 .4-1.3 .5-1.3 .5-1 .4-.3 .5 .3 .5 .2 .4-.1 .5-.4 .5-.3 .4-.9 .5-1.4 .5-2 .4-2 .5-1.6 .5-.9 .4 .1 .5 .5 .5 1 .4 1.1 .5 .7 .4-.1 .5-.9 .5-1.3 .4-1.4 .5-1.1 .5-.8 .4-.2 .5 .9 .5 .9 .4 .5 .5 .4 .5 .6 .4 .7 .5 .1 .5-.8 .4-1.2 .5-.9 .5-.5 .4-.4 .5 .2 .5 .6 .4 .8 .5 1.4 .5 1.5 .4 .9 .5 .1 .5-.1 .4-.1 .5-.3 .5-.7 .4-.2 .5 1.1 .5 2 .4 2.4 .5 1.7 .5 1.2 .4 1.5 .5 1.3 .5 .1 .4-.6 .5-.6 .5-.1 .4-.2 .5 .4 .5 1.3 .4 2 .5 2.2 .4 1.9 .5 1.7 .5 .6 .4-1.3 .5-2.4 .5-2 .4-1.6 .5-1.4 .5-.9 .4-.2 .5 .3 .5 1.2 .4 1.7 .5 1.1 .5 .1 .4-.7 .5-1.2 .5-2 .4-2.5 .5-2.5 .5-1.9 .4-1.5 .5-.7 .5 .3 .4 .9 .5 .6 .5-.1 .4-.2 .5-.3 .5-.7 .4-1 .5-.8 .5-.3 .4 .1 .5 .2 .5 .2 .4 .5 .5 .8 .5 1.1 .4 .9 .5 .4 .5 .2 .4 .1 .5-.4 .5-.3 .4 .6 .5 .8 .5 .2 .4-1 .5-1.3 .4-1.2 .5-1.6 .5-2.2 .4-2.3 .5-1.7 .5-1 .4-.9 .5-1.4 .5-1.6 .4-1.6 .5-1.4 .5-1 .4-.2 .5 .7 .5 1.8 .4 3 .5 3.7 .5 3.7 .4 3.7 .5 4.5 .5 4.9 .4 4.4 .5 3.3 .5 2.4 .4 1.5 .5 .5 .5-.3 .4-.2 .5-.7 .5-1.3 .4-.9 .5-1.5 .5-2.4 .4-2.3 .5-2.3 .5-2.5 .4-2.9 .5-2.8 .5-2.2 .4-1.9 .5-2.2 .5-1.9 .4-1.8 .5-1.9 .5-2.2 .4-2.2 .5-1.5 .5-.5 .4 .4 .5 1.1 .4 1.2 .5 .8 .5 .7 .4 .5 .5 .5 .5 .2 .4-.5 .5-1.1 .5-1 .4-.9 .5-.7 .5-.6 .4-.3 .5 .1 .5 .2 .4 .4 .5 1 .5 1.7 .4 2.3 .5 1.9 .5 1.6 .4 1.6 .5 2 .5 1.6 .4 1.4 .5 1.6 .5 1.2 .4 .7 .5 .4 .5 0 .4-.5 .5-.2 .5 0 .4-.1 .5-.2 .5-.2 .4-.4 .5-.6 .5-.7 .4-.5 .5-.4 .5-.8 .4-.7 .5-.5 .5-.5 .4-.1 .5 .3 .4 .5 .5-.2 .5-.3 .4 .3 .5 .1 .5-1 .4-1.2 .5-.5 .5-.1 .4 .4 .5 .8 .5 .8 .4 .7 .5 .9 .5 1.1 .4 1.2 .5 1.5 .5 1.1 .4 0 .5 .1 .5 1.6 .4 2.5 .5 1.7 .5 .6 .4 .7 .5 .7 .5 .5 .4 .7 .5 .9 .5 .7 .4 .1 .5-.2 .5 .1 .4-.7 .5-1.6 .5-1.4 .4-.6 .5-.4 .5-1.2 .4-1.6 .5-1.2 .5-1 .4-1.3 .5-1.7 .5-2.2 .4-2.3 .5-1.5 .5-.4 .4-.2 .5-.7 .4-1.4 .5-1.5 .5-1.5 .4-1.6 .5-1.3 .5-.2 .4 .9 .5 1.1 .5 .8 .4 .8 .5 .5 .5 0 .4 .4 .5 .6 .5 1 .4 1.1 .5 .9 .5 .4 .4 .4 .5 1 .5 1.2 .4 .8 .5 .2 .5-.5 .4-.3 .5 .2 .5 .7 .4 .5 .5 0 .5 0 .4 .2 .5-.1 .5-.4 .4-.1 .5 .2 .5 .2 .4-.1 .5-.5 .5-.1 .4 .7 .5 .9 .5 .5 .4 .2 .5 .1 .5 .8 .4 1.3 .5 1.2 .5 1.1 .4 .9 .5 .9 .4 .8 .5 .1 .5-.7 .4-.1 .5 .7 .5 .4 .4-.3 .5-.6 .5-.9 .4-1.5 .5-1.6 .5-1.4 .4-1.4 .5-1.5 .5-1.3 .4-1.1 .5-1.2 .5-1 .4-1 .5-1.4 .5-1.5 .4-.6 .5 0 .5 .6 .4 1.1 .5 1.5 .5 1.4 .4 1.3 .5 1 .5 1.2 .4 1.3 .5 1.2 .5 1.2 .4 1.6 .5 1.6 .5 1 .4 .8 .5 .6 .5 .2 .4 0 .5-.3 .5-.9 .4-1.6 .5-1.7 .5-1.4 .4-1 .5-.9 .4-.7 .5-.2 .5 .7 .4 .8 .5 .6 .5 .7 .4 1.1 .5 1.1 .5 .8 .4 .5 .5 .4 .5 .3 .4-.2 .5-.5 .5-.3 .4-.2 .5-.4 .5-.4 .4 0 .5 .2 .5-.4 .4-.9 .5-.8 .5-.8 .4-1.2 .5-1 .5-.9 .4-1.8 .5-2.6 .5-2.6 .4-2.3 .5-2.1 .5-1.1 .4 .3 .5 0 .5-.7 .4-.5 .5-.2 .5 .6 .4 .7 .5 .6 .5 .2 .4 .3 .5 1.2 .5 1.4 .4 .4 .5-.7 .5-1.1 .4-1.1 .5-.4 .4 .1 .5 .3 .5 .4 .4 .2 .5 .2 .5 .6 .4 1.3 .5 1.8 .5 1.7 .4 1.6 .5 1.7 .5 2.2 .4 2.2 .5 1.4 .5 1 .4 .8 .5 1.3 .5 1 .4 .3 .5-.1 .5 .4 .4 1.6 .5 1.2 .5-.4 .4-1.4 .5-1 .5-.4 .4-.6 .5-.5 .5-.3 .4 .1 .5 .2 .5-.4 .4-1 .5-.8 .5-.4 .4-.5 .5-.3 .5-.1 .4-.2 .5 0 .5-.1 .4-.4 .5-.6 .5-.4 .4-.4 .5-.5 .4-.6 .5-.4 .5-.1 .4-.2 .5 .2 .5 .6 .4 .3 .5-.2 .5-.2 .4 .1 .5 0 .5 .3 .4 1.1 .5 1 .5 .8 .4 .6 .5 .7 .5 .3 .4 .1 .5 0 .5 0 .4-.1 .5-.4 .5-.8 .4-.5 .5-.3 .5-.2 .4-.1 .5-.1 .5 0 .4 .3 .5-.1 .5-.4 .4-.2 .5-.1 .5-.5 .4-.2 .5 .2 .5 .2 .4-.5 .5-.6 .5-.1 .4 .1 .5 0 .5-.2 .4-.1 .5 .1 .5 .1 .4 0 .5-.2 .4 0 .5 .2 .5 .1 .4 .1 .5 .3 .5 .2 .4 .1 .5 .1 .5 0 .4 0 .5 .1 .5 .6 .4 .3 .5-.3 .5 .2 .4 .3 .5-.4 .5-.3 .4 .3 .5 .4 .5 .3 .4 .1 .5-.2 .5-.2 .4 .2 .5 .3 .5 .1 .4 0 .5 0 .5-.1 .4 .1 .5 .2 .5-.1 .4 .1 .5 .2 .5 .4 .4 .2 .5 .1 .5 0 .4 0 .5-.2 .5-.1 .4 0 .5 .1 .5 .3 .4 .3 .5 .2 .5-.1" stroke="#b22200"/>
<path d="M45.2 672.5l.5-.3 .4-.3 .5 .2 .5 .2 .4 .2 .5 0 .5-.3 .4-.1 .5 .3 .5 0 .4-.1 .5 .1 .5 .2 .4 0 .5-.2 .5-.2 .4 .4 .5 .3 .5 .2 .4-.3 .5-.3 .5-.4 .4-.4 .5-.5 .4-.4 .5-.2 .5 0 .4-.8 .5-1.6 .5-1.3 .4-.9 .5-.3 .5 .4 .4 .6 .5-.3 .5-1.9 .4-3.7 .5-5.8 .5-7 .4-7 .5-6.1 .5-4.5 .4-.7 .5 4.3 .5 9.6 .4 13.3 .5 15 .5 15.3 .4 13 .5 7.1 .5-.1 .4-6.4 .5-12.8 .5-18.3 .4-19.9 .5-17.2 .5-13.4 .4-10 .5-7.4 .5-3.7 .4-.5 .5 .8 .5 2.4 .4 5.8 .5 9.9 .5 11.9 .4 13.1 .5 16.5 .5 19 .4 19 .5 18.2 .5 18.4 .4 16.1 .5 11.6 .4 7.1 .5 4.7 .5 .3 .4-1.9 .5-5.3 .5-10.6 .4-12.7 .5-14.6 .5-15.5 .4-13.6 .5-10 .5-5.9 .4-2.5 .5 .1 .5 3 .4 6.7 .5 8.9 .5 11.3 .4 11.3 .5 7.9 .5 3.4 .4-.2 .5-3.5 .5-6.7 .4-9.6 .5-12.4 .5-13 .4-14.2 .5-14.8 .5-13.8 .4-13.1 .5-14.5 .5-14.7 .4-11.6 .5-9.9 .5-6.7 .4-1.4 .5-.8 .5 .5 .4 4.5 .5 5.6 .5 7.2 .4 10 .5 8.9 .5 7.8 .4 3 .5-1.6 .5-3.5 .4-2.7 .5-1.3 .4-.4 .5 1.5 .5 6.3 .4 11.2 .5 16.5 .5 21.1 .4 22.6 .5 21.6 .5 18.7 .4 19.7 .5 16.8 .5 12.6 .4 7.2 .5-1.6 .5-4.8 .4-6.3 .5-12.4 .5-20.7 .4-21.3 .5-15.2 .5-11.2 .4-9.4 .5-7.6 .5-5.5 .4-3.8 .5-1.8 .5-2.6 .4-3.6 .5-.9 .5 .8 .4 .2 .5-1.5 .5-2.5 .4-1.3 .5 1.1 .5 2.3 .4 1.7 .5 .9 .5 1.8 .4 2.5 .5 2.8 .5 2.4 .4 2.8 .5 3.3 .5 2.9 .4 1.8 .5 .4 .4-1.7 .5-2.9 .5-3 .4-2.9 .5-1.7 .5-.3 .4 .4 .5 .8 .5 1.7 .4 1.8 .5 1.9 .5 1.6 .4 .9 .5 .3 .5-.6 .4-1.9 .5-2.5 .5-3.6 .4-4.2 .5-4.7 .5-4.8 .4-4.1 .5-4.3 .5-5.9 .4-6 .5-3.5 .5 .5 .4 2.4 .5 1.1 .5 1.9 .4 4.4 .5 5.9 .5 7.1 .4 8.3 .5 8.6 .5 7.5 .4 3.8 .5-.6 .5-3.4 .4-4.2 .5-3.7 .5-2.6 .4-.9 .5 2.7 .5 6.2 .4 9.2 .5 10.2 .5 10.8 .4 10.9 .5 7.9 .4 4.8 .5 2.4 .5-.4 .4-1.7 .5-2.8 .5-6.4 .4-7.9 .5-4.6 .5-3.2 .4-5.1 .5-5.5 .5-4.7 .4-3.6 .5-2.3 .5-.3 .4 1.4 .5 2.3 .5 1.6 .4-.6 .5-2.9 .5-4.5 .4-5.3 .5-5.4 .5-4.3 .4-4 .5-5 .5-5.3 .4-4.7 .5-4.6 .5-4 .4-2.7 .5-1.1 .5-.2 .4-.9 .5 .8 .5 2.9 .4 1.4 .5-.1 .5 .6 .4 1.5 .5 .9 .5 .7 .4 .9 .5 2.6 .5 4.7 .4 5.8 .5 4.9 .5 3.8 .4 2.6 .5 3 .4 4.1 .5 3.7 .5 2 .4 .7 .5-.9 .5-3.4 .4-3.1 .5-1.9 .5-.8 .4 1.1 .5 3.1 .5 5.1 .4 7.7 .5 8 .5 7.7 .4 9.2 .5 10.9 .5 9.3 .4 7.8 .5 4.1 .5-.2 .4-4.6 .5-10.9 .5-18 .4-22.4 .5-23.2 .5-20.1 .4-15.6 .5-9.8 .5-2.4 .4 4.5 .5 9.2 .5 10.9 .4 12.5 .5 13.6 .5 13.9 .4 12.3 .5 9.7 .5 7.5 .4 5.1 .5 1 .5-.7 .4-.3 .5-1.1 .5-2.4 .4-2.9 .5-3.1 .4-4.2 .5-5.5 .5-5.2 .4-4.4 .5-4.9 .5-5.9 .4-6.9 .5-7.9 .5-8.7 .4-8.7 .5-8.2 .5-7.2 .4-4.6 .5-.9 .5-.5 .4-.6 .5 1.7 .5 2.5 .4 3.2 .5 4.3 .5 5.6 .4 6.2 .5 6 .5 5.6 .4 4.3 .5 3.9 .5 3.7 .4 3.6 .5 3.8 .5 3.3 .4 3.1 .5 3.1 .5 3 .4 3.4 .5 3.6 .5 2.9 .4 .8 .5 0 .5 .4 .4-1.9 .5-5.9 .5-8.3 .4-7.9 .5-6.7 .5-4.9 .4-3.4 .5-1.8 .5-.7 .4 .4 .5 2.2 .4 3.3 .5 3.4 .5 3.7 .4 4 .5 4 .5 2.4 .4 1.5 .5 .7 .5-1 .4-2.4 .5-3.1 .5-2.8 .4-2.2 .5-1.4 .5 .1 .4 1.7 .5 1.9 .5 1.1 .4-.1 .5-1.6 .5-3.4 .4-4.2 .5-4.3 .5-3.2 .4-2.6 .5-1.5 .5-.2 .4 1.4 .5 2.5 .5 3.9 .4 3.9 .5 3.8 .5 3.4 .4 3.4 .5 3.1 .5 1.5 .4-.7 .5-1.4 .5-1.2 .4-2.1 .5-2.9 .5-2.6 .4-2 .5-1.3 .5-1.1 .4-.7 .5 .4 .4 1.9 .5 2.4 .5 2.8 .4 2.5 .5 2.4 .5 2.3 .4 .8 .5-1.5 .5-3.3 .4-4.3 .5-5.3 .5-6.3 .4-6.3 .5-4.2 .5-1.5 .4 .2 .5 2.1 .5 3.6 .4 4.6 .5 5.7 .5 6.5 .4 6.4 .5 6.5 .5 6.6 .4 5.7 .5 3.4 .5 1 .4 .3 .5 .4 .5-1 .4-3.2 .5-4.7 .5-4.8 .4-4.9 .5-4.8 .5-4.2 .4-4 .5-3.7 .5-3 .4-.8 .5 1.1 .5 2 .4 2.1 .5 1.9 .5 1.1 .4-.4 .5-2.2 .5-4.3 .4-5.4 .5-4.6 .4-4 .5-2.8 .5-.8 .4 .3 .5 1.5 .5 3 .4 3 .5 4 .5 4.6 .4 3.5 .5 2.2 .5 1.6 .4 1.3 .5 .6 .5 .6 .4 1.2 .5 1.3 .5 .2 .4-.4 .5-.1 .5-.6 .4-1.3 .5-1.2 .5-.7 .4-.9 .5-1.2 .5-1 .4 .6 .5 2.5 .5 3.4 .4 4.3 .5 5.3 .5 4.8 .4 3.2 .5 1 .5-.5 .4-.8 .5-1.7 .5-2.9 .4-2.9 .5-3.4 .5-3.9 .4-3.7 .5-3.7 .5-3.8 .4-3.1 .5-2.7 .5-3 .4-2.8 .5-1.8 .4-.7 .5-.4 .5-.7 .4-.3 .5 1.2 .5 3.3 .4 4.6 .5 4 .5 2.1 .4-.2 .5-2.1 .5-3 .4-4 .5-4.4 .5-3.8 .4-2.5 .5-1.3 .5-.6 .4 .6 .5 2.3 .5 3.7 .4 4.5 .5 5.6 .5 5.9 .4 5.6 .5 5.6 .5 6 .4 5.3 .5 4.2 .5 4.3 .4 3 .5 1.5 .5 .3 .4-.7 .5-1.8 .5-3.2 .4-3.5 .5-3.5 .5-3.7 .4-4.7 .5-5.1 .5-3.9 .4-3.7 .5-3.9 .5-3 .4-3 .5-2.8 .4-1.1 .5 .6 .5 2.2 .4 3.2 .5 2.5 .5 1.1 .4-.4 .5-2.4 .5-3.7 .4-3.4 .5-1.2 .5 .6 .4 1.5 .5 2.4 .5 2.7 .4 2.5 .5 2.9 .5 2.6 .4 1.8 .5 1.4 .5 1.3 .4 1.3 .5 1.4 .5 1.2 .4 .8 .5 1 .5 1.3 .4 .5 .5-.9 .5-1 .4-.2 .5-.1 .5-.8 .4-1.7 .5-1.4 .5-1 .4-.9 .5-.4 .5 .7 .4 1.4 .5 1.6 .5 2.1 .4 3.1 .5 3.2 .5 2.4 .4 1.8 .5 1.1 .5-.4 .4-1.5 .5-2.6 .4-3.8 .5-4.4 .5-4.8 .4-4.4 .5-4.2 .5-3.9 .4-3.7 .5-2.7 .5-.7 .4 2.9 .5 7.1 .5 9.6 .4 8.8 .5 6 .5 2.4 .4-1.2 .5-3.4 .5-4.2 .4-3.7 .5-2.4 .5 0 .4 2.8 .5 4.2 .5 5.2 .4 5.6 .5 2.3 .5-2.1 .4-5.3 .5-7.4 .5-8.6 .4-8.8 .5-8.2 .5-6.2 .4-3.3 .5-.7 .5 .4 .4-.5 .5-1 .5-.9 .4-2.4 .5-4.3 .5-4.3 .4-3.8 .5-4.5 .5-3 .4 .3 .5 2.1 .5 4.8 .4 7.3 .5 8.3 .4 9.5 .5 9.1 .5 8.5 .4 7.1 .5 4.8 .5 1.5 .4-1.3 .5-2.9 .5-2.1 .4-.5 .5-2.6 .5-4 .4-2.3 .5-2.3 .5-4 .4-3.3 .5-1.4 .5-.2 .4 .3 .5 .5 .5 1 .4 2.3 .5 3.6 .5 3.7 .4 4.3 .5 4.9 .5 5 .4 4.7 .5 4.3 .5 4.1 .4 4.8 .5 3.5 .5 1.9 .4 2.3 .5 2.2 .5-1 .4-2 .5-.6 .5 .2 .4-1.1 .5-3.7 .5-3.6 .4-2.6 .5-3.1 .5-3.3 .4-3.1 .5-2.5 .4-2.2 .5-2.4 .5-3 .4-3.3 .5-2.8 .5-1.3 .4 .2 .5 .9 .5 1.9 .4 2.7 .5 3.5 .5 2.2 .4-.2 .5-1.8 .5-3 .4-4.4 .5-4.4 .5-4.3 .4-3 .5-.3 .5 1.6 .4 2.9 .5 3.3 .5 2.7 .4 1.7 .5-.1 .5-1.4 .4-2.9 .5-3.5 .5-3.1 .4-1.9 .5-.8 .5 .8 .4 2.7 .5 3.8 .5 4.3 .4 4.3 .5 2.9 .5 .2 .4-1.2 .5-2.5 .5-3.7 .4-3.6 .5-2.4 .5-1.1 .4 .1 .5 1.1 .5 1.8 .4 2.3 .5 3 .4 2.9 .5 2.3 .5 1.4 .4 .5 .5 0 .5 .5 .4 1.1 .5 1.2 .5 1.2 .4 1.7 .5 1.7 .5 1.2 .4 .9 .5 0 .5-1.7 .4-3 .5-3.4 .5-3.2 .4-2.5 .5-1.4 .5-.1 .4 1.2 .5 1.8 .5 1.8 .4 1.9 .5 1.5 .5 .7 .4 .2 .5 0 .5-.8 .4-1.3 .5-1.2 .5-.5 .4 .2 .5 .7 .5 .8 .4 .6 .5-.4 .5-1.3 .4-1.4 .5-1.7 .5-2.1 .4-2 .5-1.3 .5-.3 .4 0 .5 .2 .5 .5 .4 .6 .5 .2 .4-.4 .5-.5 .5-.6 .4-1 .5-1 .5-.8 .4-.2 .5 .7 .5 1.2 .4 1.5 .5 1 .5 .4 .4 .2 .5-.2 .5-1 .4-1 .5-.6 .5-.5 .4-.2 .5 .3 .5 .8 .4 1.4 .5 1.1 .5 1.3 .4 .8 .5 .2 .5-.4 .4-.3 .5 .5 .5 1 .4-.3 .5-1.1 .5 .7 .4 2.1 .5 1.4 .5 1.2 .4 1.4 .5 .7 .5-.5 .4-.6 .5-.2 .5-.1 .4 .1 .5 .2 .5 1.3 .4 2 .5 .7 .4 0 .5 .4 .5 1.2 .4 .9 .5-1.3 .5-2.8 .4-2 .5-.9 .5-.7 .4-.4 .5-.1 .5 1.1 .4 1.8 .5 .8 .5-.1 .4-.2 .5-1 .5-2.1 .4-2.5 .5-2.2 .5-1.8 .4-1.3 .5-.7 .5-.2 .4 .1 .5 .2 .5-.1 .4-.3 .5-.3 .5-.1 .4-.2 .5 0 .5 0 .4 0 .5 .2 .5 .8 .4 1 .5 .9 .5 .5 .4 .3 .5 .7 .5 .9 .4 .6 .5 .6 .5 .4 .4 0 .5-.2 .5-.1 .4-.5 .5-1 .4-.8 .5-1.3 .5-2.2 .4-2.5 .5-1.9 .5-1.8 .4-1.2 .5-1.1 .5-2.2 .4-1.7 .5-.5 .5-.5 .4-.5 .5 .6 .5 1.6 .4 2.9 .5 4 .5 4.2 .4 3.9 .5 3.9 .5 4.8 .4 5 .5 3.8 .5 2.8 .4 1.4 .5 .5 .5 .4 .4-.2 .5-1.1 .5-1.8 .4-1.9 .5-1.6 .5-1.3 .4-1.5 .5-2.2 .5-3.2 .4-3.1 .5-2.4 .5-2.7 .4-2.8 .5-2.7 .5-2.2 .4-2 .5-1.8 .5-.8 .4-.2 .5-.7 .5-.8 .4-.4 .5 .5 .4 1.2 .5 1.3 .5 .8 .4 .6 .5 .4 .5-.4 .4-.8 .5-.8 .5-1.2 .4-1.5 .5-1.2 .5-.6 .4 .2 .5 .6 .5 .9 .4 .9 .5 .6 .5 1.3 .4 1.9 .5 1.7 .5 1.9 .4 2.6 .5 2.8 .5 1.6 .4 .9 .5 .8 .5 1.2 .4 .9 .5 0 .5-.6 .4-.4 .5 .1 .5 .3 .4-.5 .5-.8 .5-.5 .4-.5 .5-.9 .5-1 .4-.7 .5-.9 .5-.7 .4-.3 .5-.1 .5 .1 .4 .1 .5-.1 .4-.5 .5-.6 .5-.5 .4-.2 .5 .3 .5 .2 .4-.4 .5-.2 .5 .2 .4 .4 .5 .3 .5 .4 .4 1.4 .5 1.6 .5 1.4 .4 1.1 .5 1 .5 1.5 .4 2 .5 1.7 .5 .6 .4 0 .5 .6 .5 1.9 .4 1.9 .5 .6 .5-.2 .4-.3 .5 .2 .5 .8 .4 .5 .5 0 .5-.6 .4 0 .5 .5 .5-.9 .4-1.6 .5-.8 .5-1.1 .4-1.7 .5-1.7 .5-1.7 .4-2.2 .5-1.8 .5-1.3 .4-1.5 .5-1.3 .5-1.1 .4-1.3 .5-1.3 .4-1.5 .5-1.9 .5-.9 .4-.4 .5-.1 .5 .2 .4-.7 .5-.3 .5 .6 .4 .8 .5 .4 .5 1 .4 1.4 .5 .8 .5 .4 .4 1 .5 1 .5 .6 .4 .5 .5 .7 .5 1.2 .4 1 .5 .5 .5 .2 .4 .2 .5 0 .5-.3 .4-.3 .5 .4 .5 1 .4 .4 .5-.3 .5-.1 .4 .1 .5 .2 .5-.1 .4-.5 .5 .3 .5 .6 .4 .3 .5 .8 .5 .9 .4 .2 .5 .1 .5 .4 .4 .4 .5 .5 .5 .8 .4 1.1 .5 1.1 .4 .7 .5 .2 .5 .1 .4 .2 .5 .3 .5-1.1 .4-2.5 .5-1.7 .5-.7 .4-1.1 .5-1.2 .5-1 .4-1.2 .5-1.8 .5-1.5 .4-1.1 .5-1.4 .5-1.5 .4-.9 .5-.1 .5-.1 .4-.1 .5 .4 .5 .7 .4 .7 .5 1 .5 1.5 .4 1.2 .5 1.4 .5 1.8 .4 1.5 .5 1.7 .5 1.6 .4 1.6 .5 1.7 .5 1 .4 .6 .5 .4 .5-.6 .4-.7 .5-.8 .5-1.5 .4-1.4 .5-1.3 .5-1.4 .4-1.3 .5-.7 .4-.2 .5 .3 .5 .5 .4 .7 .5 .6 .5 .7 .4 .9 .5 1.2 .5 1 .4 .5 .5-.1 .5-.4 .4-.1 .5 .1 .5 .3 .4-.3 .5-.6 .5-.2 .4-.3 .5-.5 .5-.6 .4-.9 .5-1.2 .5-.5 .4-.6 .5-1.1 .5-1.7 .4-1.7 .5-1.7 .5-1.6 .4-1.5 .5-1.4 .5-1.3 .4-1.1 .5-1.2 .5-.9 .4 .2 .5 1.4 .5 1 .4 .4 .5 .1 .5 .4 .4 .4 .5 .9 .5 .7 .4 .1 .5-.2 .5-1.1 .4-1.3 .5-.4 .4 .1 .5-.2 .5-.1 .4 .4 .5 .3 .5 .8 .4 1.6 .5 1.8 .5 1.2 .4 1.6 .5 2 .5 2.2 .4 2.2 .5 1.7 .5 1 .4 1.1 .5 2.1 .5 2.2 .4 1.1 .5 .8 .5 .3 .4-.5 .5 0 .5 .8 .4 .2 .5-1.1 .5-1 .4-.6 .5-.7 .5-.9 .4-1 .5-.7 .5-.6 .4-.4 .5-.1 .5-.4 .4-.5 .5-.5 .5-.6 .4-.4 .5-.4 .5-.7 .4-.6 .5-.6 .5-.4 .4-.2 .5 0 .4 .1 .5-.3 .5-.4 .4-.1 .5 .1 .5-.4 .4-.4 .5-.2 .5-.4 .4 .1 .5 .7 .5 .6 .4 .1 .5 .2 .5 .4 .4 .3 .5 .1 .5 .3 .4 .5 .5 0 .5-.5 .4-.5 .5-.6 .5-.5 .4-.5 .5-.6 .5-.6 .4-.1 .5 .3 .5 .1 .4-.3 .5-.4 .5-.5 .4-.5 .5-.1 .5 .2 .4 0 .5-.1 .5 .1 .4 .4 .5 .7 .5 .5 .4 .1 .5 0 .5 .2 .4 .1 .5 0 .5 .4 .4 .8 .5 .7 .4 .3 .5-.2 .5 0 .4 .5 .5 .3 .5 0 .4 .1 .5 .2 .5-.1 .4-.3 .5 .2 .5 .3 .4 0 .5-.2 .5 0 .4 .3 .5 .3 .5 .2 .4 .1 .5 .1 .5-.3 .4-.4 .5 .1 .5 .5 .4 .1 .5-.2 .5-.2 .4-.3 .5-.3 .5 0 .4 .2 .5 .4 .5-.1 .4-.1 .5 .6 .5 .5 .4 .3 .5-.3 .5-.5 .4-.2 .5 .4 .5 .5 .4-.1 .5-.2 .5 .1 .4 .3 .5 .1 .5-.2" stroke="#ccc000"/>
<path d="M45.2 670.3l.5 .2 .4 .1 .5 0 .5 .2 .4 .1 .5-.2 .5-.3 .4 .3 .5-.3 .5-.5 .4 .5 .5 .9 .5 .5 .4 .1 .5 .8 .5 .9 .4 .6 .5 0 .5 .1 .4 .4 .5-.4 .5-.5 .4-.2 .5-.1 .4-.9 .5-1.2 .5-.6 .4-.4 .5-.8 .5-.9 .4-1.3 .5-.9 .5 .1 .4 .9 .5 0 .5-1.6 .4-3.6 .5-5.9 .5-7.7 .4-7.4 .5-6.3 .5-3.8 .4 .3 .5 5.4 .5 10.2 .4 14 .5 15.3 .5 16.2 .4 15.6 .5 7.4 .5-3.1 .4-9.8 .5-16.1 .5-21.2 .4-21.9 .5-19.3 .5-16.5 .4-10.7 .5-5.1 .5-1.6 .4-.1 .5-.5 .5 2.7 .4 7.2 .5 12 .5 15.1 .4 16.9 .5 17.4 .5 17.2 .4 17.3 .5 16.2 .5 16.9 .4 15.4 .5 7 .4 5.3 .5 7 .5 .8 .4-5.9 .5-7.4 .5-8.8 .4-10.5 .5-12.9 .5-13.1 .4-12 .5-10 .5-6.5 .4-2.3 .5 .7 .5 4.1 .4 7.8 .5 11.1 .5 11.1 .4 9.9 .5 7.3 .5 2.7 .4-.9 .5-4.3 .5-7.7 .4-10.7 .5-12.8 .5-15.2 .4-16.6 .5-17.1 .5-17.3 .4-16.6 .5-15.8 .5-18.6 .4-15.7 .5-10.4 .5-10.8 .4-7.4 .5-1.3 .5 .6 .4 7 .5 16 .5 19.4 .4 18.5 .5 15.4 .5 7.1 .4 1.3 .5-2.5 .5-4.1 .4-4.9 .5-3.5 .4 .8 .5 5.8 .5 10 .4 14.2 .5 19.6 .5 23.6 .4 25.3 .5 25.9 .5 24.5 .4 22.1 .5 20.3 .5 15.4 .4 7.5 .5 1.2 .5-4.7 .4-13.5 .5-20.6 .5-22.8 .4-21.3 .5-19.6 .5-18.1 .4-11.8 .5-4.6 .5-4.4 .4-3.6 .5-1.5 .5-2.6 .4-3.2 .5-1 .5-1 .4-1.8 .5-1.5 .5-1.2 .4 .3 .5 .6 .5-.8 .4-.6 .5 .3 .5 1.8 .4 2 .5 1.8 .5 3.2 .4 3.9 .5 3.7 .5 2.9 .4 1.4 .5-.6 .4-2.2 .5-3.6 .5-3.8 .4-2.5 .5-1.7 .5-.1 .4 1.4 .5 1.8 .5 1.9 .4 1.5 .5 1.6 .5 1.9 .4 .7 .5 0 .5-.6 .4-2.4 .5-3.7 .5-3.9 .4-4.5 .5-5 .5-5.8 .4-6.2 .5-5.2 .5-4.2 .4-4.9 .5-3.4 .5-.8 .4 .7 .5 2.7 .5 4.4 .4 6.4 .5 7.7 .5 8.2 .4 8.5 .5 8.3 .5 6.6 .4 3.5 .5 .4 .5-1.6 .4-2.6 .5-5.8 .5-4 .4 1.3 .5 5.3 .5 7.7 .4 10.8 .5 12.4 .5 13.2 .4 13.7 .5 10.4 .4 5.8 .5 3.3 .5-.8 .4-4.5 .5-6.2 .5-7.1 .4-6.5 .5-5.4 .5-6.8 .4-8.5 .5-6.8 .5-4.6 .4-3.3 .5-2.2 .5-.1 .4 1.8 .5 1.3 .5 .1 .4-1.6 .5-3.3 .5-3.5 .4-3.9 .5-4.7 .5-5.9 .4-4.3 .5-2.8 .5-4.7 .4-5.3 .5-5.3 .5-5 .4-2.9 .5 .3 .5-1.4 .4-2.1 .5 .1 .5-.2 .4 .3 .5 1 .5-.2 .4-.4 .5 1.9 .5 1.6 .4 .8 .5 3 .5 3.1 .4 3 .5 4.2 .5 4.9 .4 5.2 .5 3.9 .4 3.5 .5 3.6 .5 1.7 .4-2.3 .5-1.2 .5-1.2 .4-2.5 .5-2.7 .5-1 .4 1.3 .5 3.1 .5 5.5 .4 7.9 .5 9.2 .5 7.8 .4 7.1 .5 9.8 .5 9.9 .4 4.7 .5 .1 .5 0 .4-3.3 .5-10.4 .5-16.9 .4-22 .5-22.7 .5-22.7 .4-16.3 .5-8.1 .5 0 .4 5.1 .5 11 .5 14.9 .4 15.1 .5 14.9 .5 14 .4 12.7 .5 11.5 .5 7.8 .4 3.6 .5 1.2 .5-.4 .4-2.3 .5-3.3 .5-2.7 .4-3.2 .5-4 .4-5.3 .5-5.1 .5-4 .4-4.4 .5-6.1 .5-6.9 .4-7.6 .5-9.3 .5-9.3 .4-8.4 .5-8.7 .5-7.8 .4-5.6 .5-1.7 .5 .5 .4 .2 .5 2.4 .5 2.3 .4 2 .5 5.8 .5 8.1 .4 7.4 .5 4.7 .5 5 .4 5.8 .5 5.2 .5 4.5 .4 3.6 .5 3.7 .5 3.7 .4 3 .5 2 .5 2.2 .4 3.8 .5 3.5 .5 2.3 .4 1.9 .5 0 .5-2.2 .4-4.2 .5-5.6 .5-6.7 .4-7.5 .5-8.7 .5-7.4 .4-4.7 .5-2.5 .5 .1 .4 2.1 .5 3.9 .4 4.2 .5 4.6 .5 5 .4 4.1 .5 3.9 .5 2.7 .4 .6 .5-1.2 .5-1.6 .4-2 .5-2.2 .5-2 .4-1.7 .5-.3 .5 .5 .4 1.5 .5 1.7 .5 .5 .4-1 .5-2 .5-3.5 .4-4.1 .5-4.3 .5-3.6 .4-2.6 .5-.9 .5 .8 .4 2.5 .5 3.3 .5 3.9 .4 3.5 .5 3.5 .5 3.8 .4 2.6 .5 1.3 .5 .7 .4-.8 .5-1.7 .5-1.5 .4-1.2 .5-2.9 .5-2.6 .4-1.1 .5-1.3 .5-1.1 .4 .1 .5 .8 .4 .9 .5 1.3 .5 2.5 .4 3.1 .5 3.1 .5 1.7 .4-.5 .5-1.2 .5-2.2 .4-4.8 .5-6.4 .5-5.9 .4-6.5 .5-5.2 .5-2.5 .4 .8 .5 3.6 .5 5.8 .4 6 .5 5.6 .5 6.1 .4 7.6 .5 6.1 .5 4.8 .4 4.7 .5 3.3 .5 1.6 .4 0 .5-1.9 .5-3.1 .4-3.1 .5-2.5 .5-3.3 .4-4 .5-4.3 .5-4.4 .4-4.7 .5-4.3 .5-2.4 .4-.2 .5 1.1 .5 2.1 .4 2.6 .5 2.6 .5 1.5 .4-.4 .5-2.9 .5-5 .4-5.3 .5-4.5 .4-4.5 .5-3 .5-.9 .4 1.7 .5 4 .5 3.7 .4 3.3 .5 3.9 .5 3.7 .4 3.5 .5 2.7 .5 1.3 .4 1.5 .5 2.2 .5 1.3 .4 .6 .5 .8 .5 .5 .4 .1 .5-.5 .5-.6 .4-1.2 .5-1.6 .5-1.3 .4-1.7 .5-1.2 .5-.1 .4 1.3 .5 2.4 .5 4.5 .4 5.5 .5 5.1 .5 4.2 .4 3.4 .5 1.5 .5-.4 .4-1.4 .5-2.4 .5-3.6 .4-4.5 .5-4.9 .5-4.7 .4-4.2 .5-4.4 .5-4 .4-3.2 .5-2 .5-1.3 .4-1.5 .5-2.8 .4-2.7 .5-.9 .5 .9 .4 1.3 .5 2.3 .5 3.4 .4 3.8 .5 3.2 .5 1.6 .4 0 .5-2.3 .5-3.9 .4-4.3 .5-4.5 .5-4.1 .4-3.4 .5-1.4 .5 .5 .4 1.5 .5 2.4 .5 4 .4 5.4 .5 6.4 .5 6.2 .4 6.7 .5 6.8 .5 5.6 .4 6 .5 5.6 .5 4.2 .4 2.4 .5 .5 .5-1.3 .4-2.9 .5-1.3 .5-1 .4-4.1 .5-4.8 .5-4 .4-3.9 .5-4.1 .5-4.1 .4-4.3 .5-4.4 .5-4 .4-2.9 .5-2.1 .4-.7 .5 .6 .5 2.6 .4 3.4 .5 2.4 .5 .6 .4-1 .5-2.6 .5-3.6 .4-2.2 .5-.6 .5-.1 .4 2 .5 2.5 .5 2.2 .4 3 .5 3.2 .5 2.8 .4 2.8 .5 2.4 .5 1.7 .4 1.7 .5 2.2 .5 1.9 .4 .9 .5 .7 .5 1 .4 .6 .5 .5 .5-.4 .4-1.1 .5-1.9 .5-2.7 .4-2.2 .5-1.8 .5-1.7 .4-1.1 .5-.6 .5 .6 .4 1.9 .5 2.9 .5 3.4 .4 3.5 .5 2.8 .5 2.4 .4 .9 .5 .4 .5-.5 .4-2.3 .5-3.1 .4-4.2 .5-5.2 .5-5.3 .4-4.6 .5-3.9 .5-4.2 .4-3 .5-2 .5-.6 .4 2.8 .5 7.7 .5 10.4 .4 9.4 .5 5.7 .5 .9 .4-2.5 .5-4.1 .5-4.7 .4-4.2 .5-1.8 .5 .9 .4 3.3 .5 5.7 .5 6.7 .4 4 .5-.1 .5-3.7 .4-6.4 .5-8.7 .5-9.6 .4-11.7 .5-12 .5-6.8 .4-2.6 .5 .2 .5 2.1 .4 .9 .5 .1 .5-.9 .4-4.5 .5-6.8 .5-4.9 .4-4 .5-5.4 .5-2.5 .4 3.7 .5 5.4 .5 6.1 .4 9 .5 12.4 .4 12.1 .5 10.8 .5 8.1 .4 5.7 .5 4.6 .5 1.8 .4-2.3 .5-5.4 .5-4.9 .4-2 .5 .8 .5-1.4 .4-2.1 .5-3.1 .5-3.1 .4-2.2 .5-2.4 .5-2.8 .4-.4 .5 1.4 .5 2 .4 2.1 .5 2.4 .5 4.3 .4 4.8 .5 3.7 .5 4.4 .4 5.8 .5 6.5 .5 5.2 .4 3.5 .5 1.8 .5 2 .4 2.8 .5 3.1 .5 1.4 .4 .6 .5-.2 .5-2.9 .4-2.9 .5-2.8 .5-3.3 .4-4.4 .5-4.1 .5-2.5 .4-2.4 .5-3.5 .4-3.2 .5-2.8 .5-2.2 .4-2.1 .5-2 .5-.6 .4 .4 .5 1.3 .5 2.7 .4 3.2 .5 2.2 .5 .6 .4-.6 .5-2.3 .5-3.4 .4-4.5 .5-3.8 .5-2.1 .4-1.4 .5-.8 .5 1.5 .4 2.4 .5 2.7 .5 2.9 .4 2.1 .5 .1 .5-1.8 .4-3.9 .5-4 .5-3 .4-1.6 .5-.5 .5 1.4 .4 2.3 .5 3.6 .5 4.4 .4 3.8 .5 2 .5 .1 .4-2.3 .5-3.6 .5-4 .4-4 .5-2.2 .5-.6 .4-1 .5 .7 .5 2.7 .4 3.4 .5 2.9 .4 2.3 .5 2 .5 1.3 .4 .4 .5 .5 .5 1 .4 1.1 .5 1.4 .5 1.8 .4 2.1 .5 1.9 .5 .5 .4 .2 .5-.3 .5-1.4 .4-3 .5-3.7 .5-3.5 .4-2.4 .5-.7 .5 .3 .4 1.3 .5 2.3 .5 2.4 .4 1.8 .5 1.5 .5 .8 .4 .3 .5-.4 .5-.9 .4-.7 .5-.8 .5-.5 .4 .5 .5 .4 .5-.3 .4-.5 .5-.4 .5-.6 .4-1.7 .5-1.9 .5-1.9 .4-1.8 .5-.9 .5-.7 .4-.6 .5 0 .5 .7 .4 .8 .5 .6 .4-.6 .5-1.2 .5-1.2 .4-1 .5-.8 .5-.6 .4-.1 .5 .6 .5 .6 .4 .6 .5 .9 .5 .7 .4 .7 .5 .1 .5-.6 .4-.8 .5-1 .5-.9 .4-.1 .5 .7 .5 .8 .4 .6 .5 1.4 .5 1.4 .4 .8 .5 1.2 .5 1 .4-.4 .5-1 .5-.6 .4-.6 .5 1 .5 1.8 .4 .8 .5 1 .5 2.1 .4 1.4 .5-.3 .5-.2 .4-.4 .5-1.4 .5-1.3 .4-.8 .5-.2 .5 1.1 .4 1.9 .5 1 .4 .8 .5 1.4 .5 .4 .4-.7 .5-1 .5-1.6 .4-2.1 .5-1.4 .5-.2 .4 1 .5 1.4 .5 1.4 .4 1.7 .5 1.3 .5 .2 .4 .1 .5-.3 .5-2.2 .4-2.9 .5-2.5 .5-1.2 .4-.8 .5-.5 .5 .4 .4 1.5 .5 1.3 .5 .6 .4 .4 .5-.3 .5-.7 .4-.8 .5-.6 .5-.1 .4 0 .5-.2 .5 .3 .4 .8 .5 .5 .5 .8 .4 .7 .5 .7 .5 .2 .4-.3 .5-.1 .5-.1 .4 .1 .5-.3 .5-.8 .4-.6 .5-1.2 .4-1.9 .5-1.8 .5-1.9 .4-2.1 .5-2.2 .5-2.7 .4-2.1 .5-2 .5-1.8 .4-1.3 .5-1.8 .5-1.1 .4-.2 .5 1.1 .5 2.7 .4 3.3 .5 4 .5 5.3 .4 5.3 .5 4.9 .5 3.8 .4 3.2 .5 3.3 .5 2.5 .4 2 .5 2.2 .5 1.3 .4-1.2 .5-2.2 .5-1.4 .4-2.1 .5-1.8 .5-1.4 .4-2.3 .5-3.3 .5-2.8 .4-2.6 .5-2.2 .5-2.3 .4-2.9 .5-2.9 .5-2.7 .4-2.4 .5-1.5 .5-.6 .4-.5 .5-.8 .5-.9 .4 .3 .5 .9 .4 1.2 .5 1.5 .5 1.7 .4 1.7 .5 1 .5 .1 .4-.5 .5-.8 .5-.9 .4-1.3 .5-1.3 .5-.3 .4 .4 .5 .8 .5 .2 .4-.2 .5 1.2 .5 2.2 .4 2.3 .5 2 .5 1.9 .4 1.8 .5 2.8 .5 2.6 .4 1.5 .5 1.1 .5 1 .4 .7 .5 .1 .5-1.2 .4-1.8 .5-.2 .5-.3 .4-1.8 .5-1.5 .5-.8 .4-.9 .5-.8 .5-.2 .4-.5 .5-.8 .5-.7 .4-.1 .5-.1 .5-.1 .4-.4 .5 .1 .4 .3 .5 0 .5-.2 .4-.3 .5 0 .5 0 .4-.5 .5 .5 .5 .9 .4 .3 .5 .6 .5 1.9 .4 2.1 .5 1.4 .5 1.6 .4 1.8 .5 1.4 .5 1.6 .4 1.4 .5 1.4 .5 1.8 .4 .9 .5 .8 .5 .7 .4 1.4 .5 .5 .5-1.6 .4 .5 .5 2.4 .5 .7 .4 0 .5-1.3 .5-1.3 .4-1.1 .5-1.1 .5-.9 .4-1.4 .5-2.2 .5-2.1 .4-1.7 .5-1.9 .5-1.7 .4-2.2 .5-1.7 .5-1.3 .4-1.6 .5-1.6 .5-2.2 .4-2.6 .5-1 .4-.1 .5-.5 .5-1.2 .4-.9 .5-.7 .5-1.3 .4-1.3 .5 .4 .5 1.1 .4 1.1 .5 1.2 .5 .6 .4 1.1 .5 1.4 .5 1.3 .4 1.7 .5 .9 .5 .9 .4 1 .5 .6 .5 .1 .4-.1 .5-.1 .5 .1 .4 .6 .5 1.1 .5 .2 .4-.4 .5-.1 .5-.3 .4-.5 .5-.3 .5 .2 .4 .5 .5 .5 .5 .6 .4 .5 .5 .3 .5-.1 .4 .3 .5 .6 .5 .4 .4 .4 .5 .2 .5 1.1 .4 .9 .5 .1 .5 .3 .4 1.1 .5 1.3 .4 1.2 .5 .8 .5 .1 .4-.9 .5-.9 .5 .5 .4 .1 .5-1.3 .5-1.6 .4-1.5 .5-.9 .5-.9 .4-1.8 .5-1.7 .5-1.6 .4-1.7 .5-1.1 .5-.8 .4-1.2 .5-1.3 .5-.8 .4 .1 .5 .5 .5 .8 .4 1.3 .5 1.1 .5 1.3 .4 1.1 .5 1.1 .5 1.9 .4 2.5 .5 2.2 .5 1.1 .4 1.5 .5 1.8 .5 1.2 .4 1 .5 1 .5-.4 .4-1.3 .5-1.1 .5-1.4 .4-2.1 .5-2.1 .5-1.3 .4-.9 .5-.5 .4 .4 .5 .2 .5-.1 .4 .8 .5 1.2 .5 1 .4 .5 .5 1.5 .5 2 .4 1 .5 0 .5 .2 .4 .1 .5 .4 .5-.5 .4-1.1 .5-.4 .5-.5 .4-.6 .5-.8 .5-.5 .4-.7 .5-.9 .5-.8 .4-1.6 .5-1.9 .5-1.2 .4-1.3 .5-1.1 .5-1.4 .4-2.1 .5-2.3 .5-1.6 .4-.6 .5-.2 .5-.5 .4-.3 .5-.1 .5 .9 .4 1.5 .5 1.2 .5 1 .4 .3 .5 .3 .5 .7 .4-.2 .5-.5 .5-.4 .4-1.2 .5-.7 .4-.2 .5-.7 .5 .1 .4 .7 .5 .7 .5 .6 .4 1.1 .5 1.7 .5 1.2 .4 1.4 .5 2.4 .5 2.7 .4 2.2 .5 2.4 .5 2.2 .4 1.6 .5 1.7 .5 1 .4 1.1 .5 .8 .5-.3 .4-.9 .5-1.4 .5-1.1 .4-.2 .5 .6 .5 .3 .4-.9 .5-1 .5-.7 .4-.7 .5-.2 .5-.7 .4-1.1 .5-.6 .5-.2 .4-.2 .5-.4 .5-.4 .4-.4 .5-.4 .5-.5 .4-.6 .5-.2 .5-.2 .4-.8 .5-.6 .4-.5 .5-1.1 .5-1.4 .4-.6 .5-.4 .5 0 .4 .3 .5 0 .5-.5 .4 0 .5 .6 .5 .8 .4 1 .5 .6 .5 0 .4-.1 .5 .3 .5 .8 .4 0 .5-.2 .5 0 .4-.4 .5-.6 .5-.2 .4-.4 .5-.6 .5-1.1 .4-1.5 .5-.6 .5 .5 .4 .5 .5-.6 .5 0 .4 .2 .5 .1 .5 .1 .4 .1 .5-.3 .5 .1 .4 .6 .5 .4 .5 .3 .4 .1 .5 .2 .5 .4 .4 .2 .5 .1 .5 .1 .4 .2 .5 0 .4-.2 .5 .1 .5 0 .4 .2 .5 .5 .5 .4 .4-.1 .5 .5 .5 .2 .4-.3 .5-.3 .5 .1 .4 .3 .5-.2 .5 0 .4 .4 .5 .1 .5 0 .4-.2 .5-.2 .5 .1 .4 .4 .5 0 .5 0 .4 .4 .5 .6 .5 .1 .4-.1 .5-.2 .5-.1 .4 0 .5 0 .5 .6 .4 .4 .5 .3 .5 .2 .4-.1 .5 .2 .5 .6 .4 .4 .5 .1 .5-.2 .4 .2 .5 .3 .5 .2 .4 .4 .5-.3 .5-.4" stroke="#ff9500"/>
</g>
<path d="M45.2 483.3 H672.3 V858.8 H45.2 ZM45.2 858.8 v-6.3 M45.2 483.3 v6.3M103.4 858.8 v-6.3 M103.4 483.3 v6.3M161.7 858.8 v-6.3 M161.7 483.3 v6.3M219.9 858.8 v-6.3 M219.9 483.3 v6.3M278.2 858.8 v-6.3 M278.2 483.3 v6.3M336.4 858.8 v-6.3 M336.4 483.3 v6.3M394.7 858.8 v-6.3 M394.7 483.3 v6.3M452.9 858.8 v-6.3 M452.9 483.3 v6.3M511.2 858.8 v-6.3 M511.2 483.3 v6.3M569.4 858.8 v-6.3 M569.4 483.3 v6.3M627.7 858.8 v-6.3 M627.7 483.3 v6.3M45.2 821.2 h6.3 M672.3 821.2 h-6.3M45.2 783.7 h6.3 M672.3 783.7 h-6.3M45.2 746.1 h6.3 M672.3 746.1 h-6.3M45.2 708.6 h6.3 M672.3 708.6 h-6.3M45.2 671.0 h6.3 M672.3 671.0 h-6.3M45.2 633.5 h6.3 M672.3 633.5 h-6.3M45.2 596.0 h6.3 M672.3 596.0 h-6.3M45.2 558.4 h6.3 M672.3 558.4 h-6.3M45.2 520.9 h6.3 M672.3 520.9 h-6.3" fill="none" stroke="#2b2b2b" stroke-width="1.5" stroke-linecap="square"/>
<g font-size="15.2" fill="#2b2b2b"><text x="45.2" y="878.6" text-anchor="middle">0</text><text x="103.4" y="878.6" text-anchor="middle">5</text><text x="161.7" y="878.6" text-anchor="middle">10</text><text x="219.9" y="878.6" text-anchor="middle">15</text><text x="278.2" y="878.6" text-anchor="middle">20</text><text x="336.4" y="878.6" text-anchor="middle">25</text><text x="394.7" y="878.6" text-anchor="middle">30</text><text x="452.9" y="878.6" text-anchor="middle">35</text><text x="511.2" y="878.6" text-anchor="middle">40</text><text x="569.4" y="878.6" text-anchor="middle">45</text><text x="627.7" y="878.6" text-anchor="middle">50</text><text x="39.2" y="827.6" text-anchor="end">-4</text><text x="39.2" y="790.0" text-anchor="end">-3</text><text x="39.2" y="752.5" text-anchor="end">-2</text><text x="39.2" y="714.9" text-anchor="end">-1</text><text x="39.2" y="677.4" text-anchor="end">0</text><text x="39.2" y="639.8" text-anchor="end">1</text><text x="39.2" y="602.3" text-anchor="end">2</text><text x="39.2" y="564.7" text-anchor="end">3</text><text x="39.2" y="527.2" text-anchor="end">4</text></g>
<text x="0.6" y="478.9" font-size="19.2" font-weight="bold" fill="#111">(b)</text>
<g fill="#2b2b2b"><text x="45.6" y="481.2" font-size="18.5">&#215;</text><text x="57.6" y="480.3" font-size="15.8">10</text><text x="75.3" y="473.8" font-size="11.9">-3</text></g>
<text x="359" y="896.1" font-size="16.5" fill="#2b2b2b" text-anchor="middle">Time (s)</text>
<text transform="translate(18.6 671.5) rotate(-90)" font-size="16.5" fill="#2b2b2b" text-anchor="middle">Displacement (m)</text>
<rect x="392.7" y="502.5" width="256.8" height="102.8" fill="#fff"/>
<g id="ib-curves" fill="none" stroke-width="1.4" stroke-linejoin="round">
<path d="M392.7 521.9l2-.6 2-.7 2-.5 2-.6 2-.3 1.9-.3 2-.1 2 0 2 .2 2 .4 2 .5 2 .7 2 1 2 1.1 2 1.3 2 1.5 1.9 1.6 2 1.6 2 1.5 2 1.5 2 1.3 2 1.1 2 .9 2 .6 2 .5 2 .4 1.9 .5 2 .5 2 .7 2 1 2 1.4 2 1.7 2 2 2 2.3 2 2.5 2 2.5 2 2.3 1.9 2.2 2 1.9 2 1.4 2 1 2 .4 2 0 2-.4 2-.9 2-1 2-1.2 2-1.2 1.9-1.1 2-.9 2-.8 2-.5 2-.3 2-.3 2-.2 2-.1 2-.3 2-.3 2-.4 1.9-.5 2-.6 2-.6 2-.7 2-.8 2-.8 2-.8 2-.8 2-.7 2-.8 1.9-.7 2-.6 2-.6 2-.5 2-.5 2-.3 2-.3 2-.2 2-.1 2 .1 2 .2 1.9 .4 2 .5 2 .7 2 .7 2 .8 2 .9 2 .8 2 .8 2 .8 2 .7 2 .5 1.9 .4 2 .2 2 0 2-.2 2-.5 2-.7 2-.9 2-1 2-1.1 2-1.2 2-1.2 1.9-1.1 2-1.2 2-1 2-.9 2-.8 2-.6 2-.3 2-.1 2 .3 2 .4 1.9 .7 2 .7 2 .9 2 .9 2 1 2 .9 2 .7 2 .7 2 .5 2 .2 2 0 1.9-.3 2-.5 2-.6 2-.8 2-.8 2-.8" stroke="#000000"/>
<path d="M392.7 537l2-.6 2-.6 2-.5 2-.4 2-.3 1.9-.2 2 0 2 .2 2 .3 2 .4 2 .7 2 .8 2 1.1 2 1.2 2 1.4 2 1.5 1.9 1.6 2 1.6 2 1.6 2 1.4 2 1.3 2 1 2 .8 2 .5 2 .3 2 .2 1.9 .1 2 .2 2 .4 2 .6 2 .9 2 1.3 2 1.5 2 1.7 2 1.9 2 1.8 2 1.8 1.9 1.5 2 1.3 2 .8 2 .3 2 0 2-.6 2-1 2-1.3 2-1.5 2-1.6 2-1.5 1.9-1.5 2-1.3 2-1.2 2-.9 2-.8 2-.7 2-.6 2-.6 2-.7 2-.7 2-.9 1.9-1 2-1 2-1.2 2-1.2 2-1.2 2-1.3 2-1.3 2-1.3 2-1.2 2-1.2 1.9-1.2 2-1.1 2-1.1 2-.9 2-.9 2-.8 2-.7 2-.6 2-.4 2-.3 2-.1 1.9 .1 2 .3 2 .4 2 .6 2 .6 2 .7 2 .8 2 .7 2 .7 2 .6 2 .5 1.9 .3 2 .2 2 .1 2-.3 2-.4 2-.7 2-.8 2-.9 2-1 2-1.1 2-1.1 1.9-1 2-1 2-.9 2-.8 2-.6 2-.4 2-.2 2 .2 2 .3 2 .7 1.9 .8 2 1 2 1 2 1.1 2 1.1 2 1 2 .9 2 .7 2 .6 2 .3 2 0 1.9-.3 2-.5 2-.7 2-.8 2-.9 2-1" stroke="#ff0000"/>
<path d="M392.7 507.9l2-.7 2-.7 2-.6 2-.3 2-.1 1.9 .2 2 .5 2 .8 2 1.1 2 1.4 2 1.7 2 1.9 2 2.3 2 2.5 2 2.8 2 3 1.9 3.1 2 3.2 2 3.2 2 3.1 2 2.9 2 2.7 2 2.4 2 2.2 2 2.1 2 1.9 1.9 1.9 2 2 2 2.2 2 2.4 2 2.7 2 3.1 2 3.5 2 3.6 2 3.7 2 3.7 2 3.6 1.9 3.3 2 3 2 2.4 2 1.9 2 1.3 2 .8 2 .2 2-.2 2-.6 2-.7 2-.9 1.9-.9 2-.8 2-.7 2-.5 2-.5 2-.5 2-.4 2-.5 2-.7 2-.7 2-.9 1.9-1 2-1.2 2-1.3 2-1.3 2-1.4 2-1.4 2-1.4 2-1.5 2-1.4 2-1.3 1.9-1.3 2-1.2 2-1.1 2-1.1 2-.9 2-.8 2-.7 2-.6 2-.3 2-.2 2 0 1.9 .3 2 .5 2 .7 2 .7 2 .9 2 .9 2 .9 2 .9 2 .8 2 .6 2 .5 1.9 .3 2 .1 2-.3 2-.6 2-.9 2-1.2 2-1.5 2-1.6 2-1.8 2-1.9 2-1.9 1.9-1.8 2-1.8 2-1.7 2-1.5 2-1.3 2-1.1 2-.7 2-.3 2 .1 2 .3 1.9 .7 2 .8 2 1 2 1 2 1.1 2 1 2 .9 2 .7 2 .5 2 .2 2-.2 1.9-.5 2-.7 2-1 2-1.1 2-1.3 2-1.2" stroke="#ba55d3"/>
<path d="M392.7 529.5l2-.7 2-.7 2-.6 2-.5 2-.3 1.9-.1 2 .2 2 .3 2 .6 2 .7 2 1 2 1.2 2 1.4 2 1.7 2 1.8 2 2 1.9 2 2 2.1 2 2 2 1.9 2 1.7 2 1.4 2 1.1 2 .9 2 .7 2 .5 1.9 .5 2 .6 2 .7 2 1 2 1.4 2 1.7 2 1.9 2 2.3 2 2.3 2 2.4 2 2.2 1.9 2 2 1.6 2 1.3 2 .7 2 .2 2-.3 2-.8 2-1.2 2-1.5 2-1.6 2-1.6 1.9-1.6 2-1.5 2-1.3 2-1.2 2-1 2-1 2-.9 2-.9 2-1 2-1.1 2-1.2 1.9-1.3 2-1.4 2-1.5 2-1.5 2-1.5 2-1.6 2-1.5 2-1.5 2-1.4 2-1.4 1.9-1.3 2-1.2 2-1.2 2-1 2-.9 2-.8 2-.7 2-.6 2-.4 2-.2 2 0 1.9 .3 2 .4 2 .6 2 .7 2 .8 2 .8 2 .9 2 .9 2 .8 2 .7 2 .6 1.9 .5 2 .3 2 0 2-.2 2-.5 2-.7 2-.9 2-1.1 2-1.1 2-1.3 2-1.2 1.9-1.2 2-1.2 2-1.1 2-.9 2-.8 2-.6 2-.3 2 0 2 .3 2 .5 1.9 .8 2 .9 2 1 2 1.1 2 1.1 2 1 2 1 2 .8 2 .6 2 .4 2 .2 1.9-.2 2-.3 2-.5 2-.6 2-.7 2-.8" stroke="#00ff00"/>
<path d="M392.7 527.8l2-.6 2-.6 2-.5 2-.5 2-.3 1.9-.1 2 .1 2 .2 2 .4 2 .5 2 .8 2 .9 2 1.2 2 1.4 2 1.6 2 1.7 1.9 1.8 2 1.9 2 1.8 2 1.7 2 1.6 2 1.3 2 1.1 2 .9 2 .6 2 .6 1.9 .5 2 .6 2 .7 2 .9 2 1.1 2 1.5 2 1.8 2 1.9 2 2 2 2.1 2 2 1.9 1.7 2 1.5 2 1 2 .7 2 .2 2-.1 2-.6 2-.8 2-1 2-1.1 2-1 1.9-1 2-.9 2-.8 2-.6 2-.6 2-.5 2-.5 2-.6 2-.7 2-.8 2-1 1.9-1 2-1.2 2-1.2 2-1.3 2-1.3 2-1.4 2-1.3 2-1.3 2-1.2 2-1.1 1.9-1.1 2-1 2-.9 2-.8 2-.8 2-.6 2-.5 2-.5 2-.2 2-.1 2 .1 1.9 .2 2 .5 2 .5 2 .7 2 .8 2 .8 2 .8 2 .8 2 .7 2 .7 2 .5 1.9 .4 2 .2 2-.1 2-.2 2-.5 2-.8 2-.9 2-1 2-1.2 2-1.2 2-1.2 1.9-1.2 2-1.2 2-1.1 2-.9 2-.8 2-.5 2-.3 2-.1 2 .3 2 .5 1.9 .7 2 .8 2 1 2 1 2 1 2 1 2 .9 2 .8 2 .5 2 .4 2 .1 1.9-.2 2-.4 2-.6 2-.6 2-.8 2-.7" stroke="#00ffff"/>
<path d="M392.7 528.5l2-.7 2-.6 2-.5 2-.4 2-.3 1.9 0 2 .2 2 .4 2 .6 2 .8 2 1 2 1.3 2 1.5 2 1.7 2 1.9 2 2 1.9 2.2 2 2.2 2 2.1 2 2 2 1.9 2 1.6 2 1.3 2 1.1 2 .9 2 .7 1.9 .8 2 .8 2 1 2 1.2 2 1.6 2 1.9 2 2.2 2 2.4 2 2.5 2 2.5 2 2.4 1.9 2.2 2 1.8 2 1.4 2 .8 2 .3 2-.2 2-.6 2-1.1 2-1.4 2-1.6 2-1.6 1.9-1.5 2-1.5 2-1.4 2-1.2 2-1.1 2-1.1 2-1.1 2-1.1 2-1.2 2-1.3 2-1.4 1.9-1.5 2-1.6 2-1.7 2-1.7 2-1.7 2-1.8 2-1.7 2-1.6 2-1.6 2-1.5 1.9-1.4 2-1.3 2-1.2 2-1.2 2-1 2-.8 2-.8 2-.6 2-.4 2-.2 2-.1 1.9 .2 2 .4 2 .5 2 .7 2 .8 2 .8 2 .8 2 .8 2 .8 2 .7 2 .6 1.9 .4 2 .2 2-.1 2-.3 2-.6 2-.8 2-1 2-1.1 2-1.3 2-1.3 2-1.4 1.9-1.3 2-1.3 2-1.1 2-1.1 2-.8 2-.7 2-.3 2-.1 2 .2 2 .6 1.9 .7 2 .9 2 1 2 1.1 2 1.1 2 1.1 2 .9 2 .9 2 .6 2 .4 2 .2 1.9-.1 2-.4 2-.5 2-.6 2-.7 2-.7" stroke="#ff00ff"/>
<path d="M392.7 521.9l2-.2 2-.3 2-.2 2-.2 2-.1 1.9 0 2 .1 2 .2 2 .3 2 .4 2 .6 2 .7 2 1 2 1.1 2 1.3 2 1.4 1.9 1.6 2 1.5 2 1.6 2 1.4 2 1.3 2 1.1 2 .9 2 .7 2 .6 2 .5 1.9 .5 2 .7 2 .9 2 1.2 2 1.5 2 2 2 2.4 2 2.6 2 2.7 2 2.8 2 2.7 1.9 2.4 2 2.2 2 1.6 2 1.2 2 .6 2 .1 2-.4 2-.8 2-1.2 2-1.2 2-1.4 1.9-1.2 2-1.2 2-1 2-.8 2-.6 2-.5 2-.5 2-.5 2-.5 2-.7 2-.7 1.9-.8 2-.9 2-1 2-1 2-1.1 2-1 2-1.1 2-1.1 2-1 2-1 1.9-.9 2-.9 2-.8 2-.7 2-.7 2-.5 2-.5 2-.3 2-.3 2 0 2 .1 1.9 .2 2 .5 2 .5 2 .7 2 .7 2 .8 2 .8 2 .8 2 .7 2 .6 2 .6 1.9 .4 2 .2 2 0 2-.2 2-.5 2-.6 2-.8 2-1 2-1 2-1.1 2-1.2 1.9-1.1 2-1.1 2-.9 2-.9 2-.7 2-.6 2-.3 2-.1 2 .2 2 .5 1.9 .6 2 .7 2 .9 2 .8 2 .9 2 .9 2 .7 2 .7 2 .4 2 .3 2-.1 1.9-.2 2-.4 2-.6 2-.7 2-.8 2-.8" stroke="#ffff00"/>
<path d="M392.7 533.6l2-.7 2-.7 2-.5 2-.4 2-.1 1.9 .2 2 .4 2 .7 2 .9 2 1.2 2 1.5 2 1.7 2 2 2 2.2 2 2.4 2 2.6 1.9 2.6 2 2.7 2 2.6 2 2.4 2 2.2 2 2 2 1.6 2 1.3 2 1.1 2 1 1.9 .8 2 .9 2 1.1 2 1.3 2 1.5 2 1.9 2 2.2 2 2.4 2 2.5 2 2.4 2 2.4 1.9 2.1 2 1.7 2 1.4 2 .8 2 .3 2-.1 2-.7 2-1 2-1.4 2-1.5 2-1.7 1.9-1.7 2-1.8 2-1.8 2-1.8 2-1.9 2-2 2-2 2-2.2 2-2.4 2-2.5 2-2.6 1.9-2.7 2-2.8 2-2.9 2-2.7 2-2.7 2-2.6 2-2.4 2-2.3 2-2 2-1.9 1.9-1.7 2-1.5 2-1.3 2-1.1 2-.9 2-.8 2-.5 2-.4 2-.2 2 0 2 .3 1.9 .5 2 .7 2 .8 2 .9 2 1.1 2 1 2 1.1 2 .9 2 .9 2 .8 2 .6 1.9 .3 2 .1 2-.2 2-.6 2-1 2-1.2 2-1.5 2-1.6 2-1.8 2-1.9 2-1.8 1.9-1.9 2-1.7 2-1.6 2-1.4 2-1.2 2-.8 2-.5 2 0 2 .4 2 .8 1.9 1 2 1.3 2 1.5 2 1.5 2 1.6 2 1.5 2 1.4 2 1.1 2 .9 2 .6 2 .2 1.9-.2 2-.5 2-.8 2-.9 2-1.1 2-1" stroke="#0000ff"/>
<path d="M392.7 526.7l2-.7 2-.7 2-.6 2-.5 2-.2 1.9 0 2 .2 2 .4 2 .7 2 .9 2 1.1 2 1.4 2 1.6 2 1.9 2 2.1 2 2.3 1.9 2.4 2 2.4 2 2.4 2 2.3 2 2.2 2 1.9 2 1.6 2 1.4 2 1.2 2 1.1 1.9 1.1 2 1.1 2 1.3 2 1.5 2 1.7 2 2.1 2 2.4 2 2.5 2 2.6 2 2.6 2 2.5 1.9 2.1 2 1.9 2 1.3 2 .9 2 .3 2-.2 2-.8 2-1.1 2-1.4 2-1.6 2-1.6 1.9-1.7 2-1.6 2-1.6 2-1.4 2-1.4 2-1.4 2-1.4 2-1.5 2-1.6 2-1.6 2-1.9 1.9-1.9 2-2 2-2.1 2-2 2-2.1 2-2.1 2-2 2-1.9 2-1.8 2-1.7 1.9-1.5 2-1.5 2-1.3 2-1.2 2-1.1 2-.9 2-.7 2-.6 2-.4 2-.2 2 .1 1.9 .3 2 .5 2 .6 2 .8 2 .9 2 1 2 1 2 .9 2 .9 2 .8 2 .6 1.9 .5 2 .2 2 0 2-.4 2-.6 2-.9 2-1.1 2-1.3 2-1.4 2-1.5 2-1.5 1.9-1.4 2-1.4 2-1.3 2-1.2 2-.9 2-.6 2-.4 2 0 2 .3 2 .7 1.9 .9 2 1 2 1.3 2 1.2 2 1.3 2 1.3 2 1.1 2 .9 2 .8 2 .4 2 .1 1.9-.2 2-.4 2-.7 2-.8 2-.8 2-1" stroke="#33b07a"/>
<path d="M392.7 514.8l2-1 2-.9 2-.7 2-.6 2-.3 1.9 0 2 .3 2 .5 2 .8 2 1.1 2 1.3 2 1.6 2 1.7 2 2 2 2.2 2 2.2 1.9 2.3 2 2.3 2 2.1 2 2 2 1.6 2 1.2 2 .9 2 .5 2 .3 2 .2 1.9 .2 2 .2 2 .6 2 .8 2 1.4 2 1.9 2 2.3 2 2.7 2 2.9 2 2.9 2 2.9 1.9 2.7 2 2.3 2 1.9 2 1.3 2 .8 2 .1 2-.5 2-.9 2-1.3 2-1.5 2-1.5 1.9-1.4 2-1.3 2-1 2-.8 2-.5 2-.3 2-.1 2-.1 2-.2 2-.1 2-.3 1.9-.4 2-.4 2-.5 2-.7 2-.7 2-.8 2-.8 2-.9 2-1 2-.9 1.9-.9 2-.9 2-.9 2-.8 2-.8 2-.6 2-.6 2-.5 2-.3 2-.2 2 .1 1.9 .2 2 .4 2 .6 2 .7 2 .8 2 .9 2 .9 2 .9 2 .8 2 .8 2 .6 1.9 .5 2 .3 2 .1 2-.1 2-.5 2-.6 2-.8 2-.9 2-1.1 2-1.1 2-1.1 1.9-1.1 2-1.1 2-1.1 2-.8 2-.8 2-.5 2-.4 2 0 2 .2 2 .4 1.9 .6 2 .8 2 .8 2 .9 2 .9 2 .9 2 .7 2 .7 2 .4 2 .2 2-.1 1.9-.3 2-.5 2-.7 2-.8 2-.9 2-.9" stroke="#b22200"/>
<path d="M392.7 530.2l2-.6 2-.6 2-.6 2-.4 2-.3 1.9-.1 2 .1 2 .2 2 .3 2 .6 2 .7 2 .9 2 1.2 2 1.3 2 1.5 2 1.6 1.9 1.7 2 1.7 2 1.7 2 1.5 2 1.4 2 1.1 2 .8 2 .6 2 .3 2 .3 1.9 .3 2 .3 2 .5 2 .8 2 1.1 2 1.5 2 1.8 2 2 2 2.1 2 2.2 2 2.1 1.9 1.8 2 1.5 2 1.1 2 .5 2 .1 2-.4 2-.9 2-1.3 2-1.5 2-1.7 2-1.7 1.9-1.7 2-1.5 2-1.5 2-1.3 2-1.1 2-1.1 2-1 2-1.1 2-1.2 2-1.2 2-1.3 1.9-1.4 2-1.4 2-1.5 2-1.5 2-1.5 2-1.4 2-1.4 2-1.4 2-1.2 2-1.1 1.9-1 2-.9 2-.8 2-.7 2-.6 2-.5 2-.3 2-.2 2 0 2 .1 2 .3 1.9 .5 2 .7 2 .8 2 .9 2 1 2 1.1 2 1 2 1 2 1 2 .8 2 .8 1.9 .5 2 .4 2 .1 2-.1 2-.5 2-.6 2-.8 2-1 2-1.1 2-1.2 2-1.2 1.9-1.2 2-1.1 2-1.1 2-.9 2-.7 2-.6 2-.3 2 0 2 .3 2 .6 1.9 .8 2 .9 2 1 2 1 2 1.1 2 1 2 .9 2 .8 2 .5 2 .3 2 .1 1.9-.3 2-.4 2-.7 2-.8 2-.8 2-.9" stroke="#ccc000"/>
<path d="M392.7 532.2l2-.7 2-.6 2-.6 2-.5 2-.4 1.9-.1 2 0 2 .2 2 .4 2 .5 2 .8 2 .9 2 1.2 2 1.4 2 1.5 2 1.7 1.9 1.8 2 1.8 2 1.7 2 1.7 2 1.4 2 1.2 2 .9 2 .7 2 .5 2 .4 1.9 .4 2 .4 2 .6 2 .9 2 1.3 2 1.5 2 1.9 2 2.1 2 2.3 2 2.3 2 2.1 1.9 1.9 2 1.6 2 1.1 2 .7 2 .1 2-.3 2-.9 2-1.2 2-1.6 2-1.6 2-1.7 1.9-1.7 2-1.6 2-1.5 2-1.3 2-1.3 2-1.1 2-1.2 2-1.2 2-1.3 2-1.3 2-1.5 1.9-1.5 2-1.6 2-1.6 2-1.7 2-1.6 2-1.6 2-1.6 2-1.4 2-1.4 2-1.3 1.9-1.1 2-1 2-1 2-.8 2-.7 2-.5 2-.5 2-.2 2-.2 2 .1 2 .2 1.9 .5 2 .6 2 .8 2 .9 2 .9 2 1 2 1.1 2 1 2 .9 2 .8 2 .8 1.9 .5 2 .4 2 .1 2-.2 2-.4 2-.6 2-.9 2-.9 2-1.1 2-1.2 2-1.2 1.9-1.2 2-1.1 2-1.1 2-.9 2-.7 2-.6 2-.3 2 0 2 .3 2 .6 1.9 .7 2 .9 2 1.1 2 1 2 1.1 2 1 2 .9 2 .8 2 .5 2 .3 2 .1 1.9-.3 2-.5 2-.6 2-.8 2-.8 2-.9" stroke="#ff9500"/>
</g>
<path d="M392.7 502.5 H649.5 V605.3 H392.7 ZM435.7 605.3 v-2.6 M435.7 502.5 v2.6M489.5 605.3 v-2.6 M489.5 502.5 v2.6M543.3 605.3 v-2.6 M543.3 502.5 v2.6M597.1 605.3 v-2.6 M597.1 502.5 v2.6M650.9 605.3 v-2.6 M650.9 502.5 v2.6M392.7 605.3 h2.6 M649.5 605.3 h-2.6M392.7 571.0 h2.6 M649.5 571.0 h-2.6M392.7 536.8 h2.6 M649.5 536.8 h-2.6M392.7 502.5 h2.6 M649.5 502.5 h-2.6" fill="none" stroke="#2b2b2b" stroke-width="1.3" stroke-linecap="square"/>
<g font-size="12.0" fill="#2b2b2b"><text x="435.7" y="622.8" text-anchor="middle">27.5</text><text x="489.5" y="622.8" text-anchor="middle">28</text><text x="543.3" y="622.8" text-anchor="middle">28.5</text><text x="597.1" y="622.8" text-anchor="middle">29</text><text x="650.9" y="622.8" text-anchor="middle">29.5</text><text x="388.4" y="610.5" text-anchor="end">-2</text><text x="388.4" y="576.2" text-anchor="end">-1</text><text x="388.4" y="542.0" text-anchor="end">0</text><text x="388.4" y="507.7" text-anchor="end">1</text></g>
<g fill="#2b2b2b"><text x="392.8" y="500.3" font-size="14.2">&#215;</text><text x="401.9" y="499.6" font-size="12.1">10</text><text x="415.4" y="494.6" font-size="9.0">-3</text></g>
<text x="538.7" y="638.3" font-size="14.1" fill="#2b2b2b" text-anchor="middle">Time (s)</text>
<text transform="translate(374.2 554.3) rotate(-90)" font-size="14.5" fill="#2b2b2b" text-anchor="middle">Displacement (m)</text>
<rect x="443.4" y="732.4" width="206.5" height="102.1" fill="#fff" stroke="#2b2b2b" stroke-width="0.9"/>
<g font-size="14.4" fill="#000"><path d="M446.1 747.5H469.6" stroke="#000000" stroke-width="1.6"/><text x="471.9" y="752.7">CryStAl</text><path d="M526.0 747.5H549.5" stroke="#ff0000" stroke-width="1.15"/><text x="551.9" y="752.7">DSA</text><path d="M592.2 747.5H615.7" stroke="#ba55d3" stroke-width="1.15"/><text x="618.0" y="752.7">SSA</text><path d="M446.1 772.3H469.6" stroke="#00ff00" stroke-width="1.15"/><text x="471.9" y="777.5">HHO</text><path d="M526.0 772.3H549.5" stroke="#00ffff" stroke-width="1.15"/><text x="551.9" y="777.5">GWO</text><path d="M592.2 772.3H615.7" stroke="#ff00ff" stroke-width="1.15"/><text x="618.0" y="777.5">GA</text><path d="M446.1 797.2H469.6" stroke="#ffff00" stroke-width="1.15"/><text x="471.9" y="802.4">ACO</text><path d="M526.0 797.2H549.5" stroke="#0000ff" stroke-width="1.15"/><text x="551.9" y="802.4">KH</text><path d="M592.2 797.2H615.7" stroke="#33b07a" stroke-width="1.15"/><text x="618.0" y="802.4">HS</text><path d="M446.1 822.0H469.6" stroke="#b22200" stroke-width="1.15"/><text x="471.9" y="827.2">PSO</text><path d="M526.0 822.0H549.5" stroke="#ccc000" stroke-width="1.15"/><text x="551.9" y="827.2">SPO</text><path d="M592.2 822.0H615.7" stroke="#ff9500" stroke-width="1.15"/><text x="618.0" y="827.2">HO</text></g>
</svg>
</body></html>
